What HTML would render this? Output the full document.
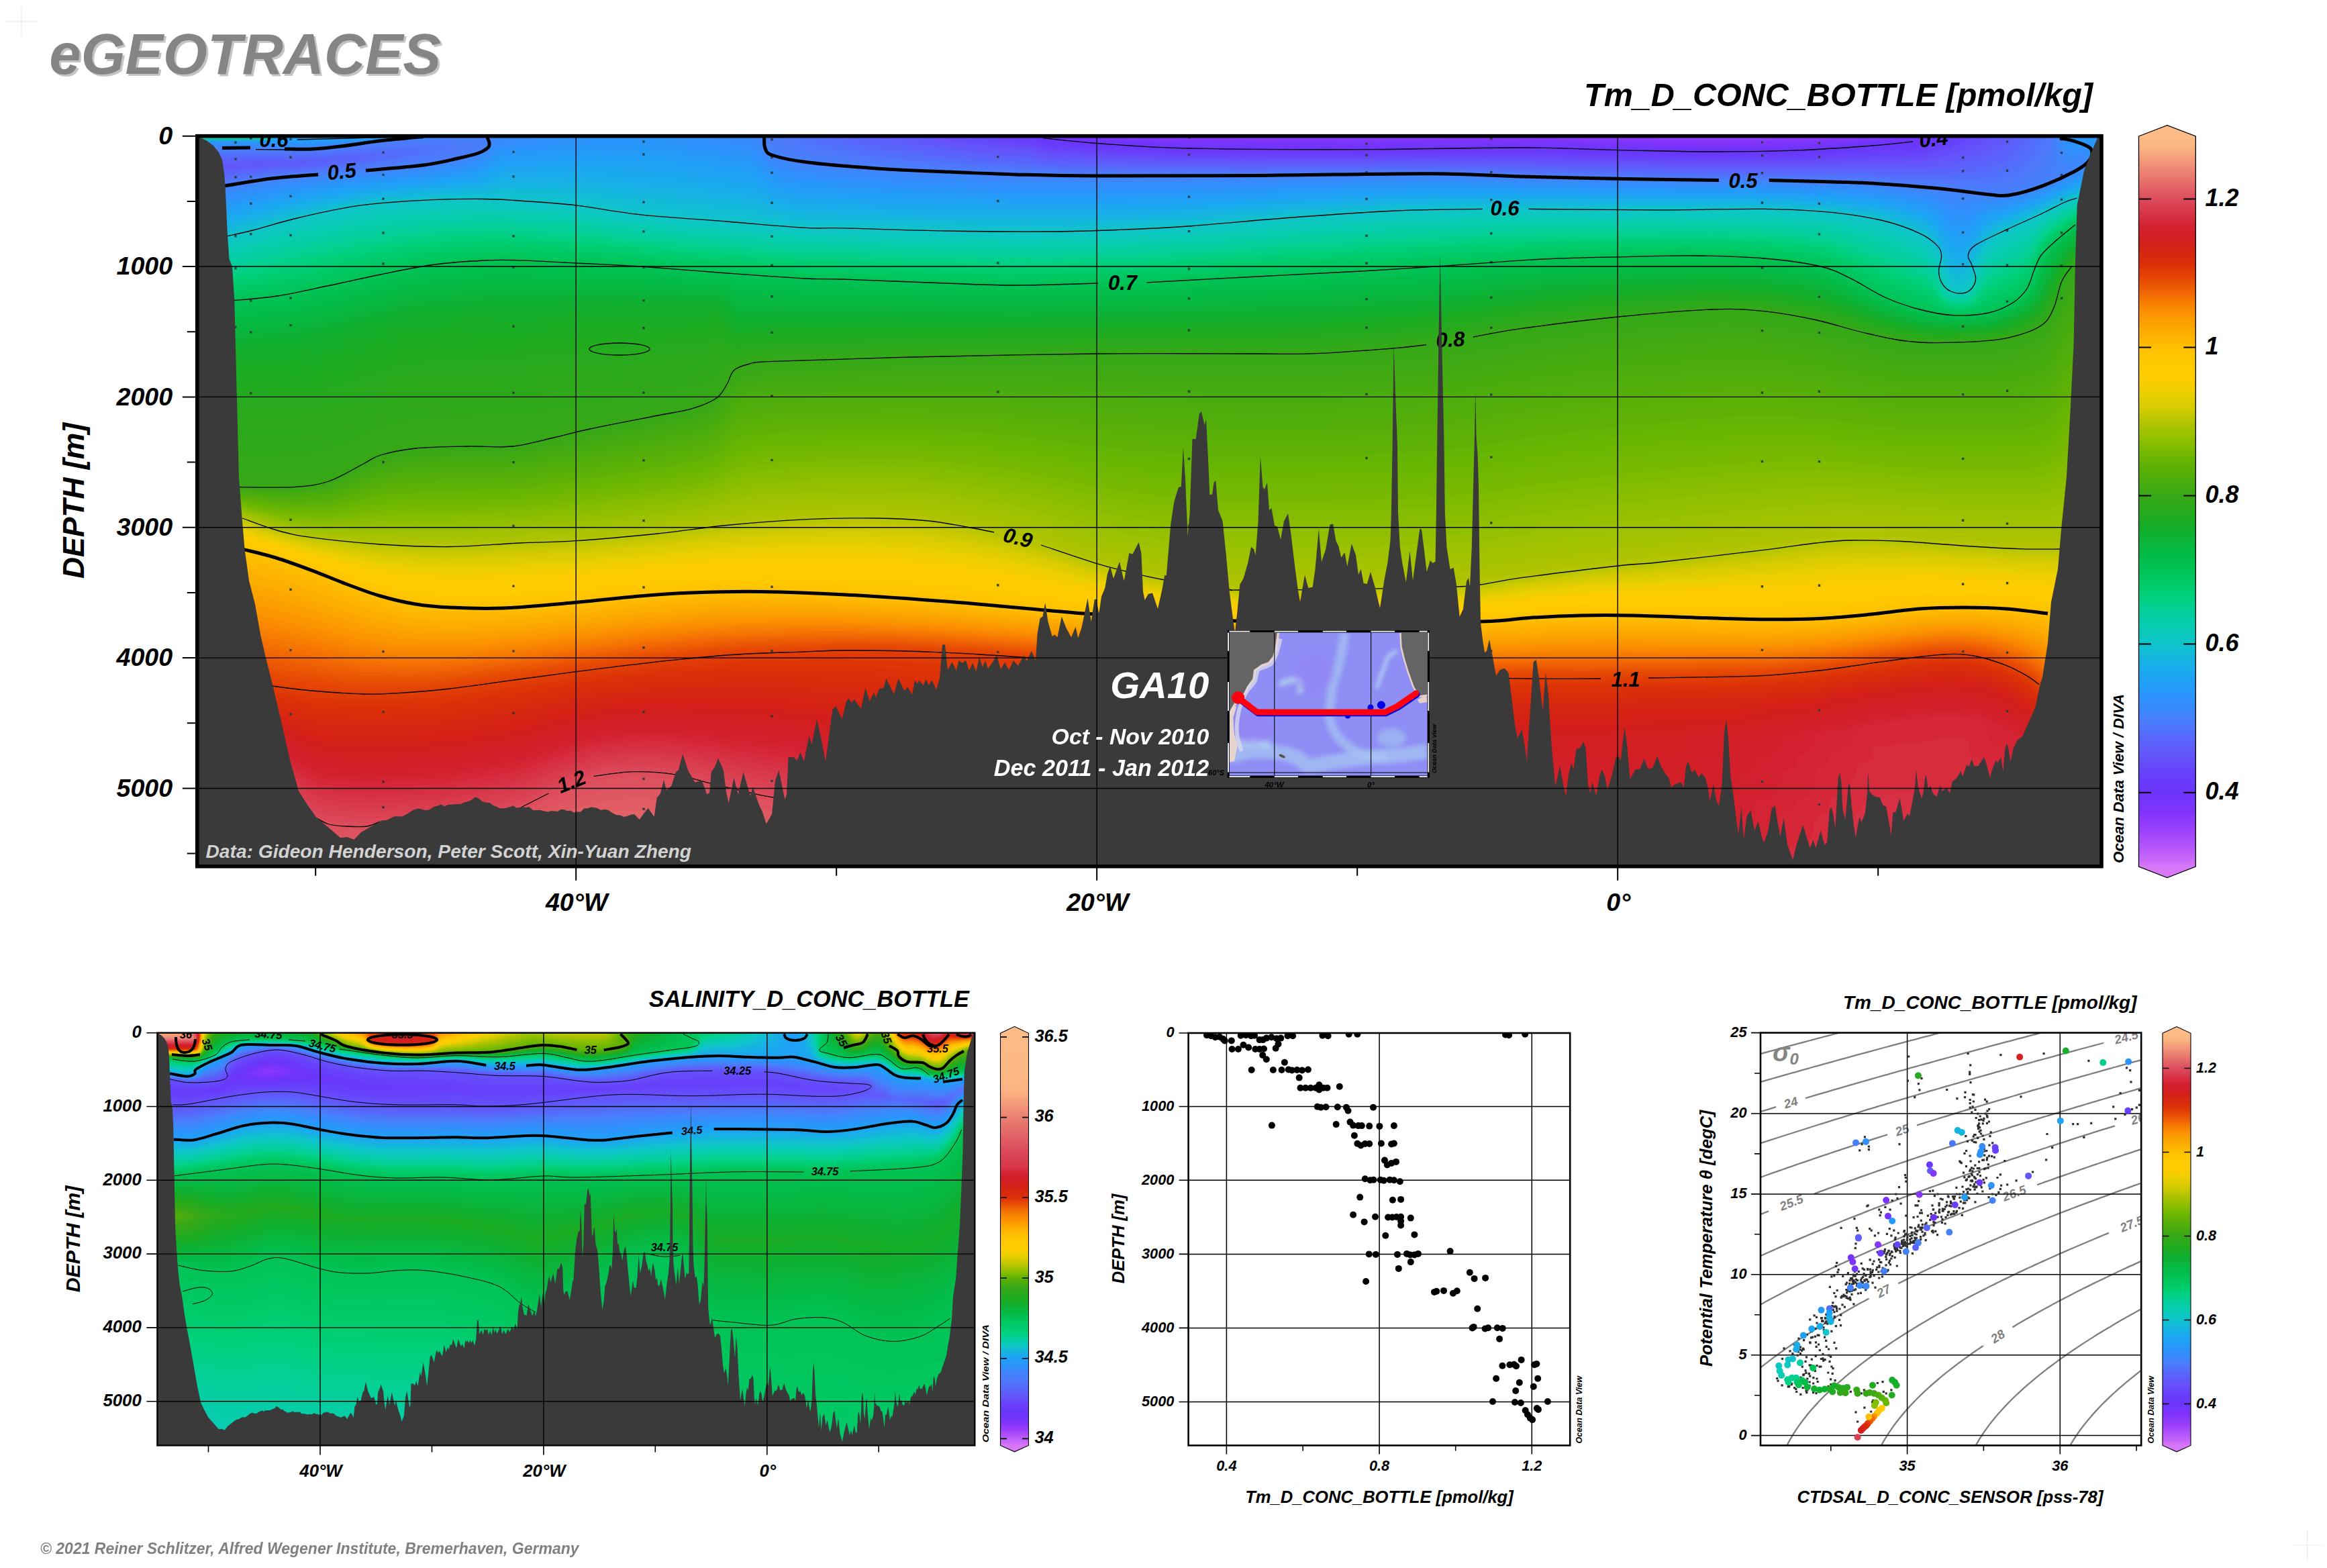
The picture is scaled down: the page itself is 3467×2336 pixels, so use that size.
<!DOCTYPE html><html><head><meta charset="utf-8"><title>eGEOTRACES</title><style>html,body{margin:0;padding:0;background:#fff}svg{display:block}</style></head><body><svg width="3467" height="2336" viewBox="0 0 3467 2336" font-family="'Liberation Sans', sans-serif" font-weight="bold" font-style="italic"><defs><filter id="pal" x="0" y="0" width="1" height="1" color-interpolation-filters="sRGB"><feGaussianBlur stdDeviation="9 2"/><feComponentTransfer><feFuncR type="table" tableValues="0.847 0.805 0.776 0.747 0.718 0.691 0.664 0.637 0.609 0.582 0.555 0.528 0.501 0.482 0.464 0.445 0.426 0.42 0.416 0.412 0.408 0.404 0.4 0.396 0.392 0.381 0.369 0.358 0.346 0.33 0.315 0.299 0.283 0.259 0.235 0.212 0.188 0.173 0.157 0.142 0.126 0.118 0.11 0.102 0.094 0.087 0.08 0.073 0.066 0.058 0.049 0.041 0.032 0.028 0.024 0.02 0.016 0.011 0.007 0.002 0 0 0 0.001 0.004 0.007 0.01 0.013 0.018 0.027 0.036 0.046 0.055 0.066 0.085 0.104 0.123 0.143 0.164 0.184 0.205 0.226 0.249 0.272 0.295 0.318 0.341 0.367 0.395 0.423 0.455 0.492 0.53 0.567 0.605 0.642 0.679 0.721 0.763 0.806 0.843 0.87 0.898 0.926 0.948 0.97 0.992 1 1 1 1 1 1 1 0.998 0.996 0.995 0.993 0.992 0.99 0.989 0.987 0.977 0.968 0.958 0.945 0.931 0.917 0.903 0.889 0.875 0.862 0.855 0.848 0.841 0.833 0.831 0.831 0.831 0.831 0.835 0.84 0.845 0.85 0.855 0.861 0.87 0.881 0.891 0.902 0.913 0.923 0.934 0.945 0.958 0.97 0.983 0.992 0.992 0.992"/><feFuncG type="table" tableValues="0.471 0.429 0.4 0.371 0.342 0.319 0.296 0.272 0.25 0.238 0.227 0.215 0.204 0.204 0.204 0.204 0.204 0.214 0.226 0.239 0.251 0.27 0.29 0.31 0.329 0.349 0.368 0.387 0.406 0.43 0.454 0.478 0.502 0.518 0.533 0.549 0.565 0.58 0.596 0.611 0.627 0.643 0.658 0.674 0.69 0.707 0.725 0.743 0.761 0.774 0.782 0.791 0.799 0.804 0.808 0.812 0.815 0.816 0.816 0.816 0.81 0.801 0.792 0.782 0.773 0.764 0.754 0.745 0.735 0.726 0.717 0.707 0.698 0.689 0.685 0.68 0.675 0.672 0.668 0.665 0.661 0.66 0.666 0.672 0.678 0.683 0.689 0.698 0.707 0.716 0.725 0.735 0.744 0.753 0.758 0.763 0.767 0.775 0.785 0.794 0.802 0.806 0.811 0.816 0.811 0.806 0.802 0.8 0.8 0.8 0.789 0.777 0.765 0.753 0.732 0.711 0.689 0.668 0.643 0.616 0.588 0.558 0.52 0.482 0.444 0.403 0.361 0.32 0.283 0.25 0.218 0.187 0.173 0.158 0.144 0.129 0.125 0.125 0.125 0.125 0.148 0.176 0.204 0.233 0.261 0.29 0.325 0.361 0.398 0.434 0.47 0.506 0.541 0.578 0.616 0.655 0.693 0.723 0.73 0.737"/><feFuncB type="table" tableValues="0.973 0.981 0.984 0.986 0.988 0.988 0.988 0.988 0.988 0.988 0.988 0.988 0.988 0.988 0.988 0.988 0.988 0.988 0.988 0.988 0.988 0.988 0.988 0.988 0.988 0.988 0.988 0.988 0.988 0.988 0.988 0.988 0.988 0.988 0.988 0.988 0.988 0.984 0.98 0.977 0.973 0.957 0.942 0.926 0.91 0.886 0.861 0.836 0.811 0.785 0.759 0.733 0.707 0.68 0.653 0.625 0.598 0.561 0.523 0.486 0.454 0.426 0.398 0.373 0.354 0.335 0.316 0.297 0.279 0.26 0.241 0.222 0.203 0.184 0.166 0.147 0.128 0.12 0.113 0.106 0.099 0.091 0.079 0.068 0.057 0.045 0.034 0.024 0.015 0.005 0 0 0 0 0 0 0 0 0 0 0 0 0 0 0 0 0 0 0 0 0 0 0 0 0 0 0 0 0 0 0 0.001 0.006 0.01 0.015 0.016 0.016 0.016 0.018 0.023 0.027 0.033 0.047 0.061 0.076 0.09 0.111 0.135 0.159 0.183 0.212 0.243 0.274 0.302 0.328 0.354 0.372 0.388 0.404 0.418 0.433 0.447 0.461 0.474 0.483 0.493 0.503 0.513 0.523 0.533"/></feComponentTransfer></filter><filter id="pal2" x="0" y="0" width="1" height="1" color-interpolation-filters="sRGB"><feGaussianBlur stdDeviation="5 1"/><feComponentTransfer><feFuncR type="table" tableValues="0.847 0.805 0.776 0.747 0.718 0.691 0.664 0.637 0.609 0.582 0.555 0.528 0.501 0.482 0.464 0.445 0.426 0.42 0.416 0.412 0.408 0.404 0.4 0.396 0.392 0.381 0.369 0.358 0.346 0.33 0.315 0.299 0.283 0.259 0.235 0.212 0.188 0.173 0.157 0.142 0.126 0.118 0.11 0.102 0.094 0.087 0.08 0.073 0.066 0.058 0.049 0.041 0.032 0.028 0.024 0.02 0.016 0.011 0.007 0.002 0 0 0 0.001 0.004 0.007 0.01 0.013 0.018 0.027 0.036 0.046 0.055 0.066 0.085 0.104 0.123 0.143 0.164 0.184 0.205 0.226 0.249 0.272 0.295 0.318 0.341 0.367 0.395 0.423 0.455 0.492 0.53 0.567 0.605 0.642 0.679 0.721 0.763 0.806 0.843 0.87 0.898 0.926 0.948 0.97 0.992 1 1 1 1 1 1 1 0.998 0.996 0.995 0.993 0.992 0.99 0.989 0.987 0.977 0.968 0.958 0.945 0.931 0.917 0.903 0.889 0.875 0.862 0.855 0.848 0.841 0.833 0.831 0.831 0.831 0.831 0.835 0.84 0.845 0.85 0.855 0.861 0.87 0.881 0.891 0.902 0.913 0.923 0.934 0.945 0.958 0.97 0.983 0.992 0.992 0.992"/><feFuncG type="table" tableValues="0.471 0.429 0.4 0.371 0.342 0.319 0.296 0.272 0.25 0.238 0.227 0.215 0.204 0.204 0.204 0.204 0.204 0.214 0.226 0.239 0.251 0.27 0.29 0.31 0.329 0.349 0.368 0.387 0.406 0.43 0.454 0.478 0.502 0.518 0.533 0.549 0.565 0.58 0.596 0.611 0.627 0.643 0.658 0.674 0.69 0.707 0.725 0.743 0.761 0.774 0.782 0.791 0.799 0.804 0.808 0.812 0.815 0.816 0.816 0.816 0.81 0.801 0.792 0.782 0.773 0.764 0.754 0.745 0.735 0.726 0.717 0.707 0.698 0.689 0.685 0.68 0.675 0.672 0.668 0.665 0.661 0.66 0.666 0.672 0.678 0.683 0.689 0.698 0.707 0.716 0.725 0.735 0.744 0.753 0.758 0.763 0.767 0.775 0.785 0.794 0.802 0.806 0.811 0.816 0.811 0.806 0.802 0.8 0.8 0.8 0.789 0.777 0.765 0.753 0.732 0.711 0.689 0.668 0.643 0.616 0.588 0.558 0.52 0.482 0.444 0.403 0.361 0.32 0.283 0.25 0.218 0.187 0.173 0.158 0.144 0.129 0.125 0.125 0.125 0.125 0.148 0.176 0.204 0.233 0.261 0.29 0.325 0.361 0.398 0.434 0.47 0.506 0.541 0.578 0.616 0.655 0.693 0.723 0.73 0.737"/><feFuncB type="table" tableValues="0.973 0.981 0.984 0.986 0.988 0.988 0.988 0.988 0.988 0.988 0.988 0.988 0.988 0.988 0.988 0.988 0.988 0.988 0.988 0.988 0.988 0.988 0.988 0.988 0.988 0.988 0.988 0.988 0.988 0.988 0.988 0.988 0.988 0.988 0.988 0.988 0.988 0.984 0.98 0.977 0.973 0.957 0.942 0.926 0.91 0.886 0.861 0.836 0.811 0.785 0.759 0.733 0.707 0.68 0.653 0.625 0.598 0.561 0.523 0.486 0.454 0.426 0.398 0.373 0.354 0.335 0.316 0.297 0.279 0.26 0.241 0.222 0.203 0.184 0.166 0.147 0.128 0.12 0.113 0.106 0.099 0.091 0.079 0.068 0.057 0.045 0.034 0.024 0.015 0.005 0 0 0 0 0 0 0 0 0 0 0 0 0 0 0 0 0 0 0 0 0 0 0 0 0 0 0 0 0 0 0 0.001 0.006 0.01 0.015 0.016 0.016 0.016 0.018 0.023 0.027 0.033 0.047 0.061 0.076 0.09 0.111 0.135 0.159 0.183 0.212 0.243 0.274 0.302 0.328 0.354 0.372 0.388 0.404 0.418 0.433 0.447 0.461 0.474 0.483 0.493 0.503 0.513 0.523 0.533"/></feComponentTransfer></filter><filter id="palnb" x="0" y="0" width="1" height="1" color-interpolation-filters="sRGB"><feComponentTransfer><feFuncR type="table" tableValues="0.847 0.805 0.776 0.747 0.718 0.691 0.664 0.637 0.609 0.582 0.555 0.528 0.501 0.482 0.464 0.445 0.426 0.42 0.416 0.412 0.408 0.404 0.4 0.396 0.392 0.381 0.369 0.358 0.346 0.33 0.315 0.299 0.283 0.259 0.235 0.212 0.188 0.173 0.157 0.142 0.126 0.118 0.11 0.102 0.094 0.087 0.08 0.073 0.066 0.058 0.049 0.041 0.032 0.028 0.024 0.02 0.016 0.011 0.007 0.002 0 0 0 0.001 0.004 0.007 0.01 0.013 0.018 0.027 0.036 0.046 0.055 0.066 0.085 0.104 0.123 0.143 0.164 0.184 0.205 0.226 0.249 0.272 0.295 0.318 0.341 0.367 0.395 0.423 0.455 0.492 0.53 0.567 0.605 0.642 0.679 0.721 0.763 0.806 0.843 0.87 0.898 0.926 0.948 0.97 0.992 1 1 1 1 1 1 1 0.998 0.996 0.995 0.993 0.992 0.99 0.989 0.987 0.977 0.968 0.958 0.945 0.931 0.917 0.903 0.889 0.875 0.862 0.855 0.848 0.841 0.833 0.831 0.831 0.831 0.831 0.835 0.84 0.845 0.85 0.855 0.861 0.87 0.881 0.891 0.902 0.913 0.923 0.934 0.945 0.958 0.97 0.983 0.992 0.992 0.992"/><feFuncG type="table" tableValues="0.471 0.429 0.4 0.371 0.342 0.319 0.296 0.272 0.25 0.238 0.227 0.215 0.204 0.204 0.204 0.204 0.204 0.214 0.226 0.239 0.251 0.27 0.29 0.31 0.329 0.349 0.368 0.387 0.406 0.43 0.454 0.478 0.502 0.518 0.533 0.549 0.565 0.58 0.596 0.611 0.627 0.643 0.658 0.674 0.69 0.707 0.725 0.743 0.761 0.774 0.782 0.791 0.799 0.804 0.808 0.812 0.815 0.816 0.816 0.816 0.81 0.801 0.792 0.782 0.773 0.764 0.754 0.745 0.735 0.726 0.717 0.707 0.698 0.689 0.685 0.68 0.675 0.672 0.668 0.665 0.661 0.66 0.666 0.672 0.678 0.683 0.689 0.698 0.707 0.716 0.725 0.735 0.744 0.753 0.758 0.763 0.767 0.775 0.785 0.794 0.802 0.806 0.811 0.816 0.811 0.806 0.802 0.8 0.8 0.8 0.789 0.777 0.765 0.753 0.732 0.711 0.689 0.668 0.643 0.616 0.588 0.558 0.52 0.482 0.444 0.403 0.361 0.32 0.283 0.25 0.218 0.187 0.173 0.158 0.144 0.129 0.125 0.125 0.125 0.125 0.148 0.176 0.204 0.233 0.261 0.29 0.325 0.361 0.398 0.434 0.47 0.506 0.541 0.578 0.616 0.655 0.693 0.723 0.73 0.737"/><feFuncB type="table" tableValues="0.973 0.981 0.984 0.986 0.988 0.988 0.988 0.988 0.988 0.988 0.988 0.988 0.988 0.988 0.988 0.988 0.988 0.988 0.988 0.988 0.988 0.988 0.988 0.988 0.988 0.988 0.988 0.988 0.988 0.988 0.988 0.988 0.988 0.988 0.988 0.988 0.988 0.984 0.98 0.977 0.973 0.957 0.942 0.926 0.91 0.886 0.861 0.836 0.811 0.785 0.759 0.733 0.707 0.68 0.653 0.625 0.598 0.561 0.523 0.486 0.454 0.426 0.398 0.373 0.354 0.335 0.316 0.297 0.279 0.26 0.241 0.222 0.203 0.184 0.166 0.147 0.128 0.12 0.113 0.106 0.099 0.091 0.079 0.068 0.057 0.045 0.034 0.024 0.015 0.005 0 0 0 0 0 0 0 0 0 0 0 0 0 0 0 0 0 0 0 0 0 0 0 0 0 0 0 0 0 0 0 0.001 0.006 0.01 0.015 0.016 0.016 0.016 0.018 0.023 0.027 0.033 0.047 0.061 0.076 0.09 0.111 0.135 0.159 0.183 0.212 0.243 0.274 0.302 0.328 0.354 0.372 0.388 0.404 0.418 0.433 0.447 0.461 0.474 0.483 0.493 0.503 0.513 0.523 0.533"/></feComponentTransfer></filter><linearGradient id="m0" x1="0" y1="0" x2="0" y2="1"><stop offset=".004" stop-color="#4e4e4e"/><stop offset=".008" stop-color="#434343"/><stop offset=".022" stop-color="#343434"/><stop offset=".047" stop-color="#272727"/><stop offset=".073" stop-color="#343434"/><stop offset=".152" stop-color="#4e4e4e"/><stop offset=".231" stop-color="#686868"/><stop offset=".298" stop-color="#767676"/><stop offset=".380" stop-color="#7d7d7d"/><stop offset=".479" stop-color="#818181"/><stop offset=".501" stop-color="#9b9b9b"/><stop offset=".547" stop-color="#b5b5b5"/><stop offset=".728" stop-color="#cfcfcf"/><stop offset=".837" stop-color="#e9e9e9"/><stop offset="1" stop-color="#f2f2f2"/></linearGradient><linearGradient id="m1" x1="0" y1="0" x2="0" y2="1"><stop offset=".004" stop-color="#4e4e4e"/><stop offset=".008" stop-color="#434343"/><stop offset=".022" stop-color="#343434"/><stop offset=".047" stop-color="#272727"/><stop offset=".073" stop-color="#343434"/><stop offset=".152" stop-color="#4e4e4e"/><stop offset=".231" stop-color="#686868"/><stop offset=".298" stop-color="#767676"/><stop offset=".380" stop-color="#7d7d7d"/><stop offset=".479" stop-color="#818181"/><stop offset=".502" stop-color="#9b9b9b"/><stop offset=".547" stop-color="#b5b5b5"/><stop offset=".728" stop-color="#cfcfcf"/><stop offset=".838" stop-color="#e9e9e9"/><stop offset="1" stop-color="#f2f2f2"/></linearGradient><linearGradient id="m2" x1="0" y1="0" x2="0" y2="1"><stop offset=".004" stop-color="#4e4e4e"/><stop offset=".008" stop-color="#434343"/><stop offset=".022" stop-color="#343434"/><stop offset=".047" stop-color="#272727"/><stop offset=".073" stop-color="#343434"/><stop offset=".148" stop-color="#4e4e4e"/><stop offset=".230" stop-color="#686868"/><stop offset=".297" stop-color="#767676"/><stop offset=".379" stop-color="#7d7d7d"/><stop offset=".479" stop-color="#818181"/><stop offset=".507" stop-color="#9b9b9b"/><stop offset=".551" stop-color="#b5b5b5"/><stop offset=".731" stop-color="#cfcfcf"/><stop offset=".844" stop-color="#e9e9e9"/><stop offset="1" stop-color="#f2f2f2"/></linearGradient><linearGradient id="m3" x1="0" y1="0" x2="0" y2="1"><stop offset=".004" stop-color="#4e4e4e"/><stop offset=".008" stop-color="#434343"/><stop offset=".022" stop-color="#343434"/><stop offset=".047" stop-color="#272727"/><stop offset=".073" stop-color="#343434"/><stop offset=".144" stop-color="#4e4e4e"/><stop offset=".229" stop-color="#686868"/><stop offset=".296" stop-color="#767676"/><stop offset=".379" stop-color="#7d7d7d"/><stop offset=".479" stop-color="#818181"/><stop offset=".511" stop-color="#9b9b9b"/><stop offset=".555" stop-color="#b5b5b5"/><stop offset=".734" stop-color="#cfcfcf"/><stop offset=".850" stop-color="#e9e9e9"/><stop offset="1" stop-color="#f2f2f2"/></linearGradient><linearGradient id="m4" x1="0" y1="0" x2="0" y2="1"><stop offset=".004" stop-color="#4e4e4e"/><stop offset=".008" stop-color="#434343"/><stop offset=".021" stop-color="#343434"/><stop offset=".047" stop-color="#272727"/><stop offset=".072" stop-color="#343434"/><stop offset=".141" stop-color="#4e4e4e"/><stop offset=".228" stop-color="#686868"/><stop offset=".296" stop-color="#767676"/><stop offset=".378" stop-color="#7d7d7d"/><stop offset=".479" stop-color="#818181"/><stop offset=".516" stop-color="#9b9b9b"/><stop offset=".558" stop-color="#b5b5b5"/><stop offset=".737" stop-color="#cfcfcf"/><stop offset=".856" stop-color="#e9e9e9"/><stop offset="1" stop-color="#f2f2f2"/></linearGradient><linearGradient id="m5" x1="0" y1="0" x2="0" y2="1"><stop offset=".004" stop-color="#4e4e4e"/><stop offset=".008" stop-color="#434343"/><stop offset=".021" stop-color="#343434"/><stop offset=".045" stop-color="#272727"/><stop offset=".069" stop-color="#343434"/><stop offset=".137" stop-color="#4e4e4e"/><stop offset=".226" stop-color="#686868"/><stop offset=".295" stop-color="#767676"/><stop offset=".378" stop-color="#7d7d7d"/><stop offset=".479" stop-color="#818181"/><stop offset=".520" stop-color="#9b9b9b"/><stop offset=".562" stop-color="#b5b5b5"/><stop offset=".740" stop-color="#cfcfcf"/><stop offset=".861" stop-color="#e9e9e9"/><stop offset="1" stop-color="#f2f2f2"/></linearGradient><linearGradient id="m6" x1="0" y1="0" x2="0" y2="1"><stop offset=".004" stop-color="#4e4e4e"/><stop offset=".008" stop-color="#434343"/><stop offset=".021" stop-color="#343434"/><stop offset=".044" stop-color="#272727"/><stop offset=".067" stop-color="#343434"/><stop offset=".133" stop-color="#4e4e4e"/><stop offset=".225" stop-color="#686868"/><stop offset=".294" stop-color="#767676"/><stop offset=".377" stop-color="#7d7d7d"/><stop offset=".479" stop-color="#818181"/><stop offset=".525" stop-color="#9b9b9b"/><stop offset=".566" stop-color="#b5b5b5"/><stop offset=".743" stop-color="#cfcfcf"/><stop offset=".867" stop-color="#e9e9e9"/><stop offset="1" stop-color="#f2f2f2"/></linearGradient><linearGradient id="m7" x1="0" y1="0" x2="0" y2="1"><stop offset=".004" stop-color="#4e4e4e"/><stop offset=".008" stop-color="#434343"/><stop offset=".022" stop-color="#343434"/><stop offset=".043" stop-color="#272727"/><stop offset=".065" stop-color="#343434"/><stop offset=".129" stop-color="#4e4e4e"/><stop offset=".223" stop-color="#686868"/><stop offset=".292" stop-color="#767676"/><stop offset=".377" stop-color="#7d7d7d"/><stop offset=".479" stop-color="#818181"/><stop offset=".530" stop-color="#9b9b9b"/><stop offset=".570" stop-color="#b5b5b5"/><stop offset=".745" stop-color="#cfcfcf"/><stop offset=".873" stop-color="#e9e9e9"/><stop offset="1" stop-color="#f2f2f2"/></linearGradient><linearGradient id="m8" x1="0" y1="0" x2="0" y2="1"><stop offset=".004" stop-color="#4e4e4e"/><stop offset=".008" stop-color="#434343"/><stop offset=".022" stop-color="#343434"/><stop offset=".042" stop-color="#282828"/><stop offset=".063" stop-color="#343434"/><stop offset=".125" stop-color="#4e4e4e"/><stop offset=".222" stop-color="#686868"/><stop offset=".291" stop-color="#767676"/><stop offset=".376" stop-color="#7d7d7d"/><stop offset=".479" stop-color="#818181"/><stop offset=".535" stop-color="#9b9b9b"/><stop offset=".573" stop-color="#b5b5b5"/><stop offset=".748" stop-color="#cfcfcf"/><stop offset=".881" stop-color="#e9e9e9"/><stop offset="1" stop-color="#f2f2f2"/></linearGradient><linearGradient id="m9" x1="0" y1="0" x2="0" y2="1"><stop offset=".004" stop-color="#4e4e4e"/><stop offset=".008" stop-color="#434343"/><stop offset=".023" stop-color="#343434"/><stop offset=".042" stop-color="#282828"/><stop offset=".061" stop-color="#343434"/><stop offset=".121" stop-color="#4e4e4e"/><stop offset=".220" stop-color="#686868"/><stop offset=".290" stop-color="#767676"/><stop offset=".375" stop-color="#7d7d7d"/><stop offset=".479" stop-color="#818181"/><stop offset=".539" stop-color="#9b9b9b"/><stop offset=".578" stop-color="#b5b5b5"/><stop offset=".749" stop-color="#cfcfcf"/><stop offset=".892" stop-color="#e9e9e9"/><stop offset="1" stop-color="#f2f2f2"/></linearGradient><linearGradient id="m10" x1="0" y1="0" x2="0" y2="1"><stop offset=".004" stop-color="#4e4e4e"/><stop offset=".008" stop-color="#434343"/><stop offset=".023" stop-color="#343434"/><stop offset=".042" stop-color="#282828"/><stop offset=".060" stop-color="#343434"/><stop offset=".117" stop-color="#4e4e4e"/><stop offset=".217" stop-color="#686868"/><stop offset=".288" stop-color="#767676"/><stop offset=".374" stop-color="#7d7d7d"/><stop offset=".479" stop-color="#818181"/><stop offset=".542" stop-color="#9b9b9b"/><stop offset=".583" stop-color="#b5b5b5"/><stop offset=".751" stop-color="#cfcfcf"/><stop offset=".903" stop-color="#e9e9e9"/><stop offset="1" stop-color="#f2f2f2"/></linearGradient><linearGradient id="m11" x1="0" y1="0" x2="0" y2="1"><stop offset=".004" stop-color="#4e4e4e"/><stop offset=".008" stop-color="#434343"/><stop offset=".023" stop-color="#343434"/><stop offset=".041" stop-color="#282828"/><stop offset=".059" stop-color="#343434"/><stop offset=".114" stop-color="#4e4e4e"/><stop offset=".214" stop-color="#686868"/><stop offset=".285" stop-color="#767676"/><stop offset=".372" stop-color="#7d7d7d"/><stop offset=".477" stop-color="#818181"/><stop offset=".545" stop-color="#9b9b9b"/><stop offset=".588" stop-color="#b5b5b5"/><stop offset=".753" stop-color="#cfcfcf"/><stop offset=".915" stop-color="#e9e9e9"/><stop offset="1" stop-color="#f1f1f1"/></linearGradient><linearGradient id="m12" x1="0" y1="0" x2="0" y2="1"><stop offset=".004" stop-color="#4e4e4e"/><stop offset=".008" stop-color="#434343"/><stop offset=".023" stop-color="#343434"/><stop offset=".040" stop-color="#292929"/><stop offset=".058" stop-color="#343434"/><stop offset=".111" stop-color="#4e4e4e"/><stop offset=".211" stop-color="#686868"/><stop offset=".282" stop-color="#767676"/><stop offset=".369" stop-color="#7d7d7d"/><stop offset=".474" stop-color="#818181"/><stop offset=".548" stop-color="#9b9b9b"/><stop offset=".593" stop-color="#b5b5b5"/><stop offset=".754" stop-color="#cfcfcf"/><stop offset=".927" stop-color="#e9e9e9"/><stop offset="1" stop-color="#f0f0f0"/></linearGradient><linearGradient id="m13" x1="0" y1="0" x2="0" y2="1"><stop offset=".004" stop-color="#4e4e4e"/><stop offset=".008" stop-color="#434343"/><stop offset=".021" stop-color="#343434"/><stop offset=".039" stop-color="#2a2a2a"/><stop offset=".056" stop-color="#343434"/><stop offset=".108" stop-color="#4e4e4e"/><stop offset=".208" stop-color="#686868"/><stop offset=".279" stop-color="#767676"/><stop offset=".366" stop-color="#7d7d7d"/><stop offset=".472" stop-color="#818181"/><stop offset=".549" stop-color="#9b9b9b"/><stop offset=".599" stop-color="#b5b5b5"/><stop offset=".755" stop-color="#cfcfcf"/><stop offset=".933" stop-color="#e9e9e9"/><stop offset="1" stop-color="#efefef"/></linearGradient><linearGradient id="m14" x1="0" y1="0" x2="0" y2="1"><stop offset=".004" stop-color="#4e4e4e"/><stop offset=".008" stop-color="#434343"/><stop offset=".020" stop-color="#343434"/><stop offset=".037" stop-color="#2a2a2a"/><stop offset=".055" stop-color="#343434"/><stop offset=".105" stop-color="#4e4e4e"/><stop offset=".205" stop-color="#686868"/><stop offset=".275" stop-color="#767676"/><stop offset=".362" stop-color="#7d7d7d"/><stop offset=".466" stop-color="#818181"/><stop offset=".550" stop-color="#9b9b9b"/><stop offset=".605" stop-color="#b5b5b5"/><stop offset=".756" stop-color="#cfcfcf"/><stop offset=".934" stop-color="#e9e9e9"/><stop offset="1" stop-color="#efefef"/></linearGradient><linearGradient id="m15" x1="0" y1="0" x2="0" y2="1"><stop offset=".004" stop-color="#4e4e4e"/><stop offset=".008" stop-color="#434343"/><stop offset=".018" stop-color="#343434"/><stop offset=".036" stop-color="#2b2b2b"/><stop offset=".054" stop-color="#343434"/><stop offset=".102" stop-color="#4e4e4e"/><stop offset=".202" stop-color="#686868"/><stop offset=".271" stop-color="#767676"/><stop offset=".356" stop-color="#7d7d7d"/><stop offset=".459" stop-color="#818181"/><stop offset=".552" stop-color="#9b9b9b"/><stop offset=".611" stop-color="#b5b5b5"/><stop offset=".757" stop-color="#cfcfcf"/><stop offset=".935" stop-color="#e9e9e9"/><stop offset="1" stop-color="#efefef"/></linearGradient><linearGradient id="m16" x1="0" y1="0" x2="0" y2="1"><stop offset=".004" stop-color="#4e4e4e"/><stop offset=".008" stop-color="#434343"/><stop offset=".016" stop-color="#343434"/><stop offset=".034" stop-color="#2b2b2b"/><stop offset=".053" stop-color="#343434"/><stop offset=".100" stop-color="#4e4e4e"/><stop offset=".199" stop-color="#686868"/><stop offset=".267" stop-color="#767676"/><stop offset=".350" stop-color="#7d7d7d"/><stop offset=".451" stop-color="#818181"/><stop offset=".553" stop-color="#9b9b9b"/><stop offset=".616" stop-color="#b5b5b5"/><stop offset=".758" stop-color="#cfcfcf"/><stop offset=".936" stop-color="#e9e9e9"/><stop offset="1" stop-color="#efefef"/></linearGradient><linearGradient id="m17" x1="0" y1="0" x2="0" y2="1"><stop offset=".004" stop-color="#4e4e4e"/><stop offset=".008" stop-color="#434343"/><stop offset=".014" stop-color="#343434"/><stop offset=".033" stop-color="#2c2c2c"/><stop offset=".051" stop-color="#343434"/><stop offset=".098" stop-color="#4e4e4e"/><stop offset=".196" stop-color="#686868"/><stop offset=".263" stop-color="#767676"/><stop offset=".345" stop-color="#7d7d7d"/><stop offset=".444" stop-color="#818181"/><stop offset=".555" stop-color="#9b9b9b"/><stop offset=".621" stop-color="#b5b5b5"/><stop offset=".758" stop-color="#cfcfcf"/><stop offset=".937" stop-color="#e9e9e9"/><stop offset="1" stop-color="#eeeeee"/></linearGradient><linearGradient id="m18" x1="0" y1="0" x2="0" y2="1"><stop offset=".004" stop-color="#4e4e4e"/><stop offset=".008" stop-color="#434343"/><stop offset=".012" stop-color="#343434"/><stop offset=".031" stop-color="#2d2d2d"/><stop offset=".050" stop-color="#343434"/><stop offset=".096" stop-color="#4e4e4e"/><stop offset=".193" stop-color="#686868"/><stop offset=".258" stop-color="#767676"/><stop offset=".339" stop-color="#7d7d7d"/><stop offset=".437" stop-color="#818181"/><stop offset=".556" stop-color="#9b9b9b"/><stop offset=".626" stop-color="#b5b5b5"/><stop offset=".758" stop-color="#cfcfcf"/><stop offset=".936" stop-color="#e9e9e9"/><stop offset="1" stop-color="#efefef"/></linearGradient><linearGradient id="m19" x1="0" y1="0" x2="0" y2="1"><stop offset=".004" stop-color="#4e4e4e"/><stop offset=".008" stop-color="#434343"/><stop offset=".011" stop-color="#343434"/><stop offset=".030" stop-color="#2d2d2d"/><stop offset=".049" stop-color="#343434"/><stop offset=".095" stop-color="#4e4e4e"/><stop offset=".190" stop-color="#686868"/><stop offset=".256" stop-color="#767676"/><stop offset=".336" stop-color="#7d7d7d"/><stop offset=".433" stop-color="#818181"/><stop offset=".557" stop-color="#9b9b9b"/><stop offset=".629" stop-color="#b5b5b5"/><stop offset=".757" stop-color="#cfcfcf"/><stop offset=".935" stop-color="#e9e9e9"/><stop offset="1" stop-color="#efefef"/></linearGradient><linearGradient id="m20" x1="0" y1="0" x2="0" y2="1"><stop offset=".004" stop-color="#4e4e4e"/><stop offset=".008" stop-color="#434343"/><stop offset=".009" stop-color="#343434"/><stop offset=".028" stop-color="#2e2e2e"/><stop offset=".047" stop-color="#343434"/><stop offset=".094" stop-color="#4e4e4e"/><stop offset=".187" stop-color="#686868"/><stop offset=".253" stop-color="#767676"/><stop offset=".333" stop-color="#7d7d7d"/><stop offset=".431" stop-color="#818181"/><stop offset=".557" stop-color="#9b9b9b"/><stop offset=".633" stop-color="#b5b5b5"/><stop offset=".757" stop-color="#cfcfcf"/><stop offset=".935" stop-color="#e9e9e9"/><stop offset="1" stop-color="#efefef"/></linearGradient><linearGradient id="m21" x1="0" y1="0" x2="0" y2="1"><stop offset=".004" stop-color="#4e4e4e"/><stop offset=".008" stop-color="#434343"/><stop offset=".008" stop-color="#343434"/><stop offset=".027" stop-color="#2f2f2f"/><stop offset=".046" stop-color="#343434"/><stop offset=".093" stop-color="#4e4e4e"/><stop offset=".184" stop-color="#686868"/><stop offset=".250" stop-color="#767676"/><stop offset=".330" stop-color="#7d7d7d"/><stop offset=".428" stop-color="#818181"/><stop offset=".558" stop-color="#9b9b9b"/><stop offset=".636" stop-color="#b5b5b5"/><stop offset=".756" stop-color="#cfcfcf"/><stop offset=".934" stop-color="#e9e9e9"/><stop offset="1" stop-color="#efefef"/></linearGradient><linearGradient id="m22" x1="0" y1="0" x2="0" y2="1"><stop offset=".004" stop-color="#4e4e4e"/><stop offset=".008" stop-color="#434343"/><stop offset=".006" stop-color="#343434"/><stop offset=".025" stop-color="#2f2f2f"/><stop offset=".045" stop-color="#343434"/><stop offset=".092" stop-color="#4e4e4e"/><stop offset=".182" stop-color="#686868"/><stop offset=".248" stop-color="#767676"/><stop offset=".329" stop-color="#7d7d7d"/><stop offset=".427" stop-color="#818181"/><stop offset=".558" stop-color="#9b9b9b"/><stop offset=".638" stop-color="#b5b5b5"/><stop offset=".754" stop-color="#cfcfcf"/><stop offset=".933" stop-color="#e9e9e9"/><stop offset="1" stop-color="#efefef"/></linearGradient><linearGradient id="m23" x1="0" y1="0" x2="0" y2="1"><stop offset=".005" stop-color="#343434"/><stop offset=".024" stop-color="#303030"/><stop offset=".042" stop-color="#343434"/><stop offset=".091" stop-color="#4e4e4e"/><stop offset=".179" stop-color="#686868"/><stop offset=".246" stop-color="#767676"/><stop offset=".327" stop-color="#7d7d7d"/><stop offset=".426" stop-color="#818181"/><stop offset=".559" stop-color="#9b9b9b"/><stop offset=".639" stop-color="#b5b5b5"/><stop offset=".753" stop-color="#cfcfcf"/><stop offset=".933" stop-color="#e9e9e9"/><stop offset="1" stop-color="#efefef"/></linearGradient><linearGradient id="m24" x1="0" y1="0" x2="0" y2="1"><stop offset=".005" stop-color="#343434"/><stop offset=".022" stop-color="#303030"/><stop offset=".039" stop-color="#343434"/><stop offset=".091" stop-color="#4e4e4e"/><stop offset=".178" stop-color="#686868"/><stop offset=".245" stop-color="#767676"/><stop offset=".326" stop-color="#7d7d7d"/><stop offset=".425" stop-color="#818181"/><stop offset=".559" stop-color="#9b9b9b"/><stop offset=".641" stop-color="#b5b5b5"/><stop offset=".752" stop-color="#cfcfcf"/><stop offset=".930" stop-color="#e9e9e9"/><stop offset="1" stop-color="#efefef"/></linearGradient><linearGradient id="m25" x1="0" y1="0" x2="0" y2="1"><stop offset=".005" stop-color="#343434"/><stop offset=".021" stop-color="#313131"/><stop offset=".036" stop-color="#343434"/><stop offset=".091" stop-color="#4e4e4e"/><stop offset=".177" stop-color="#686868"/><stop offset=".244" stop-color="#767676"/><stop offset=".326" stop-color="#7d7d7d"/><stop offset=".425" stop-color="#818181"/><stop offset=".559" stop-color="#9b9b9b"/><stop offset=".642" stop-color="#b5b5b5"/><stop offset=".750" stop-color="#cfcfcf"/><stop offset=".928" stop-color="#e9e9e9"/><stop offset="1" stop-color="#efefef"/></linearGradient><linearGradient id="m26" x1="0" y1="0" x2="0" y2="1"><stop offset=".005" stop-color="#343434"/><stop offset=".019" stop-color="#323232"/><stop offset=".033" stop-color="#343434"/><stop offset=".091" stop-color="#4e4e4e"/><stop offset=".175" stop-color="#686868"/><stop offset=".243" stop-color="#767676"/><stop offset=".325" stop-color="#7d7d7d"/><stop offset=".424" stop-color="#818181"/><stop offset=".558" stop-color="#9b9b9b"/><stop offset=".642" stop-color="#b5b5b5"/><stop offset=".748" stop-color="#cfcfcf"/><stop offset=".925" stop-color="#e9e9e9"/><stop offset="1" stop-color="#f0f0f0"/></linearGradient><linearGradient id="m27" x1="0" y1="0" x2="0" y2="1"><stop offset=".005" stop-color="#343434"/><stop offset=".017" stop-color="#323232"/><stop offset=".029" stop-color="#343434"/><stop offset=".091" stop-color="#4e4e4e"/><stop offset=".174" stop-color="#686868"/><stop offset=".242" stop-color="#767676"/><stop offset=".324" stop-color="#7d7d7d"/><stop offset=".424" stop-color="#818181"/><stop offset=".558" stop-color="#9b9b9b"/><stop offset=".642" stop-color="#b5b5b5"/><stop offset=".746" stop-color="#cfcfcf"/><stop offset=".922" stop-color="#e9e9e9"/><stop offset="1" stop-color="#f0f0f0"/></linearGradient><linearGradient id="m28" x1="0" y1="0" x2="0" y2="1"><stop offset=".005" stop-color="#343434"/><stop offset=".011" stop-color="#333333"/><stop offset=".018" stop-color="#343434"/><stop offset=".091" stop-color="#4e4e4e"/><stop offset=".173" stop-color="#686868"/><stop offset=".241" stop-color="#767676"/><stop offset=".324" stop-color="#7d7d7d"/><stop offset=".424" stop-color="#818181"/><stop offset=".557" stop-color="#9b9b9b"/><stop offset=".642" stop-color="#b5b5b5"/><stop offset=".744" stop-color="#cfcfcf"/><stop offset=".920" stop-color="#e9e9e9"/><stop offset="1" stop-color="#f0f0f0"/></linearGradient><linearGradient id="m29" x1="0" y1="0" x2="0" y2="1"><stop offset=".005" stop-color="#363636"/><stop offset=".091" stop-color="#4e4e4e"/><stop offset=".173" stop-color="#686868"/><stop offset=".241" stop-color="#767676"/><stop offset=".324" stop-color="#7d7d7d"/><stop offset=".424" stop-color="#818181"/><stop offset=".556" stop-color="#9b9b9b"/><stop offset=".642" stop-color="#b5b5b5"/><stop offset=".742" stop-color="#cfcfcf"/><stop offset=".917" stop-color="#e9e9e9"/><stop offset="1" stop-color="#f0f0f0"/></linearGradient><linearGradient id="m30" x1="0" y1="0" x2="0" y2="1"><stop offset=".005" stop-color="#363636"/><stop offset=".092" stop-color="#4e4e4e"/><stop offset=".173" stop-color="#686868"/><stop offset=".241" stop-color="#767676"/><stop offset=".324" stop-color="#7d7d7d"/><stop offset=".424" stop-color="#818181"/><stop offset=".555" stop-color="#9b9b9b"/><stop offset=".642" stop-color="#b5b5b5"/><stop offset=".740" stop-color="#cfcfcf"/><stop offset=".915" stop-color="#e9e9e9"/><stop offset="1" stop-color="#f1f1f1"/></linearGradient><linearGradient id="m31" x1="0" y1="0" x2="0" y2="1"><stop offset=".005" stop-color="#373737"/><stop offset=".093" stop-color="#4e4e4e"/><stop offset=".173" stop-color="#686868"/><stop offset=".240" stop-color="#767676"/><stop offset=".323" stop-color="#7d7d7d"/><stop offset=".422" stop-color="#818181"/><stop offset=".555" stop-color="#9b9b9b"/><stop offset=".641" stop-color="#b5b5b5"/><stop offset=".738" stop-color="#cfcfcf"/><stop offset=".912" stop-color="#e9e9e9"/><stop offset="1" stop-color="#f1f1f1"/></linearGradient><linearGradient id="m32" x1="0" y1="0" x2="0" y2="1"><stop offset=".005" stop-color="#373737"/><stop offset=".094" stop-color="#4e4e4e"/><stop offset=".174" stop-color="#686868"/><stop offset=".240" stop-color="#767676"/><stop offset=".321" stop-color="#7d7d7d"/><stop offset=".419" stop-color="#818181"/><stop offset=".554" stop-color="#9b9b9b"/><stop offset=".640" stop-color="#b5b5b5"/><stop offset=".737" stop-color="#cfcfcf"/><stop offset=".905" stop-color="#e9e9e9"/><stop offset="1" stop-color="#f2f2f2"/></linearGradient><linearGradient id="m33" x1="0" y1="0" x2="0" y2="1"><stop offset=".005" stop-color="#383838"/><stop offset=".095" stop-color="#4e4e4e"/><stop offset=".175" stop-color="#686868"/><stop offset=".240" stop-color="#767676"/><stop offset=".319" stop-color="#7d7d7d"/><stop offset=".416" stop-color="#818181"/><stop offset=".553" stop-color="#9b9b9b"/><stop offset=".638" stop-color="#b5b5b5"/><stop offset=".735" stop-color="#cfcfcf"/><stop offset=".898" stop-color="#e9e9e9"/><stop offset="1" stop-color="#f2f2f2"/></linearGradient><linearGradient id="m34" x1="0" y1="0" x2="0" y2="1"><stop offset=".005" stop-color="#383838"/><stop offset=".096" stop-color="#4e4e4e"/><stop offset=".175" stop-color="#686868"/><stop offset=".239" stop-color="#767676"/><stop offset=".318" stop-color="#7d7d7d"/><stop offset=".413" stop-color="#818181"/><stop offset=".553" stop-color="#9b9b9b"/><stop offset=".637" stop-color="#b5b5b5"/><stop offset=".733" stop-color="#cfcfcf"/><stop offset=".891" stop-color="#e9e9e9"/><stop offset="1" stop-color="#f2f2f2"/></linearGradient><linearGradient id="m35" x1="0" y1="0" x2="0" y2="1"><stop offset=".005" stop-color="#393939"/><stop offset=".097" stop-color="#4e4e4e"/><stop offset=".176" stop-color="#686868"/><stop offset=".239" stop-color="#767676"/><stop offset=".316" stop-color="#7d7d7d"/><stop offset=".410" stop-color="#818181"/><stop offset=".552" stop-color="#9b9b9b"/><stop offset=".636" stop-color="#b5b5b5"/><stop offset=".731" stop-color="#cfcfcf"/><stop offset=".885" stop-color="#e9e9e9"/><stop offset="1" stop-color="#f2f2f2"/></linearGradient><linearGradient id="m36" x1="0" y1="0" x2="0" y2="1"><stop offset=".005" stop-color="#393939"/><stop offset=".099" stop-color="#4e4e4e"/><stop offset=".177" stop-color="#686868"/><stop offset=".239" stop-color="#767676"/><stop offset=".314" stop-color="#7d7d7d"/><stop offset=".406" stop-color="#818181"/><stop offset=".552" stop-color="#9b9b9b"/><stop offset=".635" stop-color="#b5b5b5"/><stop offset=".729" stop-color="#cfcfcf"/><stop offset=".880" stop-color="#e9e9e9"/><stop offset="1" stop-color="#f2f2f2"/></linearGradient><linearGradient id="m37" x1="0" y1="0" x2="0" y2="1"><stop offset=".005" stop-color="#3a3a3a"/><stop offset=".100" stop-color="#4e4e4e"/><stop offset=".177" stop-color="#686868"/><stop offset=".238" stop-color="#767676"/><stop offset=".313" stop-color="#7d7d7d"/><stop offset=".403" stop-color="#818181"/><stop offset=".551" stop-color="#9b9b9b"/><stop offset=".634" stop-color="#b5b5b5"/><stop offset=".727" stop-color="#cfcfcf"/><stop offset=".874" stop-color="#e9e9e9"/><stop offset="1" stop-color="#f2f2f2"/></linearGradient><linearGradient id="m38" x1="0" y1="0" x2="0" y2="1"><stop offset=".005" stop-color="#3a3a3a"/><stop offset=".102" stop-color="#4e4e4e"/><stop offset=".178" stop-color="#686868"/><stop offset=".238" stop-color="#767676"/><stop offset=".311" stop-color="#7d7d7d"/><stop offset=".399" stop-color="#818181"/><stop offset=".549" stop-color="#9b9b9b"/><stop offset=".632" stop-color="#b5b5b5"/><stop offset=".725" stop-color="#cfcfcf"/><stop offset=".869" stop-color="#e9e9e9"/><stop offset="1" stop-color="#f2f2f2"/></linearGradient><linearGradient id="m39" x1="0" y1="0" x2="0" y2="1"><stop offset=".005" stop-color="#3a3a3a"/><stop offset=".105" stop-color="#4e4e4e"/><stop offset=".179" stop-color="#686868"/><stop offset=".238" stop-color="#767676"/><stop offset=".310" stop-color="#7d7d7d"/><stop offset=".397" stop-color="#818181"/><stop offset=".548" stop-color="#9b9b9b"/><stop offset=".631" stop-color="#b5b5b5"/><stop offset=".723" stop-color="#cfcfcf"/><stop offset=".867" stop-color="#e9e9e9"/><stop offset="1" stop-color="#f2f2f2"/></linearGradient><linearGradient id="m40" x1="0" y1="0" x2="0" y2="1"><stop offset=".005" stop-color="#3a3a3a"/><stop offset=".107" stop-color="#4e4e4e"/><stop offset=".180" stop-color="#686868"/><stop offset=".237" stop-color="#767676"/><stop offset=".308" stop-color="#7d7d7d"/><stop offset=".394" stop-color="#818181"/><stop offset=".547" stop-color="#9b9b9b"/><stop offset=".629" stop-color="#b5b5b5"/><stop offset=".722" stop-color="#cfcfcf"/><stop offset=".866" stop-color="#e9e9e9"/><stop offset="1" stop-color="#f2f2f2"/></linearGradient><linearGradient id="m41" x1="0" y1="0" x2="0" y2="1"><stop offset=".005" stop-color="#3a3a3a"/><stop offset=".109" stop-color="#4e4e4e"/><stop offset=".180" stop-color="#686868"/><stop offset=".237" stop-color="#767676"/><stop offset=".307" stop-color="#7d7d7d"/><stop offset=".391" stop-color="#818181"/><stop offset=".546" stop-color="#9b9b9b"/><stop offset=".628" stop-color="#b5b5b5"/><stop offset=".720" stop-color="#cfcfcf"/><stop offset=".864" stop-color="#e9e9e9"/><stop offset="1" stop-color="#f2f2f2"/></linearGradient><linearGradient id="m42" x1="0" y1="0" x2="0" y2="1"><stop offset=".005" stop-color="#3a3a3a"/><stop offset=".111" stop-color="#4e4e4e"/><stop offset=".181" stop-color="#686868"/><stop offset=".237" stop-color="#767676"/><stop offset=".305" stop-color="#7d7d7d"/><stop offset=".388" stop-color="#818181"/><stop offset=".544" stop-color="#9b9b9b"/><stop offset=".627" stop-color="#b5b5b5"/><stop offset=".718" stop-color="#cfcfcf"/><stop offset=".864" stop-color="#e9e9e9"/><stop offset="1" stop-color="#f2f2f2"/></linearGradient><linearGradient id="m43" x1="0" y1="0" x2="0" y2="1"><stop offset=".005" stop-color="#3a3a3a"/><stop offset=".112" stop-color="#4e4e4e"/><stop offset=".182" stop-color="#686868"/><stop offset=".237" stop-color="#767676"/><stop offset=".304" stop-color="#7d7d7d"/><stop offset=".385" stop-color="#818181"/><stop offset=".543" stop-color="#9b9b9b"/><stop offset=".625" stop-color="#b5b5b5"/><stop offset=".716" stop-color="#cfcfcf"/><stop offset=".865" stop-color="#e9e9e9"/><stop offset="1" stop-color="#f2f2f2"/></linearGradient><linearGradient id="m44" x1="0" y1="0" x2="0" y2="1"><stop offset=".005" stop-color="#3a3a3a"/><stop offset=".113" stop-color="#4e4e4e"/><stop offset=".183" stop-color="#686868"/><stop offset=".237" stop-color="#767676"/><stop offset=".303" stop-color="#7d7d7d"/><stop offset=".382" stop-color="#818181"/><stop offset=".542" stop-color="#9b9b9b"/><stop offset=".625" stop-color="#b5b5b5"/><stop offset=".715" stop-color="#cfcfcf"/><stop offset=".866" stop-color="#e9e9e9"/><stop offset="1" stop-color="#f2f2f2"/></linearGradient><linearGradient id="m45" x1="0" y1="0" x2="0" y2="1"><stop offset=".005" stop-color="#3a3a3a"/><stop offset=".115" stop-color="#4e4e4e"/><stop offset=".185" stop-color="#686868"/><stop offset=".237" stop-color="#767676"/><stop offset=".301" stop-color="#7d7d7d"/><stop offset=".379" stop-color="#818181"/><stop offset=".540" stop-color="#9b9b9b"/><stop offset=".624" stop-color="#b5b5b5"/><stop offset=".714" stop-color="#cfcfcf"/><stop offset=".867" stop-color="#e9e9e9"/><stop offset="1" stop-color="#f2f2f2"/></linearGradient><linearGradient id="m46" x1="0" y1="0" x2="0" y2="1"><stop offset=".005" stop-color="#393939"/><stop offset=".116" stop-color="#4e4e4e"/><stop offset=".186" stop-color="#686868"/><stop offset=".237" stop-color="#767676"/><stop offset=".300" stop-color="#7d7d7d"/><stop offset=".376" stop-color="#818181"/><stop offset=".538" stop-color="#9b9b9b"/><stop offset=".623" stop-color="#b5b5b5"/><stop offset=".712" stop-color="#cfcfcf"/><stop offset=".869" stop-color="#e9e9e9"/><stop offset="1" stop-color="#f2f2f2"/></linearGradient><linearGradient id="m47" x1="0" y1="0" x2="0" y2="1"><stop offset=".005" stop-color="#393939"/><stop offset=".117" stop-color="#4e4e4e"/><stop offset=".187" stop-color="#686868"/><stop offset=".237" stop-color="#767676"/><stop offset=".299" stop-color="#7d7d7d"/><stop offset=".373" stop-color="#818181"/><stop offset=".536" stop-color="#9b9b9b"/><stop offset=".622" stop-color="#b5b5b5"/><stop offset=".711" stop-color="#cfcfcf"/><stop offset=".873" stop-color="#e9e9e9"/><stop offset="1" stop-color="#f2f2f2"/></linearGradient><linearGradient id="m48" x1="0" y1="0" x2="0" y2="1"><stop offset=".005" stop-color="#383838"/><stop offset=".118" stop-color="#4e4e4e"/><stop offset=".188" stop-color="#686868"/><stop offset=".236" stop-color="#767676"/><stop offset=".296" stop-color="#7d7d7d"/><stop offset=".368" stop-color="#818181"/><stop offset=".535" stop-color="#9b9b9b"/><stop offset=".621" stop-color="#b5b5b5"/><stop offset=".709" stop-color="#cfcfcf"/><stop offset=".876" stop-color="#e9e9e9"/><stop offset="1" stop-color="#f2f2f2"/></linearGradient><linearGradient id="m49" x1="0" y1="0" x2="0" y2="1"><stop offset=".005" stop-color="#383838"/><stop offset=".119" stop-color="#4e4e4e"/><stop offset=".189" stop-color="#686868"/><stop offset=".236" stop-color="#767676"/><stop offset=".292" stop-color="#7d7d7d"/><stop offset=".361" stop-color="#818181"/><stop offset=".533" stop-color="#9b9b9b"/><stop offset=".621" stop-color="#b5b5b5"/><stop offset=".708" stop-color="#cfcfcf"/><stop offset=".880" stop-color="#e9e9e9"/><stop offset="1" stop-color="#f2f2f2"/></linearGradient><linearGradient id="m50" x1="0" y1="0" x2="0" y2="1"><stop offset=".005" stop-color="#373737"/><stop offset=".120" stop-color="#4e4e4e"/><stop offset=".190" stop-color="#686868"/><stop offset=".232" stop-color="#767676"/><stop offset=".284" stop-color="#7d7d7d"/><stop offset=".347" stop-color="#818181"/><stop offset=".531" stop-color="#9b9b9b"/><stop offset=".621" stop-color="#b5b5b5"/><stop offset=".706" stop-color="#cfcfcf"/><stop offset=".883" stop-color="#e9e9e9"/><stop offset="1" stop-color="#f2f2f2"/></linearGradient><linearGradient id="m51" x1="0" y1="0" x2="0" y2="1"><stop offset=".005" stop-color="#373737"/><stop offset=".122" stop-color="#4e4e4e"/><stop offset=".191" stop-color="#686868"/><stop offset=".321" stop-color="#818181"/><stop offset=".530" stop-color="#9b9b9b"/><stop offset=".621" stop-color="#b5b5b5"/><stop offset=".705" stop-color="#cfcfcf"/><stop offset=".887" stop-color="#e9e9e9"/><stop offset="1" stop-color="#f2f2f2"/></linearGradient><linearGradient id="m52" x1="0" y1="0" x2="0" y2="1"><stop offset=".005" stop-color="#363636"/><stop offset=".123" stop-color="#4e4e4e"/><stop offset=".192" stop-color="#686868"/><stop offset=".315" stop-color="#818181"/><stop offset=".529" stop-color="#9b9b9b"/><stop offset=".621" stop-color="#b5b5b5"/><stop offset=".705" stop-color="#cfcfcf"/><stop offset=".890" stop-color="#e9e9e9"/><stop offset="1" stop-color="#f2f2f2"/></linearGradient><linearGradient id="m53" x1="0" y1="0" x2="0" y2="1"><stop offset=".005" stop-color="#363636"/><stop offset=".124" stop-color="#4e4e4e"/><stop offset=".193" stop-color="#686868"/><stop offset=".312" stop-color="#818181"/><stop offset=".528" stop-color="#9b9b9b"/><stop offset=".620" stop-color="#b5b5b5"/><stop offset=".704" stop-color="#cfcfcf"/><stop offset=".893" stop-color="#e9e9e9"/><stop offset="1" stop-color="#f2f2f2"/></linearGradient><linearGradient id="m54" x1="0" y1="0" x2="0" y2="1"><stop offset=".005" stop-color="#323232"/><stop offset=".022" stop-color="#343434"/><stop offset=".125" stop-color="#4e4e4e"/><stop offset=".194" stop-color="#686868"/><stop offset=".311" stop-color="#818181"/><stop offset=".527" stop-color="#9b9b9b"/><stop offset=".621" stop-color="#b5b5b5"/><stop offset=".704" stop-color="#cfcfcf"/><stop offset=".896" stop-color="#e9e9e9"/><stop offset="1" stop-color="#f1f1f1"/></linearGradient><linearGradient id="m55" x1="0" y1="0" x2="0" y2="1"><stop offset=".005" stop-color="#313131"/><stop offset=".033" stop-color="#343434"/><stop offset=".126" stop-color="#4e4e4e"/><stop offset=".195" stop-color="#686868"/><stop offset=".309" stop-color="#818181"/><stop offset=".526" stop-color="#9b9b9b"/><stop offset=".621" stop-color="#b5b5b5"/><stop offset=".703" stop-color="#cfcfcf"/><stop offset=".898" stop-color="#e9e9e9"/><stop offset="1" stop-color="#f1f1f1"/></linearGradient><linearGradient id="m56" x1="0" y1="0" x2="0" y2="1"><stop offset=".005" stop-color="#313131"/><stop offset=".036" stop-color="#343434"/><stop offset=".127" stop-color="#4e4e4e"/><stop offset=".196" stop-color="#686868"/><stop offset=".309" stop-color="#818181"/><stop offset=".525" stop-color="#9b9b9b"/><stop offset=".622" stop-color="#b5b5b5"/><stop offset=".702" stop-color="#cfcfcf"/><stop offset=".901" stop-color="#e9e9e9"/><stop offset="1" stop-color="#f1f1f1"/></linearGradient><linearGradient id="m57" x1="0" y1="0" x2="0" y2="1"><stop offset=".005" stop-color="#303030"/><stop offset=".038" stop-color="#343434"/><stop offset=".129" stop-color="#4e4e4e"/><stop offset=".197" stop-color="#686868"/><stop offset=".308" stop-color="#818181"/><stop offset=".524" stop-color="#9b9b9b"/><stop offset=".622" stop-color="#b5b5b5"/><stop offset=".702" stop-color="#cfcfcf"/><stop offset=".907" stop-color="#e9e9e9"/><stop offset="1" stop-color="#f0f0f0"/></linearGradient><linearGradient id="m58" x1="0" y1="0" x2="0" y2="1"><stop offset=".005" stop-color="#2f2f2f"/><stop offset=".041" stop-color="#343434"/><stop offset=".129" stop-color="#4e4e4e"/><stop offset=".198" stop-color="#686868"/><stop offset=".308" stop-color="#818181"/><stop offset=".523" stop-color="#9b9b9b"/><stop offset=".623" stop-color="#b5b5b5"/><stop offset=".701" stop-color="#cfcfcf"/><stop offset=".912" stop-color="#e9e9e9"/><stop offset="1" stop-color="#efefef"/></linearGradient><linearGradient id="m59" x1="0" y1="0" x2="0" y2="1"><stop offset=".005" stop-color="#2e2e2e"/><stop offset=".042" stop-color="#343434"/><stop offset=".129" stop-color="#4e4e4e"/><stop offset=".198" stop-color="#686868"/><stop offset=".308" stop-color="#818181"/><stop offset=".522" stop-color="#9b9b9b"/><stop offset=".623" stop-color="#b5b5b5"/><stop offset=".701" stop-color="#cfcfcf"/><stop offset=".917" stop-color="#e9e9e9"/><stop offset="1" stop-color="#efefef"/></linearGradient><linearGradient id="m60" x1="0" y1="0" x2="0" y2="1"><stop offset=".005" stop-color="#2d2d2d"/><stop offset=".044" stop-color="#343434"/><stop offset=".130" stop-color="#4e4e4e"/><stop offset=".198" stop-color="#686868"/><stop offset=".307" stop-color="#818181"/><stop offset=".522" stop-color="#9b9b9b"/><stop offset=".624" stop-color="#b5b5b5"/><stop offset=".700" stop-color="#cfcfcf"/><stop offset=".923" stop-color="#e9e9e9"/><stop offset="1" stop-color="#eeeeee"/></linearGradient><linearGradient id="m61" x1="0" y1="0" x2="0" y2="1"><stop offset=".005" stop-color="#2c2c2c"/><stop offset=".045" stop-color="#343434"/><stop offset=".130" stop-color="#4e4e4e"/><stop offset=".199" stop-color="#686868"/><stop offset=".307" stop-color="#818181"/><stop offset=".522" stop-color="#9b9b9b"/><stop offset=".624" stop-color="#b5b5b5"/><stop offset=".700" stop-color="#cfcfcf"/><stop offset=".929" stop-color="#e9e9e9"/><stop offset="1" stop-color="#eeeeee"/></linearGradient><linearGradient id="m62" x1="0" y1="0" x2="0" y2="1"><stop offset=".005" stop-color="#2b2b2b"/><stop offset=".046" stop-color="#343434"/><stop offset=".130" stop-color="#4e4e4e"/><stop offset=".199" stop-color="#686868"/><stop offset=".306" stop-color="#818181"/><stop offset=".522" stop-color="#9b9b9b"/><stop offset=".625" stop-color="#b5b5b5"/><stop offset=".700" stop-color="#cfcfcf"/><stop offset=".936" stop-color="#e9e9e9"/><stop offset="1" stop-color="#ededed"/></linearGradient><linearGradient id="m63" x1="0" y1="0" x2="0" y2="1"><stop offset=".005" stop-color="#2a2a2a"/><stop offset=".048" stop-color="#343434"/><stop offset=".130" stop-color="#4e4e4e"/><stop offset=".200" stop-color="#686868"/><stop offset=".306" stop-color="#818181"/><stop offset=".521" stop-color="#9b9b9b"/><stop offset=".626" stop-color="#b5b5b5"/><stop offset=".700" stop-color="#cfcfcf"/><stop offset=".944" stop-color="#e9e9e9"/><stop offset="1" stop-color="#ededed"/></linearGradient><linearGradient id="m64" x1="0" y1="0" x2="0" y2="1"><stop offset=".005" stop-color="#292929"/><stop offset=".049" stop-color="#343434"/><stop offset=".131" stop-color="#4e4e4e"/><stop offset=".200" stop-color="#686868"/><stop offset=".305" stop-color="#818181"/><stop offset=".521" stop-color="#9b9b9b"/><stop offset=".627" stop-color="#b5b5b5"/><stop offset=".700" stop-color="#cfcfcf"/><stop offset=".952" stop-color="#e9e9e9"/><stop offset="1" stop-color="#ececec"/></linearGradient><linearGradient id="m65" x1="0" y1="0" x2="0" y2="1"><stop offset=".005" stop-color="#282828"/><stop offset=".050" stop-color="#343434"/><stop offset=".131" stop-color="#4e4e4e"/><stop offset=".201" stop-color="#686868"/><stop offset=".305" stop-color="#818181"/><stop offset=".522" stop-color="#9b9b9b"/><stop offset=".628" stop-color="#b5b5b5"/><stop offset=".700" stop-color="#cfcfcf"/><stop offset=".960" stop-color="#e9e9e9"/><stop offset="1" stop-color="#ebebeb"/></linearGradient><linearGradient id="m66" x1="0" y1="0" x2="0" y2="1"><stop offset=".005" stop-color="#282828"/><stop offset=".050" stop-color="#343434"/><stop offset=".132" stop-color="#4e4e4e"/><stop offset=".201" stop-color="#686868"/><stop offset=".304" stop-color="#818181"/><stop offset=".522" stop-color="#9b9b9b"/><stop offset=".629" stop-color="#b5b5b5"/><stop offset=".700" stop-color="#cfcfcf"/><stop offset=".967" stop-color="#e9e9e9"/><stop offset="1" stop-color="#ebebeb"/></linearGradient><linearGradient id="m67" x1="0" y1="0" x2="0" y2="1"><stop offset=".005" stop-color="#272727"/><stop offset=".051" stop-color="#343434"/><stop offset=".132" stop-color="#4e4e4e"/><stop offset=".202" stop-color="#686868"/><stop offset=".304" stop-color="#818181"/><stop offset=".523" stop-color="#9b9b9b"/><stop offset=".630" stop-color="#b5b5b5"/><stop offset=".700" stop-color="#cfcfcf"/><stop offset=".975" stop-color="#e9e9e9"/><stop offset="1" stop-color="#eaeaea"/></linearGradient><linearGradient id="m68" x1="0" y1="0" x2="0" y2="1"><stop offset=".005" stop-color="#262626"/><stop offset=".052" stop-color="#343434"/><stop offset=".132" stop-color="#4e4e4e"/><stop offset=".203" stop-color="#686868"/><stop offset=".304" stop-color="#818181"/><stop offset=".524" stop-color="#9b9b9b"/><stop offset=".631" stop-color="#b5b5b5"/><stop offset=".701" stop-color="#cfcfcf"/><stop offset=".983" stop-color="#e9e9e9"/><stop offset="1" stop-color="#eaeaea"/></linearGradient><linearGradient id="m69" x1="0" y1="0" x2="0" y2="1"><stop offset=".005" stop-color="#252525"/><stop offset=".053" stop-color="#343434"/><stop offset=".133" stop-color="#4e4e4e"/><stop offset=".203" stop-color="#686868"/><stop offset=".303" stop-color="#818181"/><stop offset=".525" stop-color="#9b9b9b"/><stop offset=".632" stop-color="#b5b5b5"/><stop offset=".702" stop-color="#cfcfcf"/><stop offset=".991" stop-color="#e9e9e9"/><stop offset="1" stop-color="#eaeaea"/></linearGradient><linearGradient id="m70" x1="0" y1="0" x2="0" y2="1"><stop offset=".005" stop-color="#242424"/><stop offset=".053" stop-color="#343434"/><stop offset=".133" stop-color="#4e4e4e"/><stop offset=".204" stop-color="#686868"/><stop offset=".303" stop-color="#818181"/><stop offset=".527" stop-color="#9b9b9b"/><stop offset=".633" stop-color="#b5b5b5"/><stop offset=".702" stop-color="#cfcfcf"/><stop offset=".998" stop-color="#e9e9e9"/><stop offset="1" stop-color="#e9e9e9"/></linearGradient><linearGradient id="m71" x1="0" y1="0" x2="0" y2="1"><stop offset=".005" stop-color="#232323"/><stop offset=".054" stop-color="#343434"/><stop offset=".133" stop-color="#4e4e4e"/><stop offset=".204" stop-color="#686868"/><stop offset=".303" stop-color="#818181"/><stop offset=".529" stop-color="#9b9b9b"/><stop offset=".634" stop-color="#b5b5b5"/><stop offset=".703" stop-color="#cfcfcf"/><stop offset="1" stop-color="#e9e9e9"/></linearGradient><linearGradient id="m72" x1="0" y1="0" x2="0" y2="1"><stop offset=".005" stop-color="#222222"/><stop offset=".054" stop-color="#343434"/><stop offset=".134" stop-color="#4e4e4e"/><stop offset=".205" stop-color="#686868"/><stop offset=".303" stop-color="#818181"/><stop offset=".531" stop-color="#9b9b9b"/><stop offset=".635" stop-color="#b5b5b5"/><stop offset=".704" stop-color="#cfcfcf"/><stop offset="1" stop-color="#e8e8e8"/></linearGradient><linearGradient id="m73" x1="0" y1="0" x2="0" y2="1"><stop offset=".005" stop-color="#212121"/><stop offset=".055" stop-color="#343434"/><stop offset=".134" stop-color="#4e4e4e"/><stop offset=".205" stop-color="#686868"/><stop offset=".302" stop-color="#818181"/><stop offset=".534" stop-color="#9b9b9b"/><stop offset=".636" stop-color="#b5b5b5"/><stop offset=".704" stop-color="#cfcfcf"/><stop offset="1" stop-color="#e8e8e8"/></linearGradient><linearGradient id="m74" x1="0" y1="0" x2="0" y2="1"><stop offset=".005" stop-color="#202020"/><stop offset=".056" stop-color="#343434"/><stop offset=".134" stop-color="#4e4e4e"/><stop offset=".205" stop-color="#686868"/><stop offset=".302" stop-color="#818181"/><stop offset=".537" stop-color="#9b9b9b"/><stop offset=".638" stop-color="#b5b5b5"/><stop offset=".705" stop-color="#cfcfcf"/><stop offset="1" stop-color="#e7e7e7"/></linearGradient><linearGradient id="m75" x1="0" y1="0" x2="0" y2="1"><stop offset=".005" stop-color="#1f1f1f"/><stop offset=".056" stop-color="#343434"/><stop offset=".134" stop-color="#4e4e4e"/><stop offset=".206" stop-color="#686868"/><stop offset=".302" stop-color="#818181"/><stop offset=".540" stop-color="#9b9b9b"/><stop offset=".639" stop-color="#b5b5b5"/><stop offset=".706" stop-color="#cfcfcf"/><stop offset="1" stop-color="#e7e7e7"/></linearGradient><linearGradient id="m76" x1="0" y1="0" x2="0" y2="1"><stop offset=".005" stop-color="#1f1f1f"/><stop offset=".057" stop-color="#343434"/><stop offset=".134" stop-color="#4e4e4e"/><stop offset=".206" stop-color="#686868"/><stop offset=".301" stop-color="#818181"/><stop offset=".543" stop-color="#9b9b9b"/><stop offset=".640" stop-color="#b5b5b5"/><stop offset=".707" stop-color="#cfcfcf"/><stop offset="1" stop-color="#e6e6e6"/></linearGradient><linearGradient id="m77" x1="0" y1="0" x2="0" y2="1"><stop offset=".005" stop-color="#1e1e1e"/><stop offset=".057" stop-color="#343434"/><stop offset=".134" stop-color="#4e4e4e"/><stop offset=".207" stop-color="#686868"/><stop offset=".301" stop-color="#818181"/><stop offset=".547" stop-color="#9b9b9b"/><stop offset=".641" stop-color="#b5b5b5"/><stop offset=".708" stop-color="#cfcfcf"/><stop offset="1" stop-color="#e6e6e6"/></linearGradient><linearGradient id="m78" x1="0" y1="0" x2="0" y2="1"><stop offset=".005" stop-color="#1d1d1d"/><stop offset=".057" stop-color="#343434"/><stop offset=".134" stop-color="#4e4e4e"/><stop offset=".207" stop-color="#686868"/><stop offset=".301" stop-color="#818181"/><stop offset=".551" stop-color="#9b9b9b"/><stop offset=".643" stop-color="#b5b5b5"/><stop offset=".709" stop-color="#cfcfcf"/><stop offset="1" stop-color="#e6e6e6"/></linearGradient><linearGradient id="m79" x1="0" y1="0" x2="0" y2="1"><stop offset=".005" stop-color="#1c1c1c"/><stop offset=".058" stop-color="#343434"/><stop offset=".134" stop-color="#4e4e4e"/><stop offset=".206" stop-color="#686868"/><stop offset=".301" stop-color="#818181"/><stop offset=".555" stop-color="#9b9b9b"/><stop offset=".644" stop-color="#b5b5b5"/><stop offset=".710" stop-color="#cfcfcf"/><stop offset="1" stop-color="#e5e5e5"/></linearGradient><linearGradient id="m80" x1="0" y1="0" x2="0" y2="1"><stop offset=".005" stop-color="#181818"/><stop offset=".009" stop-color="#1a1a1a"/><stop offset=".058" stop-color="#343434"/><stop offset=".134" stop-color="#4e4e4e"/><stop offset=".206" stop-color="#686868"/><stop offset=".300" stop-color="#818181"/><stop offset=".559" stop-color="#9b9b9b"/><stop offset=".645" stop-color="#b5b5b5"/><stop offset=".711" stop-color="#cfcfcf"/><stop offset="1" stop-color="#e5e5e5"/></linearGradient><linearGradient id="m81" x1="0" y1="0" x2="0" y2="1"><stop offset=".005" stop-color="#171717"/><stop offset=".010" stop-color="#1a1a1a"/><stop offset=".058" stop-color="#343434"/><stop offset=".134" stop-color="#4e4e4e"/><stop offset=".205" stop-color="#686868"/><stop offset=".300" stop-color="#818181"/><stop offset=".564" stop-color="#9b9b9b"/><stop offset=".646" stop-color="#b5b5b5"/><stop offset=".711" stop-color="#cfcfcf"/><stop offset="1" stop-color="#e4e4e4"/></linearGradient><linearGradient id="m82" x1="0" y1="0" x2="0" y2="1"><stop offset=".005" stop-color="#161616"/><stop offset=".011" stop-color="#1a1a1a"/><stop offset=".058" stop-color="#343434"/><stop offset=".134" stop-color="#4e4e4e"/><stop offset=".205" stop-color="#686868"/><stop offset=".300" stop-color="#818181"/><stop offset=".569" stop-color="#9b9b9b"/><stop offset=".648" stop-color="#b5b5b5"/><stop offset=".712" stop-color="#cfcfcf"/><stop offset="1" stop-color="#e4e4e4"/></linearGradient><linearGradient id="m83" x1="0" y1="0" x2="0" y2="1"><stop offset=".005" stop-color="#151515"/><stop offset=".013" stop-color="#1a1a1a"/><stop offset=".059" stop-color="#343434"/><stop offset=".133" stop-color="#4e4e4e"/><stop offset=".205" stop-color="#686868"/><stop offset=".300" stop-color="#818181"/><stop offset=".574" stop-color="#9b9b9b"/><stop offset=".649" stop-color="#b5b5b5"/><stop offset=".713" stop-color="#cfcfcf"/><stop offset="1" stop-color="#e4e4e4"/></linearGradient><linearGradient id="m84" x1="0" y1="0" x2="0" y2="1"><stop offset=".005" stop-color="#141414"/><stop offset=".014" stop-color="#1a1a1a"/><stop offset=".059" stop-color="#343434"/><stop offset=".133" stop-color="#4e4e4e"/><stop offset=".204" stop-color="#686868"/><stop offset=".299" stop-color="#818181"/><stop offset=".579" stop-color="#9b9b9b"/><stop offset=".650" stop-color="#b5b5b5"/><stop offset=".714" stop-color="#cfcfcf"/><stop offset="1" stop-color="#e3e3e3"/></linearGradient><linearGradient id="m85" x1="0" y1="0" x2="0" y2="1"><stop offset=".005" stop-color="#141414"/><stop offset=".015" stop-color="#1a1a1a"/><stop offset=".059" stop-color="#343434"/><stop offset=".133" stop-color="#4e4e4e"/><stop offset=".204" stop-color="#686868"/><stop offset=".299" stop-color="#818181"/><stop offset=".583" stop-color="#9b9b9b"/><stop offset=".651" stop-color="#b5b5b5"/><stop offset=".715" stop-color="#cfcfcf"/><stop offset="1" stop-color="#e3e3e3"/></linearGradient><linearGradient id="m86" x1="0" y1="0" x2="0" y2="1"><stop offset=".005" stop-color="#131313"/><stop offset=".016" stop-color="#1a1a1a"/><stop offset=".059" stop-color="#343434"/><stop offset=".132" stop-color="#4e4e4e"/><stop offset=".204" stop-color="#686868"/><stop offset=".299" stop-color="#818181"/><stop offset=".587" stop-color="#9b9b9b"/><stop offset=".652" stop-color="#b5b5b5"/><stop offset=".716" stop-color="#cfcfcf"/><stop offset="1" stop-color="#e3e3e3"/></linearGradient><linearGradient id="m87" x1="0" y1="0" x2="0" y2="1"><stop offset=".005" stop-color="#131313"/><stop offset=".017" stop-color="#1a1a1a"/><stop offset=".059" stop-color="#343434"/><stop offset=".132" stop-color="#4e4e4e"/><stop offset=".204" stop-color="#686868"/><stop offset=".299" stop-color="#818181"/><stop offset=".591" stop-color="#9b9b9b"/><stop offset=".653" stop-color="#b5b5b5"/><stop offset=".717" stop-color="#cfcfcf"/><stop offset="1" stop-color="#e2e2e2"/></linearGradient><linearGradient id="m88" x1="0" y1="0" x2="0" y2="1"><stop offset=".005" stop-color="#121212"/><stop offset=".018" stop-color="#1a1a1a"/><stop offset=".059" stop-color="#343434"/><stop offset=".131" stop-color="#4e4e4e"/><stop offset=".203" stop-color="#686868"/><stop offset=".299" stop-color="#818181"/><stop offset=".594" stop-color="#9b9b9b"/><stop offset=".653" stop-color="#b5b5b5"/><stop offset=".718" stop-color="#cfcfcf"/><stop offset="1" stop-color="#e2e2e2"/></linearGradient><linearGradient id="m89" x1="0" y1="0" x2="0" y2="1"><stop offset=".005" stop-color="#121212"/><stop offset=".019" stop-color="#1a1a1a"/><stop offset=".059" stop-color="#343434"/><stop offset=".130" stop-color="#4e4e4e"/><stop offset=".203" stop-color="#686868"/><stop offset=".299" stop-color="#818181"/><stop offset=".598" stop-color="#9b9b9b"/><stop offset=".654" stop-color="#b5b5b5"/><stop offset=".719" stop-color="#cfcfcf"/><stop offset="1" stop-color="#e2e2e2"/></linearGradient><linearGradient id="m90" x1="0" y1="0" x2="0" y2="1"><stop offset=".005" stop-color="#111111"/><stop offset=".019" stop-color="#1a1a1a"/><stop offset=".059" stop-color="#343434"/><stop offset=".130" stop-color="#4e4e4e"/><stop offset=".203" stop-color="#686868"/><stop offset=".299" stop-color="#818181"/><stop offset=".601" stop-color="#9b9b9b"/><stop offset=".655" stop-color="#b5b5b5"/><stop offset=".719" stop-color="#cfcfcf"/><stop offset="1" stop-color="#e2e2e2"/></linearGradient><linearGradient id="m91" x1="0" y1="0" x2="0" y2="1"><stop offset=".005" stop-color="#111111"/><stop offset=".020" stop-color="#1a1a1a"/><stop offset=".059" stop-color="#343434"/><stop offset=".129" stop-color="#4e4e4e"/><stop offset=".202" stop-color="#686868"/><stop offset=".299" stop-color="#818181"/><stop offset=".604" stop-color="#9b9b9b"/><stop offset=".656" stop-color="#b5b5b5"/><stop offset=".720" stop-color="#cfcfcf"/><stop offset="1" stop-color="#e2e2e2"/></linearGradient><linearGradient id="m92" x1="0" y1="0" x2="0" y2="1"><stop offset=".005" stop-color="#101010"/><stop offset=".021" stop-color="#1a1a1a"/><stop offset=".059" stop-color="#343434"/><stop offset=".128" stop-color="#4e4e4e"/><stop offset=".201" stop-color="#686868"/><stop offset=".299" stop-color="#818181"/><stop offset=".606" stop-color="#9b9b9b"/><stop offset=".656" stop-color="#b5b5b5"/><stop offset=".721" stop-color="#cfcfcf"/><stop offset="1" stop-color="#e2e2e2"/></linearGradient><linearGradient id="m93" x1="0" y1="0" x2="0" y2="1"><stop offset=".005" stop-color="#101010"/><stop offset=".022" stop-color="#1a1a1a"/><stop offset=".059" stop-color="#343434"/><stop offset=".127" stop-color="#4e4e4e"/><stop offset=".200" stop-color="#686868"/><stop offset=".299" stop-color="#818181"/><stop offset=".608" stop-color="#9b9b9b"/><stop offset=".657" stop-color="#b5b5b5"/><stop offset=".721" stop-color="#cfcfcf"/><stop offset="1" stop-color="#e2e2e2"/></linearGradient><linearGradient id="m94" x1="0" y1="0" x2="0" y2="1"><stop offset=".005" stop-color="#0f0f0f"/><stop offset=".022" stop-color="#1a1a1a"/><stop offset=".059" stop-color="#343434"/><stop offset=".126" stop-color="#4e4e4e"/><stop offset=".199" stop-color="#686868"/><stop offset=".299" stop-color="#818181"/><stop offset=".611" stop-color="#9b9b9b"/><stop offset=".657" stop-color="#b5b5b5"/><stop offset=".722" stop-color="#cfcfcf"/><stop offset="1" stop-color="#e2e2e2"/></linearGradient><linearGradient id="m95" x1="0" y1="0" x2="0" y2="1"><stop offset=".005" stop-color="#0f0f0f"/><stop offset=".022" stop-color="#1a1a1a"/><stop offset=".059" stop-color="#343434"/><stop offset=".125" stop-color="#4e4e4e"/><stop offset=".199" stop-color="#686868"/><stop offset=".299" stop-color="#818181"/><stop offset=".613" stop-color="#9b9b9b"/><stop offset=".658" stop-color="#b5b5b5"/><stop offset=".722" stop-color="#cfcfcf"/><stop offset="1" stop-color="#e2e2e2"/></linearGradient><linearGradient id="m96" x1="0" y1="0" x2="0" y2="1"><stop offset=".005" stop-color="#0f0f0f"/><stop offset=".022" stop-color="#1a1a1a"/><stop offset=".059" stop-color="#343434"/><stop offset=".124" stop-color="#4e4e4e"/><stop offset=".198" stop-color="#686868"/><stop offset=".299" stop-color="#818181"/><stop offset=".615" stop-color="#9b9b9b"/><stop offset=".659" stop-color="#b5b5b5"/><stop offset=".723" stop-color="#cfcfcf"/><stop offset="1" stop-color="#e2e2e2"/></linearGradient><linearGradient id="m97" x1="0" y1="0" x2="0" y2="1"><stop offset=".005" stop-color="#0f0f0f"/><stop offset=".022" stop-color="#1a1a1a"/><stop offset=".059" stop-color="#343434"/><stop offset=".123" stop-color="#4e4e4e"/><stop offset=".197" stop-color="#686868"/><stop offset=".299" stop-color="#818181"/><stop offset=".617" stop-color="#9b9b9b"/><stop offset=".659" stop-color="#b5b5b5"/><stop offset=".724" stop-color="#cfcfcf"/><stop offset="1" stop-color="#e2e2e2"/></linearGradient><linearGradient id="m98" x1="0" y1="0" x2="0" y2="1"><stop offset=".005" stop-color="#0f0f0f"/><stop offset=".022" stop-color="#1a1a1a"/><stop offset=".059" stop-color="#343434"/><stop offset=".121" stop-color="#4e4e4e"/><stop offset=".196" stop-color="#686868"/><stop offset=".299" stop-color="#818181"/><stop offset=".618" stop-color="#9b9b9b"/><stop offset=".660" stop-color="#b5b5b5"/><stop offset=".724" stop-color="#cfcfcf"/><stop offset="1" stop-color="#e2e2e2"/></linearGradient><linearGradient id="m99" x1="0" y1="0" x2="0" y2="1"><stop offset=".005" stop-color="#0f0f0f"/><stop offset=".023" stop-color="#1a1a1a"/><stop offset=".059" stop-color="#343434"/><stop offset=".120" stop-color="#4e4e4e"/><stop offset=".196" stop-color="#686868"/><stop offset=".299" stop-color="#818181"/><stop offset=".618" stop-color="#9b9b9b"/><stop offset=".660" stop-color="#b5b5b5"/><stop offset=".725" stop-color="#cfcfcf"/><stop offset="1" stop-color="#e2e2e2"/></linearGradient><linearGradient id="m100" x1="0" y1="0" x2="0" y2="1"><stop offset=".005" stop-color="#0f0f0f"/><stop offset=".023" stop-color="#1a1a1a"/><stop offset=".059" stop-color="#343434"/><stop offset=".119" stop-color="#4e4e4e"/><stop offset=".195" stop-color="#686868"/><stop offset=".299" stop-color="#818181"/><stop offset=".618" stop-color="#9b9b9b"/><stop offset=".660" stop-color="#b5b5b5"/><stop offset=".726" stop-color="#cfcfcf"/><stop offset="1" stop-color="#e2e2e2"/></linearGradient><linearGradient id="m101" x1="0" y1="0" x2="0" y2="1"><stop offset=".005" stop-color="#0f0f0f"/><stop offset=".023" stop-color="#1a1a1a"/><stop offset=".058" stop-color="#343434"/><stop offset=".118" stop-color="#4e4e4e"/><stop offset=".194" stop-color="#686868"/><stop offset=".299" stop-color="#818181"/><stop offset=".618" stop-color="#9b9b9b"/><stop offset=".661" stop-color="#b5b5b5"/><stop offset=".726" stop-color="#cfcfcf"/><stop offset="1" stop-color="#e2e2e2"/></linearGradient><linearGradient id="m102" x1="0" y1="0" x2="0" y2="1"><stop offset=".005" stop-color="#0f0f0f"/><stop offset=".023" stop-color="#1a1a1a"/><stop offset=".058" stop-color="#343434"/><stop offset=".116" stop-color="#4e4e4e"/><stop offset=".193" stop-color="#686868"/><stop offset=".299" stop-color="#818181"/><stop offset=".618" stop-color="#9b9b9b"/><stop offset=".661" stop-color="#b5b5b5"/><stop offset=".727" stop-color="#cfcfcf"/><stop offset="1" stop-color="#e2e2e2"/></linearGradient><linearGradient id="m103" x1="0" y1="0" x2="0" y2="1"><stop offset=".005" stop-color="#0f0f0f"/><stop offset=".023" stop-color="#1a1a1a"/><stop offset=".058" stop-color="#343434"/><stop offset=".115" stop-color="#4e4e4e"/><stop offset=".193" stop-color="#686868"/><stop offset=".299" stop-color="#818181"/><stop offset=".618" stop-color="#9b9b9b"/><stop offset=".661" stop-color="#b5b5b5"/><stop offset=".727" stop-color="#cfcfcf"/><stop offset="1" stop-color="#e2e2e2"/></linearGradient><linearGradient id="m104" x1="0" y1="0" x2="0" y2="1"><stop offset=".005" stop-color="#0f0f0f"/><stop offset=".023" stop-color="#1a1a1a"/><stop offset=".058" stop-color="#343434"/><stop offset=".114" stop-color="#4e4e4e"/><stop offset=".192" stop-color="#686868"/><stop offset=".299" stop-color="#818181"/><stop offset=".617" stop-color="#9b9b9b"/><stop offset=".661" stop-color="#b5b5b5"/><stop offset=".728" stop-color="#cfcfcf"/><stop offset="1" stop-color="#e2e2e2"/></linearGradient><linearGradient id="m105" x1="0" y1="0" x2="0" y2="1"><stop offset=".005" stop-color="#0f0f0f"/><stop offset=".023" stop-color="#1a1a1a"/><stop offset=".058" stop-color="#343434"/><stop offset=".113" stop-color="#4e4e4e"/><stop offset=".191" stop-color="#686868"/><stop offset=".299" stop-color="#818181"/><stop offset=".617" stop-color="#9b9b9b"/><stop offset=".662" stop-color="#b5b5b5"/><stop offset=".729" stop-color="#cfcfcf"/><stop offset="1" stop-color="#e2e2e2"/></linearGradient><linearGradient id="m106" x1="0" y1="0" x2="0" y2="1"><stop offset=".005" stop-color="#0f0f0f"/><stop offset=".023" stop-color="#1a1a1a"/><stop offset=".058" stop-color="#343434"/><stop offset=".112" stop-color="#4e4e4e"/><stop offset=".190" stop-color="#686868"/><stop offset=".298" stop-color="#818181"/><stop offset=".617" stop-color="#9b9b9b"/><stop offset=".662" stop-color="#b5b5b5"/><stop offset=".729" stop-color="#cfcfcf"/><stop offset="1" stop-color="#e2e2e2"/></linearGradient><linearGradient id="m107" x1="0" y1="0" x2="0" y2="1"><stop offset=".005" stop-color="#0f0f0f"/><stop offset=".023" stop-color="#1a1a1a"/><stop offset=".058" stop-color="#343434"/><stop offset=".112" stop-color="#4e4e4e"/><stop offset=".190" stop-color="#686868"/><stop offset=".297" stop-color="#818181"/><stop offset=".617" stop-color="#9b9b9b"/><stop offset=".662" stop-color="#b5b5b5"/><stop offset=".730" stop-color="#cfcfcf"/><stop offset="1" stop-color="#e2e2e2"/></linearGradient><linearGradient id="m108" x1="0" y1="0" x2="0" y2="1"><stop offset=".005" stop-color="#0f0f0f"/><stop offset=".023" stop-color="#1a1a1a"/><stop offset=".057" stop-color="#343434"/><stop offset=".111" stop-color="#4e4e4e"/><stop offset=".189" stop-color="#686868"/><stop offset=".296" stop-color="#818181"/><stop offset=".617" stop-color="#9b9b9b"/><stop offset=".662" stop-color="#b5b5b5"/><stop offset=".731" stop-color="#cfcfcf"/><stop offset="1" stop-color="#e2e2e2"/></linearGradient><linearGradient id="m109" x1="0" y1="0" x2="0" y2="1"><stop offset=".005" stop-color="#0f0f0f"/><stop offset=".024" stop-color="#1a1a1a"/><stop offset=".057" stop-color="#343434"/><stop offset=".110" stop-color="#4e4e4e"/><stop offset=".188" stop-color="#686868"/><stop offset=".295" stop-color="#818181"/><stop offset=".617" stop-color="#9b9b9b"/><stop offset=".662" stop-color="#b5b5b5"/><stop offset=".731" stop-color="#cfcfcf"/><stop offset="1" stop-color="#e2e2e2"/></linearGradient><linearGradient id="m110" x1="0" y1="0" x2="0" y2="1"><stop offset=".005" stop-color="#0f0f0f"/><stop offset=".023" stop-color="#1a1a1a"/><stop offset=".057" stop-color="#343434"/><stop offset=".109" stop-color="#4e4e4e"/><stop offset=".187" stop-color="#686868"/><stop offset=".294" stop-color="#818181"/><stop offset=".616" stop-color="#9b9b9b"/><stop offset=".662" stop-color="#b5b5b5"/><stop offset=".731" stop-color="#cfcfcf"/><stop offset="1" stop-color="#e2e2e2"/></linearGradient><linearGradient id="m111" x1="0" y1="0" x2="0" y2="1"><stop offset=".005" stop-color="#0f0f0f"/><stop offset=".023" stop-color="#1a1a1a"/><stop offset=".057" stop-color="#343434"/><stop offset=".108" stop-color="#4e4e4e"/><stop offset=".186" stop-color="#686868"/><stop offset=".293" stop-color="#818181"/><stop offset=".616" stop-color="#9b9b9b"/><stop offset=".662" stop-color="#b5b5b5"/><stop offset=".732" stop-color="#cfcfcf"/><stop offset="1" stop-color="#e2e2e2"/></linearGradient><linearGradient id="m112" x1="0" y1="0" x2="0" y2="1"><stop offset=".005" stop-color="#0f0f0f"/><stop offset=".023" stop-color="#1a1a1a"/><stop offset=".057" stop-color="#343434"/><stop offset=".107" stop-color="#4e4e4e"/><stop offset=".185" stop-color="#686868"/><stop offset=".292" stop-color="#818181"/><stop offset=".616" stop-color="#9b9b9b"/><stop offset=".662" stop-color="#b5b5b5"/><stop offset=".732" stop-color="#cfcfcf"/><stop offset="1" stop-color="#e2e2e2"/></linearGradient><linearGradient id="m113" x1="0" y1="0" x2="0" y2="1"><stop offset=".005" stop-color="#0f0f0f"/><stop offset=".023" stop-color="#1a1a1a"/><stop offset=".057" stop-color="#343434"/><stop offset=".106" stop-color="#4e4e4e"/><stop offset=".184" stop-color="#686868"/><stop offset=".291" stop-color="#818181"/><stop offset=".615" stop-color="#9b9b9b"/><stop offset=".662" stop-color="#b5b5b5"/><stop offset=".733" stop-color="#cfcfcf"/><stop offset="1" stop-color="#e2e2e2"/></linearGradient><linearGradient id="m114" x1="0" y1="0" x2="0" y2="1"><stop offset=".005" stop-color="#0f0f0f"/><stop offset=".023" stop-color="#1a1a1a"/><stop offset=".057" stop-color="#343434"/><stop offset=".106" stop-color="#4e4e4e"/><stop offset=".184" stop-color="#686868"/><stop offset=".289" stop-color="#818181"/><stop offset=".615" stop-color="#9b9b9b"/><stop offset=".662" stop-color="#b5b5b5"/><stop offset=".733" stop-color="#cfcfcf"/><stop offset="1" stop-color="#e2e2e2"/></linearGradient><linearGradient id="m115" x1="0" y1="0" x2="0" y2="1"><stop offset=".005" stop-color="#0f0f0f"/><stop offset=".023" stop-color="#1a1a1a"/><stop offset=".056" stop-color="#343434"/><stop offset=".106" stop-color="#4e4e4e"/><stop offset=".183" stop-color="#686868"/><stop offset=".288" stop-color="#818181"/><stop offset=".615" stop-color="#9b9b9b"/><stop offset=".661" stop-color="#b5b5b5"/><stop offset=".734" stop-color="#cfcfcf"/><stop offset="1" stop-color="#e2e2e2"/></linearGradient><linearGradient id="m116" x1="0" y1="0" x2="0" y2="1"><stop offset=".005" stop-color="#0f0f0f"/><stop offset=".022" stop-color="#1a1a1a"/><stop offset=".056" stop-color="#343434"/><stop offset=".105" stop-color="#4e4e4e"/><stop offset=".182" stop-color="#686868"/><stop offset=".286" stop-color="#818181"/><stop offset=".614" stop-color="#9b9b9b"/><stop offset=".661" stop-color="#b5b5b5"/><stop offset=".734" stop-color="#cfcfcf"/><stop offset="1" stop-color="#e2e2e2"/></linearGradient><linearGradient id="m117" x1="0" y1="0" x2="0" y2="1"><stop offset=".005" stop-color="#0f0f0f"/><stop offset=".022" stop-color="#1a1a1a"/><stop offset=".057" stop-color="#343434"/><stop offset=".105" stop-color="#4e4e4e"/><stop offset=".181" stop-color="#686868"/><stop offset=".283" stop-color="#818181"/><stop offset=".614" stop-color="#9b9b9b"/><stop offset=".661" stop-color="#b5b5b5"/><stop offset=".735" stop-color="#cfcfcf"/><stop offset="1" stop-color="#e2e2e2"/></linearGradient><linearGradient id="m118" x1="0" y1="0" x2="0" y2="1"><stop offset=".005" stop-color="#0f0f0f"/><stop offset=".022" stop-color="#1a1a1a"/><stop offset=".057" stop-color="#343434"/><stop offset=".105" stop-color="#4e4e4e"/><stop offset=".180" stop-color="#686868"/><stop offset=".281" stop-color="#818181"/><stop offset=".614" stop-color="#9b9b9b"/><stop offset=".661" stop-color="#b5b5b5"/><stop offset=".735" stop-color="#cfcfcf"/><stop offset="1" stop-color="#e1e1e1"/></linearGradient><linearGradient id="m119" x1="0" y1="0" x2="0" y2="1"><stop offset=".005" stop-color="#0f0f0f"/><stop offset=".022" stop-color="#1a1a1a"/><stop offset=".058" stop-color="#343434"/><stop offset=".104" stop-color="#4e4e4e"/><stop offset=".179" stop-color="#686868"/><stop offset=".279" stop-color="#818181"/><stop offset=".613" stop-color="#9b9b9b"/><stop offset=".661" stop-color="#b5b5b5"/><stop offset=".735" stop-color="#cfcfcf"/><stop offset="1" stop-color="#e1e1e1"/></linearGradient><linearGradient id="m120" x1="0" y1="0" x2="0" y2="1"><stop offset=".005" stop-color="#101010"/><stop offset=".022" stop-color="#1a1a1a"/><stop offset=".058" stop-color="#343434"/><stop offset=".104" stop-color="#4e4e4e"/><stop offset=".178" stop-color="#686868"/><stop offset=".276" stop-color="#818181"/><stop offset=".611" stop-color="#9b9b9b"/><stop offset=".661" stop-color="#b5b5b5"/><stop offset=".736" stop-color="#cfcfcf"/><stop offset="1" stop-color="#e1e1e1"/></linearGradient><linearGradient id="m121" x1="0" y1="0" x2="0" y2="1"><stop offset=".005" stop-color="#101010"/><stop offset=".022" stop-color="#1a1a1a"/><stop offset=".059" stop-color="#343434"/><stop offset=".104" stop-color="#4e4e4e"/><stop offset=".177" stop-color="#686868"/><stop offset=".274" stop-color="#818181"/><stop offset=".610" stop-color="#9b9b9b"/><stop offset=".660" stop-color="#b5b5b5"/><stop offset=".736" stop-color="#cfcfcf"/><stop offset=".774" stop-color="#d6d6d6"/><stop offset=".822" stop-color="#dcdcdc"/><stop offset=".999" stop-color="#dfdfdf"/><stop offset="1" stop-color="#dfdfdf"/></linearGradient><linearGradient id="m122" x1="0" y1="0" x2="0" y2="1"><stop offset=".005" stop-color="#101010"/><stop offset=".021" stop-color="#1a1a1a"/><stop offset=".059" stop-color="#343434"/><stop offset=".104" stop-color="#4e4e4e"/><stop offset=".176" stop-color="#686868"/><stop offset=".271" stop-color="#818181"/><stop offset=".607" stop-color="#9b9b9b"/><stop offset=".659" stop-color="#b5b5b5"/><stop offset=".737" stop-color="#cfcfcf"/><stop offset=".775" stop-color="#d6d6d6"/><stop offset=".823" stop-color="#dcdcdc"/><stop offset=".999" stop-color="#dfdfdf"/><stop offset="1" stop-color="#dfdfdf"/></linearGradient><linearGradient id="m123" x1="0" y1="0" x2="0" y2="1"><stop offset=".005" stop-color="#101010"/><stop offset=".021" stop-color="#1a1a1a"/><stop offset=".059" stop-color="#343434"/><stop offset=".104" stop-color="#4e4e4e"/><stop offset=".175" stop-color="#686868"/><stop offset=".268" stop-color="#818181"/><stop offset=".605" stop-color="#9b9b9b"/><stop offset=".658" stop-color="#b5b5b5"/><stop offset=".737" stop-color="#cfcfcf"/><stop offset=".775" stop-color="#d6d6d6"/><stop offset=".823" stop-color="#dcdcdc"/><stop offset=".999" stop-color="#dfdfdf"/><stop offset="1" stop-color="#dfdfdf"/></linearGradient><linearGradient id="m124" x1="0" y1="0" x2="0" y2="1"><stop offset=".005" stop-color="#101010"/><stop offset=".021" stop-color="#1a1a1a"/><stop offset=".060" stop-color="#343434"/><stop offset=".104" stop-color="#4e4e4e"/><stop offset=".174" stop-color="#686868"/><stop offset=".266" stop-color="#818181"/><stop offset=".602" stop-color="#9b9b9b"/><stop offset=".657" stop-color="#b5b5b5"/><stop offset=".737" stop-color="#cfcfcf"/><stop offset=".775" stop-color="#d6d6d6"/><stop offset=".823" stop-color="#dcdcdc"/><stop offset=".999" stop-color="#dfdfdf"/><stop offset="1" stop-color="#dfdfdf"/></linearGradient><linearGradient id="m125" x1="0" y1="0" x2="0" y2="1"><stop offset=".005" stop-color="#101010"/><stop offset=".021" stop-color="#1a1a1a"/><stop offset=".060" stop-color="#343434"/><stop offset=".104" stop-color="#4e4e4e"/><stop offset=".173" stop-color="#686868"/><stop offset=".264" stop-color="#818181"/><stop offset=".600" stop-color="#9b9b9b"/><stop offset=".656" stop-color="#b5b5b5"/><stop offset=".737" stop-color="#cfcfcf"/><stop offset=".775" stop-color="#d6d6d6"/><stop offset=".823" stop-color="#dcdcdc"/><stop offset=".999" stop-color="#dfdfdf"/><stop offset="1" stop-color="#dfdfdf"/></linearGradient><linearGradient id="m126" x1="0" y1="0" x2="0" y2="1"><stop offset=".005" stop-color="#101010"/><stop offset=".022" stop-color="#1a1a1a"/><stop offset=".061" stop-color="#343434"/><stop offset=".104" stop-color="#4e4e4e"/><stop offset=".172" stop-color="#686868"/><stop offset=".262" stop-color="#818181"/><stop offset=".598" stop-color="#9b9b9b"/><stop offset=".655" stop-color="#b5b5b5"/><stop offset=".737" stop-color="#cfcfcf"/><stop offset=".775" stop-color="#d6d6d6"/><stop offset=".823" stop-color="#dcdcdc"/><stop offset=".999" stop-color="#dfdfdf"/><stop offset="1" stop-color="#dfdfdf"/></linearGradient><linearGradient id="m127" x1="0" y1="0" x2="0" y2="1"><stop offset=".005" stop-color="#0f0f0f"/><stop offset=".022" stop-color="#1a1a1a"/><stop offset=".061" stop-color="#343434"/><stop offset=".104" stop-color="#4e4e4e"/><stop offset=".171" stop-color="#686868"/><stop offset=".260" stop-color="#818181"/><stop offset=".597" stop-color="#9b9b9b"/><stop offset=".654" stop-color="#b5b5b5"/><stop offset=".737" stop-color="#cfcfcf"/><stop offset=".775" stop-color="#d6d6d6"/><stop offset=".823" stop-color="#dcdcdc"/><stop offset=".999" stop-color="#dfdfdf"/><stop offset="1" stop-color="#dfdfdf"/></linearGradient><linearGradient id="m128" x1="0" y1="0" x2="0" y2="1"><stop offset=".005" stop-color="#0f0f0f"/><stop offset=".022" stop-color="#1a1a1a"/><stop offset=".061" stop-color="#343434"/><stop offset=".104" stop-color="#4e4e4e"/><stop offset=".171" stop-color="#686868"/><stop offset=".259" stop-color="#818181"/><stop offset=".595" stop-color="#9b9b9b"/><stop offset=".654" stop-color="#b5b5b5"/><stop offset=".737" stop-color="#cfcfcf"/><stop offset=".776" stop-color="#d6d6d6"/><stop offset=".824" stop-color="#dcdcdc"/><stop offset=".999" stop-color="#dfdfdf"/><stop offset="1" stop-color="#dfdfdf"/></linearGradient><linearGradient id="m129" x1="0" y1="0" x2="0" y2="1"><stop offset=".005" stop-color="#0f0f0f"/><stop offset=".023" stop-color="#1a1a1a"/><stop offset=".062" stop-color="#343434"/><stop offset=".104" stop-color="#4e4e4e"/><stop offset=".170" stop-color="#686868"/><stop offset=".257" stop-color="#818181"/><stop offset=".593" stop-color="#9b9b9b"/><stop offset=".653" stop-color="#b5b5b5"/><stop offset=".738" stop-color="#cfcfcf"/><stop offset=".776" stop-color="#d6d6d6"/><stop offset=".824" stop-color="#dcdcdc"/><stop offset=".999" stop-color="#dfdfdf"/><stop offset="1" stop-color="#dfdfdf"/></linearGradient><linearGradient id="m130" x1="0" y1="0" x2="0" y2="1"><stop offset=".005" stop-color="#0f0f0f"/><stop offset=".023" stop-color="#1a1a1a"/><stop offset=".062" stop-color="#343434"/><stop offset=".104" stop-color="#4e4e4e"/><stop offset=".170" stop-color="#686868"/><stop offset=".255" stop-color="#818181"/><stop offset=".591" stop-color="#9b9b9b"/><stop offset=".652" stop-color="#b5b5b5"/><stop offset=".738" stop-color="#cfcfcf"/><stop offset=".776" stop-color="#d6d6d6"/><stop offset=".824" stop-color="#dcdcdc"/><stop offset=".999" stop-color="#dfdfdf"/><stop offset="1" stop-color="#dfdfdf"/></linearGradient><linearGradient id="m131" x1="0" y1="0" x2="0" y2="1"><stop offset=".005" stop-color="#0f0f0f"/><stop offset=".023" stop-color="#1a1a1a"/><stop offset=".062" stop-color="#343434"/><stop offset=".105" stop-color="#4e4e4e"/><stop offset=".170" stop-color="#686868"/><stop offset=".253" stop-color="#818181"/><stop offset=".590" stop-color="#9b9b9b"/><stop offset=".652" stop-color="#b5b5b5"/><stop offset=".738" stop-color="#cfcfcf"/><stop offset=".776" stop-color="#d6d6d6"/><stop offset=".824" stop-color="#dcdcdc"/><stop offset=".999" stop-color="#dfdfdf"/><stop offset="1" stop-color="#dfdfdf"/></linearGradient><linearGradient id="m132" x1="0" y1="0" x2="0" y2="1"><stop offset=".005" stop-color="#0e0e0e"/><stop offset=".024" stop-color="#1a1a1a"/><stop offset=".063" stop-color="#343434"/><stop offset=".105" stop-color="#4e4e4e"/><stop offset=".169" stop-color="#686868"/><stop offset=".252" stop-color="#818181"/><stop offset=".588" stop-color="#9b9b9b"/><stop offset=".652" stop-color="#b5b5b5"/><stop offset=".738" stop-color="#cfcfcf"/><stop offset=".776" stop-color="#d6d6d6"/><stop offset=".824" stop-color="#dcdcdc"/><stop offset=".999" stop-color="#dfdfdf"/><stop offset="1" stop-color="#dfdfdf"/></linearGradient><linearGradient id="m133" x1="0" y1="0" x2="0" y2="1"><stop offset=".005" stop-color="#0e0e0e"/><stop offset=".024" stop-color="#1a1a1a"/><stop offset=".063" stop-color="#343434"/><stop offset=".105" stop-color="#4e4e4e"/><stop offset=".169" stop-color="#686868"/><stop offset=".250" stop-color="#818181"/><stop offset=".586" stop-color="#9b9b9b"/><stop offset=".652" stop-color="#b5b5b5"/><stop offset=".737" stop-color="#cfcfcf"/><stop offset=".775" stop-color="#d6d6d6"/><stop offset=".823" stop-color="#dcdcdc"/><stop offset=".999" stop-color="#dfdfdf"/><stop offset="1" stop-color="#dfdfdf"/></linearGradient><linearGradient id="m134" x1="0" y1="0" x2="0" y2="1"><stop offset=".005" stop-color="#0e0e0e"/><stop offset=".025" stop-color="#1a1a1a"/><stop offset=".063" stop-color="#343434"/><stop offset=".105" stop-color="#4e4e4e"/><stop offset=".168" stop-color="#686868"/><stop offset=".249" stop-color="#818181"/><stop offset=".585" stop-color="#9b9b9b"/><stop offset=".652" stop-color="#b5b5b5"/><stop offset=".737" stop-color="#cfcfcf"/><stop offset=".775" stop-color="#d7d7d7"/><stop offset=".823" stop-color="#dcdcdc"/><stop offset=".999" stop-color="#dfdfdf"/><stop offset="1" stop-color="#dfdfdf"/></linearGradient><linearGradient id="m135" x1="0" y1="0" x2="0" y2="1"><stop offset=".005" stop-color="#0e0e0e"/><stop offset=".025" stop-color="#1a1a1a"/><stop offset=".063" stop-color="#343434"/><stop offset=".105" stop-color="#4e4e4e"/><stop offset=".168" stop-color="#686868"/><stop offset=".247" stop-color="#818181"/><stop offset=".583" stop-color="#9b9b9b"/><stop offset=".653" stop-color="#b5b5b5"/><stop offset=".737" stop-color="#cfcfcf"/><stop offset=".775" stop-color="#d7d7d7"/><stop offset=".823" stop-color="#dcdcdc"/><stop offset=".999" stop-color="#dfdfdf"/><stop offset="1" stop-color="#dfdfdf"/></linearGradient><linearGradient id="m136" x1="0" y1="0" x2="0" y2="1"><stop offset=".005" stop-color="#0e0e0e"/><stop offset=".025" stop-color="#1a1a1a"/><stop offset=".064" stop-color="#343434"/><stop offset=".105" stop-color="#4e4e4e"/><stop offset=".168" stop-color="#686868"/><stop offset=".246" stop-color="#818181"/><stop offset=".582" stop-color="#9b9b9b"/><stop offset=".653" stop-color="#b5b5b5"/><stop offset=".737" stop-color="#cfcfcf"/><stop offset=".775" stop-color="#d7d7d7"/><stop offset=".823" stop-color="#dcdcdc"/><stop offset=".999" stop-color="#dfdfdf"/><stop offset="1" stop-color="#dfdfdf"/></linearGradient><linearGradient id="m137" x1="0" y1="0" x2="0" y2="1"><stop offset=".005" stop-color="#0d0d0d"/><stop offset=".025" stop-color="#1a1a1a"/><stop offset=".064" stop-color="#343434"/><stop offset=".105" stop-color="#4e4e4e"/><stop offset=".168" stop-color="#686868"/><stop offset=".245" stop-color="#818181"/><stop offset=".581" stop-color="#9b9b9b"/><stop offset=".654" stop-color="#b5b5b5"/><stop offset=".736" stop-color="#cfcfcf"/><stop offset=".774" stop-color="#d7d7d7"/><stop offset=".822" stop-color="#dcdcdc"/><stop offset=".999" stop-color="#dfdfdf"/><stop offset="1" stop-color="#dfdfdf"/></linearGradient><linearGradient id="m138" x1="0" y1="0" x2="0" y2="1"><stop offset=".005" stop-color="#0d0d0d"/><stop offset=".026" stop-color="#1a1a1a"/><stop offset=".064" stop-color="#343434"/><stop offset=".105" stop-color="#4e4e4e"/><stop offset=".167" stop-color="#686868"/><stop offset=".244" stop-color="#818181"/><stop offset=".579" stop-color="#9b9b9b"/><stop offset=".654" stop-color="#b5b5b5"/><stop offset=".736" stop-color="#cfcfcf"/><stop offset=".774" stop-color="#d7d7d7"/><stop offset=".822" stop-color="#dcdcdc"/><stop offset=".999" stop-color="#dfdfdf"/><stop offset="1" stop-color="#dfdfdf"/></linearGradient><linearGradient id="m139" x1="0" y1="0" x2="0" y2="1"><stop offset=".005" stop-color="#0d0d0d"/><stop offset=".026" stop-color="#1a1a1a"/><stop offset=".064" stop-color="#343434"/><stop offset=".105" stop-color="#4e4e4e"/><stop offset=".167" stop-color="#686868"/><stop offset=".243" stop-color="#818181"/><stop offset=".577" stop-color="#9b9b9b"/><stop offset=".655" stop-color="#b5b5b5"/><stop offset=".736" stop-color="#cfcfcf"/><stop offset=".774" stop-color="#d7d7d7"/><stop offset=".822" stop-color="#dcdcdc"/><stop offset=".999" stop-color="#dfdfdf"/><stop offset="1" stop-color="#dfdfdf"/></linearGradient><linearGradient id="m140" x1="0" y1="0" x2="0" y2="1"><stop offset=".005" stop-color="#0d0d0d"/><stop offset=".026" stop-color="#1a1a1a"/><stop offset=".065" stop-color="#343434"/><stop offset=".105" stop-color="#4e4e4e"/><stop offset=".167" stop-color="#686868"/><stop offset=".242" stop-color="#818181"/><stop offset=".576" stop-color="#9b9b9b"/><stop offset=".655" stop-color="#b5b5b5"/><stop offset=".736" stop-color="#cfcfcf"/><stop offset=".774" stop-color="#d7d7d7"/><stop offset=".822" stop-color="#dddddd"/><stop offset=".999" stop-color="#e0e0e0"/><stop offset="1" stop-color="#e0e0e0"/></linearGradient><linearGradient id="m141" x1="0" y1="0" x2="0" y2="1"><stop offset=".005" stop-color="#0d0d0d"/><stop offset=".026" stop-color="#1a1a1a"/><stop offset=".065" stop-color="#343434"/><stop offset=".105" stop-color="#4e4e4e"/><stop offset=".167" stop-color="#686868"/><stop offset=".241" stop-color="#818181"/><stop offset=".574" stop-color="#9b9b9b"/><stop offset=".655" stop-color="#b5b5b5"/><stop offset=".735" stop-color="#cfcfcf"/><stop offset=".773" stop-color="#d7d7d7"/><stop offset=".821" stop-color="#dddddd"/><stop offset=".999" stop-color="#e0e0e0"/><stop offset="1" stop-color="#e0e0e0"/></linearGradient><linearGradient id="m142" x1="0" y1="0" x2="0" y2="1"><stop offset=".005" stop-color="#0d0d0d"/><stop offset=".027" stop-color="#1a1a1a"/><stop offset=".065" stop-color="#343434"/><stop offset=".105" stop-color="#4e4e4e"/><stop offset=".168" stop-color="#686868"/><stop offset=".239" stop-color="#818181"/><stop offset=".572" stop-color="#9b9b9b"/><stop offset=".656" stop-color="#b5b5b5"/><stop offset=".735" stop-color="#cfcfcf"/><stop offset=".773" stop-color="#d7d7d7"/><stop offset=".821" stop-color="#dddddd"/><stop offset=".999" stop-color="#e0e0e0"/><stop offset="1" stop-color="#e0e0e0"/></linearGradient><linearGradient id="m143" x1="0" y1="0" x2="0" y2="1"><stop offset=".005" stop-color="#0d0d0d"/><stop offset=".026" stop-color="#1a1a1a"/><stop offset=".065" stop-color="#343434"/><stop offset=".104" stop-color="#4e4e4e"/><stop offset=".168" stop-color="#686868"/><stop offset=".240" stop-color="#818181"/><stop offset=".571" stop-color="#9b9b9b"/><stop offset=".656" stop-color="#b5b5b5"/><stop offset=".735" stop-color="#cfcfcf"/><stop offset=".773" stop-color="#d7d7d7"/><stop offset=".821" stop-color="#dddddd"/><stop offset=".999" stop-color="#e0e0e0"/><stop offset="1" stop-color="#e0e0e0"/></linearGradient><linearGradient id="m144" x1="0" y1="0" x2="0" y2="1"><stop offset=".005" stop-color="#0d0d0d"/><stop offset=".026" stop-color="#1a1a1a"/><stop offset=".065" stop-color="#343434"/><stop offset=".104" stop-color="#4e4e4e"/><stop offset=".169" stop-color="#686868"/><stop offset=".240" stop-color="#818181"/><stop offset=".569" stop-color="#9b9b9b"/><stop offset=".657" stop-color="#b5b5b5"/><stop offset=".734" stop-color="#cfcfcf"/><stop offset=".773" stop-color="#d7d7d7"/><stop offset=".821" stop-color="#dddddd"/><stop offset=".999" stop-color="#e0e0e0"/><stop offset="1" stop-color="#e0e0e0"/></linearGradient><linearGradient id="m145" x1="0" y1="0" x2="0" y2="1"><stop offset=".005" stop-color="#0d0d0d"/><stop offset=".026" stop-color="#1a1a1a"/><stop offset=".065" stop-color="#343434"/><stop offset=".104" stop-color="#4e4e4e"/><stop offset=".170" stop-color="#686868"/><stop offset=".241" stop-color="#818181"/><stop offset=".567" stop-color="#9b9b9b"/><stop offset=".657" stop-color="#b5b5b5"/><stop offset=".734" stop-color="#cfcfcf"/><stop offset=".772" stop-color="#d7d7d7"/><stop offset=".820" stop-color="#dedede"/><stop offset=".999" stop-color="#e1e1e1"/><stop offset="1" stop-color="#e1e1e1"/></linearGradient><linearGradient id="m146" x1="0" y1="0" x2="0" y2="1"><stop offset=".005" stop-color="#0d0d0d"/><stop offset=".026" stop-color="#1a1a1a"/><stop offset=".065" stop-color="#343434"/><stop offset=".104" stop-color="#4e4e4e"/><stop offset=".170" stop-color="#686868"/><stop offset=".241" stop-color="#818181"/><stop offset=".566" stop-color="#9b9b9b"/><stop offset=".657" stop-color="#b5b5b5"/><stop offset=".734" stop-color="#cfcfcf"/><stop offset=".772" stop-color="#d8d8d8"/><stop offset=".820" stop-color="#dedede"/><stop offset=".999" stop-color="#e1e1e1"/><stop offset="1" stop-color="#e1e1e1"/></linearGradient><linearGradient id="m147" x1="0" y1="0" x2="0" y2="1"><stop offset=".005" stop-color="#0d0d0d"/><stop offset=".025" stop-color="#1a1a1a"/><stop offset=".065" stop-color="#343434"/><stop offset=".104" stop-color="#4e4e4e"/><stop offset=".171" stop-color="#686868"/><stop offset=".242" stop-color="#818181"/><stop offset=".564" stop-color="#9b9b9b"/><stop offset=".658" stop-color="#b5b5b5"/><stop offset=".733" stop-color="#cfcfcf"/><stop offset=".771" stop-color="#d8d8d8"/><stop offset=".819" stop-color="#dedede"/><stop offset=".999" stop-color="#e1e1e1"/><stop offset="1" stop-color="#e1e1e1"/></linearGradient><linearGradient id="m148" x1="0" y1="0" x2="0" y2="1"><stop offset=".005" stop-color="#0e0e0e"/><stop offset=".025" stop-color="#1a1a1a"/><stop offset=".065" stop-color="#343434"/><stop offset=".105" stop-color="#4e4e4e"/><stop offset=".173" stop-color="#686868"/><stop offset=".244" stop-color="#818181"/><stop offset=".562" stop-color="#9b9b9b"/><stop offset=".657" stop-color="#b5b5b5"/><stop offset=".732" stop-color="#cfcfcf"/><stop offset=".770" stop-color="#d8d8d8"/><stop offset=".818" stop-color="#dedede"/><stop offset=".999" stop-color="#e2e2e2"/><stop offset="1" stop-color="#e2e2e2"/></linearGradient><linearGradient id="m149" x1="0" y1="0" x2="0" y2="1"><stop offset=".005" stop-color="#0e0e0e"/><stop offset=".025" stop-color="#1a1a1a"/><stop offset=".066" stop-color="#343434"/><stop offset=".105" stop-color="#4e4e4e"/><stop offset=".175" stop-color="#686868"/><stop offset=".247" stop-color="#818181"/><stop offset=".560" stop-color="#9b9b9b"/><stop offset=".657" stop-color="#b5b5b5"/><stop offset=".731" stop-color="#cfcfcf"/><stop offset=".769" stop-color="#d8d8d8"/><stop offset=".817" stop-color="#dfdfdf"/><stop offset=".999" stop-color="#e2e2e2"/><stop offset="1" stop-color="#e2e2e2"/></linearGradient><linearGradient id="m150" x1="0" y1="0" x2="0" y2="1"><stop offset=".005" stop-color="#0e0e0e"/><stop offset=".025" stop-color="#1a1a1a"/><stop offset=".066" stop-color="#343434"/><stop offset=".106" stop-color="#4e4e4e"/><stop offset=".177" stop-color="#686868"/><stop offset=".249" stop-color="#818181"/><stop offset=".558" stop-color="#9b9b9b"/><stop offset=".657" stop-color="#b5b5b5"/><stop offset=".729" stop-color="#cfcfcf"/><stop offset=".767" stop-color="#d8d8d8"/><stop offset=".815" stop-color="#dfdfdf"/><stop offset=".999" stop-color="#e2e2e2"/><stop offset="1" stop-color="#e2e2e2"/></linearGradient><linearGradient id="m151" x1="0" y1="0" x2="0" y2="1"><stop offset=".005" stop-color="#0e0e0e"/><stop offset=".024" stop-color="#1a1a1a"/><stop offset=".067" stop-color="#343434"/><stop offset=".107" stop-color="#4e4e4e"/><stop offset=".179" stop-color="#686868"/><stop offset=".252" stop-color="#818181"/><stop offset=".556" stop-color="#9b9b9b"/><stop offset=".657" stop-color="#b5b5b5"/><stop offset=".728" stop-color="#cfcfcf"/><stop offset=".766" stop-color="#d8d8d8"/><stop offset=".814" stop-color="#dfdfdf"/><stop offset=".999" stop-color="#e2e2e2"/><stop offset="1" stop-color="#e2e2e2"/></linearGradient><linearGradient id="m152" x1="0" y1="0" x2="0" y2="1"><stop offset=".005" stop-color="#0f0f0f"/><stop offset=".023" stop-color="#1a1a1a"/><stop offset=".067" stop-color="#343434"/><stop offset=".108" stop-color="#4e4e4e"/><stop offset=".181" stop-color="#686868"/><stop offset=".255" stop-color="#818181"/><stop offset=".554" stop-color="#9b9b9b"/><stop offset=".656" stop-color="#b5b5b5"/><stop offset=".727" stop-color="#cfcfcf"/><stop offset=".765" stop-color="#d8d8d8"/><stop offset=".813" stop-color="#e0e0e0"/><stop offset=".999" stop-color="#e3e3e3"/><stop offset="1" stop-color="#e3e3e3"/></linearGradient><linearGradient id="m153" x1="0" y1="0" x2="0" y2="1"><stop offset=".005" stop-color="#0f0f0f"/><stop offset=".022" stop-color="#1a1a1a"/><stop offset=".067" stop-color="#343434"/><stop offset=".108" stop-color="#4e4e4e"/><stop offset=".186" stop-color="#686868"/><stop offset=".258" stop-color="#818181"/><stop offset=".553" stop-color="#9b9b9b"/><stop offset=".655" stop-color="#b5b5b5"/><stop offset=".725" stop-color="#cfcfcf"/><stop offset=".763" stop-color="#d9d9d9"/><stop offset=".811" stop-color="#e0e0e0"/><stop offset=".999" stop-color="#e3e3e3"/><stop offset="1" stop-color="#e3e3e3"/></linearGradient><linearGradient id="m154" x1="0" y1="0" x2="0" y2="1"><stop offset=".005" stop-color="#101010"/><stop offset=".021" stop-color="#1a1a1a"/><stop offset=".068" stop-color="#343434"/><stop offset=".110" stop-color="#4e4e4e"/><stop offset=".192" stop-color="#686868"/><stop offset=".262" stop-color="#818181"/><stop offset=".552" stop-color="#9b9b9b"/><stop offset=".654" stop-color="#b5b5b5"/><stop offset=".723" stop-color="#cfcfcf"/><stop offset=".761" stop-color="#d9d9d9"/><stop offset=".809" stop-color="#e0e0e0"/><stop offset=".999" stop-color="#e3e3e3"/><stop offset="1" stop-color="#e3e3e3"/></linearGradient><linearGradient id="m155" x1="0" y1="0" x2="0" y2="1"><stop offset=".005" stop-color="#111111"/><stop offset=".020" stop-color="#1a1a1a"/><stop offset=".068" stop-color="#343434"/><stop offset=".113" stop-color="#4e4e4e"/><stop offset=".198" stop-color="#686868"/><stop offset=".266" stop-color="#818181"/><stop offset=".551" stop-color="#9b9b9b"/><stop offset=".653" stop-color="#b5b5b5"/><stop offset=".721" stop-color="#cfcfcf"/><stop offset=".759" stop-color="#d9d9d9"/><stop offset=".807" stop-color="#e0e0e0"/><stop offset=".999" stop-color="#e4e4e4"/><stop offset="1" stop-color="#e4e4e4"/></linearGradient><linearGradient id="m156" x1="0" y1="0" x2="0" y2="1"><stop offset=".005" stop-color="#111111"/><stop offset=".019" stop-color="#1a1a1a"/><stop offset=".069" stop-color="#343434"/><stop offset=".115" stop-color="#4e4e4e"/><stop offset=".206" stop-color="#686868"/><stop offset=".270" stop-color="#818181"/><stop offset=".551" stop-color="#9b9b9b"/><stop offset=".652" stop-color="#b5b5b5"/><stop offset=".719" stop-color="#cfcfcf"/><stop offset=".757" stop-color="#d9d9d9"/><stop offset=".805" stop-color="#e1e1e1"/><stop offset=".999" stop-color="#e4e4e4"/><stop offset="1" stop-color="#e4e4e4"/></linearGradient><linearGradient id="m157" x1="0" y1="0" x2="0" y2="1"><stop offset=".005" stop-color="#121212"/><stop offset=".018" stop-color="#1a1a1a"/><stop offset=".069" stop-color="#343434"/><stop offset=".117" stop-color="#4e4e4e"/><stop offset=".214" stop-color="#686868"/><stop offset=".273" stop-color="#818181"/><stop offset=".552" stop-color="#9b9b9b"/><stop offset=".650" stop-color="#b5b5b5"/><stop offset=".717" stop-color="#cfcfcf"/><stop offset=".755" stop-color="#d9d9d9"/><stop offset=".803" stop-color="#e1e1e1"/><stop offset=".999" stop-color="#e4e4e4"/><stop offset="1" stop-color="#e4e4e4"/></linearGradient><linearGradient id="m158" x1="0" y1="0" x2="0" y2="1"><stop offset=".005" stop-color="#131313"/><stop offset=".017" stop-color="#1a1a1a"/><stop offset=".070" stop-color="#343434"/><stop offset=".120" stop-color="#4e4e4e"/><stop offset=".222" stop-color="#686868"/><stop offset=".276" stop-color="#818181"/><stop offset=".552" stop-color="#9b9b9b"/><stop offset=".649" stop-color="#b5b5b5"/><stop offset=".715" stop-color="#cfcfcf"/><stop offset=".753" stop-color="#d9d9d9"/><stop offset=".801" stop-color="#e1e1e1"/><stop offset=".999" stop-color="#e4e4e4"/><stop offset="1" stop-color="#e4e4e4"/></linearGradient><linearGradient id="m159" x1="0" y1="0" x2="0" y2="1"><stop offset=".005" stop-color="#141414"/><stop offset=".015" stop-color="#1a1a1a"/><stop offset=".072" stop-color="#343434"/><stop offset=".125" stop-color="#4e4e4e"/><stop offset=".227" stop-color="#686868"/><stop offset=".278" stop-color="#818181"/><stop offset=".552" stop-color="#9b9b9b"/><stop offset=".647" stop-color="#b5b5b5"/><stop offset=".713" stop-color="#cfcfcf"/><stop offset=".751" stop-color="#d9d9d9"/><stop offset=".799" stop-color="#e1e1e1"/><stop offset=".999" stop-color="#e4e4e4"/><stop offset="1" stop-color="#e4e4e4"/></linearGradient><linearGradient id="m160" x1="0" y1="0" x2="0" y2="1"><stop offset=".005" stop-color="#141414"/><stop offset=".014" stop-color="#1a1a1a"/><stop offset=".073" stop-color="#343434"/><stop offset=".130" stop-color="#4e4e4e"/><stop offset=".232" stop-color="#686868"/><stop offset=".280" stop-color="#818181"/><stop offset=".553" stop-color="#9b9b9b"/><stop offset=".646" stop-color="#b5b5b5"/><stop offset=".711" stop-color="#cfcfcf"/><stop offset=".749" stop-color="#d9d9d9"/><stop offset=".797" stop-color="#e1e1e1"/><stop offset=".999" stop-color="#e4e4e4"/><stop offset="1" stop-color="#e4e4e4"/></linearGradient><linearGradient id="m161" x1="0" y1="0" x2="0" y2="1"><stop offset=".005" stop-color="#161616"/><stop offset=".012" stop-color="#1a1a1a"/><stop offset=".074" stop-color="#343434"/><stop offset=".135" stop-color="#4e4e4e"/><stop offset=".237" stop-color="#686868"/><stop offset=".283" stop-color="#818181"/><stop offset=".554" stop-color="#9b9b9b"/><stop offset=".644" stop-color="#b5b5b5"/><stop offset=".709" stop-color="#cfcfcf"/><stop offset=".747" stop-color="#d9d9d9"/><stop offset=".795" stop-color="#e1e1e1"/><stop offset=".999" stop-color="#e4e4e4"/><stop offset="1" stop-color="#e4e4e4"/></linearGradient><linearGradient id="m162" x1="0" y1="0" x2="0" y2="1"><stop offset=".005" stop-color="#171717"/><stop offset=".009" stop-color="#1a1a1a"/><stop offset=".075" stop-color="#343434"/><stop offset=".144" stop-color="#4e4e4e"/><stop offset=".241" stop-color="#686868"/><stop offset=".284" stop-color="#818181"/><stop offset=".555" stop-color="#9b9b9b"/><stop offset=".643" stop-color="#b5b5b5"/><stop offset=".707" stop-color="#cfcfcf"/><stop offset=".745" stop-color="#d9d9d9"/><stop offset=".793" stop-color="#e1e1e1"/><stop offset=".999" stop-color="#e4e4e4"/><stop offset="1" stop-color="#e4e4e4"/></linearGradient><linearGradient id="m163" x1="0" y1="0" x2="0" y2="1"><stop offset=".005" stop-color="#1b1b1b"/><stop offset=".076" stop-color="#343434"/><stop offset=".161" stop-color="#4e4e4e"/><stop offset=".243" stop-color="#686868"/><stop offset=".283" stop-color="#818181"/><stop offset=".556" stop-color="#9b9b9b"/><stop offset=".643" stop-color="#b5b5b5"/><stop offset=".706" stop-color="#cfcfcf"/><stop offset=".744" stop-color="#d9d9d9"/><stop offset=".792" stop-color="#e1e1e1"/><stop offset=".999" stop-color="#e4e4e4"/><stop offset="1" stop-color="#e4e4e4"/></linearGradient><linearGradient id="m164" x1="0" y1="0" x2="0" y2="1"><stop offset=".005" stop-color="#1d1d1d"/><stop offset=".078" stop-color="#343434"/><stop offset=".210" stop-color="#4e4e4e"/><stop offset=".246" stop-color="#686868"/><stop offset=".283" stop-color="#818181"/><stop offset=".557" stop-color="#9b9b9b"/><stop offset=".642" stop-color="#b5b5b5"/><stop offset=".705" stop-color="#cfcfcf"/><stop offset=".743" stop-color="#d9d9d9"/><stop offset=".791" stop-color="#e1e1e1"/><stop offset=".999" stop-color="#e4e4e4"/><stop offset="1" stop-color="#e4e4e4"/></linearGradient><linearGradient id="m165" x1="0" y1="0" x2="0" y2="1"><stop offset=".005" stop-color="#1f1f1f"/><stop offset=".079" stop-color="#343434"/><stop offset=".215" stop-color="#4e4e4e"/><stop offset=".247" stop-color="#686868"/><stop offset=".282" stop-color="#818181"/><stop offset=".558" stop-color="#9b9b9b"/><stop offset=".642" stop-color="#b5b5b5"/><stop offset=".705" stop-color="#cfcfcf"/><stop offset=".743" stop-color="#d9d9d9"/><stop offset=".791" stop-color="#e1e1e1"/><stop offset=".999" stop-color="#e4e4e4"/><stop offset="1" stop-color="#e4e4e4"/></linearGradient><linearGradient id="m166" x1="0" y1="0" x2="0" y2="1"><stop offset=".005" stop-color="#212121"/><stop offset=".081" stop-color="#343434"/><stop offset=".211" stop-color="#4e4e4e"/><stop offset=".246" stop-color="#686868"/><stop offset=".282" stop-color="#818181"/><stop offset=".559" stop-color="#9b9b9b"/><stop offset=".642" stop-color="#b5b5b5"/><stop offset=".707" stop-color="#cfcfcf"/><stop offset=".745" stop-color="#d9d9d9"/><stop offset=".793" stop-color="#e1e1e1"/><stop offset=".999" stop-color="#e4e4e4"/><stop offset="1" stop-color="#e4e4e4"/></linearGradient><linearGradient id="m167" x1="0" y1="0" x2="0" y2="1"><stop offset=".005" stop-color="#232323"/><stop offset=".083" stop-color="#343434"/><stop offset=".167" stop-color="#4e4e4e"/><stop offset=".245" stop-color="#686868"/><stop offset=".282" stop-color="#818181"/><stop offset=".560" stop-color="#9b9b9b"/><stop offset=".642" stop-color="#b5b5b5"/><stop offset=".709" stop-color="#cfcfcf"/><stop offset=".747" stop-color="#d9d9d9"/><stop offset=".795" stop-color="#e1e1e1"/><stop offset=".999" stop-color="#e4e4e4"/><stop offset="1" stop-color="#e4e4e4"/></linearGradient><linearGradient id="m168" x1="0" y1="0" x2="0" y2="1"><stop offset=".005" stop-color="#252525"/><stop offset=".084" stop-color="#343434"/><stop offset=".144" stop-color="#4e4e4e"/><stop offset=".243" stop-color="#686868"/><stop offset=".281" stop-color="#818181"/><stop offset=".560" stop-color="#9b9b9b"/><stop offset=".643" stop-color="#b5b5b5"/><stop offset=".713" stop-color="#cfcfcf"/><stop offset=".751" stop-color="#d9d9d9"/><stop offset=".799" stop-color="#e0e0e0"/><stop offset=".999" stop-color="#e3e3e3"/><stop offset="1" stop-color="#e3e3e3"/></linearGradient><linearGradient id="m169" x1="0" y1="0" x2="0" y2="1"><stop offset=".005" stop-color="#272727"/><stop offset=".085" stop-color="#343434"/><stop offset=".136" stop-color="#4e4e4e"/><stop offset=".237" stop-color="#686868"/><stop offset=".278" stop-color="#818181"/><stop offset=".561" stop-color="#9b9b9b"/><stop offset=".643" stop-color="#b5b5b5"/><stop offset=".718" stop-color="#cfcfcf"/><stop offset=".756" stop-color="#d9d9d9"/><stop offset=".804" stop-color="#e0e0e0"/><stop offset=".999" stop-color="#e3e3e3"/><stop offset="1" stop-color="#e3e3e3"/></linearGradient><linearGradient id="m170" x1="0" y1="0" x2="0" y2="1"><stop offset=".005" stop-color="#292929"/><stop offset=".084" stop-color="#343434"/><stop offset=".128" stop-color="#4e4e4e"/><stop offset=".231" stop-color="#686868"/><stop offset=".275" stop-color="#818181"/><stop offset=".562" stop-color="#9b9b9b"/><stop offset=".644" stop-color="#b5b5b5"/><stop offset=".724" stop-color="#cfcfcf"/><stop offset=".762" stop-color="#d9d9d9"/><stop offset=".810" stop-color="#e0e0e0"/><stop offset=".999" stop-color="#e3e3e3"/><stop offset="1" stop-color="#e3e3e3"/></linearGradient><linearGradient id="m171" x1="0" y1="0" x2="0" y2="1"><stop offset=".005" stop-color="#2b2b2b"/><stop offset=".080" stop-color="#343434"/><stop offset=".122" stop-color="#4e4e4e"/><stop offset=".221" stop-color="#686868"/><stop offset=".272" stop-color="#818181"/><stop offset=".563" stop-color="#9b9b9b"/><stop offset=".646" stop-color="#b5b5b5"/><stop offset=".731" stop-color="#cfcfcf"/><stop offset=".769" stop-color="#d8d8d8"/><stop offset=".817" stop-color="#e0e0e0"/><stop offset=".999" stop-color="#e3e3e3"/><stop offset="1" stop-color="#e3e3e3"/></linearGradient><linearGradient id="m172" x1="0" y1="0" x2="0" y2="1"><stop offset=".005" stop-color="#2e2e2e"/><stop offset=".076" stop-color="#343434"/><stop offset=".115" stop-color="#4e4e4e"/><stop offset=".211" stop-color="#686868"/><stop offset=".265" stop-color="#818181"/><stop offset=".563" stop-color="#9b9b9b"/><stop offset=".648" stop-color="#b5b5b5"/><stop offset=".740" stop-color="#cfcfcf"/><stop offset=".778" stop-color="#d8d8d8"/><stop offset=".826" stop-color="#dfdfdf"/><stop offset=".999" stop-color="#e2e2e2"/><stop offset="1" stop-color="#e2e2e2"/></linearGradient><linearGradient id="m173" x1="0" y1="0" x2="0" y2="1"><stop offset=".005" stop-color="#303030"/><stop offset=".071" stop-color="#343434"/><stop offset=".108" stop-color="#4e4e4e"/><stop offset=".163" stop-color="#686868"/><stop offset=".257" stop-color="#818181"/><stop offset=".563" stop-color="#9b9b9b"/><stop offset=".649" stop-color="#b5b5b5"/><stop offset=".758" stop-color="#cfcfcf"/><stop offset=".797" stop-color="#d8d8d8"/><stop offset=".845" stop-color="#dfdfdf"/><stop offset=".999" stop-color="#e2e2e2"/><stop offset="1" stop-color="#e2e2e2"/></linearGradient><linearGradient id="m174" x1="0" y1="0" x2="0" y2="1"><stop offset=".005" stop-color="#323232"/><stop offset=".065" stop-color="#343434"/><stop offset=".101" stop-color="#4e4e4e"/><stop offset=".148" stop-color="#686868"/><stop offset=".237" stop-color="#818181"/><stop offset=".563" stop-color="#9b9b9b"/><stop offset=".651" stop-color="#b5b5b5"/><stop offset=".790" stop-color="#cfcfcf"/><stop offset=".828" stop-color="#d8d8d8"/><stop offset=".876" stop-color="#dfdfdf"/><stop offset=".999" stop-color="#e2e2e2"/><stop offset="1" stop-color="#e2e2e2"/></linearGradient><linearGradient id="m175" x1="0" y1="0" x2="0" y2="1"><stop offset=".005" stop-color="#3e3e3e"/><stop offset=".058" stop-color="#343434"/><stop offset=".094" stop-color="#4e4e4e"/><stop offset=".136" stop-color="#686868"/><stop offset=".197" stop-color="#818181"/><stop offset=".563" stop-color="#9b9b9b"/><stop offset=".653" stop-color="#b5b5b5"/><stop offset=".857" stop-color="#cfcfcf"/><stop offset=".895" stop-color="#d8d8d8"/><stop offset=".943" stop-color="#dedede"/><stop offset=".999" stop-color="#e1e1e1"/><stop offset="1" stop-color="#e1e1e1"/></linearGradient><linearGradient id="m176" x1="0" y1="0" x2="0" y2="1"><stop offset=".005" stop-color="#3e3e3e"/><stop offset=".051" stop-color="#343434"/><stop offset=".089" stop-color="#4e4e4e"/><stop offset=".124" stop-color="#686868"/><stop offset=".178" stop-color="#818181"/><stop offset=".563" stop-color="#9b9b9b"/><stop offset=".655" stop-color="#b5b5b5"/><stop offset=".916" stop-color="#cfcfcf"/><stop offset=".954" stop-color="#d8d8d8"/><stop offset="1" stop-color="#dedede"/></linearGradient><linearGradient id="m177" x1="0" y1="0" x2="0" y2="1"><stop offset=".005" stop-color="#3e3e3e"/><stop offset=".040" stop-color="#343434"/><stop offset=".086" stop-color="#4e4e4e"/><stop offset=".117" stop-color="#686868"/><stop offset=".171" stop-color="#818181"/><stop offset=".563" stop-color="#9b9b9b"/><stop offset=".656" stop-color="#b5b5b5"/><stop offset=".945" stop-color="#cfcfcf"/><stop offset=".983" stop-color="#d7d7d7"/><stop offset="1" stop-color="#dadada"/></linearGradient><linearGradient id="m178" x1="0" y1="0" x2="0" y2="1"><stop offset=".005" stop-color="#3c3c3c"/><stop offset=".083" stop-color="#4e4e4e"/><stop offset=".109" stop-color="#686868"/><stop offset=".163" stop-color="#818181"/><stop offset=".563" stop-color="#9b9b9b"/><stop offset=".658" stop-color="#b5b5b5"/><stop offset=".974" stop-color="#cfcfcf"/><stop offset="1" stop-color="#d5d5d5"/></linearGradient><linearGradient id="m179" x1="0" y1="0" x2="0" y2="1"><stop offset=".005" stop-color="#3c3c3c"/><stop offset=".080" stop-color="#4e4e4e"/><stop offset=".103" stop-color="#686868"/><stop offset=".157" stop-color="#818181"/><stop offset=".563" stop-color="#9b9b9b"/><stop offset=".660" stop-color="#b5b5b5"/><stop offset=".998" stop-color="#cfcfcf"/><stop offset="1" stop-color="#d0d0d0"/></linearGradient><linearGradient id="m180" x1="0" y1="0" x2="0" y2="1"><stop offset=".005" stop-color="#3c3c3c"/><stop offset=".080" stop-color="#4e4e4e"/><stop offset=".103" stop-color="#686868"/><stop offset=".157" stop-color="#818181"/><stop offset=".563" stop-color="#9b9b9b"/><stop offset=".660" stop-color="#b5b5b5"/><stop offset=".998" stop-color="#cfcfcf"/><stop offset="1" stop-color="#d0d0d0"/></linearGradient><clipPath id="mclip"><rect x="293.8" y="202.7" width="2837.2" height="1088"/></clipPath><linearGradient id="cbg" gradientUnits="userSpaceOnUse" x1="0" y1="203" x2="0" y2="1291"><stop offset="0" stop-color="#fff"/><stop offset="1" stop-color="#000"/></linearGradient><clipPath id="iclip"><rect x="1831.5" y="942.4" width="295.2" height="213.1"/></clipPath><filter id="b3" x="-20%" y="-20%" width="140%" height="140%"><feGaussianBlur stdDeviation="3"/></filter><linearGradient id="s0" x1="0" y1="0" x2="0" y2="1"><stop offset="." stop-color="#fbfbfb"/><stop offset=".0064" stop-color="#fbfbfb"/><stop offset=".0213" stop-color="#f2f2f2"/><stop offset=".0341" stop-color="#e1e1e1"/><stop offset=".0461" stop-color="#d2d2d2"/><stop offset=".0605" stop-color="#8c8c8c"/><stop offset=".0693" stop-color="#686868"/><stop offset=".103" stop-color="#414141"/><stop offset=".1158" stop-color="#252525"/><stop offset=".147" stop-color="#1f1f1f"/><stop offset=".1782" stop-color="#252525"/><stop offset=".2598" stop-color="#414141"/><stop offset=".3478" stop-color="#686868"/><stop offset=".4401" stop-color="#888888"/><stop offset=".553" stop-color="#686868"/><stop offset="1" stop-color="#505050"/></linearGradient><linearGradient id="s1" x1="0" y1="0" x2="0" y2="1"><stop offset="." stop-color="#fbfbfb"/><stop offset=".0064" stop-color="#fbfbfb"/><stop offset=".0213" stop-color="#f2f2f2"/><stop offset=".0341" stop-color="#e1e1e1"/><stop offset=".0461" stop-color="#d2d2d2"/><stop offset=".0605" stop-color="#8c8c8c"/><stop offset=".0693" stop-color="#686868"/><stop offset=".103" stop-color="#414141"/><stop offset=".1158" stop-color="#252525"/><stop offset=".147" stop-color="#1f1f1f"/><stop offset=".1782" stop-color="#252525"/><stop offset=".2598" stop-color="#414141"/><stop offset=".3478" stop-color="#686868"/><stop offset=".4401" stop-color="#888888"/><stop offset=".553" stop-color="#686868"/><stop offset="1" stop-color="#505050"/></linearGradient><linearGradient id="s2" x1="0" y1="0" x2="0" y2="1"><stop offset="." stop-color="#fbfbfb"/><stop offset=".0064" stop-color="#fbfbfb"/><stop offset=".0213" stop-color="#f2f2f2"/><stop offset=".0341" stop-color="#e1e1e1"/><stop offset=".0461" stop-color="#d2d2d2"/><stop offset=".0605" stop-color="#8c8c8c"/><stop offset=".0693" stop-color="#686868"/><stop offset=".1032" stop-color="#414141"/><stop offset=".1161" stop-color="#252525"/><stop offset=".1471" stop-color="#1f1f1f"/><stop offset=".1781" stop-color="#252525"/><stop offset=".26" stop-color="#414141"/><stop offset=".3478" stop-color="#686868"/><stop offset=".4409" stop-color="#888888"/><stop offset=".5546" stop-color="#686868"/><stop offset="1" stop-color="#505050"/></linearGradient><linearGradient id="s3" x1="0" y1="0" x2="0" y2="1"><stop offset="." stop-color="#fbfbfb"/><stop offset=".0064" stop-color="#fbfbfb"/><stop offset=".0213" stop-color="#f2f2f2"/><stop offset=".0341" stop-color="#e1e1e1"/><stop offset=".0461" stop-color="#d2d2d2"/><stop offset=".0605" stop-color="#8c8c8c"/><stop offset=".0693" stop-color="#686868"/><stop offset=".1034" stop-color="#414141"/><stop offset=".1165" stop-color="#252525"/><stop offset=".1473" stop-color="#1e1e1e"/><stop offset=".178" stop-color="#252525"/><stop offset=".2602" stop-color="#414141"/><stop offset=".3477" stop-color="#686868"/><stop offset=".4416" stop-color="#888888"/><stop offset=".5565" stop-color="#686868"/><stop offset="1" stop-color="#505050"/></linearGradient><linearGradient id="s4" x1="0" y1="0" x2="0" y2="1"><stop offset="." stop-color="#fbfbfb"/><stop offset=".0064" stop-color="#fbfbfb"/><stop offset=".0213" stop-color="#f2f2f2"/><stop offset=".0341" stop-color="#e1e1e1"/><stop offset=".0461" stop-color="#d2d2d2"/><stop offset=".0605" stop-color="#8c8c8c"/><stop offset=".0693" stop-color="#686868"/><stop offset=".1039" stop-color="#414141"/><stop offset=".1173" stop-color="#252525"/><stop offset=".1476" stop-color="#1e1e1e"/><stop offset=".1779" stop-color="#252525"/><stop offset=".2603" stop-color="#414141"/><stop offset=".3476" stop-color="#686868"/><stop offset=".4424" stop-color="#888888"/><stop offset=".5583" stop-color="#686868"/><stop offset="1" stop-color="#505050"/></linearGradient><linearGradient id="s5" x1="0" y1="0" x2="0" y2="1"><stop offset="." stop-color="#fbfbfb"/><stop offset=".0064" stop-color="#fbfbfb"/><stop offset=".0213" stop-color="#f2f2f2"/><stop offset=".0341" stop-color="#e1e1e1"/><stop offset=".0461" stop-color="#d2d2d2"/><stop offset=".0605" stop-color="#8c8c8c"/><stop offset=".0701" stop-color="#686868"/><stop offset=".1061" stop-color="#414141"/><stop offset=".1195" stop-color="#252525"/><stop offset=".1485" stop-color="#1e1e1e"/><stop offset=".1775" stop-color="#252525"/><stop offset=".2606" stop-color="#414141"/><stop offset=".347" stop-color="#686868"/><stop offset=".4429" stop-color="#888888"/><stop offset=".5601" stop-color="#686868"/><stop offset="1" stop-color="#505050"/></linearGradient><linearGradient id="s6" x1="0" y1="0" x2="0" y2="1"><stop offset="." stop-color="#f9f9f9"/><stop offset=".0064" stop-color="#f9f9f9"/><stop offset=".0213" stop-color="#f2f2f2"/><stop offset=".0341" stop-color="#e1e1e1"/><stop offset=".0461" stop-color="#d2d2d2"/><stop offset=".0605" stop-color="#8c8c8c"/><stop offset=".0713" stop-color="#686868"/><stop offset=".1082" stop-color="#414141"/><stop offset=".1218" stop-color="#252525"/><stop offset=".1494" stop-color="#1e1e1e"/><stop offset=".177" stop-color="#252525"/><stop offset=".2611" stop-color="#414141"/><stop offset=".3454" stop-color="#686868"/><stop offset=".443" stop-color="#888888"/><stop offset=".5624" stop-color="#686868"/><stop offset="1" stop-color="#505050"/></linearGradient><linearGradient id="s7" x1="0" y1="0" x2="0" y2="1"><stop offset="." stop-color="#f6f6f6"/><stop offset=".0064" stop-color="#f6f6f6"/><stop offset=".0213" stop-color="#f2f2f2"/><stop offset=".0341" stop-color="#e1e1e1"/><stop offset=".0461" stop-color="#d2d2d2"/><stop offset=".0605" stop-color="#8c8c8c"/><stop offset=".0724" stop-color="#686868"/><stop offset=".1099" stop-color="#414141"/><stop offset=".124" stop-color="#252525"/><stop offset=".1502" stop-color="#1d1d1d"/><stop offset=".1765" stop-color="#252525"/><stop offset=".2615" stop-color="#414141"/><stop offset=".3437" stop-color="#686868"/><stop offset=".4433" stop-color="#868686"/><stop offset=".5651" stop-color="#686868"/><stop offset="1" stop-color="#505050"/></linearGradient><linearGradient id="s8" x1="0" y1="0" x2="0" y2="1"><stop offset="." stop-color="#f4f4f4"/><stop offset=".0064" stop-color="#f4f4f4"/><stop offset=".0213" stop-color="#f2f2f2"/><stop offset=".0341" stop-color="#e1e1e1"/><stop offset=".0461" stop-color="#d2d2d2"/><stop offset=".0605" stop-color="#8c8c8c"/><stop offset=".0736" stop-color="#686868"/><stop offset=".1062" stop-color="#414141"/><stop offset=".1247" stop-color="#252525"/><stop offset=".1498" stop-color="#1d1d1d"/><stop offset=".1749" stop-color="#252525"/><stop offset=".262" stop-color="#414141"/><stop offset=".3421" stop-color="#686868"/><stop offset=".4436" stop-color="#858585"/><stop offset=".5677" stop-color="#686868"/><stop offset="1" stop-color="#505050"/></linearGradient><linearGradient id="s9" x1="0" y1="0" x2="0" y2="1"><stop offset="." stop-color="#e7e7e7"/><stop offset=".0064" stop-color="#e7e7e7"/><stop offset=".0213" stop-color="#f2f2f2"/><stop offset=".0341" stop-color="#e1e1e1"/><stop offset=".0461" stop-color="#d2d2d2"/><stop offset=".0605" stop-color="#8c8c8c"/><stop offset=".072" stop-color="#686868"/><stop offset=".0989" stop-color="#414141"/><stop offset=".1241" stop-color="#252525"/><stop offset=".1483" stop-color="#1d1d1d"/><stop offset=".1726" stop-color="#252525"/><stop offset=".2593" stop-color="#414141"/><stop offset=".3404" stop-color="#686868"/><stop offset=".4439" stop-color="#838383"/><stop offset=".5704" stop-color="#686868"/><stop offset="1" stop-color="#505050"/></linearGradient><linearGradient id="s10" x1="0" y1="0" x2="0" y2="1"><stop offset="." stop-color="#a8a8a8"/><stop offset=".0064" stop-color="#a8a8a8"/><stop offset=".046" stop-color="#8c8c8c"/><stop offset=".0682" stop-color="#686868"/><stop offset=".0888" stop-color="#414141"/><stop offset=".1234" stop-color="#252525"/><stop offset=".1468" stop-color="#1c1c1c"/><stop offset=".1702" stop-color="#252525"/><stop offset=".2559" stop-color="#414141"/><stop offset=".3388" stop-color="#686868"/><stop offset=".4442" stop-color="#818181"/><stop offset=".573" stop-color="#686868"/><stop offset="1" stop-color="#505050"/></linearGradient><linearGradient id="s11" x1="0" y1="0" x2="0" y2="1"><stop offset="." stop-color="#979797"/><stop offset=".0064" stop-color="#979797"/><stop offset=".0153" stop-color="#8c8c8c"/><stop offset=".0643" stop-color="#686868"/><stop offset=".0786" stop-color="#414141"/><stop offset=".1228" stop-color="#252525"/><stop offset=".1453" stop-color="#1c1c1c"/><stop offset=".1679" stop-color="#252525"/><stop offset=".2524" stop-color="#414141"/><stop offset=".3371" stop-color="#686868"/><stop offset=".4435" stop-color="#808080"/><stop offset=".5735" stop-color="#686868"/><stop offset="1" stop-color="#505050"/></linearGradient><linearGradient id="s12" x1="0" y1="0" x2="0" y2="1"><stop offset="." stop-color="#828282"/><stop offset=".0064" stop-color="#828282"/><stop offset=".0605" stop-color="#686868"/><stop offset=".0717" stop-color="#414141"/><stop offset=".1222" stop-color="#252525"/><stop offset=".1438" stop-color="#1c1c1c"/><stop offset=".1655" stop-color="#252525"/><stop offset=".249" stop-color="#414141"/><stop offset=".3355" stop-color="#686868"/><stop offset=".4428" stop-color="#7f7f7f"/><stop offset=".5739" stop-color="#686868"/><stop offset="1" stop-color="#505050"/></linearGradient><linearGradient id="s13" x1="0" y1="0" x2="0" y2="1"><stop offset="." stop-color="#7d7d7d"/><stop offset=".0064" stop-color="#7d7d7d"/><stop offset=".0485" stop-color="#686868"/><stop offset=".0661" stop-color="#414141"/><stop offset=".1181" stop-color="#252525"/><stop offset=".1406" stop-color="#1b1b1b"/><stop offset=".1631" stop-color="#252525"/><stop offset=".2454" stop-color="#414141"/><stop offset=".3339" stop-color="#686868"/><stop offset=".442" stop-color="#7d7d7d"/><stop offset=".5743" stop-color="#686868"/><stop offset="1" stop-color="#515151"/></linearGradient><linearGradient id="s14" x1="0" y1="0" x2="0" y2="1"><stop offset="." stop-color="#7b7b7b"/><stop offset=".0064" stop-color="#7b7b7b"/><stop offset=".0374" stop-color="#686868"/><stop offset=".0606" stop-color="#414141"/><stop offset=".1092" stop-color="#252525"/><stop offset=".135" stop-color="#1b1b1b"/><stop offset=".1608" stop-color="#252525"/><stop offset=".2416" stop-color="#414141"/><stop offset=".3322" stop-color="#686868"/><stop offset=".4413" stop-color="#7d7d7d"/><stop offset=".5747" stop-color="#686868"/><stop offset="1" stop-color="#515151"/></linearGradient><linearGradient id="s15" x1="0" y1="0" x2="0" y2="1"><stop offset="." stop-color="#797979"/><stop offset=".0064" stop-color="#797979"/><stop offset=".0301" stop-color="#686868"/><stop offset=".0551" stop-color="#414141"/><stop offset=".0834" stop-color="#252525"/><stop offset=".1209" stop-color="#1a1a1a"/><stop offset=".1584" stop-color="#252525"/><stop offset=".2378" stop-color="#414141"/><stop offset=".3306" stop-color="#686868"/><stop offset=".4406" stop-color="#7d7d7d"/><stop offset=".5751" stop-color="#686868"/><stop offset="1" stop-color="#515151"/></linearGradient><linearGradient id="s16" x1="0" y1="0" x2="0" y2="1"><stop offset="." stop-color="#767676"/><stop offset=".0064" stop-color="#767676"/><stop offset=".0267" stop-color="#686868"/><stop offset=".0464" stop-color="#414141"/><stop offset=".0717" stop-color="#252525"/><stop offset=".1142" stop-color="#191919"/><stop offset=".1567" stop-color="#252525"/><stop offset=".2341" stop-color="#414141"/><stop offset=".3289" stop-color="#686868"/><stop offset=".4384" stop-color="#7c7c7c"/><stop offset=".5723" stop-color="#686868"/><stop offset="1" stop-color="#515151"/></linearGradient><linearGradient id="s17" x1="0" y1="0" x2="0" y2="1"><stop offset="." stop-color="#747474"/><stop offset=".0064" stop-color="#747474"/><stop offset=".0253" stop-color="#686868"/><stop offset=".0371" stop-color="#414141"/><stop offset=".0669" stop-color="#252525"/><stop offset=".111" stop-color="#181818"/><stop offset=".1551" stop-color="#252525"/><stop offset=".2303" stop-color="#414141"/><stop offset=".3273" stop-color="#686868"/><stop offset=".436" stop-color="#7c7c7c"/><stop offset=".5688" stop-color="#686868"/><stop offset="1" stop-color="#515151"/></linearGradient><linearGradient id="s18" x1="0" y1="0" x2="0" y2="1"><stop offset="." stop-color="#737373"/><stop offset=".0064" stop-color="#737373"/><stop offset=".0239" stop-color="#686868"/><stop offset=".0353" stop-color="#414141"/><stop offset=".0622" stop-color="#252525"/><stop offset=".1079" stop-color="#161616"/><stop offset=".1535" stop-color="#252525"/><stop offset=".2271" stop-color="#414141"/><stop offset=".3256" stop-color="#686868"/><stop offset=".4335" stop-color="#7c7c7c"/><stop offset=".5653" stop-color="#686868"/><stop offset="1" stop-color="#515151"/></linearGradient><linearGradient id="s19" x1="0" y1="0" x2="0" y2="1"><stop offset="." stop-color="#737373"/><stop offset=".0064" stop-color="#737373"/><stop offset=".0228" stop-color="#686868"/><stop offset=".0354" stop-color="#414141"/><stop offset=".0575" stop-color="#252525"/><stop offset=".1047" stop-color="#141414"/><stop offset=".1519" stop-color="#252525"/><stop offset=".2258" stop-color="#414141"/><stop offset=".324" stop-color="#686868"/><stop offset=".431" stop-color="#7c7c7c"/><stop offset=".5618" stop-color="#686868"/><stop offset="1" stop-color="#515151"/></linearGradient><linearGradient id="s20" x1="0" y1="0" x2="0" y2="1"><stop offset="." stop-color="#737373"/><stop offset=".0064" stop-color="#737373"/><stop offset=".0226" stop-color="#686868"/><stop offset=".0355" stop-color="#414141"/><stop offset=".0548" stop-color="#252525"/><stop offset=".1026" stop-color="#131313"/><stop offset=".1503" stop-color="#252525"/><stop offset=".2245" stop-color="#414141"/><stop offset=".3223" stop-color="#686868"/><stop offset=".4277" stop-color="#7c7c7c"/><stop offset=".5565" stop-color="#686868"/><stop offset="1" stop-color="#515151"/></linearGradient><linearGradient id="s21" x1="0" y1="0" x2="0" y2="1"><stop offset="." stop-color="#737373"/><stop offset=".0064" stop-color="#737373"/><stop offset=".0224" stop-color="#686868"/><stop offset=".0355" stop-color="#414141"/><stop offset=".0523" stop-color="#252525"/><stop offset=".1005" stop-color="#111111"/><stop offset=".1487" stop-color="#252525"/><stop offset=".2232" stop-color="#414141"/><stop offset=".3207" stop-color="#686868"/><stop offset=".4244" stop-color="#7c7c7c"/><stop offset=".5512" stop-color="#686868"/><stop offset="1" stop-color="#515151"/></linearGradient><linearGradient id="s22" x1="0" y1="0" x2="0" y2="1"><stop offset="." stop-color="#737373"/><stop offset=".0064" stop-color="#737373"/><stop offset=".0221" stop-color="#686868"/><stop offset=".0356" stop-color="#414141"/><stop offset=".0497" stop-color="#252525"/><stop offset=".0987" stop-color="#0f0f0f"/><stop offset=".1478" stop-color="#252525"/><stop offset=".2219" stop-color="#414141"/><stop offset=".3206" stop-color="#686868"/><stop offset=".422" stop-color="#7b7b7b"/><stop offset=".546" stop-color="#686868"/><stop offset="1" stop-color="#515151"/></linearGradient><linearGradient id="s23" x1="0" y1="0" x2="0" y2="1"><stop offset="." stop-color="#737373"/><stop offset=".0064" stop-color="#737373"/><stop offset=".0223" stop-color="#686868"/><stop offset=".0357" stop-color="#414141"/><stop offset=".0475" stop-color="#252525"/><stop offset=".0976" stop-color="#101010"/><stop offset=".1478" stop-color="#252525"/><stop offset=".2208" stop-color="#414141"/><stop offset=".3206" stop-color="#686868"/><stop offset=".4217" stop-color="#7b7b7b"/><stop offset=".5453" stop-color="#686868"/><stop offset="1" stop-color="#515151"/></linearGradient><linearGradient id="s24" x1="0" y1="0" x2="0" y2="1"><stop offset="." stop-color="#737373"/><stop offset=".0064" stop-color="#737373"/><stop offset=".0225" stop-color="#686868"/><stop offset=".0361" stop-color="#414141"/><stop offset=".0481" stop-color="#252525"/><stop offset=".0979" stop-color="#111111"/><stop offset=".1478" stop-color="#252525"/><stop offset=".2217" stop-color="#414141"/><stop offset=".3206" stop-color="#686868"/><stop offset=".4216" stop-color="#7b7b7b"/><stop offset=".5449" stop-color="#686868"/><stop offset="1" stop-color="#515151"/></linearGradient><linearGradient id="s25" x1="0" y1="0" x2="0" y2="1"><stop offset="." stop-color="#737373"/><stop offset=".0064" stop-color="#737373"/><stop offset=".0227" stop-color="#686868"/><stop offset=".0365" stop-color="#414141"/><stop offset=".0488" stop-color="#252525"/><stop offset=".0983" stop-color="#131313"/><stop offset=".1478" stop-color="#252525"/><stop offset=".2226" stop-color="#414141"/><stop offset=".3206" stop-color="#686868"/><stop offset=".4214" stop-color="#7b7b7b"/><stop offset=".5445" stop-color="#686868"/><stop offset="1" stop-color="#515151"/></linearGradient><linearGradient id="s26" x1="0" y1="0" x2="0" y2="1"><stop offset="." stop-color="#737373"/><stop offset=".0064" stop-color="#737373"/><stop offset=".0229" stop-color="#686868"/><stop offset=".0368" stop-color="#414141"/><stop offset=".0507" stop-color="#252525"/><stop offset=".0992" stop-color="#141414"/><stop offset=".1478" stop-color="#252525"/><stop offset=".2234" stop-color="#414141"/><stop offset=".3215" stop-color="#686868"/><stop offset=".4233" stop-color="#7b7b7b"/><stop offset=".5476" stop-color="#686868"/><stop offset="1" stop-color="#515151"/></linearGradient><linearGradient id="s27" x1="0" y1="0" x2="0" y2="1"><stop offset="." stop-color="#737373"/><stop offset=".0064" stop-color="#737373"/><stop offset=".024" stop-color="#686868"/><stop offset=".0372" stop-color="#414141"/><stop offset=".0537" stop-color="#252525"/><stop offset=".1009" stop-color="#151515"/><stop offset=".1482" stop-color="#252525"/><stop offset=".2247" stop-color="#414141"/><stop offset=".3232" stop-color="#686868"/><stop offset=".4258" stop-color="#7b7b7b"/><stop offset=".5513" stop-color="#686868"/><stop offset="1" stop-color="#525252"/></linearGradient><linearGradient id="s28" x1="0" y1="0" x2="0" y2="1"><stop offset="." stop-color="#767676"/><stop offset=".0064" stop-color="#767676"/><stop offset=".025" stop-color="#686868"/><stop offset=".0399" stop-color="#414141"/><stop offset=".0567" stop-color="#252525"/><stop offset=".1034" stop-color="#171717"/><stop offset=".1502" stop-color="#252525"/><stop offset=".2273" stop-color="#414141"/><stop offset=".3248" stop-color="#686868"/><stop offset=".4284" stop-color="#7a7a7a"/><stop offset=".555" stop-color="#686868"/><stop offset="1" stop-color="#525252"/></linearGradient><linearGradient id="s29" x1="0" y1="0" x2="0" y2="1"><stop offset="." stop-color="#787878"/><stop offset=".0064" stop-color="#787878"/><stop offset=".026" stop-color="#686868"/><stop offset=".0435" stop-color="#414141"/><stop offset=".0597" stop-color="#252525"/><stop offset=".1059" stop-color="#181818"/><stop offset=".1522" stop-color="#252525"/><stop offset=".2298" stop-color="#414141"/><stop offset=".3264" stop-color="#686868"/><stop offset=".4309" stop-color="#7a7a7a"/><stop offset=".5587" stop-color="#686868"/><stop offset="1" stop-color="#525252"/></linearGradient><linearGradient id="s30" x1="0" y1="0" x2="0" y2="1"><stop offset="." stop-color="#7a7a7a"/><stop offset=".0064" stop-color="#7a7a7a"/><stop offset=".0292" stop-color="#686868"/><stop offset=".0471" stop-color="#414141"/><stop offset=".0633" stop-color="#252525"/><stop offset=".1087" stop-color="#191919"/><stop offset=".1542" stop-color="#252525"/><stop offset=".2324" stop-color="#414141"/><stop offset=".328" stop-color="#686868"/><stop offset=".4335" stop-color="#7a7a7a"/><stop offset=".5623" stop-color="#686868"/><stop offset="1" stop-color="#525252"/></linearGradient><linearGradient id="s31" x1="0" y1="0" x2="0" y2="1"><stop offset="." stop-color="#7d7d7d"/><stop offset=".0064" stop-color="#7d7d7d"/><stop offset=".0325" stop-color="#686868"/><stop offset=".0508" stop-color="#414141"/><stop offset=".0671" stop-color="#252525"/><stop offset=".1116" stop-color="#191919"/><stop offset=".1562" stop-color="#252525"/><stop offset=".235" stop-color="#414141"/><stop offset=".3297" stop-color="#686868"/><stop offset=".436" stop-color="#7a7a7a"/><stop offset=".566" stop-color="#686868"/><stop offset="1" stop-color="#525252"/></linearGradient><linearGradient id="s32" x1="0" y1="0" x2="0" y2="1"><stop offset="." stop-color="#898989"/><stop offset=".0064" stop-color="#898989"/><stop offset=".0103" stop-color="#8c8c8c"/><stop offset=".0358" stop-color="#686868"/><stop offset=".0543" stop-color="#414141"/><stop offset=".0709" stop-color="#252525"/><stop offset=".1145" stop-color="#1a1a1a"/><stop offset=".1582" stop-color="#252525"/><stop offset=".2376" stop-color="#414141"/><stop offset=".3314" stop-color="#686868"/><stop offset=".4385" stop-color="#7a7a7a"/><stop offset=".5694" stop-color="#686868"/><stop offset="1" stop-color="#525252"/></linearGradient><linearGradient id="s33" x1="0" y1="0" x2="0" y2="1"><stop offset="." stop-color="#989898"/><stop offset=".0064" stop-color="#989898"/><stop offset=".0156" stop-color="#8c8c8c"/><stop offset=".0387" stop-color="#686868"/><stop offset=".0572" stop-color="#414141"/><stop offset=".0748" stop-color="#252525"/><stop offset=".1175" stop-color="#1a1a1a"/><stop offset=".1602" stop-color="#252525"/><stop offset=".2397" stop-color="#414141"/><stop offset=".3335" stop-color="#686868"/><stop offset=".4407" stop-color="#7a7a7a"/><stop offset=".5717" stop-color="#686868"/><stop offset="1" stop-color="#525252"/></linearGradient><linearGradient id="s34" x1="0" y1="0" x2="0" y2="1"><stop offset="." stop-color="#a2a2a2"/><stop offset=".0064" stop-color="#a2a2a2"/><stop offset=".0208" stop-color="#8c8c8c"/><stop offset=".0415" stop-color="#686868"/><stop offset=".0601" stop-color="#414141"/><stop offset=".0776" stop-color="#252525"/><stop offset=".1199" stop-color="#1b1b1b"/><stop offset=".1623" stop-color="#252525"/><stop offset=".2419" stop-color="#414141"/><stop offset=".3355" stop-color="#686868"/><stop offset=".4429" stop-color="#797979"/><stop offset=".5741" stop-color="#686868"/><stop offset="1" stop-color="#525252"/></linearGradient><linearGradient id="s35" x1="0" y1="0" x2="0" y2="1"><stop offset="." stop-color="#acacac"/><stop offset=".0064" stop-color="#acacac"/><stop offset=".0265" stop-color="#8c8c8c"/><stop offset=".0444" stop-color="#686868"/><stop offset=".063" stop-color="#414141"/><stop offset=".0801" stop-color="#252525"/><stop offset=".1222" stop-color="#1b1b1b"/><stop offset=".1643" stop-color="#252525"/><stop offset=".2441" stop-color="#414141"/><stop offset=".3376" stop-color="#686868"/><stop offset=".4451" stop-color="#797979"/><stop offset=".5765" stop-color="#686868"/><stop offset="1" stop-color="#525252"/></linearGradient><linearGradient id="s36" x1="0" y1="0" x2="0" y2="1"><stop offset="." stop-color="#b3b3b3"/><stop offset=".0064" stop-color="#b3b3b3"/><stop offset=".0333" stop-color="#8c8c8c"/><stop offset=".0464" stop-color="#686868"/><stop offset=".0659" stop-color="#414141"/><stop offset=".0826" stop-color="#252525"/><stop offset=".1245" stop-color="#1b1b1b"/><stop offset=".1664" stop-color="#252525"/><stop offset=".2463" stop-color="#414141"/><stop offset=".3396" stop-color="#686868"/><stop offset=".4471" stop-color="#797979"/><stop offset=".5784" stop-color="#686868"/><stop offset="1" stop-color="#525252"/></linearGradient><linearGradient id="s37" x1="0" y1="0" x2="0" y2="1"><stop offset="." stop-color="#b8b8b8"/><stop offset=".0064" stop-color="#b8b8b8"/><stop offset=".0393" stop-color="#8c8c8c"/><stop offset=".048" stop-color="#686868"/><stop offset=".0688" stop-color="#414141"/><stop offset=".0851" stop-color="#252525"/><stop offset=".1268" stop-color="#1b1b1b"/><stop offset=".1684" stop-color="#252525"/><stop offset=".2484" stop-color="#414141"/><stop offset=".3417" stop-color="#686868"/><stop offset=".4483" stop-color="#797979"/><stop offset=".5787" stop-color="#686868"/><stop offset="1" stop-color="#525252"/></linearGradient><linearGradient id="s38" x1="0" y1="0" x2="0" y2="1"><stop offset="." stop-color="#bdbdbd"/><stop offset=".0064" stop-color="#bdbdbd"/><stop offset=".0416" stop-color="#8c8c8c"/><stop offset=".0498" stop-color="#686868"/><stop offset=".0704" stop-color="#414141"/><stop offset=".0876" stop-color="#252525"/><stop offset=".129" stop-color="#1b1b1b"/><stop offset=".1705" stop-color="#252525"/><stop offset=".2497" stop-color="#414141"/><stop offset=".3437" stop-color="#686868"/><stop offset=".4495" stop-color="#797979"/><stop offset=".5789" stop-color="#686868"/><stop offset="1" stop-color="#525252"/></linearGradient><linearGradient id="s39" x1="0" y1="0" x2="0" y2="1"><stop offset="." stop-color="#c2c2c2"/><stop offset=".0064" stop-color="#c2c2c2"/><stop offset=".0438" stop-color="#8c8c8c"/><stop offset=".0516" stop-color="#686868"/><stop offset=".0719" stop-color="#414141"/><stop offset=".0893" stop-color="#252525"/><stop offset=".1306" stop-color="#1b1b1b"/><stop offset=".1718" stop-color="#252525"/><stop offset=".251" stop-color="#414141"/><stop offset=".3458" stop-color="#686868"/><stop offset=".4508" stop-color="#797979"/><stop offset=".5792" stop-color="#686868"/><stop offset="1" stop-color="#525252"/></linearGradient><linearGradient id="s40" x1="0" y1="0" x2="0" y2="1"><stop offset="." stop-color="#c6c6c6"/><stop offset=".0064" stop-color="#c6c6c6"/><stop offset=".0461" stop-color="#8c8c8c"/><stop offset=".0535" stop-color="#686868"/><stop offset=".0735" stop-color="#414141"/><stop offset=".0907" stop-color="#252525"/><stop offset=".1317" stop-color="#1c1c1c"/><stop offset=".1727" stop-color="#252525"/><stop offset=".2522" stop-color="#414141"/><stop offset=".347" stop-color="#686868"/><stop offset=".4516" stop-color="#797979"/><stop offset=".5794" stop-color="#686868"/><stop offset="1" stop-color="#525252"/></linearGradient><linearGradient id="s41" x1="0" y1="0" x2="0" y2="1"><stop offset="." stop-color="#cbcbcb"/><stop offset=".0064" stop-color="#cbcbcb"/><stop offset=".0191" stop-color="#d2d2d2"/><stop offset=".0229" stop-color="#d6d6d6"/><stop offset=".0267" stop-color="#d2d2d2"/><stop offset=".0484" stop-color="#8c8c8c"/><stop offset=".0553" stop-color="#686868"/><stop offset=".075" stop-color="#414141"/><stop offset=".092" stop-color="#252525"/><stop offset=".1327" stop-color="#1c1c1c"/><stop offset=".1735" stop-color="#252525"/><stop offset=".2535" stop-color="#414141"/><stop offset=".3479" stop-color="#686868"/><stop offset=".4521" stop-color="#797979"/><stop offset=".5796" stop-color="#686868"/><stop offset="1" stop-color="#525252"/></linearGradient><linearGradient id="s42" x1="0" y1="0" x2="0" y2="1"><stop offset="." stop-color="#cbcbcb"/><stop offset=".0064" stop-color="#cbcbcb"/><stop offset=".0153" stop-color="#d2d2d2"/><stop offset=".0229" stop-color="#d9d9d9"/><stop offset=".0304" stop-color="#d2d2d2"/><stop offset=".0506" stop-color="#8c8c8c"/><stop offset=".0571" stop-color="#686868"/><stop offset=".0766" stop-color="#414141"/><stop offset=".0933" stop-color="#252525"/><stop offset=".1338" stop-color="#1c1c1c"/><stop offset=".1744" stop-color="#252525"/><stop offset=".2547" stop-color="#414141"/><stop offset=".3488" stop-color="#686868"/><stop offset=".4521" stop-color="#797979"/><stop offset=".5783" stop-color="#686868"/><stop offset="1" stop-color="#535353"/></linearGradient><linearGradient id="s43" x1="0" y1="0" x2="0" y2="1"><stop offset="." stop-color="#cbcbcb"/><stop offset=".0064" stop-color="#cbcbcb"/><stop offset=".0133" stop-color="#d2d2d2"/><stop offset=".0229" stop-color="#dcdcdc"/><stop offset=".0325" stop-color="#d2d2d2"/><stop offset=".0529" stop-color="#8c8c8c"/><stop offset=".0589" stop-color="#686868"/><stop offset=".0781" stop-color="#414141"/><stop offset=".0946" stop-color="#252525"/><stop offset=".1349" stop-color="#1c1c1c"/><stop offset=".1752" stop-color="#252525"/><stop offset=".2559" stop-color="#414141"/><stop offset=".3498" stop-color="#686868"/><stop offset=".452" stop-color="#797979"/><stop offset=".577" stop-color="#686868"/><stop offset="1" stop-color="#535353"/></linearGradient><linearGradient id="s44" x1="0" y1="0" x2="0" y2="1"><stop offset="." stop-color="#cbcbcb"/><stop offset=".0064" stop-color="#cbcbcb"/><stop offset=".012" stop-color="#d2d2d2"/><stop offset=".0229" stop-color="#dddddd"/><stop offset=".0338" stop-color="#d2d2d2"/><stop offset=".0545" stop-color="#8c8c8c"/><stop offset=".0603" stop-color="#686868"/><stop offset=".079" stop-color="#414141"/><stop offset=".0959" stop-color="#252525"/><stop offset=".136" stop-color="#1c1c1c"/><stop offset=".1761" stop-color="#252525"/><stop offset=".2566" stop-color="#414141"/><stop offset=".3507" stop-color="#686868"/><stop offset=".452" stop-color="#797979"/><stop offset=".5758" stop-color="#686868"/><stop offset="1" stop-color="#535353"/></linearGradient><linearGradient id="s45" x1="0" y1="0" x2="0" y2="1"><stop offset="." stop-color="#cbcbcb"/><stop offset=".0064" stop-color="#cbcbcb"/><stop offset=".0111" stop-color="#d2d2d2"/><stop offset=".0229" stop-color="#dedede"/><stop offset=".0347" stop-color="#d2d2d2"/><stop offset=".0552" stop-color="#8c8c8c"/><stop offset=".0612" stop-color="#686868"/><stop offset=".0793" stop-color="#414141"/><stop offset=".097" stop-color="#252525"/><stop offset=".137" stop-color="#1d1d1d"/><stop offset=".1769" stop-color="#252525"/><stop offset=".2566" stop-color="#414141"/><stop offset=".3516" stop-color="#686868"/><stop offset=".4519" stop-color="#797979"/><stop offset=".5745" stop-color="#686868"/><stop offset="1" stop-color="#535353"/></linearGradient><linearGradient id="s46" x1="0" y1="0" x2="0" y2="1"><stop offset="." stop-color="#cbcbcb"/><stop offset=".0064" stop-color="#cbcbcb"/><stop offset=".0106" stop-color="#d2d2d2"/><stop offset=".0229" stop-color="#dfdfdf"/><stop offset=".0352" stop-color="#d2d2d2"/><stop offset=".056" stop-color="#8c8c8c"/><stop offset=".0622" stop-color="#686868"/><stop offset=".0795" stop-color="#414141"/><stop offset=".097" stop-color="#252525"/><stop offset=".1374" stop-color="#1d1d1d"/><stop offset=".1777" stop-color="#252525"/><stop offset=".2566" stop-color="#414141"/><stop offset=".3525" stop-color="#686868"/><stop offset=".4518" stop-color="#797979"/><stop offset=".5732" stop-color="#686868"/><stop offset="1" stop-color="#535353"/></linearGradient><linearGradient id="s47" x1="0" y1="0" x2="0" y2="1"><stop offset="." stop-color="#cbcbcb"/><stop offset=".0064" stop-color="#cbcbcb"/><stop offset=".0104" stop-color="#d2d2d2"/><stop offset=".0229" stop-color="#dfdfdf"/><stop offset=".0354" stop-color="#d2d2d2"/><stop offset=".0568" stop-color="#8c8c8c"/><stop offset=".0632" stop-color="#686868"/><stop offset=".0798" stop-color="#414141"/><stop offset=".097" stop-color="#252525"/><stop offset=".1374" stop-color="#1d1d1d"/><stop offset=".1778" stop-color="#252525"/><stop offset=".2566" stop-color="#414141"/><stop offset=".3525" stop-color="#686868"/><stop offset=".4517" stop-color="#797979"/><stop offset=".5731" stop-color="#686868"/><stop offset="1" stop-color="#535353"/></linearGradient><linearGradient id="s48" x1="0" y1="0" x2="0" y2="1"><stop offset="." stop-color="#cbcbcb"/><stop offset=".0064" stop-color="#cbcbcb"/><stop offset=".0105" stop-color="#d2d2d2"/><stop offset=".0229" stop-color="#dfdfdf"/><stop offset=".0353" stop-color="#d2d2d2"/><stop offset=".0576" stop-color="#8c8c8c"/><stop offset=".0642" stop-color="#686868"/><stop offset=".08" stop-color="#414141"/><stop offset=".097" stop-color="#252525"/><stop offset=".1374" stop-color="#1d1d1d"/><stop offset=".1778" stop-color="#252525"/><stop offset=".2566" stop-color="#414141"/><stop offset=".3523" stop-color="#686868"/><stop offset=".4516" stop-color="#797979"/><stop offset=".5731" stop-color="#686868"/><stop offset="1" stop-color="#535353"/></linearGradient><linearGradient id="s49" x1="0" y1="0" x2="0" y2="1"><stop offset="." stop-color="#cbcbcb"/><stop offset=".0064" stop-color="#cbcbcb"/><stop offset=".0109" stop-color="#d2d2d2"/><stop offset=".0229" stop-color="#dedede"/><stop offset=".0348" stop-color="#d2d2d2"/><stop offset=".0583" stop-color="#8c8c8c"/><stop offset=".0652" stop-color="#686868"/><stop offset=".0803" stop-color="#414141"/><stop offset=".097" stop-color="#252525"/><stop offset=".1374" stop-color="#1d1d1d"/><stop offset=".1778" stop-color="#252525"/><stop offset=".2566" stop-color="#414141"/><stop offset=".3521" stop-color="#686868"/><stop offset=".4515" stop-color="#797979"/><stop offset=".5731" stop-color="#686868"/><stop offset="1" stop-color="#535353"/></linearGradient><linearGradient id="s50" x1="0" y1="0" x2="0" y2="1"><stop offset="." stop-color="#cbcbcb"/><stop offset=".0064" stop-color="#cbcbcb"/><stop offset=".0117" stop-color="#d2d2d2"/><stop offset=".0229" stop-color="#dddddd"/><stop offset=".0341" stop-color="#d2d2d2"/><stop offset=".059" stop-color="#8c8c8c"/><stop offset=".0661" stop-color="#686868"/><stop offset=".0805" stop-color="#414141"/><stop offset=".097" stop-color="#252525"/><stop offset=".1374" stop-color="#1d1d1d"/><stop offset=".1778" stop-color="#252525"/><stop offset=".2566" stop-color="#414141"/><stop offset=".3519" stop-color="#686868"/><stop offset=".4514" stop-color="#797979"/><stop offset=".5731" stop-color="#686868"/><stop offset="1" stop-color="#535353"/></linearGradient><linearGradient id="s51" x1="0" y1="0" x2="0" y2="1"><stop offset="." stop-color="#cbcbcb"/><stop offset=".0064" stop-color="#cbcbcb"/><stop offset=".0129" stop-color="#d2d2d2"/><stop offset=".0229" stop-color="#dcdcdc"/><stop offset=".0329" stop-color="#d2d2d2"/><stop offset=".0583" stop-color="#8c8c8c"/><stop offset=".0653" stop-color="#686868"/><stop offset=".0795" stop-color="#414141"/><stop offset=".097" stop-color="#252525"/><stop offset=".1374" stop-color="#1e1e1e"/><stop offset=".1778" stop-color="#252525"/><stop offset=".2566" stop-color="#414141"/><stop offset=".3517" stop-color="#686868"/><stop offset=".4513" stop-color="#797979"/><stop offset=".5731" stop-color="#686868"/><stop offset="1" stop-color="#535353"/></linearGradient><linearGradient id="s52" x1="0" y1="0" x2="0" y2="1"><stop offset="." stop-color="#cbcbcb"/><stop offset=".0064" stop-color="#cbcbcb"/><stop offset=".0147" stop-color="#d2d2d2"/><stop offset=".0229" stop-color="#dadada"/><stop offset=".0311" stop-color="#d2d2d2"/><stop offset=".0577" stop-color="#8c8c8c"/><stop offset=".0646" stop-color="#686868"/><stop offset=".0786" stop-color="#414141"/><stop offset=".0975" stop-color="#252525"/><stop offset=".1377" stop-color="#1e1e1e"/><stop offset=".1778" stop-color="#252525"/><stop offset=".2565" stop-color="#414141"/><stop offset=".3516" stop-color="#686868"/><stop offset=".4519" stop-color="#797979"/><stop offset=".5745" stop-color="#686868"/><stop offset="1" stop-color="#535353"/></linearGradient><linearGradient id="s53" x1="0" y1="0" x2="0" y2="1"><stop offset="." stop-color="#cbcbcb"/><stop offset=".0064" stop-color="#cbcbcb"/><stop offset=".0177" stop-color="#d2d2d2"/><stop offset=".0229" stop-color="#d7d7d7"/><stop offset=".0281" stop-color="#d2d2d2"/><stop offset=".057" stop-color="#8c8c8c"/><stop offset=".0638" stop-color="#686868"/><stop offset=".0777" stop-color="#414141"/><stop offset=".0981" stop-color="#252525"/><stop offset=".138" stop-color="#1e1e1e"/><stop offset=".1778" stop-color="#252525"/><stop offset=".2563" stop-color="#414141"/><stop offset=".3514" stop-color="#686868"/><stop offset=".4526" stop-color="#797979"/><stop offset=".5764" stop-color="#686868"/><stop offset="1" stop-color="#535353"/></linearGradient><linearGradient id="s54" x1="0" y1="0" x2="0" y2="1"><stop offset="." stop-color="#c6c6c6"/><stop offset=".0064" stop-color="#c6c6c6"/><stop offset=".0563" stop-color="#8c8c8c"/><stop offset=".0631" stop-color="#686868"/><stop offset=".0768" stop-color="#414141"/><stop offset=".0988" stop-color="#252525"/><stop offset=".1383" stop-color="#1e1e1e"/><stop offset=".1778" stop-color="#252525"/><stop offset=".2561" stop-color="#414141"/><stop offset=".3512" stop-color="#686868"/><stop offset=".4534" stop-color="#797979"/><stop offset=".5784" stop-color="#686868"/><stop offset="1" stop-color="#535353"/></linearGradient><linearGradient id="s55" x1="0" y1="0" x2="0" y2="1"><stop offset="." stop-color="#c3c3c3"/><stop offset=".0064" stop-color="#c3c3c3"/><stop offset=".0556" stop-color="#8c8c8c"/><stop offset=".0623" stop-color="#686868"/><stop offset=".0758" stop-color="#414141"/><stop offset=".0994" stop-color="#252525"/><stop offset=".1386" stop-color="#1e1e1e"/><stop offset=".1778" stop-color="#252525"/><stop offset=".2559" stop-color="#414141"/><stop offset=".3513" stop-color="#686868"/><stop offset=".4543" stop-color="#797979"/><stop offset=".5803" stop-color="#686868"/><stop offset="1" stop-color="#535353"/></linearGradient><linearGradient id="s56" x1="0" y1="0" x2="0" y2="1"><stop offset="." stop-color="#c1c1c1"/><stop offset=".0064" stop-color="#c1c1c1"/><stop offset=".0549" stop-color="#8c8c8c"/><stop offset=".0616" stop-color="#686868"/><stop offset=".0749" stop-color="#414141"/><stop offset=".1001" stop-color="#252525"/><stop offset=".139" stop-color="#1e1e1e"/><stop offset=".1778" stop-color="#252525"/><stop offset=".2557" stop-color="#414141"/><stop offset=".3521" stop-color="#686868"/><stop offset=".4556" stop-color="#797979"/><stop offset=".5822" stop-color="#686868"/><stop offset="1" stop-color="#545454"/></linearGradient><linearGradient id="s57" x1="0" y1="0" x2="0" y2="1"><stop offset="." stop-color="#bebebe"/><stop offset=".0064" stop-color="#bebebe"/><stop offset=".0542" stop-color="#8c8c8c"/><stop offset=".0608" stop-color="#686868"/><stop offset=".074" stop-color="#414141"/><stop offset=".1009" stop-color="#252525"/><stop offset=".1394" stop-color="#1f1f1f"/><stop offset=".1778" stop-color="#252525"/><stop offset=".2555" stop-color="#414141"/><stop offset=".3529" stop-color="#686868"/><stop offset=".4569" stop-color="#797979"/><stop offset=".5842" stop-color="#686868"/><stop offset="1" stop-color="#545454"/></linearGradient><linearGradient id="s58" x1="0" y1="0" x2="0" y2="1"><stop offset="." stop-color="#bababa"/><stop offset=".0064" stop-color="#bababa"/><stop offset=".0539" stop-color="#8c8c8c"/><stop offset=".061" stop-color="#686868"/><stop offset=".0752" stop-color="#414141"/><stop offset=".1019" stop-color="#252525"/><stop offset=".1402" stop-color="#1f1f1f"/><stop offset=".1785" stop-color="#252525"/><stop offset=".2557" stop-color="#414141"/><stop offset=".3537" stop-color="#686868"/><stop offset=".4583" stop-color="#797979"/><stop offset=".5861" stop-color="#686868"/><stop offset="1" stop-color="#545454"/></linearGradient><linearGradient id="s59" x1="0" y1="0" x2="0" y2="1"><stop offset="." stop-color="#b6b6b6"/><stop offset=".0064" stop-color="#b6b6b6"/><stop offset=".0536" stop-color="#8c8c8c"/><stop offset=".0614" stop-color="#686868"/><stop offset=".077" stop-color="#414141"/><stop offset=".1029" stop-color="#252525"/><stop offset=".1411" stop-color="#1f1f1f"/><stop offset=".1792" stop-color="#252525"/><stop offset=".256" stop-color="#414141"/><stop offset=".3544" stop-color="#686868"/><stop offset=".4602" stop-color="#797979"/><stop offset=".5894" stop-color="#686868"/><stop offset="1" stop-color="#545454"/></linearGradient><linearGradient id="s60" x1="0" y1="0" x2="0" y2="1"><stop offset="." stop-color="#b3b3b3"/><stop offset=".0064" stop-color="#b3b3b3"/><stop offset=".0533" stop-color="#8c8c8c"/><stop offset=".0619" stop-color="#686868"/><stop offset=".0788" stop-color="#414141"/><stop offset=".1039" stop-color="#252525"/><stop offset=".1419" stop-color="#1f1f1f"/><stop offset=".18" stop-color="#252525"/><stop offset=".2564" stop-color="#414141"/><stop offset=".3552" stop-color="#686868"/><stop offset=".4622" stop-color="#797979"/><stop offset=".5929" stop-color="#686868"/><stop offset="1" stop-color="#545454"/></linearGradient><linearGradient id="s61" x1="0" y1="0" x2="0" y2="1"><stop offset="." stop-color="#afafaf"/><stop offset=".0064" stop-color="#afafaf"/><stop offset=".0531" stop-color="#8c8c8c"/><stop offset=".0623" stop-color="#686868"/><stop offset=".0806" stop-color="#414141"/><stop offset=".1048" stop-color="#252525"/><stop offset=".1428" stop-color="#1f1f1f"/><stop offset=".1808" stop-color="#252525"/><stop offset=".2567" stop-color="#414141"/><stop offset=".356" stop-color="#686868"/><stop offset=".4642" stop-color="#797979"/><stop offset=".5964" stop-color="#686868"/><stop offset="1" stop-color="#545454"/></linearGradient><linearGradient id="s62" x1="0" y1="0" x2="0" y2="1"><stop offset="." stop-color="#ababab"/><stop offset=".0064" stop-color="#ababab"/><stop offset=".0528" stop-color="#8c8c8c"/><stop offset=".0628" stop-color="#686868"/><stop offset=".0824" stop-color="#414141"/><stop offset=".1057" stop-color="#252525"/><stop offset=".1434" stop-color="#1f1f1f"/><stop offset=".1811" stop-color="#252525"/><stop offset=".257" stop-color="#414141"/><stop offset=".3568" stop-color="#686868"/><stop offset=".4662" stop-color="#797979"/><stop offset=".5999" stop-color="#686868"/><stop offset="1" stop-color="#555555"/></linearGradient><linearGradient id="s63" x1="0" y1="0" x2="0" y2="1"><stop offset="." stop-color="#a9a9a9"/><stop offset=".0064" stop-color="#a9a9a9"/><stop offset=".0525" stop-color="#8c8c8c"/><stop offset=".0632" stop-color="#686868"/><stop offset=".0838" stop-color="#414141"/><stop offset=".1067" stop-color="#252525"/><stop offset=".1438" stop-color="#1f1f1f"/><stop offset=".1808" stop-color="#252525"/><stop offset=".2566" stop-color="#414141"/><stop offset=".3571" stop-color="#686868"/><stop offset=".4679" stop-color="#797979"/><stop offset=".6033" stop-color="#686868"/><stop offset="1" stop-color="#555555"/></linearGradient><linearGradient id="s64" x1="0" y1="0" x2="0" y2="1"><stop offset="." stop-color="#a7a7a7"/><stop offset=".0064" stop-color="#a7a7a7"/><stop offset=".0517" stop-color="#8c8c8c"/><stop offset=".0636" stop-color="#686868"/><stop offset=".0839" stop-color="#414141"/><stop offset=".1076" stop-color="#252525"/><stop offset=".1441" stop-color="#1f1f1f"/><stop offset=".1806" stop-color="#252525"/><stop offset=".2559" stop-color="#414141"/><stop offset=".3565" stop-color="#686868"/><stop offset=".4692" stop-color="#797979"/><stop offset=".6068" stop-color="#686868"/><stop offset="1" stop-color="#565656"/></linearGradient><linearGradient id="s65" x1="0" y1="0" x2="0" y2="1"><stop offset="." stop-color="#a5a5a5"/><stop offset=".0064" stop-color="#a5a5a5"/><stop offset=".0499" stop-color="#8c8c8c"/><stop offset=".064" stop-color="#686868"/><stop offset=".0841" stop-color="#414141"/><stop offset=".1085" stop-color="#252525"/><stop offset=".1444" stop-color="#1f1f1f"/><stop offset=".1803" stop-color="#252525"/><stop offset=".2553" stop-color="#414141"/><stop offset=".356" stop-color="#686868"/><stop offset=".4704" stop-color="#797979"/><stop offset=".6103" stop-color="#686868"/><stop offset="1" stop-color="#565656"/></linearGradient><linearGradient id="s66" x1="0" y1="0" x2="0" y2="1"><stop offset="." stop-color="#a2a2a2"/><stop offset=".0064" stop-color="#a2a2a2"/><stop offset=".048" stop-color="#8c8c8c"/><stop offset=".063" stop-color="#686868"/><stop offset=".0842" stop-color="#414141"/><stop offset=".1087" stop-color="#252525"/><stop offset=".1444" stop-color="#1f1f1f"/><stop offset=".18" stop-color="#252525"/><stop offset=".2546" stop-color="#414141"/><stop offset=".3555" stop-color="#686868"/><stop offset=".4746" stop-color="#797979"/><stop offset=".6202" stop-color="#686868"/><stop offset="1" stop-color="#575757"/></linearGradient><linearGradient id="s67" x1="0" y1="0" x2="0" y2="1"><stop offset="." stop-color="#a0a0a0"/><stop offset=".0064" stop-color="#a0a0a0"/><stop offset=".0462" stop-color="#8c8c8c"/><stop offset=".062" stop-color="#686868"/><stop offset=".0844" stop-color="#414141"/><stop offset=".1089" stop-color="#252525"/><stop offset=".1443" stop-color="#1f1f1f"/><stop offset=".1797" stop-color="#252525"/><stop offset=".2539" stop-color="#414141"/><stop offset=".3548" stop-color="#686868"/><stop offset=".4787" stop-color="#797979"/><stop offset=".6301" stop-color="#686868"/><stop offset="1" stop-color="#575757"/></linearGradient><linearGradient id="s68" x1="0" y1="0" x2="0" y2="1"><stop offset="." stop-color="#9e9e9e"/><stop offset=".0064" stop-color="#9e9e9e"/><stop offset=".0443" stop-color="#8c8c8c"/><stop offset=".061" stop-color="#686868"/><stop offset=".0845" stop-color="#414141"/><stop offset=".1091" stop-color="#252525"/><stop offset=".1441" stop-color="#1f1f1f"/><stop offset=".179" stop-color="#252525"/><stop offset=".2532" stop-color="#414141"/><stop offset=".3537" stop-color="#686868"/><stop offset=".4826" stop-color="#797979"/><stop offset=".6401" stop-color="#686868"/><stop offset="1" stop-color="#585858"/></linearGradient><linearGradient id="s69" x1="0" y1="0" x2="0" y2="1"><stop offset="." stop-color="#9c9c9c"/><stop offset=".0064" stop-color="#9c9c9c"/><stop offset=".0425" stop-color="#8c8c8c"/><stop offset=".0599" stop-color="#686868"/><stop offset=".0847" stop-color="#414141"/><stop offset=".1093" stop-color="#252525"/><stop offset=".1436" stop-color="#1f1f1f"/><stop offset=".1778" stop-color="#252525"/><stop offset=".2525" stop-color="#414141"/><stop offset=".3527" stop-color="#686868"/><stop offset=".4865" stop-color="#797979"/><stop offset=".65" stop-color="#686868"/><stop offset="1" stop-color="#585858"/></linearGradient><linearGradient id="s70" x1="0" y1="0" x2="0" y2="1"><stop offset="." stop-color="#9a9a9a"/><stop offset=".0064" stop-color="#9a9a9a"/><stop offset=".0406" stop-color="#8c8c8c"/><stop offset=".0589" stop-color="#686868"/><stop offset=".0848" stop-color="#414141"/><stop offset=".1095" stop-color="#252525"/><stop offset=".1431" stop-color="#1f1f1f"/><stop offset=".1767" stop-color="#252525"/><stop offset=".2519" stop-color="#414141"/><stop offset=".3516" stop-color="#686868"/><stop offset=".4894" stop-color="#797979"/><stop offset=".6579" stop-color="#686868"/><stop offset="1" stop-color="#595959"/></linearGradient><linearGradient id="s71" x1="0" y1="0" x2="0" y2="1"><stop offset="." stop-color="#989898"/><stop offset=".0064" stop-color="#989898"/><stop offset=".0391" stop-color="#8c8c8c"/><stop offset=".0579" stop-color="#686868"/><stop offset=".0843" stop-color="#414141"/><stop offset=".1097" stop-color="#252525"/><stop offset=".1426" stop-color="#1f1f1f"/><stop offset=".1755" stop-color="#252525"/><stop offset=".2518" stop-color="#414141"/><stop offset=".3506" stop-color="#686868"/><stop offset=".4924" stop-color="#797979"/><stop offset=".6657" stop-color="#686868"/><stop offset="1" stop-color="#595959"/></linearGradient><linearGradient id="s72" x1="0" y1="0" x2="0" y2="1"><stop offset="." stop-color="#999999"/><stop offset=".0064" stop-color="#999999"/><stop offset=".0375" stop-color="#8c8c8c"/><stop offset=".0569" stop-color="#686868"/><stop offset=".0836" stop-color="#414141"/><stop offset=".1099" stop-color="#252525"/><stop offset=".1421" stop-color="#1f1f1f"/><stop offset=".1743" stop-color="#252525"/><stop offset=".2518" stop-color="#414141"/><stop offset=".3495" stop-color="#686868"/><stop offset=".4948" stop-color="#797979"/><stop offset=".6724" stop-color="#686868"/><stop offset="1" stop-color="#5a5a5a"/></linearGradient><linearGradient id="s73" x1="0" y1="0" x2="0" y2="1"><stop offset="." stop-color="#9b9b9b"/><stop offset=".0064" stop-color="#9b9b9b"/><stop offset=".036" stop-color="#8c8c8c"/><stop offset=".0559" stop-color="#686868"/><stop offset=".0829" stop-color="#414141"/><stop offset=".1101" stop-color="#252525"/><stop offset=".1416" stop-color="#1f1f1f"/><stop offset=".1731" stop-color="#252525"/><stop offset=".2518" stop-color="#414141"/><stop offset=".3485" stop-color="#686868"/><stop offset=".4922" stop-color="#797979"/><stop offset=".668" stop-color="#686868"/><stop offset="1" stop-color="#5a5a5a"/></linearGradient><linearGradient id="s74" x1="0" y1="0" x2="0" y2="1"><stop offset="." stop-color="#9c9c9c"/><stop offset=".0064" stop-color="#9c9c9c"/><stop offset=".0365" stop-color="#8c8c8c"/><stop offset=".0574" stop-color="#686868"/><stop offset=".0843" stop-color="#414141"/><stop offset=".1114" stop-color="#252525"/><stop offset=".1415" stop-color="#1f1f1f"/><stop offset=".1716" stop-color="#252525"/><stop offset=".2527" stop-color="#414141"/><stop offset=".3481" stop-color="#686868"/><stop offset=".49" stop-color="#797979"/><stop offset=".6636" stop-color="#686868"/><stop offset="1" stop-color="#5b5b5b"/></linearGradient><linearGradient id="s75" x1="0" y1="0" x2="0" y2="1"><stop offset="." stop-color="#9d9d9d"/><stop offset=".0064" stop-color="#9d9d9d"/><stop offset=".0374" stop-color="#8c8c8c"/><stop offset=".0596" stop-color="#686868"/><stop offset=".0862" stop-color="#414141"/><stop offset=".1131" stop-color="#252525"/><stop offset=".1415" stop-color="#1f1f1f"/><stop offset=".17" stop-color="#252525"/><stop offset=".2539" stop-color="#414141"/><stop offset=".3486" stop-color="#686868"/><stop offset=".4883" stop-color="#797979"/><stop offset=".6591" stop-color="#686868"/><stop offset="1" stop-color="#5b5b5b"/></linearGradient><linearGradient id="s76" x1="0" y1="0" x2="0" y2="1"><stop offset="." stop-color="#9e9e9e"/><stop offset=".0064" stop-color="#9e9e9e"/><stop offset=".0384" stop-color="#8c8c8c"/><stop offset=".0617" stop-color="#686868"/><stop offset=".0882" stop-color="#414141"/><stop offset=".1147" stop-color="#252525"/><stop offset=".1415" stop-color="#1f1f1f"/><stop offset=".1684" stop-color="#252525"/><stop offset=".255" stop-color="#414141"/><stop offset=".3491" stop-color="#686868"/><stop offset=".4866" stop-color="#797979"/><stop offset=".6547" stop-color="#686868"/><stop offset="1" stop-color="#5c5c5c"/></linearGradient><linearGradient id="s77" x1="0" y1="0" x2="0" y2="1"><stop offset="." stop-color="#9e9e9e"/><stop offset=".0064" stop-color="#9e9e9e"/><stop offset=".0401" stop-color="#8c8c8c"/><stop offset=".0639" stop-color="#686868"/><stop offset=".0901" stop-color="#414141"/><stop offset=".1163" stop-color="#252525"/><stop offset=".1416" stop-color="#1f1f1f"/><stop offset=".1668" stop-color="#252525"/><stop offset=".2561" stop-color="#414141"/><stop offset=".3496" stop-color="#686868"/><stop offset=".4849" stop-color="#797979"/><stop offset=".6503" stop-color="#686868"/><stop offset="1" stop-color="#5c5c5c"/></linearGradient><linearGradient id="s78" x1="0" y1="0" x2="0" y2="1"><stop offset="." stop-color="#9e9e9e"/><stop offset=".0064" stop-color="#9e9e9e"/><stop offset=".0427" stop-color="#8c8c8c"/><stop offset=".0661" stop-color="#686868"/><stop offset=".0919" stop-color="#414141"/><stop offset=".1179" stop-color="#252525"/><stop offset=".1416" stop-color="#1f1f1f"/><stop offset=".1652" stop-color="#252525"/><stop offset=".2573" stop-color="#414141"/><stop offset=".3502" stop-color="#686868"/><stop offset=".4832" stop-color="#797979"/><stop offset=".6458" stop-color="#686868"/><stop offset="1" stop-color="#5c5c5c"/></linearGradient><linearGradient id="s79" x1="0" y1="0" x2="0" y2="1"><stop offset="." stop-color="#9e9e9e"/><stop offset=".0064" stop-color="#9e9e9e"/><stop offset=".0453" stop-color="#8c8c8c"/><stop offset=".0687" stop-color="#686868"/><stop offset=".0928" stop-color="#414141"/><stop offset=".1195" stop-color="#252525"/><stop offset=".1416" stop-color="#1f1f1f"/><stop offset=".1636" stop-color="#252525"/><stop offset=".2586" stop-color="#414141"/><stop offset=".3507" stop-color="#686868"/><stop offset=".4815" stop-color="#797979"/><stop offset=".6414" stop-color="#686868"/><stop offset="1" stop-color="#5d5d5d"/></linearGradient><linearGradient id="s80" x1="0" y1="0" x2="0" y2="1"><stop offset="." stop-color="#9e9e9e"/><stop offset=".0064" stop-color="#9e9e9e"/><stop offset=".0469" stop-color="#8c8c8c"/><stop offset=".0714" stop-color="#686868"/><stop offset=".0937" stop-color="#414141"/><stop offset=".1212" stop-color="#252525"/><stop offset=".1416" stop-color="#1f1f1f"/><stop offset=".162" stop-color="#252525"/><stop offset=".2599" stop-color="#414141"/><stop offset=".3509" stop-color="#686868"/><stop offset=".4797" stop-color="#797979"/><stop offset=".637" stop-color="#686868"/><stop offset="1" stop-color="#5d5d5d"/></linearGradient><linearGradient id="s81" x1="0" y1="0" x2="0" y2="1"><stop offset="." stop-color="#9e9e9e"/><stop offset=".0064" stop-color="#9e9e9e"/><stop offset=".047" stop-color="#8c8c8c"/><stop offset=".0738" stop-color="#686868"/><stop offset=".0945" stop-color="#414141"/><stop offset=".1222" stop-color="#252525"/><stop offset=".1414" stop-color="#1f1f1f"/><stop offset=".1606" stop-color="#252525"/><stop offset=".2611" stop-color="#414141"/><stop offset=".3505" stop-color="#686868"/><stop offset=".4773" stop-color="#797979"/><stop offset=".6323" stop-color="#686868"/><stop offset="1" stop-color="#5d5d5d"/></linearGradient><linearGradient id="s82" x1="0" y1="0" x2="0" y2="1"><stop offset="." stop-color="#9e9e9e"/><stop offset=".0064" stop-color="#9e9e9e"/><stop offset=".0471" stop-color="#8c8c8c"/><stop offset=".0733" stop-color="#686868"/><stop offset=".0932" stop-color="#414141"/><stop offset=".1229" stop-color="#252525"/><stop offset=".1411" stop-color="#1f1f1f"/><stop offset=".1593" stop-color="#252525"/><stop offset=".262" stop-color="#414141"/><stop offset=".3502" stop-color="#686868"/><stop offset=".473" stop-color="#797979"/><stop offset=".6232" stop-color="#686868"/><stop offset="1" stop-color="#5d5d5d"/></linearGradient><linearGradient id="s83" x1="0" y1="0" x2="0" y2="1"><stop offset="." stop-color="#9e9e9e"/><stop offset=".0064" stop-color="#9e9e9e"/><stop offset=".0472" stop-color="#8c8c8c"/><stop offset=".0728" stop-color="#686868"/><stop offset=".0919" stop-color="#414141"/><stop offset=".1235" stop-color="#252525"/><stop offset=".1408" stop-color="#1f1f1f"/><stop offset=".1581" stop-color="#252525"/><stop offset=".262" stop-color="#414141"/><stop offset=".3498" stop-color="#686868"/><stop offset=".4687" stop-color="#797979"/><stop offset=".614" stop-color="#686868"/><stop offset="1" stop-color="#5d5d5d"/></linearGradient><linearGradient id="s84" x1="0" y1="0" x2="0" y2="1"><stop offset="." stop-color="#9e9e9e"/><stop offset=".0064" stop-color="#9e9e9e"/><stop offset=".0473" stop-color="#8c8c8c"/><stop offset=".0723" stop-color="#686868"/><stop offset=".0906" stop-color="#414141"/><stop offset=".1242" stop-color="#252525"/><stop offset=".1405" stop-color="#1f1f1f"/><stop offset=".1568" stop-color="#252525"/><stop offset=".262" stop-color="#414141"/><stop offset=".3494" stop-color="#686868"/><stop offset=".4644" stop-color="#797979"/><stop offset=".6049" stop-color="#686868"/><stop offset="1" stop-color="#5e5e5e"/></linearGradient><linearGradient id="s85" x1="0" y1="0" x2="0" y2="1"><stop offset="." stop-color="#9d9d9d"/><stop offset=".0064" stop-color="#9d9d9d"/><stop offset=".0466" stop-color="#8c8c8c"/><stop offset=".0707" stop-color="#686868"/><stop offset=".0893" stop-color="#414141"/><stop offset=".1238" stop-color="#252525"/><stop offset=".1396" stop-color="#1f1f1f"/><stop offset=".1555" stop-color="#252525"/><stop offset=".262" stop-color="#414141"/><stop offset=".349" stop-color="#686868"/><stop offset=".46" stop-color="#797979"/><stop offset=".5957" stop-color="#686868"/><stop offset="1" stop-color="#5e5e5e"/></linearGradient><linearGradient id="s86" x1="0" y1="0" x2="0" y2="1"><stop offset="." stop-color="#989898"/><stop offset=".0064" stop-color="#989898"/><stop offset=".0443" stop-color="#8c8c8c"/><stop offset=".0687" stop-color="#686868"/><stop offset=".0877" stop-color="#414141"/><stop offset=".1229" stop-color="#252525"/><stop offset=".1388" stop-color="#1f1f1f"/><stop offset=".1547" stop-color="#252525"/><stop offset=".2606" stop-color="#414141"/><stop offset=".3486" stop-color="#686868"/><stop offset=".4557" stop-color="#797979"/><stop offset=".5866" stop-color="#686868"/><stop offset="1" stop-color="#5e5e5e"/></linearGradient><linearGradient id="s87" x1="0" y1="0" x2="0" y2="1"><stop offset="." stop-color="#929292"/><stop offset=".0064" stop-color="#929292"/><stop offset=".042" stop-color="#8c8c8c"/><stop offset=".0666" stop-color="#686868"/><stop offset=".0858" stop-color="#414141"/><stop offset=".1221" stop-color="#252525"/><stop offset=".1382" stop-color="#1f1f1f"/><stop offset=".1543" stop-color="#252525"/><stop offset=".2591" stop-color="#414141"/><stop offset=".3482" stop-color="#686868"/><stop offset=".4514" stop-color="#797979"/><stop offset=".5774" stop-color="#686868"/><stop offset="1" stop-color="#5e5e5e"/></linearGradient><linearGradient id="s88" x1="0" y1="0" x2="0" y2="1"><stop offset="." stop-color="#8b8b8b"/><stop offset=".0064" stop-color="#8b8b8b"/><stop offset=".0386" stop-color="#8c8c8c"/><stop offset=".0646" stop-color="#686868"/><stop offset=".0839" stop-color="#414141"/><stop offset=".1213" stop-color="#252525"/><stop offset=".1376" stop-color="#1f1f1f"/><stop offset=".154" stop-color="#252525"/><stop offset=".2575" stop-color="#414141"/><stop offset=".3478" stop-color="#686868"/><stop offset=".447" stop-color="#797979"/><stop offset=".5683" stop-color="#686868"/><stop offset="1" stop-color="#5f5f5f"/></linearGradient><linearGradient id="s89" x1="0" y1="0" x2="0" y2="1"><stop offset="." stop-color="#858585"/><stop offset=".0064" stop-color="#858585"/><stop offset=".0334" stop-color="#8c8c8c"/><stop offset=".0625" stop-color="#686868"/><stop offset=".082" stop-color="#414141"/><stop offset=".1204" stop-color="#252525"/><stop offset=".1371" stop-color="#1f1f1f"/><stop offset=".1537" stop-color="#252525"/><stop offset=".256" stop-color="#414141"/><stop offset=".3474" stop-color="#686868"/><stop offset=".4427" stop-color="#797979"/><stop offset=".5591" stop-color="#686868"/><stop offset="1" stop-color="#5f5f5f"/></linearGradient><linearGradient id="s90" x1="0" y1="0" x2="0" y2="1"><stop offset="." stop-color="#808080"/><stop offset=".0064" stop-color="#808080"/><stop offset=".0605" stop-color="#686868"/><stop offset=".0801" stop-color="#414141"/><stop offset=".1184" stop-color="#252525"/><stop offset=".1359" stop-color="#1f1f1f"/><stop offset=".1534" stop-color="#252525"/><stop offset=".2545" stop-color="#414141"/><stop offset=".3471" stop-color="#686868"/><stop offset=".4393" stop-color="#797979"/><stop offset=".5521" stop-color="#686868"/><stop offset="1" stop-color="#5f5f5f"/></linearGradient><linearGradient id="s91" x1="0" y1="0" x2="0" y2="1"><stop offset="." stop-color="#7d7d7d"/><stop offset=".0064" stop-color="#7d7d7d"/><stop offset=".0585" stop-color="#686868"/><stop offset=".0782" stop-color="#414141"/><stop offset=".1155" stop-color="#252525"/><stop offset=".1344" stop-color="#1f1f1f"/><stop offset=".1533" stop-color="#252525"/><stop offset=".253" stop-color="#414141"/><stop offset=".3467" stop-color="#686868"/><stop offset=".4381" stop-color="#797979"/><stop offset=".5497" stop-color="#686868"/><stop offset="1" stop-color="#5f5f5f"/></linearGradient><linearGradient id="s92" x1="0" y1="0" x2="0" y2="1"><stop offset="." stop-color="#797979"/><stop offset=".0064" stop-color="#797979"/><stop offset=".0567" stop-color="#686868"/><stop offset=".0763" stop-color="#414141"/><stop offset=".1126" stop-color="#252525"/><stop offset=".1332" stop-color="#1f1f1f"/><stop offset=".1537" stop-color="#252525"/><stop offset=".2517" stop-color="#414141"/><stop offset=".3463" stop-color="#686868"/><stop offset=".4368" stop-color="#787878"/><stop offset=".5474" stop-color="#686868"/><stop offset="1" stop-color="#606060"/></linearGradient><linearGradient id="s93" x1="0" y1="0" x2="0" y2="1"><stop offset="." stop-color="#777777"/><stop offset=".0064" stop-color="#777777"/><stop offset=".0549" stop-color="#686868"/><stop offset=".0744" stop-color="#414141"/><stop offset=".1097" stop-color="#252525"/><stop offset=".1319" stop-color="#1f1f1f"/><stop offset=".1541" stop-color="#252525"/><stop offset=".2504" stop-color="#414141"/><stop offset=".3459" stop-color="#686868"/><stop offset=".4356" stop-color="#787878"/><stop offset=".5451" stop-color="#686868"/><stop offset="1" stop-color="#606060"/></linearGradient><linearGradient id="s94" x1="0" y1="0" x2="0" y2="1"><stop offset="." stop-color="#757575"/><stop offset=".0064" stop-color="#757575"/><stop offset=".0531" stop-color="#686868"/><stop offset=".0729" stop-color="#414141"/><stop offset=".1068" stop-color="#252525"/><stop offset=".1307" stop-color="#1f1f1f"/><stop offset=".1546" stop-color="#252525"/><stop offset=".2491" stop-color="#414141"/><stop offset=".3455" stop-color="#686868"/><stop offset=".4343" stop-color="#787878"/><stop offset=".5428" stop-color="#686868"/><stop offset="1" stop-color="#606060"/></linearGradient><linearGradient id="s95" x1="0" y1="0" x2="0" y2="1"><stop offset="." stop-color="#737373"/><stop offset=".0064" stop-color="#737373"/><stop offset=".0513" stop-color="#686868"/><stop offset=".0717" stop-color="#414141"/><stop offset=".1045" stop-color="#252525"/><stop offset=".1297" stop-color="#1f1f1f"/><stop offset=".155" stop-color="#252525"/><stop offset=".2478" stop-color="#414141"/><stop offset=".345" stop-color="#686868"/><stop offset=".433" stop-color="#787878"/><stop offset=".5405" stop-color="#686868"/><stop offset="1" stop-color="#606060"/></linearGradient><linearGradient id="s96" x1="0" y1="0" x2="0" y2="1"><stop offset="." stop-color="#707070"/><stop offset=".0064" stop-color="#707070"/><stop offset=".0495" stop-color="#686868"/><stop offset=".0704" stop-color="#414141"/><stop offset=".1028" stop-color="#252525"/><stop offset=".1291" stop-color="#1f1f1f"/><stop offset=".1554" stop-color="#252525"/><stop offset=".2465" stop-color="#414141"/><stop offset=".3445" stop-color="#686868"/><stop offset=".4319" stop-color="#787878"/><stop offset=".5386" stop-color="#686868"/><stop offset="1" stop-color="#616161"/></linearGradient><linearGradient id="s97" x1="0" y1="0" x2="0" y2="1"><stop offset="." stop-color="#6e6e6e"/><stop offset=".0064" stop-color="#6e6e6e"/><stop offset=".0477" stop-color="#686868"/><stop offset=".0691" stop-color="#414141"/><stop offset=".1011" stop-color="#252525"/><stop offset=".1284" stop-color="#1f1f1f"/><stop offset=".1558" stop-color="#252525"/><stop offset=".2452" stop-color="#414141"/><stop offset=".344" stop-color="#686868"/><stop offset=".4343" stop-color="#787878"/><stop offset=".5447" stop-color="#686868"/><stop offset="1" stop-color="#616161"/></linearGradient><linearGradient id="s98" x1="0" y1="0" x2="0" y2="1"><stop offset="." stop-color="#6b6b6b"/><stop offset=".0064" stop-color="#6b6b6b"/><stop offset=".0458" stop-color="#686868"/><stop offset=".0679" stop-color="#414141"/><stop offset=".0994" stop-color="#252525"/><stop offset=".1278" stop-color="#1f1f1f"/><stop offset=".1562" stop-color="#252525"/><stop offset=".2439" stop-color="#414141"/><stop offset=".3435" stop-color="#686868"/><stop offset=".4368" stop-color="#787878"/><stop offset=".5508" stop-color="#686868"/><stop offset="1" stop-color="#616161"/></linearGradient><linearGradient id="s99" x1="0" y1="0" x2="0" y2="1"><stop offset="." stop-color="#696969"/><stop offset=".0064" stop-color="#696969"/><stop offset=".0438" stop-color="#686868"/><stop offset=".0666" stop-color="#414141"/><stop offset=".0985" stop-color="#252525"/><stop offset=".1274" stop-color="#1f1f1f"/><stop offset=".1564" stop-color="#252525"/><stop offset=".2428" stop-color="#414141"/><stop offset=".343" stop-color="#686868"/><stop offset=".4392" stop-color="#787878"/><stop offset=".5569" stop-color="#686868"/><stop offset="1" stop-color="#616161"/></linearGradient><linearGradient id="s100" x1="0" y1="0" x2="0" y2="1"><stop offset="." stop-color="#676767"/><stop offset=".0064" stop-color="#676767"/><stop offset=".0419" stop-color="#686868"/><stop offset=".0653" stop-color="#414141"/><stop offset=".0982" stop-color="#252525"/><stop offset=".1273" stop-color="#1f1f1f"/><stop offset=".1564" stop-color="#252525"/><stop offset=".2417" stop-color="#414141"/><stop offset=".3424" stop-color="#686868"/><stop offset=".4417" stop-color="#787878"/><stop offset=".563" stop-color="#686868"/><stop offset="1" stop-color="#616161"/></linearGradient><linearGradient id="s101" x1="0" y1="0" x2="0" y2="1"><stop offset="." stop-color="#656565"/><stop offset=".0064" stop-color="#656565"/><stop offset=".04" stop-color="#686868"/><stop offset=".0641" stop-color="#414141"/><stop offset=".098" stop-color="#252525"/><stop offset=".1272" stop-color="#1f1f1f"/><stop offset=".1564" stop-color="#252525"/><stop offset=".2405" stop-color="#414141"/><stop offset=".3419" stop-color="#686868"/><stop offset=".4447" stop-color="#787878"/><stop offset=".5703" stop-color="#686868"/><stop offset="1" stop-color="#616161"/></linearGradient><linearGradient id="s102" x1="0" y1="0" x2="0" y2="1"><stop offset="." stop-color="#636363"/><stop offset=".0064" stop-color="#636363"/><stop offset=".0237" stop-color="#686868"/><stop offset=".0635" stop-color="#414141"/><stop offset=".0977" stop-color="#252525"/><stop offset=".1271" stop-color="#1f1f1f"/><stop offset=".1564" stop-color="#252525"/><stop offset=".2394" stop-color="#414141"/><stop offset=".3414" stop-color="#686868"/><stop offset=".4584" stop-color="#787878"/><stop offset=".6013" stop-color="#686868"/><stop offset="1" stop-color="#616161"/></linearGradient><linearGradient id="s103" x1="0" y1="0" x2="0" y2="1"><stop offset="." stop-color="#626262"/><stop offset=".0064" stop-color="#626262"/><stop offset=".063" stop-color="#414141"/><stop offset=".0975" stop-color="#252525"/><stop offset=".1269" stop-color="#1f1f1f"/><stop offset=".1564" stop-color="#252525"/><stop offset=".2383" stop-color="#414141"/><stop offset=".3409" stop-color="#686868"/><stop offset=".4721" stop-color="#787878"/><stop offset=".6324" stop-color="#686868"/><stop offset="1" stop-color="#616161"/></linearGradient><linearGradient id="s104" x1="0" y1="0" x2="0" y2="1"><stop offset="." stop-color="#616161"/><stop offset=".0064" stop-color="#616161"/><stop offset=".0625" stop-color="#414141"/><stop offset=".0972" stop-color="#252525"/><stop offset=".1267" stop-color="#1f1f1f"/><stop offset=".1562" stop-color="#252525"/><stop offset=".2371" stop-color="#414141"/><stop offset=".3404" stop-color="#686868"/><stop offset=".4857" stop-color="#787878"/><stop offset=".6634" stop-color="#686868"/><stop offset="1" stop-color="#616161"/></linearGradient><linearGradient id="s105" x1="0" y1="0" x2="0" y2="1"><stop offset="." stop-color="#5f5f5f"/><stop offset=".0064" stop-color="#5f5f5f"/><stop offset=".0619" stop-color="#414141"/><stop offset=".097" stop-color="#252525"/><stop offset=".1264" stop-color="#1f1f1f"/><stop offset=".1558" stop-color="#252525"/><stop offset=".236" stop-color="#414141"/><stop offset=".3399" stop-color="#686868"/><stop offset=".4982" stop-color="#787878"/><stop offset=".6918" stop-color="#686868"/><stop offset="1" stop-color="#616161"/></linearGradient><linearGradient id="s106" x1="0" y1="0" x2="0" y2="1"><stop offset="." stop-color="#5e5e5e"/><stop offset=".0064" stop-color="#5e5e5e"/><stop offset=".0614" stop-color="#414141"/><stop offset=".0973" stop-color="#252525"/><stop offset=".1263" stop-color="#1f1f1f"/><stop offset=".1554" stop-color="#252525"/><stop offset=".2358" stop-color="#414141"/><stop offset=".3394" stop-color="#686868"/><stop offset=".4985" stop-color="#787878"/><stop offset=".6931" stop-color="#686868"/><stop offset="1" stop-color="#616161"/></linearGradient><linearGradient id="s107" x1="0" y1="0" x2="0" y2="1"><stop offset="." stop-color="#5d5d5d"/><stop offset=".0064" stop-color="#5d5d5d"/><stop offset=".0617" stop-color="#414141"/><stop offset=".0975" stop-color="#252525"/><stop offset=".1262" stop-color="#1f1f1f"/><stop offset=".155" stop-color="#252525"/><stop offset=".2358" stop-color="#414141"/><stop offset=".3389" stop-color="#686868"/><stop offset=".4988" stop-color="#787878"/><stop offset=".6944" stop-color="#686868"/><stop offset="1" stop-color="#616161"/></linearGradient><linearGradient id="s108" x1="0" y1="0" x2="0" y2="1"><stop offset="." stop-color="#5c5c5c"/><stop offset=".0064" stop-color="#5c5c5c"/><stop offset=".0623" stop-color="#414141"/><stop offset=".0977" stop-color="#252525"/><stop offset=".1262" stop-color="#1f1f1f"/><stop offset=".1546" stop-color="#252525"/><stop offset=".2358" stop-color="#414141"/><stop offset=".3383" stop-color="#686868"/><stop offset=".4991" stop-color="#787878"/><stop offset=".6957" stop-color="#686868"/><stop offset="1" stop-color="#616161"/></linearGradient><linearGradient id="s109" x1="0" y1="0" x2="0" y2="1"><stop offset="." stop-color="#5a5a5a"/><stop offset=".0064" stop-color="#5a5a5a"/><stop offset=".0628" stop-color="#414141"/><stop offset=".098" stop-color="#252525"/><stop offset=".1261" stop-color="#1f1f1f"/><stop offset=".1542" stop-color="#252525"/><stop offset=".2358" stop-color="#414141"/><stop offset=".3381" stop-color="#686868"/><stop offset=".4995" stop-color="#787878"/><stop offset=".6968" stop-color="#686868"/><stop offset="1" stop-color="#616161"/></linearGradient><linearGradient id="s110" x1="0" y1="0" x2="0" y2="1"><stop offset="." stop-color="#575757"/><stop offset=".0064" stop-color="#575757"/><stop offset=".0633" stop-color="#414141"/><stop offset=".0982" stop-color="#252525"/><stop offset=".126" stop-color="#1f1f1f"/><stop offset=".1537" stop-color="#252525"/><stop offset=".2358" stop-color="#414141"/><stop offset=".3381" stop-color="#686868"/><stop offset=".5" stop-color="#787878"/><stop offset=".6979" stop-color="#686868"/><stop offset="1" stop-color="#616161"/></linearGradient><linearGradient id="s111" x1="0" y1="0" x2="0" y2="1"><stop offset="." stop-color="#555555"/><stop offset=".0064" stop-color="#555555"/><stop offset=".0639" stop-color="#414141"/><stop offset=".0984" stop-color="#252525"/><stop offset=".1259" stop-color="#1f1f1f"/><stop offset=".1533" stop-color="#252525"/><stop offset=".236" stop-color="#414141"/><stop offset=".3381" stop-color="#686868"/><stop offset=".5005" stop-color="#787878"/><stop offset=".6989" stop-color="#686868"/><stop offset="1" stop-color="#616161"/></linearGradient><linearGradient id="s112" x1="0" y1="0" x2="0" y2="1"><stop offset="." stop-color="#535353"/><stop offset=".0064" stop-color="#535353"/><stop offset=".0642" stop-color="#414141"/><stop offset=".0987" stop-color="#252525"/><stop offset=".1259" stop-color="#1f1f1f"/><stop offset=".1532" stop-color="#252525"/><stop offset=".2362" stop-color="#414141"/><stop offset=".3381" stop-color="#686868"/><stop offset=".5009" stop-color="#787878"/><stop offset=".6999" stop-color="#686868"/><stop offset="1" stop-color="#616161"/></linearGradient><linearGradient id="s113" x1="0" y1="0" x2="0" y2="1"><stop offset="." stop-color="#505050"/><stop offset=".0064" stop-color="#505050"/><stop offset=".0645" stop-color="#414141"/><stop offset=".0989" stop-color="#252525"/><stop offset=".1261" stop-color="#1f1f1f"/><stop offset=".1532" stop-color="#252525"/><stop offset=".2363" stop-color="#414141"/><stop offset=".3381" stop-color="#686868"/><stop offset=".5014" stop-color="#787878"/><stop offset=".701" stop-color="#686868"/><stop offset="1" stop-color="#616161"/></linearGradient><linearGradient id="s114" x1="0" y1="0" x2="0" y2="1"><stop offset="." stop-color="#4e4e4e"/><stop offset=".0064" stop-color="#4e4e4e"/><stop offset=".0648" stop-color="#414141"/><stop offset=".0991" stop-color="#252525"/><stop offset=".1262" stop-color="#202020"/><stop offset=".1532" stop-color="#252525"/><stop offset=".2365" stop-color="#414141"/><stop offset=".3381" stop-color="#686868"/><stop offset=".5019" stop-color="#787878"/><stop offset=".702" stop-color="#686868"/><stop offset="1" stop-color="#616161"/></linearGradient><linearGradient id="s115" x1="0" y1="0" x2="0" y2="1"><stop offset="." stop-color="#4c4c4c"/><stop offset=".0064" stop-color="#4c4c4c"/><stop offset=".065" stop-color="#414141"/><stop offset=".1" stop-color="#252525"/><stop offset=".1266" stop-color="#202020"/><stop offset=".1532" stop-color="#252525"/><stop offset=".2366" stop-color="#414141"/><stop offset=".3382" stop-color="#686868"/><stop offset=".5023" stop-color="#787878"/><stop offset=".703" stop-color="#686868"/><stop offset="1" stop-color="#616161"/></linearGradient><linearGradient id="s116" x1="0" y1="0" x2="0" y2="1"><stop offset="." stop-color="#4a4a4a"/><stop offset=".0064" stop-color="#4a4a4a"/><stop offset=".0653" stop-color="#414141"/><stop offset=".1015" stop-color="#252525"/><stop offset=".1273" stop-color="#202020"/><stop offset=".1532" stop-color="#252525"/><stop offset=".2368" stop-color="#414141"/><stop offset=".3382" stop-color="#686868"/><stop offset=".5022" stop-color="#787878"/><stop offset=".7027" stop-color="#686868"/><stop offset="1" stop-color="#616161"/></linearGradient><linearGradient id="s117" x1="0" y1="0" x2="0" y2="1"><stop offset="." stop-color="#474747"/><stop offset=".0064" stop-color="#474747"/><stop offset=".0656" stop-color="#414141"/><stop offset=".1029" stop-color="#252525"/><stop offset=".1283" stop-color="#202020"/><stop offset=".1537" stop-color="#252525"/><stop offset=".2369" stop-color="#414141"/><stop offset=".3382" stop-color="#686868"/><stop offset=".5008" stop-color="#787878"/><stop offset=".6996" stop-color="#686868"/><stop offset="1" stop-color="#616161"/></linearGradient><linearGradient id="s118" x1="0" y1="0" x2="0" y2="1"><stop offset="." stop-color="#444444"/><stop offset=".0064" stop-color="#444444"/><stop offset=".0652" stop-color="#414141"/><stop offset=".105" stop-color="#252525"/><stop offset=".1297" stop-color="#202020"/><stop offset=".1543" stop-color="#252525"/><stop offset=".2371" stop-color="#414141"/><stop offset=".3382" stop-color="#686868"/><stop offset=".4994" stop-color="#787878"/><stop offset=".6964" stop-color="#686868"/><stop offset="1" stop-color="#626262"/></linearGradient><linearGradient id="s119" x1="0" y1="0" x2="0" y2="1"><stop offset="." stop-color="#414141"/><stop offset=".0064" stop-color="#414141"/><stop offset=".0646" stop-color="#414141"/><stop offset=".1075" stop-color="#252525"/><stop offset=".1313" stop-color="#202020"/><stop offset=".155" stop-color="#252525"/><stop offset=".2372" stop-color="#414141"/><stop offset=".3382" stop-color="#686868"/><stop offset=".498" stop-color="#787878"/><stop offset=".6933" stop-color="#686868"/><stop offset="1" stop-color="#626262"/></linearGradient><linearGradient id="s120" x1="0" y1="0" x2="0" y2="1"><stop offset="." stop-color="#3e3e3e"/><stop offset=".0064" stop-color="#3e3e3e"/><stop offset=".064" stop-color="#414141"/><stop offset=".1101" stop-color="#252525"/><stop offset=".1329" stop-color="#202020"/><stop offset=".1556" stop-color="#252525"/><stop offset=".2374" stop-color="#414141"/><stop offset=".3382" stop-color="#686868"/><stop offset=".4966" stop-color="#787878"/><stop offset=".6902" stop-color="#686868"/><stop offset="1" stop-color="#626262"/></linearGradient><linearGradient id="s121" x1="0" y1="0" x2="0" y2="1"><stop offset="." stop-color="#414141"/><stop offset=".0064" stop-color="#414141"/><stop offset=".067" stop-color="#414141"/><stop offset=".1127" stop-color="#252525"/><stop offset=".1344" stop-color="#202020"/><stop offset=".1562" stop-color="#252525"/><stop offset=".2381" stop-color="#414141"/><stop offset=".3382" stop-color="#686868"/><stop offset=".4958" stop-color="#787878"/><stop offset=".6884" stop-color="#686868"/><stop offset="1" stop-color="#626262"/></linearGradient><linearGradient id="s122" x1="0" y1="0" x2="0" y2="1"><stop offset="." stop-color="#484848"/><stop offset=".0064" stop-color="#484848"/><stop offset=".07" stop-color="#414141"/><stop offset=".1152" stop-color="#252525"/><stop offset=".136" stop-color="#212121"/><stop offset=".1567" stop-color="#252525"/><stop offset=".2389" stop-color="#414141"/><stop offset=".3382" stop-color="#686868"/><stop offset=".4955" stop-color="#787878"/><stop offset=".6877" stop-color="#686868"/><stop offset="1" stop-color="#626262"/></linearGradient><linearGradient id="s123" x1="0" y1="0" x2="0" y2="1"><stop offset="." stop-color="#505050"/><stop offset=".0064" stop-color="#505050"/><stop offset=".0729" stop-color="#414141"/><stop offset=".1178" stop-color="#252525"/><stop offset=".1375" stop-color="#212121"/><stop offset=".1571" stop-color="#252525"/><stop offset=".2396" stop-color="#414141"/><stop offset=".338" stop-color="#686868"/><stop offset=".4951" stop-color="#787878"/><stop offset=".687" stop-color="#686868"/><stop offset="1" stop-color="#626262"/></linearGradient><linearGradient id="s124" x1="0" y1="0" x2="0" y2="1"><stop offset="." stop-color="#5b5b5b"/><stop offset=".0064" stop-color="#5b5b5b"/><stop offset=".076" stop-color="#414141"/><stop offset=".1202" stop-color="#252525"/><stop offset=".1388" stop-color="#212121"/><stop offset=".1575" stop-color="#252525"/><stop offset=".2404" stop-color="#414141"/><stop offset=".3378" stop-color="#686868"/><stop offset=".4946" stop-color="#787878"/><stop offset=".6863" stop-color="#686868"/><stop offset="1" stop-color="#626262"/></linearGradient><linearGradient id="s125" x1="0" y1="0" x2="0" y2="1"><stop offset="." stop-color="#626262"/><stop offset=".0064" stop-color="#626262"/><stop offset=".0472" stop-color="#686868"/><stop offset=".0793" stop-color="#414141"/><stop offset=".1212" stop-color="#252525"/><stop offset=".1396" stop-color="#212121"/><stop offset=".1579" stop-color="#252525"/><stop offset=".2411" stop-color="#414141"/><stop offset=".3375" stop-color="#686868"/><stop offset=".4942" stop-color="#787878"/><stop offset=".6856" stop-color="#686868"/><stop offset="1" stop-color="#626262"/></linearGradient><linearGradient id="s126" x1="0" y1="0" x2="0" y2="1"><stop offset="." stop-color="#6b6b6b"/><stop offset=".0064" stop-color="#6b6b6b"/><stop offset=".0531" stop-color="#686868"/><stop offset=".0827" stop-color="#414141"/><stop offset=".1223" stop-color="#252525"/><stop offset=".14" stop-color="#212121"/><stop offset=".1577" stop-color="#252525"/><stop offset=".2419" stop-color="#414141"/><stop offset=".3373" stop-color="#686868"/><stop offset=".4947" stop-color="#787878"/><stop offset=".687" stop-color="#686868"/><stop offset="1" stop-color="#626262"/></linearGradient><linearGradient id="s127" x1="0" y1="0" x2="0" y2="1"><stop offset="." stop-color="#747474"/><stop offset=".0064" stop-color="#747474"/><stop offset=".0571" stop-color="#686868"/><stop offset=".086" stop-color="#414141"/><stop offset=".1233" stop-color="#252525"/><stop offset=".1403" stop-color="#212121"/><stop offset=".1572" stop-color="#252525"/><stop offset=".2415" stop-color="#414141"/><stop offset=".3371" stop-color="#686868"/><stop offset=".4959" stop-color="#787878"/><stop offset=".69" stop-color="#686868"/><stop offset="1" stop-color="#626262"/></linearGradient><linearGradient id="s128" x1="0" y1="0" x2="0" y2="1"><stop offset="." stop-color="#7b7b7b"/><stop offset=".0064" stop-color="#7b7b7b"/><stop offset=".0597" stop-color="#686868"/><stop offset=".0885" stop-color="#414141"/><stop offset=".1244" stop-color="#252525"/><stop offset=".1406" stop-color="#212121"/><stop offset=".1568" stop-color="#252525"/><stop offset=".2403" stop-color="#414141"/><stop offset=".3369" stop-color="#686868"/><stop offset=".4972" stop-color="#787878"/><stop offset=".6931" stop-color="#686868"/><stop offset="1" stop-color="#626262"/></linearGradient><linearGradient id="s129" x1="0" y1="0" x2="0" y2="1"><stop offset="." stop-color="#828282"/><stop offset=".0064" stop-color="#828282"/><stop offset=".0622" stop-color="#686868"/><stop offset=".0885" stop-color="#414141"/><stop offset=".1254" stop-color="#252525"/><stop offset=".1409" stop-color="#222222"/><stop offset=".1564" stop-color="#252525"/><stop offset=".239" stop-color="#414141"/><stop offset=".3367" stop-color="#686868"/><stop offset=".4984" stop-color="#787878"/><stop offset=".6961" stop-color="#686868"/><stop offset="1" stop-color="#626262"/></linearGradient><linearGradient id="s130" x1="0" y1="0" x2="0" y2="1"><stop offset="." stop-color="#919191"/><stop offset=".0064" stop-color="#919191"/><stop offset=".0096" stop-color="#8c8c8c"/><stop offset=".0648" stop-color="#686868"/><stop offset=".0885" stop-color="#414141"/><stop offset=".1264" stop-color="#252525"/><stop offset=".1401" stop-color="#222222"/><stop offset=".1538" stop-color="#252525"/><stop offset=".2378" stop-color="#414141"/><stop offset=".3364" stop-color="#686868"/><stop offset=".5015" stop-color="#787878"/><stop offset=".7033" stop-color="#686868"/><stop offset="1" stop-color="#626262"/></linearGradient><linearGradient id="s131" x1="0" y1="0" x2="0" y2="1"><stop offset="." stop-color="#9f9f9f"/><stop offset=".0064" stop-color="#9f9f9f"/><stop offset=".0324" stop-color="#8c8c8c"/><stop offset=".0645" stop-color="#686868"/><stop offset=".0885" stop-color="#414141"/><stop offset=".1273" stop-color="#252525"/><stop offset=".1392" stop-color="#232323"/><stop offset=".1512" stop-color="#252525"/><stop offset=".2365" stop-color="#414141"/><stop offset=".336" stop-color="#686868"/><stop offset=".5046" stop-color="#787878"/><stop offset=".7107" stop-color="#686868"/><stop offset="1" stop-color="#626262"/></linearGradient><linearGradient id="s132" x1="0" y1="0" x2="0" y2="1"><stop offset="." stop-color="#ababab"/><stop offset=".0064" stop-color="#ababab"/><stop offset=".0317" stop-color="#8c8c8c"/><stop offset=".0629" stop-color="#686868"/><stop offset=".0878" stop-color="#414141"/><stop offset=".128" stop-color="#252525"/><stop offset=".1383" stop-color="#242424"/><stop offset=".1485" stop-color="#252525"/><stop offset=".2348" stop-color="#414141"/><stop offset=".3353" stop-color="#686868"/><stop offset=".5076" stop-color="#787878"/><stop offset=".7182" stop-color="#686868"/><stop offset="1" stop-color="#626262"/></linearGradient><linearGradient id="s133" x1="0" y1="0" x2="0" y2="1"><stop offset="." stop-color="#a0a0a0"/><stop offset=".0064" stop-color="#a0a0a0"/><stop offset=".027" stop-color="#8c8c8c"/><stop offset=".0613" stop-color="#686868"/><stop offset=".0862" stop-color="#414141"/><stop offset=".1287" stop-color="#252525"/><stop offset=".1372" stop-color="#242424"/><stop offset=".1456" stop-color="#252525"/><stop offset=".2326" stop-color="#414141"/><stop offset=".3346" stop-color="#686868"/><stop offset=".5106" stop-color="#787878"/><stop offset=".7257" stop-color="#686868"/><stop offset="1" stop-color="#626262"/></linearGradient><linearGradient id="s134" x1="0" y1="0" x2="0" y2="1"><stop offset="." stop-color="#8f8f8f"/><stop offset=".0064" stop-color="#8f8f8f"/><stop offset=".0597" stop-color="#686868"/><stop offset=".0845" stop-color="#414141"/><stop offset=".1305" stop-color="#252525"/><stop offset=".1355" stop-color="#252525"/><stop offset=".1405" stop-color="#252525"/><stop offset=".2303" stop-color="#414141"/><stop offset=".334" stop-color="#686868"/><stop offset=".5123" stop-color="#787878"/><stop offset=".7302" stop-color="#686868"/><stop offset="1" stop-color="#626262"/></linearGradient><linearGradient id="s135" x1="0" y1="0" x2="0" y2="1"><stop offset="." stop-color="#898989"/><stop offset=".0064" stop-color="#898989"/><stop offset=".058" stop-color="#686868"/><stop offset=".0829" stop-color="#414141"/><stop offset=".1555" stop-color="#262626"/><stop offset=".2281" stop-color="#414141"/><stop offset=".3333" stop-color="#686868"/><stop offset=".5131" stop-color="#787878"/><stop offset=".733" stop-color="#686868"/><stop offset="1" stop-color="#626262"/></linearGradient><linearGradient id="s136" x1="0" y1="0" x2="0" y2="1"><stop offset="." stop-color="#848484"/><stop offset=".0064" stop-color="#848484"/><stop offset=".0604" stop-color="#686868"/><stop offset=".0848" stop-color="#414141"/><stop offset=".1553" stop-color="#282828"/><stop offset=".2258" stop-color="#414141"/><stop offset=".3326" stop-color="#686868"/><stop offset=".514" stop-color="#787878"/><stop offset=".7357" stop-color="#686868"/><stop offset="1" stop-color="#626262"/></linearGradient><linearGradient id="s137" x1="0" y1="0" x2="0" y2="1"><stop offset="." stop-color="#949494"/><stop offset=".0064" stop-color="#949494"/><stop offset=".0102" stop-color="#8c8c8c"/><stop offset=".0659" stop-color="#686868"/><stop offset=".0905" stop-color="#414141"/><stop offset=".1572" stop-color="#292929"/><stop offset=".2238" stop-color="#414141"/><stop offset=".332" stop-color="#686868"/><stop offset=".5149" stop-color="#787878"/><stop offset=".7384" stop-color="#686868"/><stop offset="1" stop-color="#626262"/></linearGradient><linearGradient id="s138" x1="0" y1="0" x2="0" y2="1"><stop offset="." stop-color="#a4a4a4"/><stop offset=".0064" stop-color="#a4a4a4"/><stop offset=".0389" stop-color="#8c8c8c"/><stop offset=".073" stop-color="#686868"/><stop offset=".0995" stop-color="#414141"/><stop offset=".161" stop-color="#2b2b2b"/><stop offset=".2225" stop-color="#414141"/><stop offset=".3313" stop-color="#686868"/><stop offset=".5157" stop-color="#777777"/><stop offset=".7412" stop-color="#686868"/><stop offset="1" stop-color="#626262"/></linearGradient><linearGradient id="s139" x1="0" y1="0" x2="0" y2="1"><stop offset="." stop-color="#c0c0c0"/><stop offset=".0064" stop-color="#c0c0c0"/><stop offset=".0466" stop-color="#8c8c8c"/><stop offset=".0818" stop-color="#686868"/><stop offset=".1076" stop-color="#414141"/><stop offset=".1644" stop-color="#2c2c2c"/><stop offset=".2213" stop-color="#414141"/><stop offset=".3306" stop-color="#686868"/><stop offset=".5153" stop-color="#777777"/><stop offset=".741" stop-color="#686868"/><stop offset="1" stop-color="#626262"/></linearGradient><linearGradient id="s140" x1="0" y1="0" x2="0" y2="1"><stop offset="." stop-color="#d2d2d2"/><stop offset=".0064" stop-color="#d2d2d2"/><stop offset=".0139" stop-color="#d2d2d2"/><stop offset=".0659" stop-color="#8c8c8c"/><stop offset=".0906" stop-color="#686868"/><stop offset=".1112" stop-color="#414141"/><stop offset=".1656" stop-color="#2d2d2d"/><stop offset=".22" stop-color="#414141"/><stop offset=".3299" stop-color="#686868"/><stop offset=".5139" stop-color="#777777"/><stop offset=".7388" stop-color="#686868"/><stop offset="1" stop-color="#626262"/></linearGradient><linearGradient id="s141" x1="0" y1="0" x2="0" y2="1"><stop offset="." stop-color="#d3d3d3"/><stop offset=".0064" stop-color="#d3d3d3"/><stop offset=".017" stop-color="#d2d2d2"/><stop offset=".0743" stop-color="#8c8c8c"/><stop offset=".0913" stop-color="#686868"/><stop offset=".1137" stop-color="#414141"/><stop offset=".1662" stop-color="#2c2c2c"/><stop offset=".2187" stop-color="#414141"/><stop offset=".3293" stop-color="#686868"/><stop offset=".5125" stop-color="#777777"/><stop offset=".7365" stop-color="#686868"/><stop offset="1" stop-color="#626262"/></linearGradient><linearGradient id="s142" x1="0" y1="0" x2="0" y2="1"><stop offset="." stop-color="#d5d5d5"/><stop offset=".0064" stop-color="#d5d5d5"/><stop offset=".0139" stop-color="#d2d2d2"/><stop offset=".0761" stop-color="#8c8c8c"/><stop offset=".0907" stop-color="#686868"/><stop offset=".1142" stop-color="#414141"/><stop offset=".166" stop-color="#2b2b2b"/><stop offset=".2178" stop-color="#414141"/><stop offset=".3285" stop-color="#686868"/><stop offset=".5111" stop-color="#777777"/><stop offset=".7343" stop-color="#686868"/><stop offset="1" stop-color="#626262"/></linearGradient><linearGradient id="s143" x1="0" y1="0" x2="0" y2="1"><stop offset="." stop-color="#d6d6d6"/><stop offset=".0064" stop-color="#d6d6d6"/><stop offset=".0176" stop-color="#d2d2d2"/><stop offset=".0767" stop-color="#8c8c8c"/><stop offset=".0902" stop-color="#686868"/><stop offset=".1147" stop-color="#414141"/><stop offset=".1678" stop-color="#2b2b2b"/><stop offset=".2209" stop-color="#414141"/><stop offset=".3258" stop-color="#686868"/><stop offset=".5087" stop-color="#777777"/><stop offset=".7321" stop-color="#686868"/><stop offset="1" stop-color="#626262"/></linearGradient><linearGradient id="s144" x1="0" y1="0" x2="0" y2="1"><stop offset="." stop-color="#dddddd"/><stop offset=".0064" stop-color="#dddddd"/><stop offset=".0242" stop-color="#d2d2d2"/><stop offset=".0774" stop-color="#8c8c8c"/><stop offset=".0966" stop-color="#686868"/><stop offset=".1157" stop-color="#414141"/><stop offset=".1699" stop-color="#2a2a2a"/><stop offset=".2241" stop-color="#414141"/><stop offset=".3232" stop-color="#686868"/><stop offset=".5049" stop-color="#777777"/><stop offset=".727" stop-color="#686868"/><stop offset="1" stop-color="#626262"/></linearGradient><linearGradient id="s145" x1="0" y1="0" x2="0" y2="1"><stop offset="." stop-color="#e7e7e7"/><stop offset=".0064" stop-color="#e7e7e7"/><stop offset=".0341" stop-color="#d2d2d2"/><stop offset=".0848" stop-color="#8c8c8c"/><stop offset=".1046" stop-color="#686868"/><stop offset=".1177" stop-color="#414141"/><stop offset=".1726" stop-color="#292929"/><stop offset=".2275" stop-color="#414141"/><stop offset=".3205" stop-color="#686868"/><stop offset=".5002" stop-color="#777777"/><stop offset=".7199" stop-color="#686868"/><stop offset="1" stop-color="#626262"/></linearGradient><linearGradient id="s146" x1="0" y1="0" x2="0" y2="1"><stop offset="." stop-color="#ededed"/><stop offset=".0064" stop-color="#ededed"/><stop offset=".0366" stop-color="#d2d2d2"/><stop offset=".0899" stop-color="#8c8c8c"/><stop offset=".1067" stop-color="#686868"/><stop offset=".1197" stop-color="#414141"/><stop offset=".1755" stop-color="#292929"/><stop offset=".2312" stop-color="#414141"/><stop offset=".3179" stop-color="#686868"/><stop offset=".4956" stop-color="#777777"/><stop offset=".7128" stop-color="#686868"/><stop offset="1" stop-color="#626262"/></linearGradient><linearGradient id="s147" x1="0" y1="0" x2="0" y2="1"><stop offset="." stop-color="#ededed"/><stop offset=".0064" stop-color="#ededed"/><stop offset=".0351" stop-color="#d2d2d2"/><stop offset=".0928" stop-color="#8c8c8c"/><stop offset=".1065" stop-color="#686868"/><stop offset=".1218" stop-color="#414141"/><stop offset=".1755" stop-color="#282828"/><stop offset=".2292" stop-color="#414141"/><stop offset=".3152" stop-color="#686868"/><stop offset=".4909" stop-color="#777777"/><stop offset=".7056" stop-color="#686868"/><stop offset="1" stop-color="#626262"/></linearGradient><linearGradient id="s148" x1="0" y1="0" x2="0" y2="1"><stop offset="." stop-color="#e7e7e7"/><stop offset=".0064" stop-color="#e7e7e7"/><stop offset=".0236" stop-color="#d2d2d2"/><stop offset=".0878" stop-color="#8c8c8c"/><stop offset=".1062" stop-color="#686868"/><stop offset=".1231" stop-color="#414141"/><stop offset=".1737" stop-color="#292929"/><stop offset=".2243" stop-color="#414141"/><stop offset=".3008" stop-color="#686868"/><stop offset=".4791" stop-color="#777777"/><stop offset=".6971" stop-color="#686868"/><stop offset="1" stop-color="#636363"/></linearGradient><linearGradient id="s149" x1="0" y1="0" x2="0" y2="1"><stop offset="." stop-color="#dcdcdc"/><stop offset=".0064" stop-color="#dcdcdc"/><stop offset=".0742" stop-color="#8c8c8c"/><stop offset=".1046" stop-color="#686868"/><stop offset=".1213" stop-color="#414141"/><stop offset=".1666" stop-color="#2a2a2a"/><stop offset=".2119" stop-color="#414141"/><stop offset=".2863" stop-color="#686868"/><stop offset=".4673" stop-color="#777777"/><stop offset=".6885" stop-color="#686868"/><stop offset="1" stop-color="#636363"/></linearGradient><linearGradient id="s150" x1="0" y1="0" x2="0" y2="1"><stop offset="." stop-color="#e2e2e2"/><stop offset=".0064" stop-color="#e2e2e2"/><stop offset=".0636" stop-color="#8c8c8c"/><stop offset=".1023" stop-color="#686868"/><stop offset=".1195" stop-color="#414141"/><stop offset=".1552" stop-color="#2c2c2c"/><stop offset=".1908" stop-color="#414141"/><stop offset=".2705" stop-color="#686868"/><stop offset=".4548" stop-color="#777777"/><stop offset=".6801" stop-color="#686868"/><stop offset="1" stop-color="#636363"/></linearGradient><linearGradient id="s151" x1="0" y1="0" x2="0" y2="1"><stop offset="." stop-color="#e7e7e7"/><stop offset=".0064" stop-color="#e7e7e7"/><stop offset=".0551" stop-color="#8c8c8c"/><stop offset=".1001" stop-color="#686868"/><stop offset=".1177" stop-color="#414141"/><stop offset=".1446" stop-color="#2d2d2d"/><stop offset=".1715" stop-color="#414141"/><stop offset=".245" stop-color="#686868"/><stop offset=".4371" stop-color="#777777"/><stop offset=".6717" stop-color="#686868"/><stop offset="1" stop-color="#636363"/></linearGradient><linearGradient id="s152" x1="0" y1="0" x2="0" y2="1"><stop offset="." stop-color="#ebebeb"/><stop offset=".0064" stop-color="#ebebeb"/><stop offset=".0491" stop-color="#8c8c8c"/><stop offset=".0978" stop-color="#686868"/><stop offset=".1164" stop-color="#414141"/><stop offset=".1402" stop-color="#2e2e2e"/><stop offset=".164" stop-color="#414141"/><stop offset=".2297" stop-color="#686868"/><stop offset=".4248" stop-color="#777777"/><stop offset=".6634" stop-color="#686868"/><stop offset="1" stop-color="#636363"/></linearGradient><linearGradient id="s153" x1="0" y1="0" x2="0" y2="1"><stop offset="." stop-color="#ededed"/><stop offset=".0064" stop-color="#ededed"/><stop offset=".0459" stop-color="#8c8c8c"/><stop offset=".0956" stop-color="#686868"/><stop offset=".1156" stop-color="#414141"/><stop offset=".1377" stop-color="#2f2f2f"/><stop offset=".1598" stop-color="#414141"/><stop offset=".2189" stop-color="#686868"/><stop offset=".4151" stop-color="#777777"/><stop offset=".655" stop-color="#686868"/><stop offset="1" stop-color="#636363"/></linearGradient><linearGradient id="s154" x1="0" y1="0" x2="0" y2="1"><stop offset="." stop-color="#f0f0f0"/><stop offset=".0064" stop-color="#f0f0f0"/><stop offset=".0427" stop-color="#8c8c8c"/><stop offset=".0933" stop-color="#686868"/><stop offset=".1147" stop-color="#414141"/><stop offset=".1351" stop-color="#303030"/><stop offset=".1555" stop-color="#414141"/><stop offset=".2081" stop-color="#686868"/><stop offset=".4055" stop-color="#777777"/><stop offset=".6466" stop-color="#686868"/><stop offset="1" stop-color="#636363"/></linearGradient><linearGradient id="s155" x1="0" y1="0" x2="0" y2="1"><stop offset="." stop-color="#f2f2f2"/><stop offset=".0064" stop-color="#f2f2f2"/><stop offset=".0409" stop-color="#8c8c8c"/><stop offset=".092" stop-color="#686868"/><stop offset=".1142" stop-color="#414141"/><stop offset=".1337" stop-color="#303030"/><stop offset=".1531" stop-color="#414141"/><stop offset=".2019" stop-color="#686868"/><stop offset=".3999" stop-color="#777777"/><stop offset=".6418" stop-color="#686868"/><stop offset="1" stop-color="#636363"/></linearGradient><linearGradient id="s156" x1="0" y1="0" x2="0" y2="1"><stop offset="." stop-color="#f2f2f2"/><stop offset=".0064" stop-color="#f2f2f2"/><stop offset=".0409" stop-color="#8c8c8c"/><stop offset=".092" stop-color="#686868"/><stop offset=".1142" stop-color="#414141"/><stop offset=".1337" stop-color="#303030"/><stop offset=".1531" stop-color="#414141"/><stop offset=".2019" stop-color="#686868"/><stop offset=".3999" stop-color="#777777"/><stop offset=".6418" stop-color="#686868"/><stop offset="1" stop-color="#636363"/></linearGradient><clipPath id="sclip"><rect x="234.4" y="1538.7" width="1217.9" height="614.7"/></clipPath><linearGradient id="cbs" gradientUnits="userSpaceOnUse" x1="0" y1="1539.3" x2="0" y2="2153.4"><stop offset="0.0013" stop-color="#ffffff"/><stop offset="0.1378" stop-color="#fbfbfb"/><stop offset="0.2040" stop-color="#f2f2f2"/><stop offset="0.2742" stop-color="#eaeaea"/><stop offset="0.3210" stop-color="#e5e5e5"/><stop offset="0.3678" stop-color="#d9d9d9"/><stop offset="0.3990" stop-color="#d2d2d2"/><stop offset="0.4301" stop-color="#c7c7c7"/><stop offset="0.4574" stop-color="#c0c0c0"/><stop offset="0.4808" stop-color="#b8b8b8"/><stop offset="0.5159" stop-color="#adadad"/><stop offset="0.5510" stop-color="#a0a0a0"/><stop offset="0.5783" stop-color="#959595"/><stop offset="0.5939" stop-color="#8c8c8c"/><stop offset="0.6173" stop-color="#818181"/><stop offset="0.6601" stop-color="#757575"/><stop offset="0.6991" stop-color="#656565"/><stop offset="0.7342" stop-color="#5c5c5c"/><stop offset="0.7615" stop-color="#4e4e4e"/><stop offset="0.7888" stop-color="#414141"/><stop offset="0.8200" stop-color="#363636"/><stop offset="0.8629" stop-color="#2d2d2d"/><stop offset="0.9018" stop-color="#202020"/><stop offset="0.9369" stop-color="#171717"/><stop offset="0.9642" stop-color="#0c0c0c"/><stop offset="0.9837" stop-color="#050505"/><stop offset="1.0000" stop-color="#000000"/></linearGradient><clipPath id="pclip"><rect x="1770.6" y="1539" width="568.6" height="614.4"/></clipPath><clipPath id="tclip"><rect x="2623" y="1538.6" width="567.2" height="614.8"/></clipPath><linearGradient id="cbt" gradientUnits="userSpaceOnUse" x1="0" y1="1539.3" x2="0" y2="2153.4"><stop offset="0" stop-color="#fff"/><stop offset="1" stop-color="#000"/></linearGradient></defs><text x="76.6" y="112.6" font-size="85.5" fill="#c4c4c4" textLength="583.5" lengthAdjust="spacingAndGlyphs">eGEOTRACES</text><text x="73.6" y="109.6" font-size="85.5" fill="#858585" textLength="583.5" lengthAdjust="spacingAndGlyphs">eGEOTRACES</text><g clip-path="url(#mclip)"><g filter="url(#pal)"><rect x="250" y="180" width="2930" height="1140" fill="#808080"/><rect x="269.8" y="196.7" width="16.6" height="1104" fill="url(#m0)"/><rect x="285.8" y="196.7" width="16.6" height="1104" fill="url(#m1)"/><rect x="301.8" y="196.7" width="16.6" height="1104" fill="url(#m2)"/><rect x="317.8" y="196.7" width="16.6" height="1104" fill="url(#m3)"/><rect x="333.8" y="196.7" width="16.6" height="1104" fill="url(#m4)"/><rect x="349.8" y="196.7" width="16.6" height="1104" fill="url(#m5)"/><rect x="365.8" y="196.7" width="16.6" height="1104" fill="url(#m6)"/><rect x="381.8" y="196.7" width="16.6" height="1104" fill="url(#m7)"/><rect x="397.8" y="196.7" width="16.6" height="1104" fill="url(#m8)"/><rect x="413.8" y="196.7" width="16.6" height="1104" fill="url(#m9)"/><rect x="429.8" y="196.7" width="16.6" height="1104" fill="url(#m10)"/><rect x="445.8" y="196.7" width="16.6" height="1104" fill="url(#m11)"/><rect x="461.8" y="196.7" width="16.6" height="1104" fill="url(#m12)"/><rect x="477.8" y="196.7" width="16.6" height="1104" fill="url(#m13)"/><rect x="493.8" y="196.7" width="16.6" height="1104" fill="url(#m14)"/><rect x="509.8" y="196.7" width="16.6" height="1104" fill="url(#m15)"/><rect x="525.8" y="196.7" width="16.6" height="1104" fill="url(#m16)"/><rect x="541.8" y="196.7" width="16.6" height="1104" fill="url(#m17)"/><rect x="557.8" y="196.7" width="16.6" height="1104" fill="url(#m18)"/><rect x="573.8" y="196.7" width="16.6" height="1104" fill="url(#m19)"/><rect x="589.8" y="196.7" width="16.6" height="1104" fill="url(#m20)"/><rect x="605.8" y="196.7" width="16.6" height="1104" fill="url(#m21)"/><rect x="621.8" y="196.7" width="16.6" height="1104" fill="url(#m22)"/><rect x="637.8" y="196.7" width="16.6" height="1104" fill="url(#m23)"/><rect x="653.8" y="196.7" width="16.6" height="1104" fill="url(#m24)"/><rect x="669.8" y="196.7" width="16.6" height="1104" fill="url(#m25)"/><rect x="685.8" y="196.7" width="16.6" height="1104" fill="url(#m26)"/><rect x="701.8" y="196.7" width="16.6" height="1104" fill="url(#m27)"/><rect x="717.8" y="196.7" width="16.6" height="1104" fill="url(#m28)"/><rect x="733.8" y="196.7" width="16.6" height="1104" fill="url(#m29)"/><rect x="749.8" y="196.7" width="16.6" height="1104" fill="url(#m30)"/><rect x="765.8" y="196.7" width="16.6" height="1104" fill="url(#m31)"/><rect x="781.8" y="196.7" width="16.6" height="1104" fill="url(#m32)"/><rect x="797.8" y="196.7" width="16.6" height="1104" fill="url(#m33)"/><rect x="813.8" y="196.7" width="16.6" height="1104" fill="url(#m34)"/><rect x="829.8" y="196.7" width="16.6" height="1104" fill="url(#m35)"/><rect x="845.8" y="196.7" width="16.6" height="1104" fill="url(#m36)"/><rect x="861.8" y="196.7" width="16.6" height="1104" fill="url(#m37)"/><rect x="877.8" y="196.7" width="16.6" height="1104" fill="url(#m38)"/><rect x="893.8" y="196.7" width="16.6" height="1104" fill="url(#m39)"/><rect x="909.8" y="196.7" width="16.6" height="1104" fill="url(#m40)"/><rect x="925.8" y="196.7" width="16.6" height="1104" fill="url(#m41)"/><rect x="941.8" y="196.7" width="16.6" height="1104" fill="url(#m42)"/><rect x="957.8" y="196.7" width="16.6" height="1104" fill="url(#m43)"/><rect x="973.8" y="196.7" width="16.6" height="1104" fill="url(#m44)"/><rect x="989.8" y="196.7" width="16.6" height="1104" fill="url(#m45)"/><rect x="1005.8" y="196.7" width="16.6" height="1104" fill="url(#m46)"/><rect x="1021.8" y="196.7" width="16.6" height="1104" fill="url(#m47)"/><rect x="1037.8" y="196.7" width="16.6" height="1104" fill="url(#m48)"/><rect x="1053.8" y="196.7" width="16.6" height="1104" fill="url(#m49)"/><rect x="1069.8" y="196.7" width="16.6" height="1104" fill="url(#m50)"/><rect x="1085.8" y="196.7" width="16.6" height="1104" fill="url(#m51)"/><rect x="1101.8" y="196.7" width="16.6" height="1104" fill="url(#m52)"/><rect x="1117.8" y="196.7" width="16.6" height="1104" fill="url(#m53)"/><rect x="1133.8" y="196.7" width="16.6" height="1104" fill="url(#m54)"/><rect x="1149.8" y="196.7" width="16.6" height="1104" fill="url(#m55)"/><rect x="1165.8" y="196.7" width="16.6" height="1104" fill="url(#m56)"/><rect x="1181.8" y="196.7" width="16.6" height="1104" fill="url(#m57)"/><rect x="1197.8" y="196.7" width="16.6" height="1104" fill="url(#m58)"/><rect x="1213.8" y="196.7" width="16.6" height="1104" fill="url(#m59)"/><rect x="1229.8" y="196.7" width="16.6" height="1104" fill="url(#m60)"/><rect x="1245.8" y="196.7" width="16.6" height="1104" fill="url(#m61)"/><rect x="1261.8" y="196.7" width="16.6" height="1104" fill="url(#m62)"/><rect x="1277.8" y="196.7" width="16.6" height="1104" fill="url(#m63)"/><rect x="1293.8" y="196.7" width="16.6" height="1104" fill="url(#m64)"/><rect x="1309.8" y="196.7" width="16.6" height="1104" fill="url(#m65)"/><rect x="1325.8" y="196.7" width="16.6" height="1104" fill="url(#m66)"/><rect x="1341.8" y="196.7" width="16.6" height="1104" fill="url(#m67)"/><rect x="1357.8" y="196.7" width="16.6" height="1104" fill="url(#m68)"/><rect x="1373.8" y="196.7" width="16.6" height="1104" fill="url(#m69)"/><rect x="1389.8" y="196.7" width="16.6" height="1104" fill="url(#m70)"/><rect x="1405.8" y="196.7" width="16.6" height="1104" fill="url(#m71)"/><rect x="1421.8" y="196.7" width="16.6" height="1104" fill="url(#m72)"/><rect x="1437.8" y="196.7" width="16.6" height="1104" fill="url(#m73)"/><rect x="1453.8" y="196.7" width="16.6" height="1104" fill="url(#m74)"/><rect x="1469.8" y="196.7" width="16.6" height="1104" fill="url(#m75)"/><rect x="1485.8" y="196.7" width="16.6" height="1104" fill="url(#m76)"/><rect x="1501.8" y="196.7" width="16.6" height="1104" fill="url(#m77)"/><rect x="1517.8" y="196.7" width="16.6" height="1104" fill="url(#m78)"/><rect x="1533.8" y="196.7" width="16.6" height="1104" fill="url(#m79)"/><rect x="1549.8" y="196.7" width="16.6" height="1104" fill="url(#m80)"/><rect x="1565.8" y="196.7" width="16.6" height="1104" fill="url(#m81)"/><rect x="1581.8" y="196.7" width="16.6" height="1104" fill="url(#m82)"/><rect x="1597.8" y="196.7" width="16.6" height="1104" fill="url(#m83)"/><rect x="1613.8" y="196.7" width="16.6" height="1104" fill="url(#m84)"/><rect x="1629.8" y="196.7" width="16.6" height="1104" fill="url(#m85)"/><rect x="1645.8" y="196.7" width="16.6" height="1104" fill="url(#m86)"/><rect x="1661.8" y="196.7" width="16.6" height="1104" fill="url(#m87)"/><rect x="1677.8" y="196.7" width="16.6" height="1104" fill="url(#m88)"/><rect x="1693.8" y="196.7" width="16.6" height="1104" fill="url(#m89)"/><rect x="1709.8" y="196.7" width="16.6" height="1104" fill="url(#m90)"/><rect x="1725.8" y="196.7" width="16.6" height="1104" fill="url(#m91)"/><rect x="1741.8" y="196.7" width="16.6" height="1104" fill="url(#m92)"/><rect x="1757.8" y="196.7" width="16.6" height="1104" fill="url(#m93)"/><rect x="1773.8" y="196.7" width="16.6" height="1104" fill="url(#m94)"/><rect x="1789.8" y="196.7" width="16.6" height="1104" fill="url(#m95)"/><rect x="1805.8" y="196.7" width="16.6" height="1104" fill="url(#m96)"/><rect x="1821.8" y="196.7" width="16.6" height="1104" fill="url(#m97)"/><rect x="1837.8" y="196.7" width="16.6" height="1104" fill="url(#m98)"/><rect x="1853.8" y="196.7" width="16.6" height="1104" fill="url(#m99)"/><rect x="1869.8" y="196.7" width="16.6" height="1104" fill="url(#m100)"/><rect x="1885.8" y="196.7" width="16.6" height="1104" fill="url(#m101)"/><rect x="1901.8" y="196.7" width="16.6" height="1104" fill="url(#m102)"/><rect x="1917.8" y="196.7" width="16.6" height="1104" fill="url(#m103)"/><rect x="1933.8" y="196.7" width="16.6" height="1104" fill="url(#m104)"/><rect x="1949.8" y="196.7" width="16.6" height="1104" fill="url(#m105)"/><rect x="1965.8" y="196.7" width="16.6" height="1104" fill="url(#m106)"/><rect x="1981.8" y="196.7" width="16.6" height="1104" fill="url(#m107)"/><rect x="1997.8" y="196.7" width="16.6" height="1104" fill="url(#m108)"/><rect x="2013.8" y="196.7" width="16.6" height="1104" fill="url(#m109)"/><rect x="2029.8" y="196.7" width="16.6" height="1104" fill="url(#m110)"/><rect x="2045.8" y="196.7" width="16.6" height="1104" fill="url(#m111)"/><rect x="2061.8" y="196.7" width="16.6" height="1104" fill="url(#m112)"/><rect x="2077.8" y="196.7" width="16.6" height="1104" fill="url(#m113)"/><rect x="2093.8" y="196.7" width="16.6" height="1104" fill="url(#m114)"/><rect x="2109.8" y="196.7" width="16.6" height="1104" fill="url(#m115)"/><rect x="2125.8" y="196.7" width="16.6" height="1104" fill="url(#m116)"/><rect x="2141.8" y="196.7" width="16.6" height="1104" fill="url(#m117)"/><rect x="2157.8" y="196.7" width="16.6" height="1104" fill="url(#m118)"/><rect x="2173.8" y="196.7" width="16.6" height="1104" fill="url(#m119)"/><rect x="2189.8" y="196.7" width="16.6" height="1104" fill="url(#m120)"/><rect x="2205.8" y="196.7" width="16.6" height="1104" fill="url(#m121)"/><rect x="2221.8" y="196.7" width="16.6" height="1104" fill="url(#m122)"/><rect x="2237.8" y="196.7" width="16.6" height="1104" fill="url(#m123)"/><rect x="2253.8" y="196.7" width="16.6" height="1104" fill="url(#m124)"/><rect x="2269.8" y="196.7" width="16.6" height="1104" fill="url(#m125)"/><rect x="2285.8" y="196.7" width="16.6" height="1104" fill="url(#m126)"/><rect x="2301.8" y="196.7" width="16.6" height="1104" fill="url(#m127)"/><rect x="2317.8" y="196.7" width="16.6" height="1104" fill="url(#m128)"/><rect x="2333.8" y="196.7" width="16.6" height="1104" fill="url(#m129)"/><rect x="2349.8" y="196.7" width="16.6" height="1104" fill="url(#m130)"/><rect x="2365.8" y="196.7" width="16.6" height="1104" fill="url(#m131)"/><rect x="2381.8" y="196.7" width="16.6" height="1104" fill="url(#m132)"/><rect x="2397.8" y="196.7" width="16.6" height="1104" fill="url(#m133)"/><rect x="2413.8" y="196.7" width="16.6" height="1104" fill="url(#m134)"/><rect x="2429.8" y="196.7" width="16.6" height="1104" fill="url(#m135)"/><rect x="2445.8" y="196.7" width="16.6" height="1104" fill="url(#m136)"/><rect x="2461.8" y="196.7" width="16.6" height="1104" fill="url(#m137)"/><rect x="2477.8" y="196.7" width="16.6" height="1104" fill="url(#m138)"/><rect x="2493.8" y="196.7" width="16.6" height="1104" fill="url(#m139)"/><rect x="2509.8" y="196.7" width="16.6" height="1104" fill="url(#m140)"/><rect x="2525.8" y="196.7" width="16.6" height="1104" fill="url(#m141)"/><rect x="2541.8" y="196.7" width="16.6" height="1104" fill="url(#m142)"/><rect x="2557.8" y="196.7" width="16.6" height="1104" fill="url(#m143)"/><rect x="2573.8" y="196.7" width="16.6" height="1104" fill="url(#m144)"/><rect x="2589.8" y="196.7" width="16.6" height="1104" fill="url(#m145)"/><rect x="2605.8" y="196.7" width="16.6" height="1104" fill="url(#m146)"/><rect x="2621.8" y="196.7" width="16.6" height="1104" fill="url(#m147)"/><rect x="2637.8" y="196.7" width="16.6" height="1104" fill="url(#m148)"/><rect x="2653.8" y="196.7" width="16.6" height="1104" fill="url(#m149)"/><rect x="2669.8" y="196.7" width="16.6" height="1104" fill="url(#m150)"/><rect x="2685.8" y="196.7" width="16.6" height="1104" fill="url(#m151)"/><rect x="2701.8" y="196.7" width="16.6" height="1104" fill="url(#m152)"/><rect x="2717.8" y="196.7" width="16.6" height="1104" fill="url(#m153)"/><rect x="2733.8" y="196.7" width="16.6" height="1104" fill="url(#m154)"/><rect x="2749.8" y="196.7" width="16.6" height="1104" fill="url(#m155)"/><rect x="2765.8" y="196.7" width="16.6" height="1104" fill="url(#m156)"/><rect x="2781.8" y="196.7" width="16.6" height="1104" fill="url(#m157)"/><rect x="2797.8" y="196.7" width="16.6" height="1104" fill="url(#m158)"/><rect x="2813.8" y="196.7" width="16.6" height="1104" fill="url(#m159)"/><rect x="2829.8" y="196.7" width="16.6" height="1104" fill="url(#m160)"/><rect x="2845.8" y="196.7" width="16.6" height="1104" fill="url(#m161)"/><rect x="2861.8" y="196.7" width="16.6" height="1104" fill="url(#m162)"/><rect x="2877.8" y="196.7" width="16.6" height="1104" fill="url(#m163)"/><rect x="2893.8" y="196.7" width="16.6" height="1104" fill="url(#m164)"/><rect x="2909.8" y="196.7" width="16.6" height="1104" fill="url(#m165)"/><rect x="2925.8" y="196.7" width="16.6" height="1104" fill="url(#m166)"/><rect x="2941.8" y="196.7" width="16.6" height="1104" fill="url(#m167)"/><rect x="2957.8" y="196.7" width="16.6" height="1104" fill="url(#m168)"/><rect x="2973.8" y="196.7" width="16.6" height="1104" fill="url(#m169)"/><rect x="2989.8" y="196.7" width="16.6" height="1104" fill="url(#m170)"/><rect x="3005.8" y="196.7" width="16.6" height="1104" fill="url(#m171)"/><rect x="3021.8" y="196.7" width="16.6" height="1104" fill="url(#m172)"/><rect x="3037.8" y="196.7" width="16.6" height="1104" fill="url(#m173)"/><rect x="3053.8" y="196.7" width="16.6" height="1104" fill="url(#m174)"/><rect x="3069.8" y="196.7" width="16.6" height="1104" fill="url(#m175)"/><rect x="3085.8" y="196.7" width="16.6" height="1104" fill="url(#m176)"/><rect x="3101.8" y="196.7" width="16.6" height="1104" fill="url(#m177)"/><rect x="3117.8" y="196.7" width="16.6" height="1104" fill="url(#m178)"/><rect x="3133.8" y="196.7" width="16.6" height="1104" fill="url(#m179)"/><rect x="3149.8" y="196.7" width="16.6" height="1104" fill="url(#m180)"/></g><rect x="296" y="203" width="110" height="6" fill="#10c890" opacity=".8"/><path d="M349.3 210.6h3.4v3.4h-3.4zM349.3 235.3h3.4v3.4h-3.4zM349.3 262.3h3.4v3.4h-3.4zM349.3 350h3.4v3.4h-3.4zM349.3 398.1h3.4v3.4h-3.4zM349.3 485.7h3.4v3.4h-3.4zM349.3 586.7h3.4v3.4h-3.4zM349.3 876.4h3.4v3.4h-3.4zM349.3 964.7h3.4v3.4h-3.4zM349.3 1057.8h3.4v3.4h-3.4zM349.3 1154.8h3.4v3.4h-3.4zM372.1 204.4h3.4v3.4h-3.4zM372.1 261.7h3.4v3.4h-3.4zM372.1 301.6h3.4v3.4h-3.4zM372.1 346.9h3.4v3.4h-3.4zM372.1 446.2h3.4v3.4h-3.4zM372.1 493.2h3.4v3.4h-3.4zM372.1 584.2h3.4v3.4h-3.4zM372.1 969.9h3.4v3.4h-3.4zM372.1 1157.3h3.4v3.4h-3.4zM372.1 1205.6h3.4v3.4h-3.4zM431.3 205.7h3.4v3.4h-3.4zM431.3 232.5h3.4v3.4h-3.4zM431.3 290.7h3.4v3.4h-3.4zM431.3 348.8h3.4v3.4h-3.4zM431.3 442.4h3.4v3.4h-3.4zM431.3 482.9h3.4v3.4h-3.4zM431.3 772.7h3.4v3.4h-3.4zM431.3 876.5h3.4v3.4h-3.4zM431.3 966.9h3.4v3.4h-3.4zM431.3 1062.3h3.4v3.4h-3.4zM431.3 1154.6h3.4v3.4h-3.4zM431.3 1205.4h3.4v3.4h-3.4zM569.3 202.4h3.4v3.4h-3.4zM569.3 225.4h3.4v3.4h-3.4zM569.3 258.7h3.4v3.4h-3.4zM569.3 294.4h3.4v3.4h-3.4zM569.3 345.3h3.4v3.4h-3.4zM569.3 391.3h3.4v3.4h-3.4zM569.3 686.8h3.4v3.4h-3.4zM569.3 969.1h3.4v3.4h-3.4zM569.3 1058.9h3.4v3.4h-3.4zM569.3 1163h3.4v3.4h-3.4zM569.3 1201h3.4v3.4h-3.4zM763.3 224.7h3.4v3.4h-3.4zM763.3 261.3h3.4v3.4h-3.4zM763.3 350.1h3.4v3.4h-3.4zM763.3 396.8h3.4v3.4h-3.4zM763.3 484.5h3.4v3.4h-3.4zM763.3 583.4h3.4v3.4h-3.4zM763.3 686.9h3.4v3.4h-3.4zM763.3 781.8h3.4v3.4h-3.4zM763.3 871.4h3.4v3.4h-3.4zM763.3 968.4h3.4v3.4h-3.4zM763.3 1060.8h3.4v3.4h-3.4zM763.3 1207.6h3.4v3.4h-3.4zM957.3 209.3h3.4v3.4h-3.4zM957.3 228.3h3.4v3.4h-3.4zM957.3 299.5h3.4v3.4h-3.4zM957.3 343.2h3.4v3.4h-3.4zM957.3 396.6h3.4v3.4h-3.4zM957.3 445.9h3.4v3.4h-3.4zM957.3 487h3.4v3.4h-3.4zM957.3 583.3h3.4v3.4h-3.4zM957.3 684.2h3.4v3.4h-3.4zM957.3 773.9h3.4v3.4h-3.4zM957.3 873.3h3.4v3.4h-3.4zM957.3 963h3.4v3.4h-3.4zM957.3 1059.1h3.4v3.4h-3.4zM957.3 1158.7h3.4v3.4h-3.4zM957.3 1203.6h3.4v3.4h-3.4zM1148.3 206h3.4v3.4h-3.4zM1148.3 232.9h3.4v3.4h-3.4zM1148.3 255.6h3.4v3.4h-3.4zM1148.3 300.5h3.4v3.4h-3.4zM1148.3 350.4h3.4v3.4h-3.4zM1148.3 393.6h3.4v3.4h-3.4zM1148.3 440h3.4v3.4h-3.4zM1148.3 493.7h3.4v3.4h-3.4zM1148.3 588h3.4v3.4h-3.4zM1148.3 683.7h3.4v3.4h-3.4zM1148.3 872.5h3.4v3.4h-3.4zM1148.3 967.8h3.4v3.4h-3.4zM1148.3 1065.2h3.4v3.4h-3.4zM1148.3 1161.7h3.4v3.4h-3.4zM1485.1 231.9h3.4v3.4h-3.4zM1485.1 297.8h3.4v3.4h-3.4zM1485.1 390.2h3.4v3.4h-3.4zM1485.1 582.1h3.4v3.4h-3.4zM1485.1 870.1h3.4v3.4h-3.4zM1485.1 969.7h3.4v3.4h-3.4zM1485.1 1066.7h3.4v3.4h-3.4zM1485.1 1199.3h3.4v3.4h-3.4zM1769.8 203.3h3.4v3.4h-3.4zM1769.8 228.7h3.4v3.4h-3.4zM1769.8 291.5h3.4v3.4h-3.4zM1769.8 342.9h3.4v3.4h-3.4zM1769.8 398.8h3.4v3.4h-3.4zM1769.8 443h3.4v3.4h-3.4zM1769.8 490.3h3.4v3.4h-3.4zM1769.8 581.6h3.4v3.4h-3.4zM1769.8 681.8h3.4v3.4h-3.4zM1769.8 781.7h3.4v3.4h-3.4zM1769.8 869.8h3.4v3.4h-3.4zM1769.8 962.9h3.4v3.4h-3.4zM1769.8 1160.5h3.4v3.4h-3.4zM2034.3 212.4h3.4v3.4h-3.4zM2034.3 229.4h3.4v3.4h-3.4zM2034.3 254.9h3.4v3.4h-3.4zM2034.3 294.8h3.4v3.4h-3.4zM2034.3 349.6h3.4v3.4h-3.4zM2034.3 390.6h3.4v3.4h-3.4zM2034.3 443.9h3.4v3.4h-3.4zM2034.3 486.5h3.4v3.4h-3.4zM2034.3 585.7h3.4v3.4h-3.4zM2034.3 680.8h3.4v3.4h-3.4zM2034.3 870.8h3.4v3.4h-3.4zM2034.3 972h3.4v3.4h-3.4zM2034.3 1056.3h3.4v3.4h-3.4zM2034.3 1156.5h3.4v3.4h-3.4zM2034.3 1205.2h3.4v3.4h-3.4zM2220 205.1h3.4v3.4h-3.4zM2220 254.9h3.4v3.4h-3.4zM2220 295.9h3.4v3.4h-3.4zM2220 346h3.4v3.4h-3.4zM2220 389h3.4v3.4h-3.4zM2220 441.6h3.4v3.4h-3.4zM2220 486.7h3.4v3.4h-3.4zM2220 586.2h3.4v3.4h-3.4zM2220 679.4h3.4v3.4h-3.4zM2220 777.3h3.4v3.4h-3.4zM2220 968.2h3.4v3.4h-3.4zM2220 1066.5h3.4v3.4h-3.4zM2220 1153.5h3.4v3.4h-3.4zM2220 1201.1h3.4v3.4h-3.4zM2623.7 210.2h3.4v3.4h-3.4zM2623.7 229.9h3.4v3.4h-3.4zM2623.7 256h3.4v3.4h-3.4zM2623.7 300.3h3.4v3.4h-3.4zM2623.7 397.3h3.4v3.4h-3.4zM2623.7 490.9h3.4v3.4h-3.4zM2623.7 583.3h3.4v3.4h-3.4zM2623.7 685.8h3.4v3.4h-3.4zM2623.7 872.1h3.4v3.4h-3.4zM2623.7 966.7h3.4v3.4h-3.4zM2623.7 1162.8h3.4v3.4h-3.4zM2708.8 211.5h3.4v3.4h-3.4zM2708.8 232.1h3.4v3.4h-3.4zM2708.8 301.8h3.4v3.4h-3.4zM2708.8 347.2h3.4v3.4h-3.4zM2708.8 440.7h3.4v3.4h-3.4zM2708.8 493.9h3.4v3.4h-3.4zM2708.8 581.6h3.4v3.4h-3.4zM2708.8 685.9h3.4v3.4h-3.4zM2708.8 870.5h3.4v3.4h-3.4zM2708.8 1056.6h3.4v3.4h-3.4zM2708.8 1196.9h3.4v3.4h-3.4zM2922.9 233h3.4v3.4h-3.4zM2922.9 253.1h3.4v3.4h-3.4zM2922.9 294.1h3.4v3.4h-3.4zM2922.9 344.7h3.4v3.4h-3.4zM2922.9 391.9h3.4v3.4h-3.4zM2922.9 484.6h3.4v3.4h-3.4zM2922.9 585.9h3.4v3.4h-3.4zM2922.9 681.7h3.4v3.4h-3.4zM2922.9 773.5h3.4v3.4h-3.4zM2922.9 868.6h3.4v3.4h-3.4zM2922.9 968.9h3.4v3.4h-3.4zM2922.9 1157.6h3.4v3.4h-3.4zM2922.9 1198.2h3.4v3.4h-3.4zM2988.9 209.6h3.4v3.4h-3.4zM2988.9 252.6h3.4v3.4h-3.4zM2988.9 341.8h3.4v3.4h-3.4zM2988.9 393.2h3.4v3.4h-3.4zM2988.9 447.4h3.4v3.4h-3.4zM2988.9 580.6h3.4v3.4h-3.4zM2988.9 778.4h3.4v3.4h-3.4zM2988.9 867h3.4v3.4h-3.4zM2988.9 970.6h3.4v3.4h-3.4zM2988.9 1057.8h3.4v3.4h-3.4zM2988.9 1157.4h3.4v3.4h-3.4zM2988.9 1200h3.4v3.4h-3.4zM3069.8 206h3.4v3.4h-3.4zM3069.8 225.9h3.4v3.4h-3.4zM3069.8 259.1h3.4v3.4h-3.4zM3069.8 295.5h3.4v3.4h-3.4zM3069.8 345h3.4v3.4h-3.4zM3069.8 394.3h3.4v3.4h-3.4zM3069.8 442.7h3.4v3.4h-3.4zM3069.8 871.3h3.4v3.4h-3.4zM3069.8 962.9h3.4v3.4h-3.4zM3069.8 1066.5h3.4v3.4h-3.4zM3069.8 1158.3h3.4v3.4h-3.4zM3069.8 1197.2h3.4v3.4h-3.4z" fill="#283838" opacity=".9"/><g fill="none" stroke="#000" stroke-width="1.3"><path d="M1553.8 205.7C1567.1 207.0 1597.7 210.9 1633.8 213.5C1669.9 216.1 1704.7 219.5 1770.4 221.0C1836.1 222.5 1945.2 222.9 2028.0 222.7C2110.8 222.5 2201.4 219.8 2267.0 220.0C2332.6 220.2 2374.4 222.8 2421.7 223.8C2469.0 224.8 2507.6 226.0 2550.6 226.0C2593.6 226.0 2640.9 225.2 2679.6 223.8C2718.3 222.4 2754.3 219.7 2782.7 217.6C2811.1 215.5 2838.6 212.1 2849.8 211.0"/><path d="M337.8 352.0C344.2 350.5 359.7 347.3 376.5 343.0C393.3 338.7 415.2 331.6 438.4 326.0C461.6 320.4 494.3 313.3 515.7 309.4C537.1 305.5 545.5 304.7 567.0 302.7C588.5 300.7 618.9 298.6 644.7 297.6C670.5 296.6 700.5 296.3 722.0 296.5C743.5 296.7 750.9 297.4 773.6 299.0C796.3 300.6 827.9 302.3 858.0 305.8C888.1 309.3 916.5 315.8 954.0 319.8C991.5 323.8 1042.0 326.7 1083.0 330.0C1124.0 333.3 1171.4 337.8 1200.0 339.4C1228.6 341.0 1219.8 339.0 1254.7 339.8C1289.6 340.6 1357.9 343.1 1409.4 344.0C1461.0 344.9 1521.1 345.3 1564.0 345.0C1606.9 344.7 1632.6 343.7 1667.0 342.4C1701.4 341.1 1727.4 340.1 1770.4 337.0C1813.4 333.9 1873.4 327.8 1925.0 324.0C1976.6 320.2 2032.7 316.1 2080.0 314.0C2127.3 311.9 2187.3 311.8 2208.8 311.4"/><path d="M2277.3 311.4C2309.9 311.6 2414.6 312.8 2473.0 312.8C2531.4 312.8 2585.0 310.8 2628.0 311.4C2671.0 312.0 2700.9 313.6 2731.0 316.6C2761.1 319.6 2787.0 324.3 2808.5 329.5C2830.0 334.7 2847.1 341.6 2860.0 347.6C2872.9 353.6 2880.6 360.0 2886.0 365.6C2891.4 371.2 2892.2 374.6 2892.6 381.0C2893.0 387.4 2888.3 397.4 2888.5 404.3C2888.7 411.2 2890.6 417.4 2893.6 422.3C2896.6 427.2 2901.3 431.6 2906.5 434.0C2911.7 436.4 2919.4 437.5 2924.6 436.8C2929.8 436.1 2934.3 433.7 2937.5 430.0C2940.7 426.3 2943.6 420.6 2943.6 414.6C2943.6 408.6 2939.4 399.6 2937.5 394.0C2935.6 388.4 2931.5 385.7 2932.3 381.0C2933.2 376.3 2933.2 372.0 2942.6 365.6C2952.0 359.2 2972.7 350.2 2989.0 342.4C3005.3 334.6 3026.0 325.9 3040.6 319.0C3055.2 312.1 3067.7 305.0 3076.7 301.0C3085.7 297.0 3091.7 296.0 3094.7 295.0"/><path d="M348.0 447.7C358.8 446.6 388.9 444.7 412.6 441.0C436.3 437.3 464.3 430.8 490.0 425.5C515.7 420.2 541.2 414.2 567.0 409.0C592.8 403.8 618.9 398.0 644.7 394.5C670.5 391.0 700.5 389.1 722.0 388.0C743.5 386.9 750.9 387.1 773.6 387.8C796.3 388.5 827.9 390.5 858.0 392.0C888.1 393.5 916.5 394.5 954.0 397.0C991.5 399.5 1042.0 404.0 1083.0 407.0C1124.0 410.0 1171.4 413.5 1200.0 415.0C1228.6 416.5 1219.8 414.8 1254.7 416.0C1289.6 417.2 1366.4 420.5 1409.4 422.0C1452.4 423.5 1474.8 425.0 1512.6 425.0C1550.4 425.0 1615.4 422.5 1636.0 422.0"/><path d="M1708.6 420.8C1736.1 419.3 1820.4 414.8 1873.6 412.0C1926.8 409.2 1982.4 406.6 2028.0 404.0C2073.6 401.4 2101.7 399.5 2147.0 396.5C2192.3 393.5 2254.2 388.3 2300.0 386.0C2345.8 383.7 2384.2 383.4 2421.7 382.6C2459.2 381.8 2490.5 380.6 2524.9 381.0C2559.3 381.4 2597.1 382.4 2628.0 385.0C2658.9 387.6 2689.0 391.6 2710.5 396.5C2732.0 401.4 2740.7 406.9 2757.0 414.6C2773.3 422.4 2791.3 435.3 2808.5 443.0C2825.7 450.7 2842.8 456.5 2860.0 461.0C2877.2 465.5 2894.5 469.0 2911.7 469.8C2928.9 470.6 2948.4 469.2 2963.0 466.0C2977.6 462.8 2989.8 456.7 2999.3 450.7C3008.8 444.7 3014.9 437.7 3020.0 430.0C3025.1 422.3 3026.6 412.5 3030.0 404.3C3033.4 396.1 3035.4 388.3 3040.6 381.0C3045.8 373.7 3052.4 368.2 3061.0 360.5C3069.6 352.8 3086.8 339.0 3092.0 334.7"/><path d="M355.9 725.6C369.6 725.6 416.0 727.0 438.4 725.6C460.8 724.2 472.8 722.8 490.0 717.0C507.2 711.2 528.7 697.5 541.5 691.0C554.3 684.5 554.1 681.8 567.0 678.0C579.9 674.2 597.5 670.2 619.0 668.0C640.5 665.8 672.0 665.5 696.0 665.0C720.0 664.5 741.5 667.2 763.0 665.0C784.5 662.8 806.0 656.2 825.0 652.0C844.0 647.8 850.9 645.0 876.7 639.5C902.5 634.0 954.2 624.1 980.0 619.0C1005.8 613.9 1016.9 612.9 1031.5 608.6C1046.1 604.3 1059.0 599.0 1067.6 593.0C1076.2 587.0 1078.7 579.4 1083.0 572.5C1087.3 565.6 1088.0 556.8 1093.4 551.8C1098.8 546.8 1105.8 544.7 1115.5 542.5C1125.2 540.3 1111.2 540.1 1151.6 538.4C1192.0 536.6 1277.5 533.9 1357.9 532.0C1438.3 530.1 1547.8 527.8 1633.8 527.0C1719.8 526.2 1819.2 527.0 1873.6 527.0C1928.0 527.0 1926.2 528.1 1960.0 526.7C1993.8 525.3 2049.0 521.0 2076.5 518.8C2104.0 516.6 2116.9 514.6 2125.0 513.7"/><path d="M2195.0 502.0C2207.0 499.9 2231.1 494.4 2267.0 489.4C2302.9 484.4 2363.4 476.7 2410.7 472.0C2458.0 467.3 2514.4 462.4 2550.6 461.0C2586.8 459.6 2602.3 461.0 2628.0 463.6C2653.7 466.2 2679.2 470.9 2705.0 476.5C2730.8 482.1 2756.9 491.4 2782.7 497.0C2808.5 502.6 2829.9 508.3 2860.0 510.0C2890.1 511.7 2937.2 509.6 2963.0 507.4C2988.8 505.2 3001.0 501.3 3014.8 497.0C3028.6 492.7 3038.0 488.5 3045.7 481.6C3053.4 474.7 3056.7 466.1 3061.0 455.8C3065.3 445.5 3067.2 429.6 3071.5 419.7C3075.8 409.8 3084.4 400.4 3087.0 396.5"/><path d="M361.0 772.0C369.6 775.0 395.4 785.2 412.6 790.0C429.8 794.8 438.3 797.1 464.0 800.6C489.7 804.1 532.6 808.7 567.0 811.0C601.4 813.3 636.0 814.8 670.4 814.5C704.8 814.2 742.3 810.5 773.6 809.0C804.9 807.5 823.6 808.0 858.0 805.7C892.4 803.4 942.5 798.9 980.0 795.0C1017.5 791.1 1045.8 786.0 1083.0 782.5C1120.2 779.0 1165.8 775.5 1203.0 773.7C1240.2 772.0 1275.9 771.6 1306.0 772.0C1336.1 772.4 1361.3 773.8 1383.6 776.0C1405.9 778.2 1423.8 782.2 1440.0 785.0C1456.2 787.8 1474.2 791.7 1481.0 793.0"/><path d="M1551.0 812.0C1564.7 816.5 1612.4 832.8 1633.4 839.3C1654.4 845.8 1660.5 847.0 1677.0 851.0C1693.5 855.0 1707.4 859.0 1732.7 863.5C1758.0 868.0 1810.1 875.4 1829.0 878.0C1847.9 880.6 1817.5 879.0 1846.0 879.0C1874.5 879.0 1945.7 878.8 2000.0 878.0C2054.3 877.2 2137.7 875.2 2172.0 874.0C2206.3 872.8 2189.8 873.2 2205.6 871.0C2221.4 868.8 2232.8 865.4 2267.0 860.7C2301.2 856.0 2376.3 846.9 2410.6 843.0C2444.9 839.1 2436.8 841.4 2473.0 837.5C2509.2 833.6 2589.3 824.1 2628.0 819.4C2666.7 814.6 2683.9 811.4 2705.4 809.0C2726.9 806.6 2735.6 805.4 2757.0 805.0C2778.4 804.6 2803.9 805.0 2834.0 806.5C2864.1 808.0 2907.4 812.1 2937.5 814.0C2967.6 815.9 2992.9 817.2 3014.8 817.9C3036.7 818.6 3060.0 818.0 3069.0 818.0"/><path d="M404.8 1022.0C414.7 1023.2 441.2 1027.0 464.0 1029.0C486.8 1031.0 520.0 1033.4 541.5 1034.0C563.0 1034.6 571.5 1033.9 593.0 1032.6C614.5 1031.3 640.3 1029.4 670.4 1026.0C700.5 1022.6 742.3 1016.2 773.6 1012.0C804.9 1007.8 827.9 1004.6 858.0 1000.7C888.1 996.8 916.5 992.9 954.0 988.8C991.5 984.7 1042.0 979.0 1083.0 976.0C1124.0 973.0 1170.5 972.0 1200.0 970.8C1229.5 969.6 1234.7 969.1 1259.7 969.0C1284.7 968.9 1326.4 969.5 1350.0 970.0C1373.6 970.5 1383.2 971.2 1401.5 972.0C1419.8 972.8 1410.2 972.0 1460.0 975.0C1509.8 978.0 1610.0 985.3 1700.0 990.0C1790.0 994.7 1908.7 999.5 2000.0 1003.0C2091.3 1006.5 2183.8 1009.4 2248.0 1010.7C2312.2 1012.0 2362.2 1011.0 2385.0 1011.0"/><path d="M2455.8 1010.0C2483.2 1009.5 2577.6 1008.6 2620.0 1006.8C2662.4 1005.0 2683.4 1002.0 2710.5 999.0C2737.6 996.0 2757.8 992.2 2782.7 988.8C2807.6 985.4 2838.5 980.9 2860.0 978.5C2881.5 976.1 2897.1 974.4 2911.7 974.4C2926.3 974.4 2934.9 975.7 2947.8 978.5C2960.7 981.3 2977.0 986.7 2989.0 991.4C3001.0 996.1 3011.8 1002.2 3020.0 1006.9C3028.2 1011.6 3035.0 1017.6 3038.0 1019.8"/><path d="M470.0 1218.0C473.3 1219.7 482.4 1225.8 490.0 1228.0C497.6 1230.2 506.3 1230.5 515.7 1231.0C525.2 1231.5 538.3 1232.2 546.7 1231.0C555.1 1229.8 562.8 1225.2 566.0 1224.0"/><path d="M776.0 1203.0L817.4 1182.0"/><path d="M884.5 1156.4C894.4 1155.3 923.6 1150.1 943.8 1149.7C964.0 1149.3 986.8 1151.0 1005.7 1153.8C1024.6 1156.6 1035.5 1161.5 1057.0 1166.7C1078.5 1171.9 1115.9 1180.9 1134.6 1184.8C1153.3 1188.7 1163.3 1189.1 1169.0 1190.0"/><path d="M381.0 222.6L424.0 223.0"/><path d="M443.0 208.0C455.8 207.7 495.7 206.6 520.0 206.0C544.3 205.4 577.5 204.7 589.0 204.4"/><ellipse cx="923" cy="520" rx="45" ry="9"/></g><g fill="none" stroke="#000" stroke-width="5"><path d="M335.0 277.0C346.5 275.2 380.8 268.8 404.0 266.0C427.2 263.2 462.3 261.0 474.0 260.0"/><path d="M545.0 254.0C559.3 252.7 608.2 249.0 631.0 246.0C653.8 243.0 668.3 239.0 682.0 236.0C695.7 233.0 705.5 230.7 713.0 228.0C720.5 225.3 724.3 222.5 727.0 220.0C729.7 217.5 729.2 215.5 729.0 213.0C728.8 210.5 726.5 206.3 726.0 205.0"/><path d="M331.0 220.5L373.0 220.0"/><path d="M424.0 222.0C431.0 222.0 452.2 222.7 466.0 222.0C479.8 221.3 489.8 220.1 507.0 218.0C524.2 215.9 548.3 212.0 569.0 209.6C589.7 207.2 620.7 204.4 631.0 203.4"/><path d="M1138.7 203.0C1138.9 206.0 1137.8 216.2 1140.0 221.0C1142.2 225.8 1141.1 228.0 1151.6 231.5C1162.1 235.0 1177.3 238.6 1203.0 241.8C1228.7 245.1 1271.7 248.6 1306.0 251.0C1340.3 253.4 1374.6 254.5 1409.0 256.0C1443.4 257.5 1475.1 258.9 1512.6 259.9C1550.1 260.9 1573.6 261.8 1633.8 262.0C1694.0 262.2 1790.6 261.9 1873.6 261.4C1956.5 260.9 2065.9 258.5 2131.5 258.8C2197.1 259.1 2218.8 261.7 2267.0 263.0C2315.2 264.3 2372.0 265.6 2421.0 266.5C2470.0 267.4 2537.7 268.2 2561.0 268.6"/><path d="M2635.7 268.6C2660.2 269.3 2741.0 270.8 2782.7 272.8C2824.4 274.8 2855.8 277.7 2885.9 280.5C2916.0 283.3 2945.0 288.1 2963.0 289.8C2981.0 291.5 2981.1 292.8 2994.0 290.8C3006.9 288.8 3024.3 283.9 3040.6 277.9C3056.9 271.9 3080.0 261.2 3092.0 254.7C3104.0 248.2 3109.0 244.5 3112.8 239.0C3116.6 233.5 3118.5 226.3 3115.0 221.6C3111.5 216.9 3099.7 213.6 3092.0 210.9C3084.3 208.2 3072.8 206.6 3069.0 205.7"/><path d="M363.6 818.6C371.8 820.8 395.9 826.3 412.6 831.5C429.3 836.7 446.8 843.2 464.0 849.6C481.2 856.0 498.5 863.6 515.7 870.0C532.9 876.4 549.8 883.0 567.0 888.0C584.2 893.0 601.8 897.2 619.0 900.0C636.2 902.8 648.9 904.0 670.4 905.0C691.9 906.0 716.5 907.2 747.8 906.0C779.1 904.8 823.6 900.5 858.0 897.5C892.4 894.5 925.1 890.4 954.0 888.0C982.9 885.6 1001.4 884.1 1031.5 883.0C1061.6 881.9 1097.4 881.0 1134.6 881.5C1171.8 882.0 1208.9 883.3 1254.7 885.7C1300.5 888.1 1366.4 892.8 1409.4 896.0C1452.4 899.2 1478.2 902.0 1512.6 905.0C1547.0 908.0 1584.5 911.7 1615.7 914.0C1646.9 916.3 1662.6 917.2 1700.0 919.0C1737.4 920.8 1790.0 923.5 1840.0 925.0C1890.0 926.5 1938.8 927.8 2000.0 928.0C2061.2 928.2 2160.7 927.3 2207.0 926.0C2253.3 924.7 2253.3 921.9 2278.0 920.4C2302.7 918.9 2329.2 917.6 2355.0 917.0C2380.8 916.4 2402.5 916.4 2432.6 917.0C2462.7 917.6 2503.1 919.4 2535.7 920.4C2568.3 921.4 2599.7 922.6 2628.0 922.8C2656.3 923.0 2679.6 923.0 2705.4 921.8C2731.2 920.6 2756.9 918.1 2782.7 915.6C2808.5 913.1 2835.9 908.8 2860.0 907.0C2884.1 905.2 2905.5 905.0 2927.0 905.0C2948.5 905.0 2968.3 905.5 2989.0 907.0C3009.7 908.5 3040.7 912.8 3051.0 914.0"/></g><g transform="rotate(-6 509 255)"><text x="509" y="266.1" font-size="31" text-anchor="middle">0.5</text></g><text x="408" y="218.9" font-size="31" text-anchor="middle">0.6</text><text x="2597" y="279.7" font-size="31" text-anchor="middle">0.5</text><g transform="rotate(-6 2880.7 206.5)"><text x="2880.7" y="217.6" font-size="31" text-anchor="middle">0.4</text></g><text x="2242" y="321.1" font-size="31" text-anchor="middle">0.6</text><text x="1672.5" y="431.9" font-size="31" text-anchor="middle">0.7</text><g transform="rotate(-3 2161 505.4)"><text x="2161" y="516.5" font-size="31" text-anchor="middle">0.8</text></g><g transform="rotate(14 1516.7 800.6)"><text x="1516.7" y="811.7" font-size="31" text-anchor="middle">0.9</text></g><text x="2422" y="1023.1" font-size="31" text-anchor="middle">1.1</text><g transform="rotate(-22 851 1164)"><text x="851" y="1175.1" font-size="31" text-anchor="middle">1.2</text></g></g><path d="M293 203L296 204L307 209L318 217L326 227L331 238L334 258L335.6 278L339 350L341.5 386L346 397L349.3 448L352.6 580L356 712L361 777L364.6 818.6L371 865L380 900L388.3 946.4L396 980L406.4 1021L419 1075L432 1132L445 1178.5L458 1199L470.8 1217L486 1230L507 1248L517 1247L527.5 1250.7L537.9 1240L550 1233L563.6 1225L569.3 1222.3L575 1222L579.8 1220.2L584.6 1217.4L589.4 1216L594.7 1216.5L600 1216L606 1213.1L612 1209L617.3 1206L622.7 1204.6L628 1205.6L634 1207.3L640 1206L646.5 1201.9L653 1200L657.6 1198.5L662.2 1201.5L666.8 1199L673.4 1198.4L680 1198L685.9 1198.1L691.8 1195.2L697.7 1194L702.9 1191.4L708 1187.5L713.2 1189.2L718.4 1194L724.2 1195.6L730 1196L734.7 1200.3L739.3 1201.4L744 1204L749.3 1204.4L754.7 1203.4L760 1202L764.6 1200.3L769.1 1203.5L773.7 1203L778.2 1201.9L782.8 1203L788.5 1202.3L794.3 1207.3L800 1207L805.4 1207.1L810.8 1208.5L816.1 1209.4L821.5 1208L826.1 1208.4L830.8 1208.9L835.4 1206L840 1206L845 1208.2L850 1207.5L855 1210.5L860 1209.4L865.2 1209.4L870.3 1204.2L875.5 1204.3L880.3 1202.6L885.2 1202.9L890 1204L895.5 1207L900.9 1205.7L906.4 1206.9L912.2 1211L918 1214L923.8 1214.6L929.6 1217L934.7 1215.7L939.9 1213.8L945 1213L952.8 1221L959.2 1211.8L965.7 1204L974.7 1217L978.6 1188.8L983.8 1182.4L989 1161.7L992.8 1177L1000.5 1170.8L1007 1150L1010.8 1147.5L1017.3 1123L1025 1147.5L1035.3 1165.6L1045.7 1163L1053.4 1183.6L1057 1181L1059.8 1150L1065 1142.4L1070 1129.5L1077.9 1147.5L1081.8 1178.5L1085.6 1196.5L1093.4 1159L1099.8 1183.6L1107.5 1150L1117.9 1186L1121.7 1172L1130.8 1199L1135.9 1209.4L1141.8 1227.5L1150 1213L1155 1163L1160.4 1147.5L1165.6 1173L1169.4 1191L1172 1183.6L1174.6 1128L1182.3 1128L1187.5 1133L1192.6 1120.5L1197.8 1134.6L1205.5 1096L1209.4 1108.9L1217 1071.5L1223.6 1101L1230 1134.6L1236.5 1085.6L1240.3 1057.3L1245.5 1052L1254.5 1071.5L1261 1044.4L1264.9 1040.5L1268.7 1047L1272.6 1041.8L1282.9 1056L1289.3 1025L1295.8 1044.4L1302.2 1031.5L1304.8 1039L1310 1026L1316.4 1025L1320.3 1010.9L1326.7 1023.8L1331.9 1034L1338.3 1010.9L1347.4 1029L1352.5 1023.8L1359 1035L1362.8 1013.5L1366.7 1018.6L1369.3 1013.5L1375.7 1021L1379.6 1012L1383.5 1021L1388.6 1013.5L1395 1027.6L1400 1010.9L1404 960.6L1408 960.6L1411.8 998L1418.3 986.4L1424.7 999L1428.6 983.8L1433.7 987.7L1438.9 983.8L1444 999L1449.2 987.7L1454.4 1000.6L1459 979L1464 994L1468 984L1472 996L1478 988L1485 976.5L1491 997L1497 987L1503 998L1510 984L1517 992L1525 976.5L1530 985L1536.7 970L1543 984L1545.7 943L1549.6 921L1553.5 918.5L1557.3 897.8L1561.2 925L1567.6 948L1571.5 945.5L1575.4 949.4L1581.8 918.5L1588.3 935L1596 949.4L1602.5 934L1606.3 950.7L1611.5 935L1620.5 891.4L1625.7 926L1630.8 892.7L1633.4 892.7L1637.3 914.6L1641 888.8L1646.3 875.9L1650 855L1654 843.7L1659 861.7L1668 837L1674.7 865.6L1682.4 824L1687.5 825.6L1696.6 808L1700.4 824L1703 881L1705.6 894L1710.8 885L1717 883.6L1725 906.9L1731.4 878.5L1735.3 856.6L1737.8 857.9L1744.3 780.5L1749.4 747L1755.9 726L1759.8 725L1762.9 667L1766 713.5L1769.6 798.6L1772.6 765L1776.5 654L1781.7 654L1786.8 616.8L1790 612.9L1794.6 633.5L1797 624.5L1799.7 677L1802.3 736.7L1806 736.7L1808.7 718.6L1811.3 716L1815 759.9L1821.6 776.6L1826.8 827L1832 883.6L1838.4 932.6L1840 943L1843.6 909.4L1847.4 870.8L1852.6 861.7L1859 839.8L1864 815L1868 817.9L1870.6 827L1874.5 778L1877.9 680L1881.5 726L1884 729L1888 719L1891 759.9L1894.4 757L1899 783L1903 784.4L1908 803.7L1913 776.6L1919 765L1923.5 796L1928.7 839.8L1933.8 878.5L1937 896.5L1944 856.6L1949.3 875.9L1955.7 874.6L1959.6 847.5L1964.8 788L1969 837L1975 819L1981.5 781.8L1986 780.5L1990.5 806L1994.4 814L1998.3 830.8L2003.4 823L2007.3 843.7L2013.8 810L2020 827L2023.9 856L2027.7 848L2031.6 869L2036.8 870L2042 852L2048.4 874L2056 906L2062.5 863.7L2067.7 836.6L2071.6 804.4L2072.9 763L2074.7 660L2076.5 513.7L2079.5 600L2081.9 660L2083 763L2085.8 814.7L2089.6 840.5L2094.8 867.6L2100.5 821L2105 865L2110 827.6L2115.4 787.6L2118 789L2121.9 819.9L2125.7 852L2130.9 835L2134.7 839L2138.6 836.6L2139.9 763L2141.2 660L2143.5 500L2145.6 380.6L2148 500L2151.5 660L2152.8 763L2155.4 814.7L2160.5 848L2165.7 845.7L2169.6 868.9L2172 892L2174.7 919L2179.9 907.5L2185 866L2188 861L2190 874L2192.8 814.7L2195.4 711.6L2197 650L2198.2 581.7L2199.6 650L2201.7 680L2203 724.5L2204.4 840.5L2206 928L2209.5 956.5L2212 972L2215 970L2219 952.8L2223.2 974.8L2229 1007L2234.8 998L2241.8 995.7L2247.6 1002.7L2252.2 1039.8L2256.9 1079L2260.8 1100L2267.3 1087L2272 1111.7L2274.7 1135L2280 1056L2284.7 986L2288.7 983L2292.8 1009.6L2298.6 1059.5L2302.8 1002.7L2306.8 1032.8L2311.4 1107L2317.2 1172L2324.2 1140.7L2328.8 1167.4L2333 1187L2337 1153.5L2341 1137L2344.4 1146.5L2348.5 1116L2354.3 1114L2359 1104.8L2362.5 1114L2366 1167.4L2369 1182.5L2372.4 1165L2378.2 1186L2383.3 1155.8L2386.8 1146.5L2390.8 1155.8L2395 1176.7L2401.9 1153.5L2407.7 1128L2410.7 1125.7L2414.7 1132.6L2420.5 1082.7L2424 1109.4L2428.6 1160.5L2436.7 1146.5L2443.7 1145.4L2449.5 1130L2455.3 1145.4L2462.2 1144L2469.2 1126.8L2475 1142L2480.8 1152L2486.6 1159L2490 1173L2493.6 1169.8L2504 1165L2508.7 1173L2512 1142L2515 1133.8L2519 1146.5L2521.4 1151L2524.9 1146.5L2530.7 1158L2535.4 1152L2541 1159L2544.6 1174L2547.4 1194L2552.8 1168.6L2557.4 1193L2560.9 1201L2565.5 1169.8L2569 1090.8L2572 1072L2574.8 1097.8L2578.3 1155.8L2583 1188L2586.4 1216L2589.9 1244L2594.5 1202L2598 1251L2602.6 1216L2608.4 1207L2614 1237L2619.6 1224L2624.7 1246L2628.2 1255.6L2634 1239L2639.8 1204.6L2644.4 1200L2649 1227.8L2652.5 1246L2657.6 1218.5L2663 1258L2666.5 1268L2671 1281L2676.9 1258L2686.2 1229L2692 1248.6L2697 1263.7L2701.3 1251L2705.4 1263.7L2712.6 1237.6L2718.4 1258.8L2722.2 1255L2726 1205.6L2729 1202.7L2732 1217L2734.4 1234.7L2738.7 1159L2741.2 1151.5L2743.5 1167L2745.4 1205.6L2749.3 1221L2754 1169L2756 1168.5L2759 1203.7L2761.9 1228.9L2764.8 1248L2767.7 1230.8L2770.6 1217L2773.5 1225L2778.9 1211.5L2781.6 1186L2783.5 1149.6L2785 1178.6L2789 1183.4L2794.8 1187L2800.6 1188L2805.4 1199.8L2810 1201.8L2814 1223L2817.6 1245L2820.3 1210.5L2824.7 1209.5L2830.5 1189L2833.4 1205.6L2836.3 1223L2842 1212L2845 1216L2849 1196L2852.8 1174.7L2855 1146.7L2857.6 1172.8L2863.4 1190L2866.3 1176.6L2868.2 1158L2870 1155L2872.5 1174.7L2876.4 1170.8L2879.8 1182L2885.6 1187L2890.5 1170L2893.4 1178.6L2901 1173.7L2905 1182L2908.9 1164L2915.6 1159L2921.4 1148.6L2924.3 1157L2930 1140L2934 1141.8L2937.5 1131L2941.7 1141.8L2947.5 1140.9L2955.7 1128L2959 1136L2965 1159L2967.8 1147.6L2973.6 1133L2976.5 1136L2981.4 1128L2984.3 1150.5L2987.2 1116.7L2989.5 1108L2992 1112.8L2995.3 1135L2999.7 1114.8L3005.5 1103L3013.3 1097L3019 1083.8L3026.8 1066.4L3032.6 1052.9L3039.4 1020L3043 1009L3051 957.9L3056 897L3066 848L3071.5 784L3079 710L3084.4 615.7L3089.6 512.6L3092 388.8L3094.7 306L3105 254.7L3112.8 234L3125.7 204L3132 203.0L3133 1293L293 1293Z" fill="#3a3a3a"/><path d="M293.8 397H3131M293.8 591.4H3131M293.8 785.8H3131M293.8 980.1H3131M293.8 1174.5H3131M858.2 202.7V1290.7M1634.2 202.7V1290.7M2410.2 202.7V1290.7" stroke="#000" stroke-width="1.4" fill="none"/><text x="306.5" y="1278.3" font-size="27" fill="#d2d2d2" textLength="723.5" lengthAdjust="spacingAndGlyphs">Data: Gideon Henderson, Peter Scott, Xin-Yuan Zheng</text><rect x="293.8" y="202.7" width="2837.2" height="1088" fill="none" stroke="#000" stroke-width="5.6"/><path d="M291.8 202.7H271.8M291.8 299.9H278.8M291.8 397H271.8M291.8 494.2H278.8M291.8 591.4H271.8M291.8 688.6H278.8M291.8 785.8H271.8M291.8 882.9H278.8M291.8 980.1H271.8M291.8 1077.3H278.8M291.8 1174.5H271.8M291.8 1271.6H278.8M470.2 1292.7V1304.7M858.2 1292.7V1311.7M1246.2 1292.7V1304.7M1634.2 1292.7V1311.7M2022.2 1292.7V1304.7M2410.2 1292.7V1311.7M2798.2 1292.7V1304.7" stroke="#000" stroke-width="2" fill="none"/><text x="257.3" y="215" font-size="37.7" text-anchor="end">0</text><text x="257.3" y="409.3" font-size="37.7" text-anchor="end">1000</text><text x="257.3" y="603.7" font-size="37.7" text-anchor="end">2000</text><text x="257.3" y="798" font-size="37.7" text-anchor="end">3000</text><text x="257.3" y="992.4" font-size="37.7" text-anchor="end">4000</text><text x="257.3" y="1186.8" font-size="37.7" text-anchor="end">5000</text><text x="859.2" y="1356.5" font-size="37.7" text-anchor="middle">40°W</text><text x="1635.2" y="1356.5" font-size="37.7" text-anchor="middle">20°W</text><text x="2411.2" y="1356.5" font-size="37.7" text-anchor="middle">0°</text><text x="124.5" y="746" font-size="43.7" text-anchor="middle" transform="rotate(-90 124.5 746)" textLength="232" lengthAdjust="spacingAndGlyphs">DEPTH [m]</text><text x="3118" y="158" font-size="48.5" text-anchor="end" textLength="758" lengthAdjust="spacingAndGlyphs">Tm_D_CONC_BOTTLE [pmol/kg]</text><path d="M3186.5 203L3228.9 186.6L3271.3 203V1291L3228.9 1307.5L3186.5 1291Z" fill="url(#cbg)" filter="url(#palnb)"/><path d="M3186.5 203L3228.9 186.6L3271.3 203V1291L3228.9 1307.5L3186.5 1291Z" fill="none" stroke="#000" stroke-width="1.3"/><text x="3285.5" y="1191.3" font-size="36">0.4</text><text x="3285.5" y="970.2" font-size="36">0.6</text><text x="3285.5" y="749.2" font-size="36">0.8</text><text x="3285.5" y="528.1" font-size="36">1</text><text x="3285.5" y="307.1" font-size="36">1.2</text><path d="M3186.5 1180.7h18.5M3271.3 1180.7h-18M3186.5 959.6h18.5M3271.3 959.6h-18M3186.5 738.6h18.5M3271.3 738.6h-18M3186.5 517.5h18.5M3271.3 517.5h-18M3186.5 296.5h18.5M3271.3 296.5h-18" stroke="#000" stroke-width="2" fill="none"/><text x="3164" y="1286" font-size="22.5" transform="rotate(-90 3164 1286)" textLength="252" lengthAdjust="spacingAndGlyphs">Ocean Data View / DIVA</text><rect x="1828.5" y="939" width="301.5" height="219.8" fill="#8e8ef5"/><g clip-path="url(#iclip)"><g filter="url(#b3)"><path d="M2004.0 942.4C2003.2 946.9 2000.7 961.0 1999.0 969.8C1997.3 978.5 1996.2 986.3 1994.0 994.6C1991.8 1002.9 1987.7 1010.9 1985.7 1019.5C1983.8 1028.1 1983.3 1037.7 1982.4 1046.0C1981.6 1054.3 1979.4 1061.2 1980.8 1069.3C1982.1 1077.3 1986.3 1087.2 1990.7 1094.1C1995.1 1101.0 2000.4 1105.7 2007.3 1110.7C2014.2 1115.7 2022.5 1121.2 2032.2 1124.0C2041.8 1126.7 2059.8 1126.7 2065.3 1127.3" fill="none" stroke="#a6c2f2" stroke-width="14" opacity=".75"/><path d="M2081.9 969.8C2079.7 971.1 2072.0 973.9 2068.7 978.0C2065.3 982.2 2064.2 988.8 2062.0 994.6C2059.8 1000.4 2057.3 1007.6 2055.4 1012.9C2053.5 1018.1 2051.2 1023.9 2050.4 1026.1" fill="none" stroke="#b8dcee" stroke-width="5" opacity=".9"/><path d="M1906.1 1019.5C1908.3 1018.7 1915.0 1015.6 1919.4 1014.5C1923.8 1013.4 1929.6 1011.5 1932.7 1012.9C1935.7 1014.3 1937.1 1019.5 1937.6 1022.8C1938.2 1026.1 1936.3 1031.1 1936.0 1032.8" fill="none" stroke="#b4d4f0" stroke-width="9" opacity=".8"/><path d="M1831.5 1127.3C1837.3 1125.9 1855.0 1120.1 1866.3 1119.0C1877.7 1117.9 1888.4 1119.0 1899.5 1120.7C1910.6 1122.3 1924.4 1125.6 1932.7 1129.0C1941.0 1132.3 1941.0 1139.5 1949.3 1140.6C1957.5 1141.7 1968.6 1137.5 1982.4 1135.6C1996.2 1133.7 2015.6 1130.6 2032.2 1129.0C2048.8 1127.3 2066.2 1127.3 2081.9 1125.6C2097.7 1124.0 2119.2 1120.1 2126.7 1119.0" fill="none" stroke="#a8c8f2" stroke-width="22" opacity=".7"/><path d="M1831.5 1102.4C1834.5 1103.3 1843.1 1106.8 1849.8 1107.4C1856.4 1107.9 1864.1 1105.2 1871.3 1105.7C1878.5 1106.3 1889.3 1109.9 1892.9 1110.7" fill="none" stroke="#b0d4ee" stroke-width="12" opacity=".7"/><ellipse cx="2073.63184079602" cy="1099.1044776119402" rx="22" ry="14" fill="#a4c4f2" opacity=".6"/><ellipse cx="1866.334991708126" cy="1085.837479270315" rx="30" ry="22" fill="#9c7cf4" opacity=".45"/><ellipse cx="1957.5456053067994" cy="1002.9187396351575" rx="30" ry="30" fill="#9880f4" opacity=".4"/></g><path d="M1831.5 942.4L1902.8 942.4L1899.5 966.4L1896.2 978L1889.6 986.3L1879.6 989.7L1868 997.9L1866.3 1011.2L1858 1022.8L1853.1 1032.8L1844.8 1039.4L1835.7 1052.7L1831.5 1061.0Z" fill="#e6cfc4" stroke="#e6cfc4" stroke-width="7" stroke-linejoin="round"/><path d="M2087.7 942.4L2126.7 942.4L2126.7 1034.4L2115.1 1036.1L2106.8 1022.8L2098.5 999.6L2093.5 983L2088.6 963.1Z" fill="#e6cfc4" stroke="#e6cfc4" stroke-width="5" stroke-linejoin="round"/><path d="M1831.5 1051L1842.3 1052.7L1837.3 1069.3L1839 1094.1L1843.9 1110.7L1839 1133.9L1831.5 1135.6Z" fill="#e6d4cc"/><path d="M1907.8 951.5C1906.7 955.4 1903.6 968.4 1901.2 974.7C1898.7 981.1 1897.3 985.8 1892.9 989.7C1888.4 993.5 1878.5 993.8 1874.6 997.9C1870.8 1002.1 1872.4 1009.3 1869.7 1014.5C1866.9 1019.8 1861.4 1024.2 1858.0 1029.5C1854.7 1034.7 1852.1 1039.4 1849.8 1046.0C1847.4 1052.7 1845.1 1061.2 1843.9 1069.3C1842.8 1077.3 1842.2 1085.8 1843.1 1094.1C1844.1 1102.4 1848.6 1114.9 1849.8 1119.0" fill="none" stroke="#d8d8ec" stroke-width="6" opacity=".8"/><path d="M2111.8 1042.7L2125 1034.4L2126.7 1046L2115.1 1047.7Z" fill="#e6cfc4"/><path d="M1831.5 942.4L1902.8 942.4L1899.5 966.4L1896.2 978L1889.6 986.3L1879.6 989.7L1868 997.9L1866.3 1011.2L1858 1022.8L1853.1 1032.8L1844.8 1039.4L1835.7 1052.7L1831.5 1061.0Z" fill="#646464"/><path d="M2087.7 942.4L2126.7 942.4L2126.7 1034.4L2115.1 1036.1L2106.8 1022.8L2098.5 999.6L2093.5 983L2088.6 963.1Z" fill="#646464"/><ellipse cx="1910.2819237147596" cy="1126.4676616915422" rx="5" ry="2" fill="#554" transform="rotate(25 1910.2819237147596 1126.4676616915422)"/><path d="M1898.8 942.4V1155.5M2042.6 942.4V1155.5M1831.5 1151H2126.7" stroke="#000" stroke-width="1.1" fill="none"/><path d="M1844.8 1039.4L1873 1061L2063.7 1061L2082 1052L2110 1032.8" fill="none" stroke="#0000e6" stroke-width="9" stroke-linejoin="round" stroke-linecap="round" transform="translate(1.2 1.8)"/><circle cx="2057.9" cy="1050.2" r="6" fill="#0000e6"/><circle cx="2042" cy="1054" r="4.5" fill="#0000e6"/><circle cx="2008" cy="1066.5" r="4" fill="#0000e6"/><path d="M1844.8 1039.4L1873 1061L2063.7 1061L2082 1052L2110 1032.8" fill="none" stroke="#ff0010" stroke-width="9" stroke-linejoin="round" stroke-linecap="round"/><circle cx="1844.8" cy="1039.4" r="9.5" fill="#ff0010"/></g><rect x="1830.1" y="940.7" width="298.2" height="216.5" fill="none" stroke="#000" stroke-width="3.4"/><path d="M1831.5 940.7H1862.2M1831.5 1157.2H1862.2M1898.8 940.7H1934M1898.8 1157.2H1934M1970.8 940.7H2006M1970.8 1157.2H2006M2042.6 940.7H2078M2042.6 1157.2H2078M2114.6 940.7H2126.7M2114.6 1157.2H2126.7M1830.1 942.4V969.7M2128.3 942.4V969.7M1830.1 1016V1059M2128.3 1016V1059M1830.1 1107V1150.5M2128.3 1107V1150.5" stroke="#fff" stroke-width="1.8" fill="none"/><text x="1898.5" y="1172.5" font-size="11.5" text-anchor="middle">40°W</text><text x="2042.5" y="1172.5" font-size="11.5" text-anchor="middle">0°</text><text x="1824" y="1154.5" font-size="11" text-anchor="end">60°S</text><text x="2140" y="1152" font-size="9.2" transform="rotate(-90 2140 1152)" textLength="73" lengthAdjust="spacingAndGlyphs">Ocean Data View</text><text x="1801.4" y="1040.4" font-size="56.3" text-anchor="end" fill="#fff">GA10</text><text x="1801.4" y="1108.5" font-size="33.8" text-anchor="end" fill="#fff">Oct - Nov 2010</text><text x="1801.4" y="1156.4" font-size="34.2" text-anchor="end" fill="#fff">Dec 2011 - Jan 2012</text><g clip-path="url(#sclip)"><g filter="url(#pal2)"><rect x="200" y="1520" width="1290" height="650" fill="#808080"/><rect x="218.4" y="1534.7" width="8.5" height="624.7" fill="url(#s0)"/><rect x="226.4" y="1534.7" width="8.5" height="624.7" fill="url(#s1)"/><rect x="234.4" y="1534.7" width="8.5" height="624.7" fill="url(#s2)"/><rect x="242.4" y="1534.7" width="8.5" height="624.7" fill="url(#s3)"/><rect x="250.4" y="1534.7" width="8.5" height="624.7" fill="url(#s4)"/><rect x="258.4" y="1534.7" width="8.5" height="624.7" fill="url(#s5)"/><rect x="266.4" y="1534.7" width="8.5" height="624.7" fill="url(#s6)"/><rect x="274.4" y="1534.7" width="8.5" height="624.7" fill="url(#s7)"/><rect x="282.4" y="1534.7" width="8.5" height="624.7" fill="url(#s8)"/><rect x="290.4" y="1534.7" width="8.5" height="624.7" fill="url(#s9)"/><rect x="298.4" y="1534.7" width="8.5" height="624.7" fill="url(#s10)"/><rect x="306.4" y="1534.7" width="8.5" height="624.7" fill="url(#s11)"/><rect x="314.4" y="1534.7" width="8.5" height="624.7" fill="url(#s12)"/><rect x="322.4" y="1534.7" width="8.5" height="624.7" fill="url(#s13)"/><rect x="330.4" y="1534.7" width="8.5" height="624.7" fill="url(#s14)"/><rect x="338.4" y="1534.7" width="8.5" height="624.7" fill="url(#s15)"/><rect x="346.4" y="1534.7" width="8.5" height="624.7" fill="url(#s16)"/><rect x="354.4" y="1534.7" width="8.5" height="624.7" fill="url(#s17)"/><rect x="362.4" y="1534.7" width="8.5" height="624.7" fill="url(#s18)"/><rect x="370.4" y="1534.7" width="8.5" height="624.7" fill="url(#s19)"/><rect x="378.4" y="1534.7" width="8.5" height="624.7" fill="url(#s20)"/><rect x="386.4" y="1534.7" width="8.5" height="624.7" fill="url(#s21)"/><rect x="394.4" y="1534.7" width="8.5" height="624.7" fill="url(#s22)"/><rect x="402.4" y="1534.7" width="8.5" height="624.7" fill="url(#s23)"/><rect x="410.4" y="1534.7" width="8.5" height="624.7" fill="url(#s24)"/><rect x="418.4" y="1534.7" width="8.5" height="624.7" fill="url(#s25)"/><rect x="426.4" y="1534.7" width="8.5" height="624.7" fill="url(#s26)"/><rect x="434.4" y="1534.7" width="8.5" height="624.7" fill="url(#s27)"/><rect x="442.4" y="1534.7" width="8.5" height="624.7" fill="url(#s28)"/><rect x="450.4" y="1534.7" width="8.5" height="624.7" fill="url(#s29)"/><rect x="458.4" y="1534.7" width="8.5" height="624.7" fill="url(#s30)"/><rect x="466.4" y="1534.7" width="8.5" height="624.7" fill="url(#s31)"/><rect x="474.4" y="1534.7" width="8.5" height="624.7" fill="url(#s32)"/><rect x="482.4" y="1534.7" width="8.5" height="624.7" fill="url(#s33)"/><rect x="490.4" y="1534.7" width="8.5" height="624.7" fill="url(#s34)"/><rect x="498.4" y="1534.7" width="8.5" height="624.7" fill="url(#s35)"/><rect x="506.4" y="1534.7" width="8.5" height="624.7" fill="url(#s36)"/><rect x="514.4" y="1534.7" width="8.5" height="624.7" fill="url(#s37)"/><rect x="522.4" y="1534.7" width="8.5" height="624.7" fill="url(#s38)"/><rect x="530.4" y="1534.7" width="8.5" height="624.7" fill="url(#s39)"/><rect x="538.4" y="1534.7" width="8.5" height="624.7" fill="url(#s40)"/><rect x="546.4" y="1534.7" width="8.5" height="624.7" fill="url(#s41)"/><rect x="554.4" y="1534.7" width="8.5" height="624.7" fill="url(#s42)"/><rect x="562.4" y="1534.7" width="8.5" height="624.7" fill="url(#s43)"/><rect x="570.4" y="1534.7" width="8.5" height="624.7" fill="url(#s44)"/><rect x="578.4" y="1534.7" width="8.5" height="624.7" fill="url(#s45)"/><rect x="586.4" y="1534.7" width="8.5" height="624.7" fill="url(#s46)"/><rect x="594.4" y="1534.7" width="8.5" height="624.7" fill="url(#s47)"/><rect x="602.4" y="1534.7" width="8.5" height="624.7" fill="url(#s48)"/><rect x="610.4" y="1534.7" width="8.5" height="624.7" fill="url(#s49)"/><rect x="618.4" y="1534.7" width="8.5" height="624.7" fill="url(#s50)"/><rect x="626.4" y="1534.7" width="8.5" height="624.7" fill="url(#s51)"/><rect x="634.4" y="1534.7" width="8.5" height="624.7" fill="url(#s52)"/><rect x="642.4" y="1534.7" width="8.5" height="624.7" fill="url(#s53)"/><rect x="650.4" y="1534.7" width="8.5" height="624.7" fill="url(#s54)"/><rect x="658.4" y="1534.7" width="8.5" height="624.7" fill="url(#s55)"/><rect x="666.4" y="1534.7" width="8.5" height="624.7" fill="url(#s56)"/><rect x="674.4" y="1534.7" width="8.5" height="624.7" fill="url(#s57)"/><rect x="682.4" y="1534.7" width="8.5" height="624.7" fill="url(#s58)"/><rect x="690.4" y="1534.7" width="8.5" height="624.7" fill="url(#s59)"/><rect x="698.4" y="1534.7" width="8.5" height="624.7" fill="url(#s60)"/><rect x="706.4" y="1534.7" width="8.5" height="624.7" fill="url(#s61)"/><rect x="714.4" y="1534.7" width="8.5" height="624.7" fill="url(#s62)"/><rect x="722.4" y="1534.7" width="8.5" height="624.7" fill="url(#s63)"/><rect x="730.4" y="1534.7" width="8.5" height="624.7" fill="url(#s64)"/><rect x="738.4" y="1534.7" width="8.5" height="624.7" fill="url(#s65)"/><rect x="746.4" y="1534.7" width="8.5" height="624.7" fill="url(#s66)"/><rect x="754.4" y="1534.7" width="8.5" height="624.7" fill="url(#s67)"/><rect x="762.4" y="1534.7" width="8.5" height="624.7" fill="url(#s68)"/><rect x="770.4" y="1534.7" width="8.5" height="624.7" fill="url(#s69)"/><rect x="778.4" y="1534.7" width="8.5" height="624.7" fill="url(#s70)"/><rect x="786.4" y="1534.7" width="8.5" height="624.7" fill="url(#s71)"/><rect x="794.4" y="1534.7" width="8.5" height="624.7" fill="url(#s72)"/><rect x="802.4" y="1534.7" width="8.5" height="624.7" fill="url(#s73)"/><rect x="810.4" y="1534.7" width="8.5" height="624.7" fill="url(#s74)"/><rect x="818.4" y="1534.7" width="8.5" height="624.7" fill="url(#s75)"/><rect x="826.4" y="1534.7" width="8.5" height="624.7" fill="url(#s76)"/><rect x="834.4" y="1534.7" width="8.5" height="624.7" fill="url(#s77)"/><rect x="842.4" y="1534.7" width="8.5" height="624.7" fill="url(#s78)"/><rect x="850.4" y="1534.7" width="8.5" height="624.7" fill="url(#s79)"/><rect x="858.4" y="1534.7" width="8.5" height="624.7" fill="url(#s80)"/><rect x="866.4" y="1534.7" width="8.5" height="624.7" fill="url(#s81)"/><rect x="874.4" y="1534.7" width="8.5" height="624.7" fill="url(#s82)"/><rect x="882.4" y="1534.7" width="8.5" height="624.7" fill="url(#s83)"/><rect x="890.4" y="1534.7" width="8.5" height="624.7" fill="url(#s84)"/><rect x="898.4" y="1534.7" width="8.5" height="624.7" fill="url(#s85)"/><rect x="906.4" y="1534.7" width="8.5" height="624.7" fill="url(#s86)"/><rect x="914.4" y="1534.7" width="8.5" height="624.7" fill="url(#s87)"/><rect x="922.4" y="1534.7" width="8.5" height="624.7" fill="url(#s88)"/><rect x="930.4" y="1534.7" width="8.5" height="624.7" fill="url(#s89)"/><rect x="938.4" y="1534.7" width="8.5" height="624.7" fill="url(#s90)"/><rect x="946.4" y="1534.7" width="8.5" height="624.7" fill="url(#s91)"/><rect x="954.4" y="1534.7" width="8.5" height="624.7" fill="url(#s92)"/><rect x="962.4" y="1534.7" width="8.5" height="624.7" fill="url(#s93)"/><rect x="970.4" y="1534.7" width="8.5" height="624.7" fill="url(#s94)"/><rect x="978.4" y="1534.7" width="8.5" height="624.7" fill="url(#s95)"/><rect x="986.4" y="1534.7" width="8.5" height="624.7" fill="url(#s96)"/><rect x="994.4" y="1534.7" width="8.5" height="624.7" fill="url(#s97)"/><rect x="1002.4" y="1534.7" width="8.5" height="624.7" fill="url(#s98)"/><rect x="1010.4" y="1534.7" width="8.5" height="624.7" fill="url(#s99)"/><rect x="1018.4" y="1534.7" width="8.5" height="624.7" fill="url(#s100)"/><rect x="1026.4" y="1534.7" width="8.5" height="624.7" fill="url(#s101)"/><rect x="1034.4" y="1534.7" width="8.5" height="624.7" fill="url(#s102)"/><rect x="1042.4" y="1534.7" width="8.5" height="624.7" fill="url(#s103)"/><rect x="1050.4" y="1534.7" width="8.5" height="624.7" fill="url(#s104)"/><rect x="1058.4" y="1534.7" width="8.5" height="624.7" fill="url(#s105)"/><rect x="1066.4" y="1534.7" width="8.5" height="624.7" fill="url(#s106)"/><rect x="1074.4" y="1534.7" width="8.5" height="624.7" fill="url(#s107)"/><rect x="1082.4" y="1534.7" width="8.5" height="624.7" fill="url(#s108)"/><rect x="1090.4" y="1534.7" width="8.5" height="624.7" fill="url(#s109)"/><rect x="1098.4" y="1534.7" width="8.5" height="624.7" fill="url(#s110)"/><rect x="1106.4" y="1534.7" width="8.5" height="624.7" fill="url(#s111)"/><rect x="1114.4" y="1534.7" width="8.5" height="624.7" fill="url(#s112)"/><rect x="1122.4" y="1534.7" width="8.5" height="624.7" fill="url(#s113)"/><rect x="1130.4" y="1534.7" width="8.5" height="624.7" fill="url(#s114)"/><rect x="1138.4" y="1534.7" width="8.5" height="624.7" fill="url(#s115)"/><rect x="1146.4" y="1534.7" width="8.5" height="624.7" fill="url(#s116)"/><rect x="1154.4" y="1534.7" width="8.5" height="624.7" fill="url(#s117)"/><rect x="1162.4" y="1534.7" width="8.5" height="624.7" fill="url(#s118)"/><rect x="1170.4" y="1534.7" width="8.5" height="624.7" fill="url(#s119)"/><rect x="1178.4" y="1534.7" width="8.5" height="624.7" fill="url(#s120)"/><rect x="1186.4" y="1534.7" width="8.5" height="624.7" fill="url(#s121)"/><rect x="1194.4" y="1534.7" width="8.5" height="624.7" fill="url(#s122)"/><rect x="1202.4" y="1534.7" width="8.5" height="624.7" fill="url(#s123)"/><rect x="1210.4" y="1534.7" width="8.5" height="624.7" fill="url(#s124)"/><rect x="1218.4" y="1534.7" width="8.5" height="624.7" fill="url(#s125)"/><rect x="1226.4" y="1534.7" width="8.5" height="624.7" fill="url(#s126)"/><rect x="1234.4" y="1534.7" width="8.5" height="624.7" fill="url(#s127)"/><rect x="1242.4" y="1534.7" width="8.5" height="624.7" fill="url(#s128)"/><rect x="1250.4" y="1534.7" width="8.5" height="624.7" fill="url(#s129)"/><rect x="1258.4" y="1534.7" width="8.5" height="624.7" fill="url(#s130)"/><rect x="1266.4" y="1534.7" width="8.5" height="624.7" fill="url(#s131)"/><rect x="1274.4" y="1534.7" width="8.5" height="624.7" fill="url(#s132)"/><rect x="1282.4" y="1534.7" width="8.5" height="624.7" fill="url(#s133)"/><rect x="1290.4" y="1534.7" width="8.5" height="624.7" fill="url(#s134)"/><rect x="1298.4" y="1534.7" width="8.5" height="624.7" fill="url(#s135)"/><rect x="1306.4" y="1534.7" width="8.5" height="624.7" fill="url(#s136)"/><rect x="1314.4" y="1534.7" width="8.5" height="624.7" fill="url(#s137)"/><rect x="1322.4" y="1534.7" width="8.5" height="624.7" fill="url(#s138)"/><rect x="1330.4" y="1534.7" width="8.5" height="624.7" fill="url(#s139)"/><rect x="1338.4" y="1534.7" width="8.5" height="624.7" fill="url(#s140)"/><rect x="1346.4" y="1534.7" width="8.5" height="624.7" fill="url(#s141)"/><rect x="1354.4" y="1534.7" width="8.5" height="624.7" fill="url(#s142)"/><rect x="1362.4" y="1534.7" width="8.5" height="624.7" fill="url(#s143)"/><rect x="1370.4" y="1534.7" width="8.5" height="624.7" fill="url(#s144)"/><rect x="1378.4" y="1534.7" width="8.5" height="624.7" fill="url(#s145)"/><rect x="1386.4" y="1534.7" width="8.5" height="624.7" fill="url(#s146)"/><rect x="1394.4" y="1534.7" width="8.5" height="624.7" fill="url(#s147)"/><rect x="1402.4" y="1534.7" width="8.5" height="624.7" fill="url(#s148)"/><rect x="1410.4" y="1534.7" width="8.5" height="624.7" fill="url(#s149)"/><rect x="1418.4" y="1534.7" width="8.5" height="624.7" fill="url(#s150)"/><rect x="1426.4" y="1534.7" width="8.5" height="624.7" fill="url(#s151)"/><rect x="1434.4" y="1534.7" width="8.5" height="624.7" fill="url(#s152)"/><rect x="1442.4" y="1534.7" width="8.5" height="624.7" fill="url(#s153)"/><rect x="1450.4" y="1534.7" width="8.5" height="624.7" fill="url(#s154)"/><rect x="1458.4" y="1534.7" width="8.5" height="624.7" fill="url(#s155)"/><rect x="1466.4" y="1534.7" width="8.5" height="624.7" fill="url(#s156)"/></g><g fill="none" stroke="#000" stroke-width="1"><path d="M253.0 1607.7C257.8 1608.5 270.3 1612.3 282.0 1612.8C293.7 1613.3 313.6 1612.2 323.0 1610.8C332.4 1609.4 336.4 1607.7 338.6 1604.6C340.8 1601.5 335.1 1595.8 336.0 1592.0C336.9 1588.2 337.4 1585.5 343.8 1581.9C350.2 1578.3 364.4 1573.4 374.7 1570.5C385.0 1567.6 397.0 1565.1 405.6 1564.3C414.2 1563.5 417.7 1564.0 426.3 1565.4C434.9 1566.8 446.7 1569.8 457.0 1572.6C467.3 1575.3 475.9 1579.0 488.0 1581.9C500.1 1584.8 513.9 1587.8 529.4 1590.0C544.9 1592.2 563.8 1594.4 581.0 1595.3C598.2 1596.2 617.0 1594.9 632.5 1595.3C648.0 1595.7 662.5 1596.7 673.8 1597.4C685.0 1598.1 688.6 1598.6 700.0 1599.4C711.4 1600.2 724.0 1601.8 742.0 1602.5C760.0 1603.2 787.4 1602.1 808.0 1603.5C828.6 1604.9 850.8 1609.3 865.6 1610.8C880.4 1612.3 884.6 1612.6 896.6 1612.4C908.6 1612.2 924.1 1611.7 937.8 1609.7C951.5 1607.7 967.0 1602.6 979.0 1600.4C991.0 1598.2 996.2 1597.2 1010.0 1596.3C1023.8 1595.4 1053.0 1595.5 1061.6 1595.3"/><path d="M1138.0 1596.7C1142.0 1597.2 1149.4 1597.2 1162.0 1599.4C1174.6 1601.6 1196.2 1607.3 1213.4 1609.7C1230.6 1612.1 1252.3 1613.0 1265.0 1613.9C1277.7 1614.8 1284.3 1614.5 1289.8 1615.3C1295.3 1616.1 1298.7 1617.2 1298.0 1619.0C1297.3 1620.8 1292.8 1623.8 1285.6 1626.0C1278.4 1628.2 1265.0 1631.2 1254.7 1632.4C1244.4 1633.6 1234.1 1633.4 1223.8 1633.4C1213.5 1633.4 1204.8 1632.9 1192.8 1632.4C1180.8 1631.9 1164.9 1630.7 1151.6 1630.4C1138.3 1630.1 1129.8 1630.1 1113.0 1630.4C1096.2 1630.7 1068.2 1632.1 1051.0 1632.4C1033.8 1632.7 1027.2 1632.7 1010.0 1632.4C992.8 1632.1 965.2 1630.6 948.0 1630.4C930.8 1630.2 920.7 1630.6 907.0 1631.4C893.3 1632.2 882.1 1633.6 865.6 1635.5C849.1 1637.4 825.2 1640.8 808.0 1642.7C790.8 1644.6 778.0 1646.0 762.5 1646.9C747.0 1647.8 728.8 1648.1 715.0 1647.9C701.2 1647.7 700.6 1646.2 680.0 1645.8C659.4 1645.4 616.4 1646.5 591.3 1645.8C566.2 1645.1 548.3 1643.8 529.4 1641.7C510.5 1639.6 493.3 1635.9 477.8 1633.4C462.3 1631.0 450.4 1628.1 436.6 1627.0C422.9 1625.9 410.8 1625.9 395.3 1627.0C379.8 1628.1 362.7 1630.4 343.8 1633.4C324.9 1636.4 296.5 1642.7 282.0 1644.8C267.5 1646.9 261.2 1645.6 257.0 1645.8"/><path d="M257.0 1578.0C262.5 1578.5 279.5 1582.0 290.0 1581.0C300.5 1580.0 313.2 1575.5 320.0 1572.0C326.8 1568.5 326.8 1563.3 331.0 1560.0C335.2 1556.7 338.2 1553.8 345.0 1552.0C351.8 1550.2 367.5 1549.5 372.0 1549.0"/><path d="M430.0 1549.0L455.0 1551.0"/><path d="M505.0 1563.0C507.0 1563.2 506.2 1563.0 517.0 1564.5C527.8 1566.0 552.5 1570.1 570.0 1572.0C587.5 1573.9 603.7 1575.9 622.0 1576.0C640.3 1576.1 660.0 1572.8 680.0 1572.6C700.0 1572.4 720.7 1575.2 742.0 1574.7C763.3 1574.2 790.8 1569.3 808.0 1569.5C825.2 1569.7 834.7 1573.8 845.0 1575.7C855.3 1577.6 861.2 1580.1 869.8 1580.8C878.4 1581.5 883.6 1581.3 896.6 1579.8C909.6 1578.3 930.8 1574.2 948.0 1571.6C965.2 1569.0 985.2 1566.4 999.7 1564.3C1014.2 1562.2 1027.9 1561.0 1034.8 1559.0C1041.7 1557.0 1041.7 1554.0 1041.0 1552.0C1040.3 1550.0 1034.5 1548.7 1030.7 1546.8C1026.9 1544.9 1020.1 1541.6 1018.0 1540.6"/><path d="M1234.0 1540.6C1233.7 1542.7 1234.2 1549.0 1232.0 1553.0C1229.8 1557.0 1220.4 1561.5 1220.7 1564.3C1221.0 1567.0 1226.6 1567.6 1234.0 1569.5C1241.4 1571.4 1253.0 1575.5 1265.0 1575.7C1277.0 1575.9 1296.4 1570.2 1306.0 1570.5C1315.6 1570.8 1316.6 1574.2 1322.8 1577.8C1329.0 1581.4 1335.9 1589.8 1343.4 1592.0C1350.9 1594.2 1361.1 1589.4 1368.0 1591.0C1374.9 1592.6 1381.9 1599.8 1384.7 1601.5"/><path d="M259.9 1751.8C271.6 1750.3 308.2 1745.6 330.0 1742.8C351.8 1740.0 374.5 1736.3 390.5 1735.0C406.5 1733.7 411.7 1733.9 426.0 1735.0C440.3 1736.1 457.9 1738.7 476.3 1741.4C494.7 1744.1 517.1 1748.7 536.3 1751.0C555.5 1753.3 570.7 1754.5 591.3 1755.0C611.9 1755.5 638.0 1753.5 660.0 1754.0C682.0 1754.5 707.2 1757.5 723.3 1757.9C739.3 1758.3 741.7 1757.5 756.3 1756.5C770.9 1755.5 793.7 1752.4 811.0 1752.0C828.3 1751.6 832.6 1754.2 860.0 1754.0C887.4 1753.8 937.2 1751.8 975.6 1750.5C1014.0 1749.2 1053.4 1746.7 1090.4 1745.9C1127.4 1745.2 1179.7 1746.0 1197.6 1746.0"/><path d="M1266.4 1744.8C1281.7 1744.0 1336.0 1742.2 1358.0 1740.0C1380.0 1737.8 1387.8 1737.3 1398.4 1731.6C1409.0 1725.9 1415.7 1713.8 1421.4 1705.7C1427.2 1697.6 1431.0 1686.6 1432.9 1682.8"/><path d="M265.4 1885.0C271.6 1886.3 289.4 1891.2 302.5 1892.7C315.6 1894.2 331.9 1895.2 343.8 1894.0C355.7 1892.8 364.8 1888.9 374.0 1885.8C383.2 1882.7 390.6 1877.4 398.8 1875.6C407.1 1873.8 410.6 1872.4 423.5 1874.8C436.4 1877.2 462.1 1886.5 476.3 1890.0C490.5 1893.5 496.5 1894.9 508.8 1896.0C521.1 1897.1 536.2 1897.3 550.0 1896.8C563.8 1896.2 577.5 1893.4 591.3 1892.7C605.0 1892.0 616.5 1891.3 632.5 1892.7C648.5 1894.1 669.2 1897.1 687.5 1901.0C705.8 1904.9 728.0 1909.3 742.5 1916.0C757.0 1922.7 765.5 1934.5 774.7 1941.0C783.9 1947.5 793.9 1952.7 797.7 1955.0"/><path d="M964.0 1867.6C967.8 1868.3 978.8 1871.5 987.0 1872.0C995.2 1872.5 1008.7 1870.7 1013.0 1870.4"/><path d="M1061.7 1966.8C1066.5 1967.3 1076.1 1968.5 1090.4 1969.7C1104.8 1971.0 1131.9 1975.1 1147.8 1974.3C1163.7 1973.5 1173.0 1966.9 1186.0 1965.0C1199.0 1963.1 1214.5 1962.0 1226.0 1962.8C1237.5 1963.6 1244.4 1965.2 1255.0 1969.7C1265.6 1974.2 1277.0 1985.0 1289.4 1989.8C1301.8 1994.6 1316.2 1998.1 1329.6 1998.4C1343.0 1998.7 1358.2 1995.3 1369.7 1991.5C1381.2 1987.7 1390.8 1980.1 1398.4 1975.5C1406.1 1970.9 1412.7 1965.9 1415.6 1964.0"/><path d="M272.6 1923.8C275.5 1923.0 284.8 1920.0 290.0 1919.0C295.2 1918.0 300.0 1917.5 304.0 1918.0C308.0 1918.5 312.1 1920.1 314.0 1922.0C315.9 1923.9 317.3 1926.8 315.6 1929.5C313.9 1932.2 308.8 1935.8 304.0 1938.0C299.2 1940.2 289.8 1941.9 287.0 1942.7"/></g><g fill="none" stroke="#000" stroke-width="4"><path d="M478.0 1541.0C481.7 1542.5 493.5 1547.0 500.0 1550.0C506.5 1553.0 505.2 1555.9 517.0 1559.0C528.8 1562.1 553.2 1566.4 570.7 1568.5C588.2 1570.6 603.8 1571.6 622.0 1571.6C640.2 1571.6 661.7 1569.2 680.0 1568.5C698.3 1567.8 714.4 1568.8 731.6 1567.4C748.8 1566.0 770.3 1561.7 783.0 1560.0C795.7 1558.3 799.4 1557.2 808.0 1557.0C816.6 1556.8 826.1 1557.8 834.7 1559.0C843.3 1560.2 855.4 1563.2 859.5 1564.0"/><path d="M899.7 1564.3C903.7 1563.6 917.4 1561.5 923.4 1560.0C929.4 1558.5 934.2 1556.8 935.8 1555.0C937.3 1553.2 934.6 1551.3 932.7 1548.9C930.8 1546.5 925.8 1542.0 924.4 1540.6"/><path d="M256.0 1571.0C260.0 1571.3 273.0 1573.0 280.0 1573.0C287.0 1573.0 295.0 1571.3 298.0 1571.0"/><path d="M1257.0 1561.0C1259.3 1560.3 1266.2 1558.3 1271.0 1557.0C1275.8 1555.7 1281.9 1555.7 1285.6 1553.0C1289.2 1550.3 1291.7 1542.7 1292.9 1540.6"/><path d="M1324.8 1558.0C1326.8 1559.2 1334.6 1562.8 1337.0 1565.4C1339.4 1568.0 1336.6 1570.8 1339.0 1573.6C1341.4 1576.3 1345.7 1580.3 1351.6 1581.9C1357.5 1583.5 1368.8 1581.8 1374.3 1583.0C1379.8 1584.2 1380.9 1587.3 1384.7 1589.0C1388.5 1590.7 1393.6 1592.7 1397.0 1593.0C1400.4 1593.3 1401.9 1593.2 1405.0 1591.0C1408.1 1588.8 1412.1 1583.0 1415.6 1579.8C1419.1 1576.6 1422.6 1573.9 1426.0 1571.6C1429.4 1569.3 1434.3 1566.9 1436.0 1566.0"/><path d="M1337.0 1540.6C1338.8 1541.5 1343.7 1545.6 1347.5 1546.0C1351.3 1546.4 1355.9 1542.7 1360.0 1543.0C1364.1 1543.3 1367.8 1545.5 1372.0 1548.0C1376.2 1550.5 1380.7 1556.5 1385.0 1558.0C1389.3 1559.5 1394.2 1558.7 1398.0 1557.0C1401.8 1555.3 1405.3 1550.7 1408.0 1548.0C1410.7 1545.3 1413.0 1542.2 1414.0 1541.0"/><path d="M253.0 1599.4C257.1 1600.1 271.6 1603.4 277.8 1603.5C284.0 1603.6 287.6 1601.8 290.0 1600.0C292.4 1598.2 288.2 1596.0 292.0 1593.0C295.8 1590.0 304.2 1586.0 312.8 1581.9C321.4 1577.8 335.9 1572.7 343.8 1568.5C351.7 1564.3 349.7 1558.6 360.0 1556.7C370.3 1554.8 392.2 1556.8 405.6 1557.0C419.1 1557.2 428.7 1556.1 440.7 1558.0C452.7 1559.9 464.8 1565.2 477.8 1568.5C490.9 1571.8 503.5 1575.2 519.0 1577.8C534.5 1580.4 553.5 1582.8 570.7 1584.0C587.9 1585.2 603.8 1585.5 622.0 1585.0C640.2 1584.5 663.0 1580.5 680.0 1580.8C697.0 1581.1 716.9 1586.0 724.3 1587.0"/><path d="M784.0 1587.7C788.0 1587.5 797.8 1585.7 808.0 1586.4C818.2 1587.1 834.7 1590.8 845.0 1592.0C855.3 1593.2 859.5 1594.1 869.8 1593.8C880.1 1593.5 890.5 1592.2 907.0 1590.0C923.5 1587.8 948.2 1583.3 968.8 1580.8C989.4 1578.2 1013.5 1576.0 1030.7 1574.7C1047.9 1573.4 1058.3 1573.0 1072.0 1573.0C1085.7 1573.0 1098.3 1574.2 1113.0 1574.7C1127.7 1575.2 1148.4 1575.7 1160.0 1575.7C1171.6 1575.7 1173.6 1573.7 1182.5 1574.7C1191.4 1575.7 1203.1 1579.4 1213.4 1581.9C1223.7 1584.5 1234.1 1588.7 1244.4 1590.0C1254.7 1591.3 1264.7 1590.7 1275.0 1590.0C1285.3 1589.3 1299.1 1586.0 1306.0 1586.0C1312.9 1586.0 1312.1 1587.4 1316.6 1590.0C1321.1 1592.6 1327.8 1598.9 1333.0 1601.5C1338.2 1604.1 1341.0 1604.8 1347.5 1605.6C1354.0 1606.4 1367.9 1606.4 1372.0 1606.6"/><path d="M1405.0 1611.8L1434.0 1607.7"/><path d="M259.0 1697.4C263.8 1697.6 277.3 1699.8 288.0 1698.4C298.7 1697.0 310.3 1692.6 323.0 1689.0C335.7 1685.4 350.6 1679.5 364.4 1676.8C378.2 1674.1 393.6 1672.9 405.6 1672.6C417.6 1672.2 424.6 1673.0 436.6 1674.7C448.6 1676.4 464.1 1680.5 477.8 1683.0C491.5 1685.5 503.5 1688.0 519.0 1690.0C534.5 1692.0 551.8 1694.2 570.7 1695.0C589.6 1695.8 614.3 1695.1 632.5 1695.0C650.7 1694.9 665.2 1694.2 680.0 1694.3C694.8 1694.3 703.8 1695.7 721.0 1695.3C738.2 1694.9 768.5 1692.5 783.0 1692.0C797.5 1691.5 797.7 1691.5 808.0 1692.0C818.3 1692.5 833.7 1694.2 845.0 1695.3C856.3 1696.4 866.4 1697.9 876.0 1698.4C885.6 1698.9 890.8 1699.3 902.8 1698.4C914.8 1697.5 931.5 1694.8 948.0 1693.0C964.5 1691.2 992.8 1688.4 1001.8 1687.5"/><path d="M1063.7 1682.0C1069.8 1682.0 1080.2 1681.8 1100.0 1682.0C1119.8 1682.2 1160.2 1682.3 1182.5 1683.0C1204.8 1683.7 1218.6 1686.2 1234.0 1686.0C1249.4 1685.8 1261.2 1683.9 1275.0 1682.0C1288.8 1680.1 1302.8 1676.6 1316.6 1674.7C1330.4 1672.8 1347.5 1670.4 1357.8 1670.6C1368.1 1670.8 1372.6 1674.2 1378.5 1675.7C1384.4 1677.2 1387.8 1680.2 1393.0 1679.9C1398.2 1679.6 1405.0 1677.0 1409.4 1673.7C1413.9 1670.4 1416.9 1664.7 1419.7 1660.0C1422.5 1655.3 1423.6 1649.4 1426.0 1645.8C1428.4 1642.2 1432.7 1639.8 1434.0 1638.6"/><path d="M1168.0 1540.6C1168.7 1541.7 1169.2 1545.4 1172.0 1547.0C1174.8 1548.6 1180.7 1550.0 1185.0 1550.0C1189.3 1550.0 1195.0 1548.6 1198.0 1547.0C1201.0 1545.4 1202.2 1541.7 1203.0 1540.6"/><ellipse cx="599.5" cy="1549" rx="51.6" ry="7.8"/><path d="M262 1545Q262 1568 275 1568Q290 1568 291 1548"/><path d="M1375 1541Q1380 1556 1392 1558M1425 1541Q1440 1548 1447 1541"/></g><text x="752" y="1593.5" font-size="16.3" text-anchor="middle">34.5</text><text x="879.7" y="1570.1" font-size="16.3" text-anchor="middle">35</text><text x="1098.7" y="1601.1" font-size="16.3" text-anchor="middle">34.25</text><g transform="rotate(-4 1030.7 1684)"><text x="1030.7" y="1689.8" font-size="16.3" text-anchor="middle">34.5</text></g><text x="1229" y="1750.6" font-size="16.3" text-anchor="middle">34.75</text><text x="990" y="1863.6" font-size="16.3" text-anchor="middle">34.75</text><g transform="rotate(4 400 1541)"><text x="400" y="1546.8" font-size="16.3" text-anchor="middle">34.75</text></g><g transform="rotate(14 480.5 1558)"><text x="480.5" y="1563.8" font-size="16.3" text-anchor="middle">34.75</text></g><text x="599.5" y="1546.8" font-size="16.3" text-anchor="middle">35.5</text><g transform="rotate(70 308.7 1556)"><text x="308.7" y="1561.8" font-size="16.3" text-anchor="middle">35</text></g><g transform="rotate(60 1253.7 1550)"><text x="1253.7" y="1555.8" font-size="16.3" text-anchor="middle">35</text></g><g transform="rotate(70 1320.7 1545.8)"><text x="1320.7" y="1551.6" font-size="16.3" text-anchor="middle">35</text></g><text x="1397" y="1567.8" font-size="16.3" text-anchor="middle">35.5</text><g transform="rotate(-20 1409.4 1601.5)"><text x="1409.4" y="1607.3" font-size="16.3" text-anchor="middle">34.75</text></g><text x="277" y="1546.8" font-size="16.3" text-anchor="middle">36</text></g><path d="M234.1 1538.9L235.3 1539.4L240.1 1542.3L244.8 1546.8L248.2 1552.4L250.4 1558.6L251.7 1569.9L252.3 1581.2L253.8 1621.9L254.9 1642.3L256.8 1648.5L258.2 1677.3L259.6 1751.9L261.1 1826.4L263.2 1863.2L264.8 1886.7L267.5 1912.9L271.4 1932.7L275 1958.9L278.3 1977.9L282.7 2001L288.1 2031.5L293.7 2063.7L299.3 2090L304.9 2101.6L310.4 2111.8L316.9 2119.1L325.9 2129.3L330.2 2128.7L334.7 2130.8L339.2 2124.8L344.4 2120.8L350.2 2116.3L352.7 2114.8L355.1 2114.6L357.2 2113.6L359.2 2112L361.3 2111.2L363.6 2111.5L365.8 2111.2L368.4 2109.6L371 2107.2L373.3 2105.5L375.6 2104.8L377.9 2105.3L380.4 2106.3L383 2105.5L385.8 2103.2L388.6 2102.2L390.6 2101.3L392.5 2103L394.5 2101.6L397.3 2101.3L400.2 2101L402.7 2101.1L405.2 2099.4L407.8 2098.8L410 2097.3L412.2 2095.1L414.4 2096.1L416.7 2098.8L419.2 2099.7L421.6 2099.9L423.7 2102.3L425.6 2102.9L427.7 2104.4L429.9 2104.6L432.2 2104.1L434.5 2103.3L436.5 2102.3L438.4 2104.1L440.4 2103.9L442.3 2103.2L444.3 2103.9L446.8 2103.5L449.2 2106.3L451.7 2106.1L454 2106.2L456.3 2107L458.6 2107.5L460.9 2106.7L462.9 2106.9L464.9 2107.2L466.9 2105.5L468.9 2105.5L471 2106.8L473.2 2106.4L475.3 2108.1L477.4 2107.5L479.7 2107.5L481.9 2104.5L484.1 2104.6L486.2 2103.6L488.3 2103.8L490.3 2104.4L492.7 2106.1L495 2105.4L497.4 2106.1L499.9 2108.4L502.3 2110.1L504.8 2110.4L507.3 2111.8L509.5 2111L511.7 2110L513.9 2109.5L517.3 2114L520 2108.8L522.8 2104.4L526.7 2111.8L528.4 2095.8L530.6 2092.2L532.8 2080.5L534.5 2089.2L537.8 2085.7L540.5 2073.9L542.2 2072.5L545 2058.7L548.3 2072.5L552.7 2082.7L557.2 2081.3L560.5 2092.9L562 2091.4L563.2 2073.9L565.4 2069.6L567.6 2062.3L571 2072.5L572.7 2090L574.3 2100.2L577.6 2079L580.4 2092.9L583.7 2073.9L588.2 2094.2L589.8 2086.3L593.7 2101.6L595.9 2107.5L598.4 2117.7L601.9 2109.5L604.1 2081.3L606.4 2072.5L608.6 2086.9L610.3 2097.1L611.4 2092.9L612.5 2061.5L615.8 2061.5L618 2064.3L620.2 2057.2L622.5 2065.2L625.8 2043.4L627.4 2050.7L630.7 2029.6L633.5 2046.2L636.3 2065.2L639.1 2037.5L640.7 2021.5L642.9 2018.5L646.8 2029.6L649.6 2014.2L651.3 2012L652.9 2015.7L654.6 2012.8L659 2020.8L661.7 2003.3L664.5 2014.2L667.3 2007L668.4 2011.2L670.6 2003.8L673.4 2003.3L675 1995.3L677.8 2002.6L680 2008.4L682.8 1995.3L686.7 2005.5L688.9 2002.6L691.6 2008.9L693.3 1996.8L695 1999.7L696.1 1996.8L698.8 2001L700.5 1995.9L702.2 2001L704.4 1996.8L707.1 2004.8L709.2 1995.3L711 1966.9L712.7 1966.9L714.3 1988L717.1 1981.5L719.9 1988.6L721.5 1980L723.7 1982.2L725.9 1980L728.1 1988.6L730.4 1982.2L732.6 1989.5L734.6 1977.3L736.7 1985.8L738.4 1980.1L740.2 1986.9L742.7 1982.4L745.7 1975.9L748.3 1987.5L750.9 1981.8L753.5 1988L756.5 1980.1L759.5 1984.6L762.9 1975.9L765.1 1980.7L767.9 1972.2L770.6 1980.1L771.8 1957L773.5 1944.5L775.1 1943.1L776.8 1931.4L778.4 1946.8L781.2 1959.8L782.9 1958.4L784.5 1960.6L787.3 1943.1L790.1 1952.4L793.4 1960.6L796.2 1951.9L797.8 1961.3L800 1952.4L803.9 1927.8L806.1 1947.4L808.3 1928.5L809.4 1928.5L811.1 1940.9L812.7 1926.3L815 1919L816.6 1907.2L818.3 1900.9L820.4 1911L824.3 1897.1L827.2 1913.2L830.5 1889.7L832.7 1890.6L836.6 1880.7L838.2 1889.7L839.3 1921.9L840.4 1929.3L842.7 1924.2L845.3 1923.4L848.8 1936.6L851.5 1920.5L853.2 1908.1L854.3 1908.9L857 1865.1L859.2 1846.2L862 1834.4L863.7 1833.8L865 1801L866.4 1827.3L867.9 1875.4L869.2 1856.4L870.9 1793.7L873.1 1793.7L875.3 1772.7L876.7 1770.5L878.6 1782.1L879.7 1777L880.8 1806.7L881.9 1840.4L883.5 1840.4L884.7 1830.2L885.8 1828.7L887.4 1853.5L890.2 1862.9L892.5 1891.4L894.7 1923.4L897.4 1951.1L899.7 1938L901.3 1916.2L903.5 1911L906.3 1898.6L908.4 1884.6L910.1 1886.3L911.3 1891.4L912.9 1863.7L914.4 1808.4L915.9 1834.4L917 1836L918.7 1830.4L920 1853.5L921.5 1851.9L923.5 1866.6L925.2 1867.3L927.3 1878.3L929.5 1862.9L932 1856.4L934 1873.9L936.2 1898.6L938.4 1920.5L939.8 1930.7L942.8 1908.1L945 1919L947.8 1918.3L949.5 1903L951.7 1869.4L953.5 1897.1L956.1 1886.9L958.9 1865.9L960.8 1865.1L962.7 1879.6L964.4 1884.1L966.1 1893.6L968.3 1889.2L969.9 1900.9L972.7 1881.8L975.4 1891.4L977.1 1907.8L978.7 1903.3L980.4 1915.1L982.6 1915.7L984.8 1905.5L987.6 1918L990.8 1936.1L993.6 1912.2L995.9 1896.8L997.5 1878.6L998.1 1855.3L998.9 1797.1L999.6 1714.4L1000.9 1763.2L1002 1797.1L1002.4 1855.3L1003.6 1884.5L1005.3 1899L1007.5 1914.4L1009.9 1888L1011.9 1912.9L1014 1891.8L1016.3 1869.2L1017.5 1869.9L1019.1 1887.4L1020.8 1905.5L1023 1895.9L1024.6 1898.2L1026.3 1896.8L1026.9 1855.3L1027.4 1797.1L1028.4 1706.7L1029.3 1639.2L1030.3 1706.7L1031.8 1797.1L1032.4 1855.3L1033.5 1884.5L1035.7 1903.3L1037.9 1902L1039.6 1915.1L1040.6 1928.1L1041.8 1943.4L1044 1936.9L1046.2 1913.5L1047.5 1910.6L1048.4 1918L1049.6 1884.5L1050.7 1826.2L1051.4 1791.4L1051.9 1752.8L1052.5 1791.4L1053.4 1808.4L1053.9 1833.5L1054.5 1899L1055.2 1948.5L1056.7 1964.6L1057.8 1973.3L1059.1 1972.2L1060.8 1962.5L1062.6 1974.9L1065.1 1993.1L1067.6 1988L1070.6 1986.7L1073.1 1990.7L1075.1 2011.6L1077.1 2033.8L1078.8 2045.7L1081.5 2038.3L1083.6 2052.3L1084.7 2065.4L1087 2020.8L1089 1981.3L1090.7 1979.6L1092.5 1994.6L1095 2022.8L1096.8 1990.7L1098.5 2007.7L1100.5 2049.6L1103 2086.3L1106 2068.7L1107.9 2083.7L1109.7 2094.8L1111.5 2075.9L1113.2 2066.6L1114.6 2071.9L1116.4 2054.7L1118.9 2053.6L1120.9 2048.4L1122.4 2053.6L1123.9 2083.7L1125.2 2092.3L1126.7 2082.4L1129.2 2094.2L1131.3 2077.2L1132.8 2071.9L1134.6 2077.2L1136.4 2089L1139.3 2075.9L1141.8 2061.5L1143.1 2060.2L1144.8 2064.1L1147.3 2035.9L1148.8 2051L1150.8 2079.8L1154.3 2071.9L1157.3 2071.3L1159.8 2062.6L1162.2 2071.3L1165.2 2070.5L1168.2 2060.8L1170.7 2069.4L1173.2 2075L1175.7 2079L1177.1 2086.9L1178.7 2085.1L1183.2 2082.4L1185.2 2086.9L1186.6 2069.4L1187.9 2064.8L1189.6 2071.9L1190.6 2074.5L1192.1 2071.9L1194.6 2078.4L1196.6 2075L1199 2079L1200.6 2087.5L1201.8 2098.8L1204.1 2084.4L1206.1 2098.2L1207.6 2102.7L1209.6 2085.1L1211.1 2040.5L1212.3 2029.8L1213.5 2044.4L1215 2077.2L1217.1 2095.4L1218.5 2111.2L1220 2127L1222 2103.3L1223.5 2131L1225.5 2111.2L1228 2106.1L1230.4 2123.1L1232.8 2115.7L1235 2128.1L1236.5 2133.6L1239 2124.2L1241.4 2104.8L1243.4 2102.2L1245.4 2117.9L1246.9 2128.1L1249.1 2112.6L1251.4 2134.9L1252.9 2140.6L1254.8 2147.9L1257.4 2134.9L1261.4 2118.5L1263.9 2129.6L1266 2138.1L1267.8 2131L1269.6 2138.1L1272.7 2123.4L1275.2 2135.4L1276.8 2133.2L1278.4 2105.3L1279.7 2103.7L1281 2111.8L1282.1 2121.8L1283.9 2079L1285 2074.8L1286 2083.5L1286.8 2105.3L1288.5 2114L1290.5 2084.6L1291.3 2084.4L1292.6 2104.2L1293.9 2118.5L1295.1 2129.3L1296.3 2119.6L1297.6 2111.8L1298.8 2116.3L1301.2 2108.7L1302.3 2094.2L1303.1 2073.7L1303.8 2090.1L1305.5 2092.8L1308 2094.8L1310.5 2095.4L1312.5 2102L1314.5 2103.2L1316.2 2115.2L1317.8 2127.6L1318.9 2108.1L1320.8 2107.5L1323.3 2095.9L1324.6 2105.3L1325.8 2115.2L1328.2 2108.9L1329.5 2111.2L1331.2 2099.9L1332.9 2087.9L1333.8 2072L1334.9 2086.8L1337.4 2096.5L1338.7 2088.9L1339.5 2078.4L1340.3 2076.7L1341.3 2087.9L1343 2085.7L1344.5 2092L1347 2094.8L1349.1 2085.2L1350.3 2090.1L1353.6 2087.3L1355.3 2092L1357 2081.8L1359.8 2079L1362.3 2073.1L1363.6 2077.9L1366 2068.3L1367.7 2069.3L1369.2 2063.2L1371 2069.3L1373.5 2068.8L1377.1 2061.5L1378.5 2066L1381 2079L1382.2 2072.6L1384.7 2064.3L1386 2066L1388.1 2061.5L1389.3 2074.2L1390.6 2055.1L1391.6 2050.2L1392.6 2052.9L1394 2065.4L1395.9 2054L1398.4 2047.4L1401.8 2044L1404.2 2036.5L1407.6 2026.7L1410.1 2019L1413 2000.5L1414.5 1994.2L1418 1965.4L1420.1 1931L1424.4 1903.3L1426.8 1867.1L1430 1825.3L1432.3 1772L1434.5 1713.8L1435.6 1643.8L1436.7 1597.1L1441.1 1568.1L1444.5 1556.4L1450 1539.4L1452.7 1538.9L1452.3 2153.4L234.4 2153.4Z" fill="#3a3a3a"/><path d="M234.4 1648.5H1452.3M234.4 1758.3H1452.3M234.4 1868.1H1452.3M234.4 1977.9H1452.3M234.4 2087.7H1452.3M477 1538.7V2153.4M809.9 1538.7V2153.4M1142.8 1538.7V2153.4" stroke="#000" stroke-width="1.4" fill="none"/><rect x="234.4" y="1538.7" width="1217.9" height="614.7" fill="none" stroke="#000" stroke-width="2.4"/><path d="M234.4 1538.7H218.4M234.4 1648.5H218.4M234.4 1758.3H218.4M234.4 1868.1H218.4M234.4 1977.9H218.4M234.4 2087.7H218.4M310.5 2153.4V2163.4M477 2153.4V2167.4M643.5 2153.4V2163.4M809.9 2153.4V2167.4M976.3 2153.4V2163.4M1142.8 2153.4V2167.4M1309.2 2153.4V2163.4" stroke="#000" stroke-width="1.6" fill="none"/><text x="210.8" y="1545.9" font-size="25.8" text-anchor="end">0</text><text x="210.8" y="1655.7" font-size="25.8" text-anchor="end">1000</text><text x="210.8" y="1765.5" font-size="25.8" text-anchor="end">2000</text><text x="210.8" y="1875.3" font-size="25.8" text-anchor="end">3000</text><text x="210.8" y="1985.1" font-size="25.8" text-anchor="end">4000</text><text x="210.8" y="2094.9" font-size="25.8" text-anchor="end">5000</text><text x="478" y="2199.5" font-size="25.8" text-anchor="middle">40°W</text><text x="810.9" y="2199.5" font-size="25.8" text-anchor="middle">20°W</text><text x="1143.8" y="2199.5" font-size="25.8" text-anchor="middle">0°</text><text x="119" y="1846" font-size="30.4" text-anchor="middle" transform="rotate(-90 119 1846)">DEPTH [m]</text><text x="1443.8" y="1500.3" font-size="34.3" text-anchor="end" textLength="477" lengthAdjust="spacingAndGlyphs">SALINITY_D_CONC_BOTTLE</text><path d="M1490.5 1539.3L1511.5 1529.3L1532.5 1539.3V2153.4L1511.5 2162.8L1490.5 2153.4Z" fill="url(#cbs)" filter="url(#palnb)"/><path d="M1490.5 1539.3L1511.5 1529.3L1532.5 1539.3V2153.4L1511.5 2162.8L1490.5 2153.4Z" fill="none" stroke="#000" stroke-width="1.1"/><text x="1541.5" y="2150" font-size="25.4">34</text><text x="1541.5" y="2030.3" font-size="25.4">34.5</text><text x="1541.5" y="1910.6" font-size="25.4">35</text><text x="1541.5" y="1790.9" font-size="25.4">35.5</text><text x="1541.5" y="1671.2" font-size="25.4">36</text><text x="1541.5" y="1551.5" font-size="25.4">36.5</text><path d="M1490.5 2143.4h9.5M1532.5 2143.4h-9.5M1490.5 2023.7h9.5M1532.5 2023.7h-9.5M1490.5 1904h9.5M1532.5 1904h-9.5M1490.5 1784.3h9.5M1532.5 1784.3h-9.5M1490.5 1664.6h9.5M1532.5 1664.6h-9.5M1490.5 1544.9h9.5M1532.5 1544.9h-9.5" stroke="#000" stroke-width="1.6" fill="none"/><text x="1473" y="2149" font-size="13.2" transform="rotate(-90 1473 2149)" textLength="176" lengthAdjust="spacingAndGlyphs">Ocean Data View / DIVA</text><rect x="1770.6" y="1539" width="568.6" height="614.4" fill="#fff"/><path d="M1770.6 1648.5H2339.2M1770.6 1758.3H2339.2M1770.6 1868.4H2339.2M1770.6 1978.4H2339.2M1770.6 2088.5H2339.2M1827.4 1539V2153.4M2055.1 1539V2153.4M2282.3 1539V2153.4" stroke="#000" stroke-width="1.5" fill="none"/><g clip-path="url(#pclip)"><circle cx="1798" cy="1542.2" r="5"/><circle cx="1804.4" cy="1543.3" r="5"/><circle cx="1810.7" cy="1545.3" r="5"/><circle cx="1817" cy="1544.8" r="5"/><circle cx="1822.1" cy="1547.8" r="5"/><circle cx="1824.7" cy="1550.4" r="5"/><circle cx="1834.8" cy="1550.4" r="5"/><circle cx="1848.7" cy="1542.7" r="5"/><circle cx="1856.3" cy="1542.2" r="5"/><circle cx="1864" cy="1543.3" r="5"/><circle cx="1869" cy="1542.7" r="5"/><circle cx="1876.6" cy="1549.1" r="5"/><circle cx="1881.7" cy="1549.1" r="5"/><circle cx="1886.8" cy="1546.6" r="5"/><circle cx="1894.4" cy="1545.3" r="5"/><circle cx="1902" cy="1547.3" r="5"/><circle cx="1908.3" cy="1546.6" r="5"/><circle cx="1918.5" cy="1543.3" r="5"/><circle cx="1926.1" cy="1543.3" r="5"/><circle cx="1970.4" cy="1542.7" r="5"/><circle cx="1978.6" cy="1543.3" r="5"/><circle cx="2009.7" cy="1540.7" r="5"/><circle cx="2022.4" cy="1540.7" r="5"/><circle cx="2243" cy="1541.5" r="5"/><circle cx="2248.1" cy="1542.2" r="5"/><circle cx="2272.2" cy="1540.7" r="5"/><circle cx="1835.6" cy="1563" r="5"/><circle cx="1844.9" cy="1563" r="5"/><circle cx="1852.5" cy="1556.7" r="5"/><circle cx="1860.2" cy="1560.5" r="5"/><circle cx="1870.3" cy="1563" r="5"/><circle cx="1876.6" cy="1563" r="5"/><circle cx="1883" cy="1562.5" r="5"/><circle cx="1900.7" cy="1561.8" r="5"/><circle cx="1904.5" cy="1555.4" r="5"/><circle cx="1881.2" cy="1571.9" r="5"/><circle cx="1886.8" cy="1578.2" r="5"/><circle cx="1913.9" cy="1582.8" r="5"/><circle cx="1864.7" cy="1594" r="5"/><circle cx="1896.9" cy="1594" r="5"/><circle cx="1909.6" cy="1594" r="5"/><circle cx="1919.7" cy="1593.5" r="5"/><circle cx="1924.8" cy="1594.5" r="5"/><circle cx="1932.4" cy="1594" r="5"/><circle cx="1940" cy="1594.5" r="5"/><circle cx="1948.9" cy="1593.5" r="5"/><circle cx="1935.7" cy="1605.6" r="5"/><circle cx="1937.5" cy="1620.8" r="5"/><circle cx="1945.1" cy="1620.8" r="5"/><circle cx="1952.7" cy="1620.8" r="5"/><circle cx="1960.3" cy="1620.8" r="5"/><circle cx="1965.4" cy="1616.3" r="5"/><circle cx="1965.4" cy="1623.4" r="5"/><circle cx="1971.7" cy="1620.8" r="5"/><circle cx="1977.5" cy="1620.8" r="5"/><circle cx="1995.8" cy="1618.8" r="5"/><circle cx="1962.8" cy="1648.7" r="5"/><circle cx="1967.9" cy="1649.7" r="5"/><circle cx="1975.5" cy="1649.2" r="5"/><circle cx="1992.8" cy="1649.2" r="5"/><circle cx="2005.9" cy="1649.7" r="5"/><circle cx="2008.5" cy="1654.8" r="5"/><circle cx="2046" cy="1649.7" r="5"/><circle cx="2011.5" cy="1671.6" r="5"/><circle cx="1894.9" cy="1676.6" r="5"/><circle cx="1990.7" cy="1675.1" r="5"/><circle cx="2016.1" cy="1676.6" r="5"/><circle cx="2023.7" cy="1677.1" r="5"/><circle cx="2028.8" cy="1677.1" r="5"/><circle cx="2040.2" cy="1677.6" r="5"/><circle cx="2055.4" cy="1677.9" r="5"/><circle cx="2076.9" cy="1677.1" r="5"/><circle cx="2017.9" cy="1691.8" r="5"/><circle cx="2022.4" cy="1703.8" r="5"/><circle cx="2027.5" cy="1706.5" r="5"/><circle cx="2033.8" cy="1704" r="5"/><circle cx="2040.2" cy="1704" r="5"/><circle cx="2057.9" cy="1703.5" r="5"/><circle cx="2073.1" cy="1704.5" r="5"/><circle cx="2076.9" cy="1703.5" r="5"/><circle cx="2063" cy="1728.6" r="5"/><circle cx="2066.8" cy="1735.4" r="5"/><circle cx="2073.1" cy="1732.9" r="5"/><circle cx="2080" cy="1730.9" r="5"/><circle cx="2033.8" cy="1756.2" r="5"/><circle cx="2041.4" cy="1758.3" r="5"/><circle cx="2046.5" cy="1757.8" r="5"/><circle cx="2056.7" cy="1757.8" r="5"/><circle cx="2061.7" cy="1758.8" r="5"/><circle cx="2070.6" cy="1757.8" r="5"/><circle cx="2076.9" cy="1758.3" r="5"/><circle cx="2085.8" cy="1760.3" r="5"/><circle cx="2026.2" cy="1783.6" r="5"/><circle cx="2074.9" cy="1787.7" r="5"/><circle cx="2087.1" cy="1786.9" r="5"/><circle cx="2016.1" cy="1809.7" r="5"/><circle cx="2032.6" cy="1820.4" r="5"/><circle cx="2049" cy="1812.8" r="5"/><circle cx="2068.1" cy="1813.5" r="5"/><circle cx="2074.4" cy="1813.5" r="5"/><circle cx="2080.7" cy="1813" r="5"/><circle cx="2087.1" cy="1812.8" r="5"/><circle cx="2087.1" cy="1819.1" r="5"/><circle cx="2087.1" cy="1825.5" r="5"/><circle cx="2101.8" cy="1814.6" r="5"/><circle cx="2064.3" cy="1840.7" r="5"/><circle cx="2107.4" cy="1839.4" r="5"/><circle cx="2160.6" cy="1864.1" r="5"/><circle cx="2039.7" cy="1868.4" r="5"/><circle cx="2049.8" cy="1868.9" r="5"/><circle cx="2082" cy="1868.9" r="5"/><circle cx="2096" cy="1867.9" r="5"/><circle cx="2101" cy="1869.4" r="5"/><circle cx="2107.4" cy="1869.4" r="5"/><circle cx="2112.9" cy="1867.9" r="5"/><circle cx="2101.8" cy="1880.1" r="5"/><circle cx="2083.8" cy="1889.9" r="5"/><circle cx="2189.8" cy="1895.8" r="5"/><circle cx="2196.6" cy="1904.9" r="5"/><circle cx="2213.1" cy="1903.9" r="5"/><circle cx="2035.1" cy="1909" r="5"/><circle cx="2137" cy="1924.9" r="5"/><circle cx="2140.3" cy="1923.7" r="5"/><circle cx="2151" cy="1922.9" r="5"/><circle cx="2164.9" cy="1926.7" r="5"/><circle cx="2170.8" cy="1923.2" r="5"/><circle cx="2201.2" cy="1949.8" r="5"/><circle cx="2193.6" cy="1978.4" r="5"/><circle cx="2195.6" cy="1976.9" r="5"/><circle cx="2212.6" cy="1979.5" r="5"/><circle cx="2217.2" cy="1978.2" r="5"/><circle cx="2230.8" cy="1978.2" r="5"/><circle cx="2238.7" cy="1978.9" r="5"/><circle cx="2234.1" cy="1994.7" r="5"/><circle cx="2266.6" cy="2025.9" r="5"/><circle cx="2238.4" cy="2034.7" r="5"/><circle cx="2249.4" cy="2033.2" r="5"/><circle cx="2255.7" cy="2032.7" r="5"/><circle cx="2259" cy="2035.2" r="5"/><circle cx="2286.1" cy="2033.2" r="5"/><circle cx="2289.4" cy="2031.9" r="5"/><circle cx="2229.1" cy="2053.7" r="5"/><circle cx="2291.2" cy="2053.7" r="5"/><circle cx="2263.8" cy="2059.8" r="5"/><circle cx="2284.8" cy="2065.7" r="5"/><circle cx="2258.2" cy="2072" r="5"/><circle cx="2224" cy="2088" r="5"/><circle cx="2257" cy="2089" r="5"/><circle cx="2265.8" cy="2090" r="5"/><circle cx="2305.9" cy="2088" r="5"/><circle cx="2289.9" cy="2098.1" r="5"/><circle cx="2291.9" cy="2099.9" r="5"/><circle cx="2272.7" cy="2101.2" r="5"/><circle cx="2276" cy="2107.5" r="5"/><circle cx="2279.8" cy="2112.6" r="5"/><circle cx="2283.1" cy="2115.1" r="5"/></g><rect x="1770.6" y="1539" width="568.6" height="614.4" fill="none" stroke="#000" stroke-width="2.6"/><path d="M1770.6 1539H1756.6M1770.6 1648.5H1756.6M1770.6 1758.3H1756.6M1770.6 1868.4H1756.6M1770.6 1978.4H1756.6M1770.6 2088.5H1756.6M1827.4 2153.4V2166.4M2055.1 2153.4V2166.4M2282.3 2153.4V2166.4M1941.2 2153.4V2161.4M2168.7 2153.4V2161.4" stroke="#000" stroke-width="1.6" fill="none"/><text x="1749.5" y="1545.4" font-size="21.8" text-anchor="end">0</text><text x="1749.5" y="1654.9" font-size="21.8" text-anchor="end">1000</text><text x="1749.5" y="1764.7" font-size="21.8" text-anchor="end">2000</text><text x="1749.5" y="1874.8" font-size="21.8" text-anchor="end">3000</text><text x="1749.5" y="1984.8" font-size="21.8" text-anchor="end">4000</text><text x="1749.5" y="2094.9" font-size="21.8" text-anchor="end">5000</text><text x="1827.4" y="2191.2" font-size="21.8" text-anchor="middle">0.4</text><text x="2055.1" y="2191.2" font-size="21.8" text-anchor="middle">0.8</text><text x="2282.3" y="2191.2" font-size="21.8" text-anchor="middle">1.2</text><text x="1674.5" y="1845.5" font-size="25.6" text-anchor="middle" transform="rotate(-90 1674.5 1845.5)">DEPTH [m]</text><text x="2055" y="2239.4" font-size="25.6" text-anchor="middle">Tm_D_CONC_BOTTLE [pmol/kg]</text><text x="2357" y="2150.5" font-size="12.4" transform="rotate(-90 2357 2150.5)" textLength="100.5" lengthAdjust="spacingAndGlyphs">Ocean Data View</text><g clip-path="url(#tclip)"><g fill="none" stroke="#7e7e7e" stroke-width="2.3"><path d="M2623.0 1491.4C2624.6 1491.0 2629.3 1489.8 2632.5 1489.0C2635.6 1488.2 2638.8 1487.5 2641.9 1486.7C2645.1 1485.9 2648.2 1485.1 2651.4 1484.3C2654.5 1483.6 2657.7 1482.8 2660.8 1482.0C2664.0 1481.2 2667.1 1480.4 2670.3 1479.7C2673.4 1478.9 2676.6 1478.1 2679.7 1477.3C2682.9 1476.6 2686.0 1475.8 2689.2 1475.0C2692.3 1474.3 2695.5 1473.5 2698.6 1472.7C2701.8 1471.9 2704.9 1471.2 2708.1 1470.4C2711.2 1469.6 2714.4 1468.9 2717.5 1468.1C2720.7 1467.3 2723.8 1466.6 2727.0 1465.8C2730.1 1465.0 2733.3 1464.3 2736.4 1463.5C2739.6 1462.8 2742.7 1462.0 2745.9 1461.2C2749.0 1460.5 2752.2 1459.7 2755.3 1459.0C2758.5 1458.2 2761.6 1457.4 2764.8 1456.7C2768.0 1455.9 2771.1 1455.2 2774.3 1454.4C2777.4 1453.7 2780.6 1452.9 2783.7 1452.2C2786.9 1451.4 2790.0 1450.7 2793.2 1449.9C2796.3 1449.2 2799.5 1448.4 2802.6 1447.7C2805.8 1446.9 2808.9 1446.2 2812.1 1445.4C2815.2 1444.7 2818.4 1443.9 2821.5 1443.2C2824.7 1442.4 2827.8 1441.7 2831.0 1440.9C2834.1 1440.2 2837.3 1439.4 2840.4 1438.7C2843.6 1438.0 2846.7 1437.2 2849.9 1436.5C2853.0 1435.7 2856.2 1435.0 2859.3 1434.3C2862.5 1433.5 2865.6 1432.8 2868.8 1432.0C2871.9 1431.3 2875.1 1430.6 2878.2 1429.8C2881.4 1429.1 2884.5 1428.4 2887.7 1427.6C2890.8 1426.9 2894.0 1426.2 2897.1 1425.4C2900.3 1424.7 2903.4 1424.0 2906.6 1423.2C2909.8 1422.5 2912.9 1421.8 2916.1 1421.0C2919.2 1420.3 2922.4 1419.6 2925.5 1418.9C2928.7 1418.1 2931.8 1417.4 2935.0 1416.7C2938.1 1415.9 2941.3 1415.2 2944.4 1414.5C2947.6 1413.8 2950.7 1413.0 2953.9 1412.3C2957.0 1411.6 2960.2 1410.9 2963.3 1410.2C2966.5 1409.4 2969.6 1408.7 2972.8 1408.0C2975.9 1407.3 2979.1 1406.6 2982.2 1405.8C2985.4 1405.1 2988.5 1404.4 2991.7 1403.7C2994.8 1403.0 2998.0 1402.2 3001.1 1401.5C3004.3 1400.8 3007.4 1400.1 3010.6 1399.4C3013.7 1398.7 3016.9 1398.0 3020.0 1397.2C3023.2 1396.5 3026.3 1395.8 3029.5 1395.1C3032.6 1394.4 3035.8 1393.7 3038.9 1393.0C3042.1 1392.3 3045.2 1391.6 3048.4 1390.9C3051.6 1390.1 3054.7 1389.4 3057.9 1388.7C3061.0 1388.0 3064.2 1387.3 3067.3 1386.6C3070.5 1385.9 3073.6 1385.2 3076.8 1384.5C3079.9 1383.8 3083.1 1383.1 3086.2 1382.4C3089.4 1381.7 3092.5 1381.0 3095.7 1380.3C3098.8 1379.6 3102.0 1378.9 3105.1 1378.2C3108.3 1377.5 3111.4 1376.8 3114.6 1376.1C3117.7 1375.4 3120.9 1374.7 3124.0 1374.0C3127.2 1373.3 3130.3 1372.6 3133.5 1371.9C3136.6 1371.2 3139.8 1370.5 3142.9 1369.8C3146.1 1369.1 3149.2 1368.4 3152.4 1367.7C3155.5 1367.0 3158.7 1366.3 3161.8 1365.7C3165.0 1365.0 3168.1 1364.3 3171.3 1363.6C3174.4 1362.9 3177.6 1362.2 3180.7 1361.5C3183.9 1360.8 3188.6 1359.8 3190.2 1359.4"/><path d="M2623.0 1529.8C2624.6 1529.4 2629.3 1528.2 2632.5 1527.4C2635.6 1526.5 2638.8 1525.7 2641.9 1524.9C2645.1 1524.1 2648.2 1523.3 2651.4 1522.5C2654.5 1521.7 2657.7 1520.9 2660.8 1520.0C2664.0 1519.2 2667.1 1518.4 2670.3 1517.6C2673.4 1516.8 2676.6 1516.0 2679.7 1515.2C2682.9 1514.4 2686.0 1513.6 2689.2 1512.8C2692.3 1512.0 2695.5 1511.2 2698.6 1510.4C2701.8 1509.6 2704.9 1508.8 2708.1 1508.0C2711.2 1507.2 2714.4 1506.4 2717.5 1505.6C2720.7 1504.8 2723.8 1504.0 2727.0 1503.2C2730.1 1502.4 2733.3 1501.6 2736.4 1500.8C2739.6 1500.0 2742.7 1499.2 2745.9 1498.4C2749.0 1497.7 2752.2 1496.9 2755.3 1496.1C2758.5 1495.3 2761.6 1494.5 2764.8 1493.7C2768.0 1492.9 2771.1 1492.1 2774.3 1491.4C2777.4 1490.6 2780.6 1489.8 2783.7 1489.0C2786.9 1488.2 2790.0 1487.4 2793.2 1486.7C2796.3 1485.9 2799.5 1485.1 2802.6 1484.3C2805.8 1483.6 2808.9 1482.8 2812.1 1482.0C2815.2 1481.2 2818.4 1480.5 2821.5 1479.7C2824.7 1478.9 2827.8 1478.1 2831.0 1477.4C2834.1 1476.6 2837.3 1475.8 2840.4 1475.0C2843.6 1474.3 2846.7 1473.5 2849.9 1472.7C2853.0 1472.0 2856.2 1471.2 2859.3 1470.4C2862.5 1469.7 2865.6 1468.9 2868.8 1468.1C2871.9 1467.4 2875.1 1466.6 2878.2 1465.9C2881.4 1465.1 2884.5 1464.3 2887.7 1463.6C2890.8 1462.8 2894.0 1462.0 2897.1 1461.3C2900.3 1460.5 2903.4 1459.8 2906.6 1459.0C2909.8 1458.3 2912.9 1457.5 2916.1 1456.7C2919.2 1456.0 2922.4 1455.2 2925.5 1454.5C2928.7 1453.7 2931.8 1453.0 2935.0 1452.2C2938.1 1451.5 2941.3 1450.7 2944.4 1450.0C2947.6 1449.2 2950.7 1448.5 2953.9 1447.7C2957.0 1447.0 2960.2 1446.2 2963.3 1445.5C2966.5 1444.7 2969.6 1444.0 2972.8 1443.2C2975.9 1442.5 2979.1 1441.8 2982.2 1441.0C2985.4 1440.3 2988.5 1439.5 2991.7 1438.8C2994.8 1438.1 2998.0 1437.3 3001.1 1436.6C3004.3 1435.8 3007.4 1435.1 3010.6 1434.4C3013.7 1433.6 3016.9 1432.9 3020.0 1432.1C3023.2 1431.4 3026.3 1430.7 3029.5 1429.9C3032.6 1429.2 3035.8 1428.5 3038.9 1427.7C3042.1 1427.0 3045.2 1426.3 3048.4 1425.5C3051.6 1424.8 3054.7 1424.1 3057.9 1423.3C3061.0 1422.6 3064.2 1421.9 3067.3 1421.2C3070.5 1420.4 3073.6 1419.7 3076.8 1419.0C3079.9 1418.3 3083.1 1417.5 3086.2 1416.8C3089.4 1416.1 3092.5 1415.4 3095.7 1414.6C3098.8 1413.9 3102.0 1413.2 3105.1 1412.5C3108.3 1411.7 3111.4 1411.0 3114.6 1410.3C3117.7 1409.6 3120.9 1408.9 3124.0 1408.1C3127.2 1407.4 3130.3 1406.7 3133.5 1406.0C3136.6 1405.3 3139.8 1404.5 3142.9 1403.8C3146.1 1403.1 3149.2 1402.4 3152.4 1401.7C3155.5 1401.0 3158.7 1400.3 3161.8 1399.5C3165.0 1398.8 3168.1 1398.1 3171.3 1397.4C3174.4 1396.7 3177.6 1396.0 3180.7 1395.3C3183.9 1394.6 3188.6 1393.5 3190.2 1393.1"/><path d="M2623.0 1569.9C2624.6 1569.5 2629.3 1568.2 2632.5 1567.3C2635.6 1566.5 2638.8 1565.6 2641.9 1564.8C2645.1 1563.9 2648.2 1563.1 2651.4 1562.2C2654.5 1561.4 2657.7 1560.5 2660.8 1559.7C2664.0 1558.8 2667.1 1558.0 2670.3 1557.1C2673.4 1556.3 2676.6 1555.4 2679.7 1554.6C2682.9 1553.8 2686.0 1552.9 2689.2 1552.1C2692.3 1551.2 2695.5 1550.4 2698.6 1549.6C2701.8 1548.7 2704.9 1547.9 2708.1 1547.0C2711.2 1546.2 2714.4 1545.4 2717.5 1544.5C2720.7 1543.7 2723.8 1542.9 2727.0 1542.1C2730.1 1541.2 2733.3 1540.4 2736.4 1539.6C2739.6 1538.7 2742.7 1537.9 2745.9 1537.1C2749.0 1536.3 2752.2 1535.4 2755.3 1534.6C2758.5 1533.8 2761.6 1533.0 2764.8 1532.2C2768.0 1531.3 2771.1 1530.5 2774.3 1529.7C2777.4 1528.9 2780.6 1528.1 2783.7 1527.3C2786.9 1526.4 2790.0 1525.6 2793.2 1524.8C2796.3 1524.0 2799.5 1523.2 2802.6 1522.4C2805.8 1521.6 2808.9 1520.8 2812.1 1520.0C2815.2 1519.1 2818.4 1518.3 2821.5 1517.5C2824.7 1516.7 2827.8 1515.9 2831.0 1515.1C2834.1 1514.3 2837.3 1513.5 2840.4 1512.7C2843.6 1511.9 2846.7 1511.1 2849.9 1510.3C2853.0 1509.5 2856.2 1508.7 2859.3 1507.9C2862.5 1507.1 2865.6 1506.3 2868.8 1505.5C2871.9 1504.7 2875.1 1503.9 2878.2 1503.1C2881.4 1502.4 2884.5 1501.6 2887.7 1500.8C2890.8 1500.0 2894.0 1499.2 2897.1 1498.4C2900.3 1497.6 2903.4 1496.8 2906.6 1496.0C2909.8 1495.3 2912.9 1494.5 2916.1 1493.7C2919.2 1492.9 2922.4 1492.1 2925.5 1491.3C2928.7 1490.6 2931.8 1489.8 2935.0 1489.0C2938.1 1488.2 2941.3 1487.4 2944.4 1486.7C2947.6 1485.9 2950.7 1485.1 2953.9 1484.3C2957.0 1483.5 2960.2 1482.8 2963.3 1482.0C2966.5 1481.2 2969.6 1480.4 2972.8 1479.7C2975.9 1478.9 2979.1 1478.1 2982.2 1477.4C2985.4 1476.6 2988.5 1475.8 2991.7 1475.1C2994.8 1474.3 2998.0 1473.5 3001.1 1472.8C3004.3 1472.0 3007.4 1471.2 3010.6 1470.5C3013.7 1469.7 3016.9 1468.9 3020.0 1468.2C3023.2 1467.4 3026.3 1466.6 3029.5 1465.9C3032.6 1465.1 3035.8 1464.4 3038.9 1463.6C3042.1 1462.8 3045.2 1462.1 3048.4 1461.3C3051.6 1460.6 3054.7 1459.8 3057.9 1459.1C3061.0 1458.3 3064.2 1457.5 3067.3 1456.8C3070.5 1456.0 3073.6 1455.3 3076.8 1454.5C3079.9 1453.8 3083.1 1453.0 3086.2 1452.3C3089.4 1451.5 3092.5 1450.8 3095.7 1450.0C3098.8 1449.3 3102.0 1448.5 3105.1 1447.8C3108.3 1447.0 3111.4 1446.3 3114.6 1445.6C3117.7 1444.8 3120.9 1444.1 3124.0 1443.3C3127.2 1442.6 3130.3 1441.8 3133.5 1441.1C3136.6 1440.3 3139.8 1439.6 3142.9 1438.9C3146.1 1438.1 3149.2 1437.4 3152.4 1436.7C3155.5 1435.9 3158.7 1435.2 3161.8 1434.4C3165.0 1433.7 3168.1 1433.0 3171.3 1432.2C3174.4 1431.5 3177.6 1430.8 3180.7 1430.0C3183.9 1429.3 3188.6 1428.2 3190.2 1427.8"/><path d="M2623.0 1611.9C2624.6 1611.4 2629.3 1610.1 2632.5 1609.2C2635.6 1608.3 2638.8 1607.4 2641.9 1606.5C2645.1 1605.6 2648.2 1604.7 2651.4 1603.8C2654.5 1602.9 2657.7 1602.0 2660.8 1601.1C2664.0 1600.2 2667.1 1599.3 2670.3 1598.4C2673.4 1597.6 2676.6 1596.7 2679.7 1595.8C2682.9 1594.9 2686.0 1594.0 2689.2 1593.1C2692.3 1592.2 2695.5 1591.4 2698.6 1590.5C2701.8 1589.6 2704.9 1588.7 2708.1 1587.9C2711.2 1587.0 2714.4 1586.1 2717.5 1585.2C2720.7 1584.4 2723.8 1583.5 2727.0 1582.6C2730.1 1581.7 2733.3 1580.9 2736.4 1580.0C2739.6 1579.1 2742.7 1578.3 2745.9 1577.4C2749.0 1576.5 2752.2 1575.7 2755.3 1574.8C2758.5 1574.0 2761.6 1573.1 2764.8 1572.2C2768.0 1571.4 2771.1 1570.5 2774.3 1569.7C2777.4 1568.8 2780.6 1567.9 2783.7 1567.1C2786.9 1566.2 2790.0 1565.4 2793.2 1564.5C2796.3 1563.7 2799.5 1562.8 2802.6 1562.0C2805.8 1561.1 2808.9 1560.3 2812.1 1559.5C2815.2 1558.6 2818.4 1557.8 2821.5 1556.9C2824.7 1556.1 2827.8 1555.2 2831.0 1554.4C2834.1 1553.6 2837.3 1552.7 2840.4 1551.9C2843.6 1551.0 2846.7 1550.2 2849.9 1549.4C2853.0 1548.5 2856.2 1547.7 2859.3 1546.9C2862.5 1546.0 2865.6 1545.2 2868.8 1544.4C2871.9 1543.5 2875.1 1542.7 2878.2 1541.9C2881.4 1541.1 2884.5 1540.2 2887.7 1539.4C2890.8 1538.6 2894.0 1537.8 2897.1 1536.9C2900.3 1536.1 2903.4 1535.3 2906.6 1534.5C2909.8 1533.7 2912.9 1532.8 2916.1 1532.0C2919.2 1531.2 2922.4 1530.4 2925.5 1529.6C2928.7 1528.8 2931.8 1527.9 2935.0 1527.1C2938.1 1526.3 2941.3 1525.5 2944.4 1524.7C2947.6 1523.9 2950.7 1523.1 2953.9 1522.3C2957.0 1521.5 2960.2 1520.6 2963.3 1519.8C2966.5 1519.0 2969.6 1518.2 2972.8 1517.4C2975.9 1516.6 2979.1 1515.8 2982.2 1515.0C2985.4 1514.2 2988.5 1513.4 2991.7 1512.6C2994.8 1511.8 2998.0 1511.0 3001.1 1510.2C3004.3 1509.4 3007.4 1508.6 3010.6 1507.8C3013.7 1507.0 3016.9 1506.2 3020.0 1505.5C3023.2 1504.7 3026.3 1503.9 3029.5 1503.1C3032.6 1502.3 3035.8 1501.5 3038.9 1500.7C3042.1 1499.9 3045.2 1499.1 3048.4 1498.3C3051.6 1497.6 3054.7 1496.8 3057.9 1496.0C3061.0 1495.2 3064.2 1494.4 3067.3 1493.6C3070.5 1492.9 3073.6 1492.1 3076.8 1491.3C3079.9 1490.5 3083.1 1489.7 3086.2 1489.0C3089.4 1488.2 3092.5 1487.4 3095.7 1486.6C3098.8 1485.8 3102.0 1485.1 3105.1 1484.3C3108.3 1483.5 3111.4 1482.7 3114.6 1482.0C3117.7 1481.2 3120.9 1480.4 3124.0 1479.7C3127.2 1478.9 3130.3 1478.1 3133.5 1477.3C3136.6 1476.6 3139.8 1475.8 3142.9 1475.0C3146.1 1474.3 3149.2 1473.5 3152.4 1472.7C3155.5 1472.0 3158.7 1471.2 3161.8 1470.5C3165.0 1469.7 3168.1 1468.9 3171.3 1468.2C3174.4 1467.4 3177.6 1466.6 3180.7 1465.9C3183.9 1465.1 3188.6 1464.0 3190.2 1463.6"/><path d="M2623.0 1656.2C2624.6 1655.7 2629.3 1654.3 2632.5 1653.3C2635.6 1652.3 2639.6 1651.1 2641.9 1650.4C2644.2 1649.8 2645.3 1649.4 2646.0 1649.2"/><path d="M2690.0 1636.0C2691.4 1635.6 2695.6 1634.4 2698.6 1633.5C2701.6 1632.6 2704.9 1631.6 2708.1 1630.7C2711.2 1629.8 2714.4 1628.9 2717.5 1627.9C2720.7 1627.0 2723.8 1626.1 2727.0 1625.2C2730.1 1624.2 2733.3 1623.3 2736.4 1622.4C2739.6 1621.5 2742.7 1620.6 2745.9 1619.7C2749.0 1618.8 2752.2 1617.8 2755.3 1616.9C2758.5 1616.0 2761.6 1615.1 2764.8 1614.2C2768.0 1613.3 2771.1 1612.4 2774.3 1611.5C2777.4 1610.6 2780.6 1609.7 2783.7 1608.8C2786.9 1607.9 2790.0 1607.0 2793.2 1606.1C2796.3 1605.2 2799.5 1604.3 2802.6 1603.4C2805.8 1602.5 2808.9 1601.6 2812.1 1600.8C2815.2 1599.9 2818.4 1599.0 2821.5 1598.1C2824.7 1597.2 2827.8 1596.3 2831.0 1595.4C2834.1 1594.6 2837.3 1593.7 2840.4 1592.8C2843.6 1591.9 2846.7 1591.0 2849.9 1590.2C2853.0 1589.3 2856.2 1588.4 2859.3 1587.5C2862.5 1586.7 2865.6 1585.8 2868.8 1584.9C2871.9 1584.1 2875.1 1583.2 2878.2 1582.3C2881.4 1581.4 2884.5 1580.6 2887.7 1579.7C2890.8 1578.8 2894.0 1578.0 2897.1 1577.1C2900.3 1576.3 2903.4 1575.4 2906.6 1574.5C2909.8 1573.7 2912.9 1572.8 2916.1 1572.0C2919.2 1571.1 2922.4 1570.3 2925.5 1569.4C2928.7 1568.5 2931.8 1567.7 2935.0 1566.8C2938.1 1566.0 2941.3 1565.1 2944.4 1564.3C2947.6 1563.4 2950.7 1562.6 2953.9 1561.8C2957.0 1560.9 2960.2 1560.1 2963.3 1559.2C2966.5 1558.4 2969.6 1557.5 2972.8 1556.7C2975.9 1555.9 2979.1 1555.0 2982.2 1554.2C2985.4 1553.3 2988.5 1552.5 2991.7 1551.7C2994.8 1550.8 2998.0 1550.0 3001.1 1549.2C3004.3 1548.3 3007.4 1547.5 3010.6 1546.7C3013.7 1545.8 3016.9 1545.0 3020.0 1544.2C3023.2 1543.4 3026.3 1542.5 3029.5 1541.7C3032.6 1540.9 3035.8 1540.1 3038.9 1539.2C3042.1 1538.4 3045.2 1537.6 3048.4 1536.8C3051.6 1536.0 3054.7 1535.1 3057.9 1534.3C3061.0 1533.5 3064.2 1532.7 3067.3 1531.9C3070.5 1531.1 3073.6 1530.2 3076.8 1529.4C3079.9 1528.6 3083.1 1527.8 3086.2 1527.0C3089.4 1526.2 3092.5 1525.4 3095.7 1524.6C3098.8 1523.7 3102.0 1522.9 3105.1 1522.1C3108.3 1521.3 3111.4 1520.5 3114.6 1519.7C3117.7 1518.9 3120.9 1518.1 3124.0 1517.3C3127.2 1516.5 3130.3 1515.7 3133.5 1514.9C3136.6 1514.1 3139.8 1513.3 3142.9 1512.5C3146.1 1511.7 3149.2 1510.9 3152.4 1510.1C3155.5 1509.3 3158.7 1508.5 3161.8 1507.7C3165.0 1506.9 3168.1 1506.2 3171.3 1505.4C3174.4 1504.6 3177.6 1503.8 3180.7 1503.0C3183.9 1502.2 3188.6 1501.0 3190.2 1500.6"/><path d="M2623.0 1703.3C2624.6 1702.7 2629.3 1701.2 2632.5 1700.2C2635.6 1699.1 2638.8 1698.1 2641.9 1697.1C2645.1 1696.1 2648.2 1695.1 2651.4 1694.0C2654.5 1693.0 2657.7 1692.0 2660.8 1691.0C2664.0 1690.0 2667.1 1689.0 2670.3 1688.0C2673.4 1687.0 2676.6 1686.0 2679.7 1685.0C2682.9 1684.0 2686.0 1683.0 2689.2 1682.0C2692.3 1681.0 2695.5 1680.0 2698.6 1679.0C2701.8 1678.0 2704.9 1677.0 2708.1 1676.0C2711.2 1675.0 2714.4 1674.0 2717.5 1673.1C2720.7 1672.1 2723.8 1671.1 2727.0 1670.1C2730.1 1669.1 2733.3 1668.2 2736.4 1667.2C2739.6 1666.2 2742.7 1665.2 2745.9 1664.3C2749.0 1663.3 2752.2 1662.3 2755.3 1661.4C2758.5 1660.4 2761.6 1659.4 2764.8 1658.5C2768.0 1657.5 2771.1 1656.6 2774.3 1655.6C2777.4 1654.6 2780.6 1653.7 2783.7 1652.7C2786.9 1651.8 2790.0 1650.8 2793.2 1649.9C2796.3 1648.9 2799.5 1648.0 2802.6 1647.0C2805.8 1646.1 2808.9 1645.1 2812.1 1644.2C2815.2 1643.3 2818.4 1642.3 2821.5 1641.4C2824.7 1640.4 2827.8 1639.5 2831.0 1638.6C2834.1 1637.6 2837.3 1636.7 2840.4 1635.8C2843.6 1634.9 2846.7 1633.9 2849.9 1633.0C2853.0 1632.1 2856.2 1631.1 2859.3 1630.2C2862.5 1629.3 2865.6 1628.4 2868.8 1627.5C2871.9 1626.5 2875.1 1625.6 2878.2 1624.7C2881.4 1623.8 2884.5 1622.9 2887.7 1622.0C2890.8 1621.1 2894.0 1620.1 2897.1 1619.2C2900.3 1618.3 2903.4 1617.4 2906.6 1616.5C2909.8 1615.6 2912.9 1614.7 2916.1 1613.8C2919.2 1612.9 2922.4 1612.0 2925.5 1611.1C2928.7 1610.2 2931.8 1609.3 2935.0 1608.4C2938.1 1607.5 2941.3 1606.6 2944.4 1605.7C2947.6 1604.8 2950.7 1603.9 2953.9 1603.0C2957.0 1602.2 2960.2 1601.3 2963.3 1600.4C2966.5 1599.5 2969.6 1598.6 2972.8 1597.7C2975.9 1596.8 2979.1 1596.0 2982.2 1595.1C2985.4 1594.2 2988.5 1593.3 2991.7 1592.5C2994.8 1591.6 2998.0 1590.7 3001.1 1589.8C3004.3 1589.0 3007.4 1588.1 3010.6 1587.2C3013.7 1586.3 3016.9 1585.5 3020.0 1584.6C3023.2 1583.7 3026.3 1582.9 3029.5 1582.0C3032.6 1581.1 3035.8 1580.3 3038.9 1579.4C3042.1 1578.5 3045.2 1577.7 3048.4 1576.8C3051.6 1576.0 3054.7 1575.1 3057.9 1574.3C3061.0 1573.4 3064.2 1572.5 3067.3 1571.7C3070.5 1570.8 3073.6 1570.0 3076.8 1569.1C3079.9 1568.3 3083.1 1567.4 3086.2 1566.6C3089.4 1565.7 3092.5 1564.9 3095.7 1564.0C3098.8 1563.2 3102.0 1562.3 3105.1 1561.5C3108.3 1560.7 3111.4 1559.8 3114.6 1559.0C3117.7 1558.1 3120.9 1557.3 3124.0 1556.5C3127.2 1555.6 3131.8 1554.4 3133.5 1554.0C3135.1 1553.5 3133.9 1553.8 3134.0 1553.8"/><path d="M2623.0 1753.9C2624.6 1753.3 2629.3 1751.6 2632.5 1750.5C2635.6 1749.4 2638.8 1748.3 2641.9 1747.2C2645.1 1746.1 2648.2 1745.0 2651.4 1743.9C2654.5 1742.8 2657.7 1741.7 2660.8 1740.6C2664.0 1739.5 2667.1 1738.4 2670.3 1737.3C2673.4 1736.2 2676.6 1735.1 2679.7 1734.0C2682.9 1732.9 2686.0 1731.9 2689.2 1730.8C2692.3 1729.7 2695.5 1728.6 2698.6 1727.6C2701.8 1726.5 2704.9 1725.4 2708.1 1724.4C2711.2 1723.3 2714.4 1722.2 2717.5 1721.2C2720.7 1720.1 2723.8 1719.1 2727.0 1718.0C2730.1 1717.0 2733.3 1715.9 2736.4 1714.9C2739.6 1713.8 2742.7 1712.8 2745.9 1711.7C2749.0 1710.7 2752.2 1709.7 2755.3 1708.6C2758.5 1707.6 2761.6 1706.6 2764.8 1705.5C2768.0 1704.5 2771.1 1703.5 2774.3 1702.4C2777.4 1701.4 2780.6 1700.4 2783.7 1699.4C2786.9 1698.3 2790.0 1697.3 2793.2 1696.3C2796.3 1695.3 2799.5 1694.3 2802.6 1693.3C2805.8 1692.3 2810.4 1690.8 2812.0 1690.3"/><path d="M2856.0 1676.4C2856.6 1676.2 2857.2 1676.0 2859.3 1675.3C2861.5 1674.7 2865.6 1673.4 2868.8 1672.4C2871.9 1671.4 2875.1 1670.4 2878.2 1669.5C2881.4 1668.5 2884.5 1667.5 2887.7 1666.5C2890.8 1665.6 2894.0 1664.6 2897.1 1663.6C2900.3 1662.7 2903.4 1661.7 2906.6 1660.7C2909.8 1659.8 2912.9 1658.8 2916.1 1657.9C2919.2 1656.9 2922.4 1656.0 2925.5 1655.0C2928.7 1654.1 2931.8 1653.1 2935.0 1652.1C2938.1 1651.2 2941.3 1650.3 2944.4 1649.3C2947.6 1648.4 2950.7 1647.4 2953.9 1646.5C2957.0 1645.5 2960.2 1644.6 2963.3 1643.7C2966.5 1642.7 2969.6 1641.8 2972.8 1640.9C2975.9 1639.9 2979.1 1639.0 2982.2 1638.1C2985.4 1637.1 2988.5 1636.2 2991.7 1635.3C2994.8 1634.3 2998.0 1633.4 3001.1 1632.5C3004.3 1631.6 3007.4 1630.6 3010.6 1629.7C3013.7 1628.8 3016.9 1627.9 3020.0 1627.0C3023.2 1626.1 3026.3 1625.1 3029.5 1624.2C3032.6 1623.3 3035.8 1622.4 3038.9 1621.5C3042.1 1620.6 3045.2 1619.7 3048.4 1618.8C3051.6 1617.9 3054.7 1617.0 3057.9 1616.1C3061.0 1615.2 3064.2 1614.3 3067.3 1613.4C3070.5 1612.5 3073.6 1611.6 3076.8 1610.7C3079.9 1609.8 3083.1 1608.9 3086.2 1608.0C3089.4 1607.1 3092.5 1606.2 3095.7 1605.3C3098.8 1604.4 3102.0 1603.5 3105.1 1602.7C3108.3 1601.8 3111.4 1600.9 3114.6 1600.0C3117.7 1599.1 3120.9 1598.2 3124.0 1597.4C3127.2 1596.5 3130.3 1595.6 3133.5 1594.7C3136.6 1593.8 3139.8 1593.0 3142.9 1592.1C3146.1 1591.2 3149.2 1590.3 3152.4 1589.5C3155.5 1588.6 3158.7 1587.7 3161.8 1586.9C3165.0 1586.0 3168.1 1585.1 3171.3 1584.3C3174.4 1583.4 3177.6 1582.5 3180.7 1581.7C3183.9 1580.8 3188.6 1579.5 3190.2 1579.1"/><path d="M2623.0 1809.1C2624.6 1808.5 2630.5 1806.2 2632.5 1805.4C2634.5 1804.6 2634.6 1804.6 2635.0 1804.4"/><path d="M2703.0 1778.5C2703.8 1778.2 2705.7 1777.5 2708.1 1776.6C2710.5 1775.7 2714.4 1774.3 2717.5 1773.2C2720.7 1772.0 2723.8 1770.8 2727.0 1769.7C2730.1 1768.5 2733.3 1767.4 2736.4 1766.3C2739.6 1765.1 2742.7 1764.0 2745.9 1762.8C2749.0 1761.7 2752.2 1760.6 2755.3 1759.4C2758.5 1758.3 2761.6 1757.2 2764.8 1756.1C2768.0 1755.0 2771.1 1753.8 2774.3 1752.7C2777.4 1751.6 2780.6 1750.5 2783.7 1749.4C2786.9 1748.3 2790.0 1747.2 2793.2 1746.1C2796.3 1745.0 2799.5 1743.9 2802.6 1742.8C2805.8 1741.7 2808.9 1740.6 2812.1 1739.5C2815.2 1738.4 2818.4 1737.3 2821.5 1736.3C2824.7 1735.2 2827.8 1734.1 2831.0 1733.0C2834.1 1731.9 2837.3 1730.9 2840.4 1729.8C2843.6 1728.7 2846.7 1727.7 2849.9 1726.6C2853.0 1725.5 2856.2 1724.5 2859.3 1723.4C2862.5 1722.4 2865.6 1721.3 2868.8 1720.3C2871.9 1719.2 2875.1 1718.2 2878.2 1717.1C2881.4 1716.1 2884.5 1715.0 2887.7 1714.0C2890.8 1712.9 2894.0 1711.9 2897.1 1710.9C2900.3 1709.8 2903.4 1708.8 2906.6 1707.8C2909.8 1706.7 2912.9 1705.7 2916.1 1704.7C2919.2 1703.6 2922.4 1702.6 2925.5 1701.6C2928.7 1700.6 2931.8 1699.6 2935.0 1698.5C2938.1 1697.5 2941.3 1696.5 2944.4 1695.5C2947.6 1694.5 2950.7 1693.5 2953.9 1692.5C2957.0 1691.5 2960.2 1690.5 2963.3 1689.5C2966.5 1688.5 2969.6 1687.5 2972.8 1686.5C2975.9 1685.5 2979.1 1684.5 2982.2 1683.5C2985.4 1682.5 2988.5 1681.5 2991.7 1680.5C2994.8 1679.5 2998.0 1678.6 3001.1 1677.6C3004.3 1676.6 3007.4 1675.6 3010.6 1674.6C3013.7 1673.7 3016.9 1672.7 3020.0 1671.7C3023.2 1670.7 3026.3 1669.8 3029.5 1668.8C3032.6 1667.8 3035.8 1666.8 3038.9 1665.9C3042.1 1664.9 3045.2 1664.0 3048.4 1663.0C3051.6 1662.0 3054.7 1661.1 3057.9 1660.1C3061.0 1659.2 3064.2 1658.2 3067.3 1657.3C3070.5 1656.3 3073.6 1655.3 3076.8 1654.4C3079.9 1653.4 3083.1 1652.5 3086.2 1651.6C3089.4 1650.6 3092.5 1649.7 3095.7 1648.7C3098.8 1647.8 3102.0 1646.8 3105.1 1645.9C3108.3 1645.0 3111.4 1644.0 3114.6 1643.1C3117.7 1642.2 3120.9 1641.2 3124.0 1640.3C3127.2 1639.4 3130.3 1638.4 3133.5 1637.5C3136.6 1636.6 3139.8 1635.7 3142.9 1634.7C3146.1 1633.8 3149.2 1632.9 3152.4 1632.0C3155.5 1631.1 3158.7 1630.1 3161.8 1629.2C3165.0 1628.3 3168.1 1627.4 3171.3 1626.5C3174.4 1625.6 3177.6 1624.7 3180.7 1623.8C3183.9 1622.8 3188.6 1621.5 3190.2 1621.0"/><path d="M2623.0 1871.0C2624.6 1870.3 2629.3 1868.2 2632.5 1866.8C2635.6 1865.4 2638.8 1864.0 2641.9 1862.6C2645.1 1861.2 2648.2 1859.8 2651.4 1858.4C2654.5 1857.0 2657.7 1855.6 2660.8 1854.3C2664.0 1852.9 2667.1 1851.5 2670.3 1850.2C2673.4 1848.8 2676.6 1847.5 2679.7 1846.1C2682.9 1844.8 2686.0 1843.5 2689.2 1842.1C2692.3 1840.8 2695.5 1839.5 2698.6 1838.1C2701.8 1836.8 2704.9 1835.5 2708.1 1834.2C2711.2 1832.9 2714.4 1831.6 2717.5 1830.3C2720.7 1829.0 2723.8 1827.7 2727.0 1826.4C2730.1 1825.2 2733.3 1823.9 2736.4 1822.6C2739.6 1821.3 2742.7 1820.1 2745.9 1818.8C2749.0 1817.5 2752.2 1816.3 2755.3 1815.0C2758.5 1813.8 2761.6 1812.5 2764.8 1811.3C2768.0 1810.0 2771.1 1808.8 2774.3 1807.6C2777.4 1806.3 2780.6 1805.1 2783.7 1803.9C2786.9 1802.7 2790.0 1801.4 2793.2 1800.2C2796.3 1799.0 2799.5 1797.8 2802.6 1796.6C2805.8 1795.4 2808.9 1794.2 2812.1 1793.0C2815.2 1791.8 2818.4 1790.6 2821.5 1789.4C2824.7 1788.2 2827.8 1787.0 2831.0 1785.8C2834.1 1784.7 2837.3 1783.5 2840.4 1782.3C2843.6 1781.1 2846.7 1780.0 2849.9 1778.8C2853.0 1777.6 2856.2 1776.5 2859.3 1775.3C2862.5 1774.2 2865.6 1773.0 2868.8 1771.9C2871.9 1770.7 2875.1 1769.6 2878.2 1768.4C2881.4 1767.3 2884.5 1766.2 2887.7 1765.0C2890.8 1763.9 2894.0 1762.8 2897.1 1761.6C2900.3 1760.5 2903.4 1759.4 2906.6 1758.3C2909.8 1757.1 2912.9 1756.0 2916.1 1754.9C2919.2 1753.8 2922.4 1752.7 2925.5 1751.6C2928.7 1750.5 2931.8 1749.4 2935.0 1748.3C2938.1 1747.2 2941.3 1746.1 2944.4 1745.0C2947.6 1743.9 2950.7 1742.8 2953.9 1741.7C2957.0 1740.6 2960.2 1739.5 2963.3 1738.5C2966.5 1737.4 2969.6 1736.3 2972.8 1735.2C2975.9 1734.1 2979.1 1733.1 2982.2 1732.0C2985.4 1730.9 2988.5 1729.9 2991.7 1728.8C2994.8 1727.7 2998.0 1726.7 3001.1 1725.6C3004.3 1724.6 3007.4 1723.5 3010.6 1722.5C3013.7 1721.4 3016.9 1720.4 3020.0 1719.3C3023.2 1718.3 3026.3 1717.2 3029.5 1716.2C3032.6 1715.1 3035.8 1714.1 3038.9 1713.1C3042.1 1712.0 3045.2 1711.0 3048.4 1710.0C3051.6 1708.9 3054.7 1707.9 3057.9 1706.9C3061.0 1705.9 3064.2 1704.8 3067.3 1703.8C3070.5 1702.8 3073.6 1701.8 3076.8 1700.8C3079.9 1699.7 3083.1 1698.7 3086.2 1697.7C3089.4 1696.7 3092.5 1695.7 3095.7 1694.7C3098.8 1693.7 3102.0 1692.7 3105.1 1691.7C3108.3 1690.7 3111.4 1689.7 3114.6 1688.7C3117.7 1687.7 3120.9 1686.7 3124.0 1685.7C3127.2 1684.7 3130.3 1683.7 3133.5 1682.7C3136.6 1681.8 3140.0 1680.7 3142.9 1679.8C3145.9 1678.9 3149.7 1677.7 3151.0 1677.3"/><path d="M2623.0 1943.5C2624.6 1942.7 2629.3 1940.0 2632.5 1938.3C2635.6 1936.6 2638.8 1934.9 2641.9 1933.2C2645.1 1931.5 2648.2 1929.9 2651.4 1928.2C2654.5 1926.6 2657.7 1924.9 2660.8 1923.3C2664.0 1921.6 2667.1 1920.0 2670.3 1918.4C2673.4 1916.8 2676.6 1915.2 2679.7 1913.6C2682.9 1912.0 2686.0 1910.4 2689.2 1908.9C2692.3 1907.3 2695.5 1905.7 2698.6 1904.2C2701.8 1902.6 2704.9 1901.1 2708.1 1899.6C2711.2 1898.1 2714.4 1896.5 2717.5 1895.0C2720.7 1893.5 2723.8 1892.0 2727.0 1890.5C2730.1 1889.0 2733.3 1887.6 2736.4 1886.1C2739.6 1884.6 2742.7 1883.2 2745.9 1881.7C2749.0 1880.2 2752.2 1878.8 2755.3 1877.4C2758.5 1875.9 2761.6 1874.5 2764.8 1873.1C2768.0 1871.6 2771.1 1870.2 2774.3 1868.8C2777.4 1867.4 2780.6 1866.0 2783.7 1864.6C2786.9 1863.2 2790.0 1861.8 2793.2 1860.4C2796.3 1859.1 2799.5 1857.7 2802.6 1856.3C2805.8 1854.9 2808.9 1853.6 2812.1 1852.2C2815.2 1850.9 2818.4 1849.5 2821.5 1848.2C2824.7 1846.9 2827.8 1845.5 2831.0 1844.2C2834.1 1842.9 2837.3 1841.5 2840.4 1840.2C2843.6 1838.9 2846.7 1837.6 2849.9 1836.3C2853.0 1835.0 2856.2 1833.7 2859.3 1832.4C2862.5 1831.1 2865.6 1829.8 2868.8 1828.5C2871.9 1827.2 2875.1 1826.0 2878.2 1824.7C2881.4 1823.4 2884.5 1822.2 2887.7 1820.9C2890.8 1819.6 2894.0 1818.4 2897.1 1817.1C2900.3 1815.9 2903.4 1814.6 2906.6 1813.4C2909.8 1812.1 2912.9 1810.9 2916.1 1809.7C2919.2 1808.4 2922.4 1807.2 2925.5 1806.0C2928.7 1804.8 2931.8 1803.5 2935.0 1802.3C2938.1 1801.1 2941.3 1799.9 2944.4 1798.7C2947.6 1797.5 2950.7 1796.3 2953.9 1795.1C2957.0 1793.9 2961.1 1792.4 2963.3 1791.5C2965.5 1790.7 2966.4 1790.4 2967.0 1790.1"/><path d="M3035.0 1765.2C3035.7 1765.0 3036.7 1764.6 3038.9 1763.8C3041.2 1763.0 3045.2 1761.5 3048.4 1760.4C3051.6 1759.3 3054.7 1758.2 3057.9 1757.1C3061.0 1756.0 3064.2 1754.8 3067.3 1753.7C3070.5 1752.6 3073.6 1751.5 3076.8 1750.4C3079.9 1749.3 3083.1 1748.2 3086.2 1747.1C3089.4 1746.1 3092.5 1745.0 3095.7 1743.9C3098.8 1742.8 3102.0 1741.7 3105.1 1740.6C3108.3 1739.5 3111.4 1738.5 3114.6 1737.4C3117.7 1736.3 3120.9 1735.2 3124.0 1734.2C3127.2 1733.1 3130.3 1732.0 3133.5 1731.0C3136.6 1729.9 3139.8 1728.9 3142.9 1727.8C3146.1 1726.7 3149.2 1725.7 3152.4 1724.6C3155.5 1723.6 3158.7 1722.5 3161.8 1721.5C3165.0 1720.4 3168.1 1719.4 3171.3 1718.4C3174.4 1717.3 3177.6 1716.3 3180.7 1715.2C3183.9 1714.2 3188.6 1712.7 3190.2 1712.2"/><path d="M2623.0 2037.5C2624.6 2036.2 2629.3 2032.5 2632.5 2030.1C2635.6 2027.6 2638.8 2025.3 2641.9 2022.9C2645.1 2020.6 2648.2 2018.3 2651.4 2016.0C2654.5 2013.7 2657.7 2011.5 2660.8 2009.3C2664.0 2007.1 2667.1 2004.9 2670.3 2002.8C2673.4 2000.6 2676.6 1998.5 2679.7 1996.4C2682.9 1994.3 2686.0 1992.3 2689.2 1990.2C2692.3 1988.2 2695.5 1986.2 2698.6 1984.2C2701.8 1982.2 2704.9 1980.2 2708.1 1978.3C2711.2 1976.3 2714.4 1974.4 2717.5 1972.5C2720.7 1970.6 2723.8 1968.7 2727.0 1966.9C2730.1 1965.0 2733.3 1963.1 2736.4 1961.3C2739.6 1959.5 2742.7 1957.7 2745.9 1955.9C2749.0 1954.1 2752.2 1952.3 2755.3 1950.5C2758.5 1948.8 2761.6 1947.0 2764.8 1945.3C2768.0 1943.5 2771.1 1941.8 2774.3 1940.1C2777.4 1938.4 2782.0 1935.9 2783.7 1935.0C2785.4 1934.1 2784.2 1934.8 2784.3 1934.7"/><path d="M2828.3 1912.1C2828.7 1911.9 2829.0 1911.8 2831.0 1910.8C2833.0 1909.8 2837.3 1907.6 2840.4 1906.1C2843.6 1904.5 2846.7 1903.0 2849.9 1901.5C2853.0 1900.0 2856.2 1898.5 2859.3 1897.0C2862.5 1895.4 2865.6 1894.0 2868.8 1892.5C2871.9 1891.0 2875.1 1889.5 2878.2 1888.0C2881.4 1886.6 2884.5 1885.1 2887.7 1883.6C2890.8 1882.2 2894.0 1880.8 2897.1 1879.3C2900.3 1877.9 2903.4 1876.4 2906.6 1875.0C2909.8 1873.6 2912.9 1872.2 2916.1 1870.8C2919.2 1869.4 2922.4 1868.0 2925.5 1866.6C2928.7 1865.2 2931.8 1863.8 2935.0 1862.4C2938.1 1861.1 2941.3 1859.7 2944.4 1858.3C2947.6 1857.0 2950.7 1855.6 2953.9 1854.2C2957.0 1852.9 2960.2 1851.6 2963.3 1850.2C2966.5 1848.9 2969.6 1847.5 2972.8 1846.2C2975.9 1844.9 2979.1 1843.6 2982.2 1842.3C2985.4 1840.9 2988.5 1839.6 2991.7 1838.3C2994.8 1837.0 2998.0 1835.7 3001.1 1834.4C3004.3 1833.1 3007.4 1831.9 3010.6 1830.6C3013.7 1829.3 3016.9 1828.0 3020.0 1826.7C3023.2 1825.5 3026.3 1824.2 3029.5 1823.0C3032.6 1821.7 3035.8 1820.4 3038.9 1819.2C3042.1 1817.9 3045.2 1816.7 3048.4 1815.5C3051.6 1814.2 3054.7 1813.0 3057.9 1811.7C3061.0 1810.5 3064.2 1809.3 3067.3 1808.1C3070.5 1806.9 3073.6 1805.6 3076.8 1804.4C3079.9 1803.2 3083.1 1802.0 3086.2 1800.8C3089.4 1799.6 3092.5 1798.4 3095.7 1797.2C3098.8 1796.0 3102.0 1794.8 3105.1 1793.6C3108.3 1792.4 3111.4 1791.3 3114.6 1790.1C3117.7 1788.9 3120.9 1787.7 3124.0 1786.6C3127.2 1785.4 3130.3 1784.2 3133.5 1783.1C3136.6 1781.9 3139.8 1780.7 3142.9 1779.6C3146.1 1778.4 3149.2 1777.3 3152.4 1776.1C3155.5 1775.0 3158.7 1773.8 3161.8 1772.7C3165.0 1771.6 3168.1 1770.4 3171.3 1769.3C3174.4 1768.2 3177.6 1767.0 3180.7 1765.9C3183.9 1764.8 3188.6 1763.1 3190.2 1762.5"/><path d="M2651.4 2180.2C2652.9 2176.3 2657.7 2163.4 2660.8 2156.6C2664.0 2149.7 2667.1 2144.5 2670.3 2139.2C2673.4 2133.9 2676.6 2129.2 2679.7 2124.7C2682.9 2120.2 2686.0 2116.0 2689.2 2112.0C2692.3 2108.0 2695.5 2104.2 2698.6 2100.6C2701.8 2096.9 2704.9 2093.4 2708.1 2090.1C2711.2 2086.7 2714.4 2083.4 2717.5 2080.3C2720.7 2077.1 2723.8 2074.1 2727.0 2071.1C2730.1 2068.1 2733.3 2065.2 2736.4 2062.4C2739.6 2059.6 2742.7 2056.8 2745.9 2054.1C2749.0 2051.4 2752.2 2048.8 2755.3 2046.2C2758.5 2043.6 2761.6 2041.1 2764.8 2038.6C2768.0 2036.1 2771.1 2033.6 2774.3 2031.2C2777.4 2028.8 2780.6 2026.5 2783.7 2024.2C2786.9 2021.8 2790.0 2019.6 2793.2 2017.3C2796.3 2015.1 2799.5 2012.8 2802.6 2010.7C2805.8 2008.5 2808.9 2006.3 2812.1 2004.2C2815.2 2002.1 2818.4 2000.0 2821.5 1997.9C2824.7 1995.8 2827.8 1993.8 2831.0 1991.7C2834.1 1989.7 2837.3 1987.7 2840.4 1985.7C2843.6 1983.8 2846.7 1981.8 2849.9 1979.9C2853.0 1977.9 2856.2 1976.0 2859.3 1974.1C2862.5 1972.2 2865.6 1970.3 2868.8 1968.5C2871.9 1966.6 2875.1 1964.8 2878.2 1963.0C2881.4 1961.1 2884.5 1959.3 2887.7 1957.6C2890.8 1955.8 2894.0 1954.0 2897.1 1952.2C2900.3 1950.5 2903.4 1948.7 2906.6 1947.0C2909.8 1945.3 2912.9 1943.6 2916.1 1941.9C2919.2 1940.2 2922.4 1938.5 2925.5 1936.8C2928.7 1935.1 2931.8 1933.5 2935.0 1931.8C2938.1 1930.2 2941.3 1928.5 2944.4 1926.9C2947.6 1925.3 2950.7 1923.7 2953.9 1922.1C2957.0 1920.5 2960.2 1918.9 2963.3 1917.3C2966.5 1915.7 2969.6 1914.2 2972.8 1912.6C2975.9 1911.0 2979.1 1909.5 2982.2 1907.9C2985.4 1906.4 2988.5 1904.9 2991.7 1903.4C2994.8 1901.8 2998.0 1900.3 3001.1 1898.8C3004.3 1897.3 3007.4 1895.8 3010.6 1894.4C3013.7 1892.9 3016.9 1891.4 3020.0 1889.9C3023.2 1888.5 3026.3 1887.0 3029.5 1885.6C3032.6 1884.1 3035.8 1882.7 3038.9 1881.2C3042.1 1879.8 3045.2 1878.4 3048.4 1877.0C3051.6 1875.5 3054.7 1874.1 3057.9 1872.7C3061.0 1871.3 3064.2 1869.9 3067.3 1868.5C3070.5 1867.2 3073.6 1865.8 3076.8 1864.4C3079.9 1863.0 3083.1 1861.7 3086.2 1860.3C3089.4 1858.9 3092.5 1857.6 3095.7 1856.2C3098.8 1854.9 3102.0 1853.5 3105.1 1852.2C3108.3 1850.9 3111.4 1849.5 3114.6 1848.2C3117.7 1846.9 3120.9 1845.6 3124.0 1844.3C3127.2 1842.9 3130.5 1841.6 3133.5 1840.3C3136.5 1839.1 3140.6 1837.4 3142.0 1836.8"/><path d="M2793.2 2175.2C2794.7 2171.7 2799.5 2160.4 2802.6 2154.2C2805.8 2148.0 2808.9 2142.9 2812.1 2137.9C2815.2 2132.9 2818.4 2128.4 2821.5 2124.0C2824.7 2119.7 2827.8 2115.7 2831.0 2111.8C2834.1 2107.9 2837.3 2104.2 2840.4 2100.6C2843.6 2097.1 2846.7 2093.7 2849.9 2090.4C2853.0 2087.1 2856.2 2083.9 2859.3 2080.8C2862.5 2077.7 2865.6 2074.7 2868.8 2071.7C2871.9 2068.8 2875.1 2066.0 2878.2 2063.2C2881.4 2060.4 2884.5 2057.7 2887.7 2055.0C2890.8 2052.3 2894.0 2049.7 2897.1 2047.2C2900.3 2044.6 2903.4 2042.1 2906.6 2039.6C2909.8 2037.2 2912.9 2034.8 2916.1 2032.4C2919.2 2030.0 2922.4 2027.7 2925.5 2025.4C2928.7 2023.1 2931.8 2020.8 2935.0 2018.6C2938.1 2016.3 2941.3 2014.1 2944.4 2012.0C2947.6 2009.8 2952.2 2006.7 2953.9 2005.5C2955.5 2004.4 2954.4 2005.2 2954.5 2005.1"/><path d="M2998.5 1977.3C2998.9 1977.0 2999.1 1976.9 3001.1 1975.7C3003.1 1974.5 3007.4 1971.9 3010.6 1970.1C3013.7 1968.2 3016.9 1966.4 3020.0 1964.6C3023.2 1962.8 3026.3 1961.0 3029.5 1959.2C3032.6 1957.4 3035.8 1955.6 3038.9 1953.9C3042.1 1952.1 3045.2 1950.4 3048.4 1948.7C3051.6 1947.0 3054.7 1945.3 3057.9 1943.6C3061.0 1941.9 3064.2 1940.2 3067.3 1938.5C3070.5 1936.9 3073.6 1935.2 3076.8 1933.6C3079.9 1931.9 3083.1 1930.3 3086.2 1928.7C3089.4 1927.0 3092.5 1925.4 3095.7 1923.8C3098.8 1922.2 3102.0 1920.7 3105.1 1919.1C3108.3 1917.5 3111.4 1915.9 3114.6 1914.4C3117.7 1912.8 3120.9 1911.3 3124.0 1909.8C3127.2 1908.2 3130.3 1906.7 3133.5 1905.2C3136.6 1903.7 3139.8 1902.2 3142.9 1900.7C3146.1 1899.2 3149.2 1897.7 3152.4 1896.2C3155.5 1894.7 3158.7 1893.3 3161.8 1891.8C3165.0 1890.3 3168.1 1888.9 3171.3 1887.4C3174.4 1886.0 3177.6 1884.6 3180.7 1883.1C3183.9 1881.7 3188.6 1879.6 3190.2 1878.9"/><path d="M2925.5 2200.2C2927.1 2195.4 2931.8 2179.2 2935.0 2171.2C2938.1 2163.2 2941.3 2157.8 2944.4 2152.1C2947.6 2146.3 2950.7 2141.5 2953.9 2136.7C2957.0 2131.9 2960.2 2127.6 2963.3 2123.4C2966.5 2119.2 2969.6 2115.3 2972.8 2111.5C2975.9 2107.7 2979.1 2104.2 2982.2 2100.7C2985.4 2097.2 2988.5 2093.9 2991.7 2090.6C2994.8 2087.4 2998.0 2084.3 3001.1 2081.2C3004.3 2078.2 3007.4 2075.2 3010.6 2072.3C3013.7 2069.4 3016.9 2066.6 3020.0 2063.9C3023.2 2061.1 3026.3 2058.5 3029.5 2055.8C3032.6 2053.2 3035.8 2050.6 3038.9 2048.1C3042.1 2045.6 3045.2 2043.1 3048.4 2040.6C3051.6 2038.2 3054.7 2035.8 3057.9 2033.5C3061.0 2031.1 3064.2 2028.8 3067.3 2026.5C3070.5 2024.2 3073.6 2022.0 3076.8 2019.8C3079.9 2017.6 3083.1 2015.4 3086.2 2013.2C3089.4 2011.1 3092.5 2009.0 3095.7 2006.9C3098.8 2004.8 3102.0 2002.7 3105.1 2000.6C3108.3 1998.6 3111.4 1996.6 3114.6 1994.6C3117.7 1992.6 3120.9 1990.6 3124.0 1988.6C3127.2 1986.7 3130.3 1984.8 3133.5 1982.8C3136.6 1980.9 3139.8 1979.0 3142.9 1977.2C3146.1 1975.3 3149.2 1973.4 3152.4 1971.6C3155.5 1969.8 3158.7 1967.9 3161.8 1966.1C3165.0 1964.3 3168.1 1962.5 3171.3 1960.8C3174.4 1959.0 3177.6 1957.2 3180.7 1955.5C3183.9 1953.8 3188.6 1951.2 3190.2 1950.3"/><path d="M3067.3 2191.8C3068.9 2187.8 3073.6 2174.7 3076.8 2167.7C3079.9 2160.8 3083.1 2155.5 3086.2 2150.1C3089.4 2144.8 3092.5 2140.1 3095.7 2135.5C3098.8 2131.0 3102.0 2126.8 3105.1 2122.8C3108.3 2118.7 3111.4 2114.9 3114.6 2111.2C3117.7 2107.6 3120.9 2104.1 3124.0 2100.7C3127.2 2097.3 3130.3 2094.0 3133.5 2090.8C3136.6 2087.7 3139.8 2084.6 3142.9 2081.6C3146.1 2078.6 3149.2 2075.7 3152.4 2072.9C3155.5 2070.0 3158.7 2067.3 3161.8 2064.6C3165.0 2061.8 3168.1 2059.2 3171.3 2056.6C3174.4 2054.0 3177.6 2051.5 3180.7 2049.0C3183.9 2046.5 3188.6 2042.8 3190.2 2041.6"/></g><g transform="rotate(-16.7 2668 1642.6)"><text x="2668" y="1649.2" font-size="18.5" text-anchor="middle" fill="#808080">24</text></g><g transform="rotate(-14.7 3168 1544.9)"><text x="3168" y="1551.5" font-size="18.5" text-anchor="middle" fill="#808080">24.5</text></g><g transform="rotate(-17.5 2834 1683.3)"><text x="2834" y="1689.9" font-size="18.5" text-anchor="middle" fill="#808080">25</text></g><g transform="rotate(-20.9 2669 1791.3)"><text x="2669" y="1797.9" font-size="18.5" text-anchor="middle" fill="#808080">25.5</text></g><g transform="rotate(-17 3185 1666.8)"><text x="3185" y="1673.4" font-size="18.5" text-anchor="middle" fill="#808080">26</text></g><g transform="rotate(-20.2 3001 1777.5)"><text x="3001" y="1784.1" font-size="18.5" text-anchor="middle" fill="#808080">26.5</text></g><g transform="rotate(-27.2 2806.3 1923.2)"><text x="2806.3" y="1929.8" font-size="18.5" text-anchor="middle" fill="#808080">27</text></g><g transform="rotate(-21.7 3176 1823.1)"><text x="3176" y="1829.7" font-size="18.5" text-anchor="middle" fill="#808080">27.5</text></g><g transform="rotate(-32.3 2976.5 1990.8)"><text x="2976.5" y="1997.4" font-size="18.5" text-anchor="middle" fill="#808080">28</text></g><text x="2641" y="1580.5" font-size="38.5" fill="#858585">σ<tspan font-size="24" dy="5.5">0</tspan></text></g><path d="M2623 2138.6H3190.2M2623 2018.7H3190.2M2623 1898.8H3190.2M2623 1778.9H3190.2M2623 1659H3190.2M2841.6 1538.6V2153.4M3069.3 1538.6V2153.4" stroke="#000" stroke-width="1.5" fill="none"/><g clip-path="url(#tclip)"><path d="M2842.1 1572.4h3.2v3.2h-3.2zM2930.5 1568h3.2v3.2h-3.2zM2979.3 1570.1h3.2v3.2h-3.2zM3043.5 1568h3.2v3.2h-3.2zM3110.3 1578.8h3.2v3.2h-3.2zM3167 1589.2h3.2v3.2h-3.2zM3172.1 1593h3.2v3.2h-3.2zM3173.4 1610.3h3.2v3.2h-3.2zM3185.8 1622.7h3.2v3.2h-3.2zM3157.5 1627.1h3.2v3.2h-3.2zM3147.1 1647.2h3.2v3.2h-3.2zM3175 1651h3.2v3.2h-3.2zM3181.7 1648.5h3.2v3.2h-3.2zM3185.8 1644.6h3.2v3.2h-3.2zM3150.2 1665.2h3.2v3.2h-3.2zM3164.4 1658.8h3.2v3.2h-3.2zM2934.1 1585.3h3.2v3.2h-3.2zM2933.1 1595.6h3.2v3.2h-3.2zM2933.1 1598.7h3.2v3.2h-3.2zM2934.4 1611.1h3.2v3.2h-3.2zM2861.4 1605.1h3.2v3.2h-3.2zM2840.8 1608.5h3.2v3.2h-3.2zM2856.8 1613.1h3.2v3.2h-3.2zM2858.3 1622.2h3.2v3.2h-3.2zM2899.1 1621.9h3.2v3.2h-3.2zM2851.1 1633h3.2v3.2h-3.2zM2926.4 1625.8h3.2v3.2h-3.2zM2925.9 1633h3.2v3.2h-3.2zM2914.3 1635.1h3.2v3.2h-3.2zM2937.8 1629.1h3.2v3.2h-3.2zM2939.3 1629.4h3.2v3.2h-3.2zM2933.6 1636.9h3.2v3.2h-3.2zM2938.8 1639.4h3.2v3.2h-3.2zM2933.6 1642h3.2v3.2h-3.2zM2937.5 1647.2h3.2v3.2h-3.2zM2933.6 1648.5h3.2v3.2h-3.2zM2941.4 1651.8h3.2v3.2h-3.2zM2936.2 1655.4h3.2v3.2h-3.2zM3009.4 1632.2h3.2v3.2h-3.2zM2945.2 1657.5h3.2v3.2h-3.2zM2948.6 1661.4h3.2v3.2h-3.2zM2954.3 1664.7h3.2v3.2h-3.2zM2942.6 1663.9h3.2v3.2h-3.2zM2959.4 1662.6h3.2v3.2h-3.2zM2958.9 1671.7h3.2v3.2h-3.2zM2947 1672.2h3.2v3.2h-3.2zM2945.2 1675.5h3.2v3.2h-3.2zM2962 1651h3.2v3.2h-3.2zM2959.4 1653.6h3.2v3.2h-3.2zM2956.8 1657.5h3.2v3.2h-3.2zM2964.6 1685.3h3.2v3.2h-3.2zM2963.3 1691h3.2v3.2h-3.2zM2940.1 1688.9h3.2v3.2h-3.2zM2927.2 1691h3.2v3.2h-3.2zM2954.3 1695.7h3.2v3.2h-3.2zM2929.8 1698.7h3.2v3.2h-3.2zM2936.7 1697.5h3.2v3.2h-3.2zM3048.4 1687.9h3.2v3.2h-3.2zM3087.1 1673h3.2v3.2h-3.2zM3094 1673h3.2v3.2h-3.2zM3114.1 1671.7h3.2v3.2h-3.2zM3103.3 1692.8h3.2v3.2h-3.2zM3056.1 1708h3.2v3.2h-3.2zM3047.1 1726.3h3.2v3.2h-3.2zM3027 1744.4h3.2v3.2h-3.2zM3002.5 1757.3h3.2v3.2h-3.2zM2985.2 1727.9h3.2v3.2h-3.2zM2776.8 1692.3h3.2v3.2h-3.2zM2782.8 1706.5h3.2v3.2h-3.2zM2782.8 1711.1h3.2v3.2h-3.2zM2769.1 1712.2h3.2v3.2h-3.2zM2828.4 1703.1h3.2v3.2h-3.2zM2772.5 1703.1h3.2v3.2h-3.2zM2967.1 1701.3h3.2v3.2h-3.2zM2958.1 1712.9h3.2v3.2h-3.2zM2969.7 1722.5h3.2v3.2h-3.2zM2928 1712.9h3.2v3.2h-3.2zM2925.4 1716.8h3.2v3.2h-3.2zM2918.2 1728.4h3.2v3.2h-3.2zM2920.7 1731h3.2v3.2h-3.2zM2919.4 1729.7h3.2v3.2h-3.2zM2978.8 1748.3h3.2v3.2h-3.2zM2974.4 1752.9h3.2v3.2h-3.2zM2989.1 1763.2h3.2v3.2h-3.2zM2980 1764.5h3.2v3.2h-3.2zM2978.8 1769.7h3.2v3.2h-3.2zM2976.2 1774.8h3.2v3.2h-3.2zM2972.3 1778.7h3.2v3.2h-3.2zM2967.1 1777.4h3.2v3.2h-3.2zM2961.5 1782h3.2v3.2h-3.2zM2836.9 1749h3.2v3.2h-3.2zM2837.7 1752.9h3.2v3.2h-3.2zM2838.2 1758.6h3.2v3.2h-3.2zM2827.9 1767.1h3.2v3.2h-3.2zM2823.3 1777.4h3.2v3.2h-3.2zM2873.8 1773h3.2v3.2h-3.2zM2878.2 1772.2h3.2v3.2h-3.2zM2880.8 1780h3.2v3.2h-3.2zM2885.4 1777.4h3.2v3.2h-3.2zM2857 1787.7h3.2v3.2h-3.2zM2889.8 1784.4h3.2v3.2h-3.2zM2825.3 1783.8h3.2v3.2h-3.2zM2817.6 1786.9h3.2v3.2h-3.2zM2830.5 1791.6h3.2v3.2h-3.2zM2852.4 1794.2h3.2v3.2h-3.2zM2855.5 1794.2h3.2v3.2h-3.2zM2877.4 1794.2h3.2v3.2h-3.2zM2860.9 1801.4h3.2v3.2h-3.2zM2781.5 1794.2h3.2v3.2h-3.2zM2780.2 1795.4h3.2v3.2h-3.2zM2807.3 1796.7h3.2v3.2h-3.2zM2798.2 1800.6h3.2v3.2h-3.2zM2800.8 1804.5h3.2v3.2h-3.2zM2814.5 1800.6h3.2v3.2h-3.2zM2799.5 1809.1h3.2v3.2h-3.2zM2838.2 1809.6h3.2v3.2h-3.2zM2855.5 1810.9h3.2v3.2h-3.2zM2761.4 1814h3.2v3.2h-3.2zM2741.5 1827.7h3.2v3.2h-3.2zM2764.7 1827.7h3.2v3.2h-3.2zM2766 1831.5h3.2v3.2h-3.2zM2784.1 1829h3.2v3.2h-3.2zM2786.6 1831.5h3.2v3.2h-3.2zM2797 1835.4h3.2v3.2h-3.2zM2791.8 1839.3h3.2v3.2h-3.2zM2813.7 1829h3.2v3.2h-3.2zM2820.2 1831.5h3.2v3.2h-3.2zM2809.8 1836.7h3.2v3.2h-3.2zM2816.3 1839.3h3.2v3.2h-3.2zM2762.7 1857.7h3.2v3.2h-3.2zM2763.4 1851.3h3.2v3.2h-3.2zM2735.1 1879.7h3.2v3.2h-3.2zM2733.8 1884.8h3.2v3.2h-3.2zM2737.6 1890h3.2v3.2h-3.2zM2736.4 1893.8h3.2v3.2h-3.2zM2727.3 1900.3h3.2v3.2h-3.2zM2731.2 1899h3.2v3.2h-3.2zM2744.1 1899.8h3.2v3.2h-3.2zM2724.8 1915.8h3.2v3.2h-3.2zM2735.6 1920.9h3.2v3.2h-3.2zM2760.9 1908h3.2v3.2h-3.2zM2776.3 1905.4h3.2v3.2h-3.2zM2745.4 1927.4h3.2v3.2h-3.2zM2742.8 1929.9h3.2v3.2h-3.2zM2701.5 1958.3h3.2v3.2h-3.2zM2695.1 1964.2h3.2v3.2h-3.2zM2711.9 1962.2h3.2v3.2h-3.2zM2713.1 1966h3.2v3.2h-3.2zM2705.4 1969.4h3.2v3.2h-3.2zM2738.9 1964.8h3.2v3.2h-3.2zM2727.3 1981.8h3.2v3.2h-3.2zM2678.3 1992.6h3.2v3.2h-3.2zM2656.4 2007.3h3.2v3.2h-3.2zM2665.4 2011.2h3.2v3.2h-3.2zM2669.3 2015h3.2v3.2h-3.2zM2680.9 2015h3.2v3.2h-3.2zM2653.8 2022.8h3.2v3.2h-3.2zM2689.9 2020.2h3.2v3.2h-3.2zM2697.7 2023.5h3.2v3.2h-3.2zM2703.6 2018.9h3.2v3.2h-3.2zM2714.4 2015.8h3.2v3.2h-3.2zM2717.5 2024.1h3.2v3.2h-3.2zM2695.1 1998.3h3.2v3.2h-3.2zM2708 2001.4h3.2v3.2h-3.2zM2704.6 2004.7h3.2v3.2h-3.2zM2719.1 1995.7h3.2v3.2h-3.2zM2719.6 2004.7h3.2v3.2h-3.2zM2709.8 2009.9h3.2v3.2h-3.2zM2717 1990.5h3.2v3.2h-3.2zM2699 1990.5h3.2v3.2h-3.2zM2711.3 2034.4h3.2v3.2h-3.2zM2705.4 2033.1h3.2v3.2h-3.2zM2727.3 2034.4h3.2v3.2h-3.2zM2729.4 2037h3.2v3.2h-3.2zM2722.2 2043.4h3.2v3.2h-3.2zM2728.6 2044.7h3.2v3.2h-3.2zM2726 2053.2h3.2v3.2h-3.2zM2646.1 2051.9h3.2v3.2h-3.2zM2647.4 2055.5h3.2v3.2h-3.2zM2686.1 2046h3.2v3.2h-3.2zM2693.8 2044.7h3.2v3.2h-3.2zM2702.8 2040.8h3.2v3.2h-3.2zM2695.1 2048.6h3.2v3.2h-3.2zM2691.2 2052.4h3.2v3.2h-3.2zM2700.3 2051.1h3.2v3.2h-3.2zM2705.4 2052.4h3.2v3.2h-3.2zM2732.5 2055h3.2v3.2h-3.2zM2795.7 2058.9h3.2v3.2h-3.2zM2803.4 2057.1h3.2v3.2h-3.2zM2816.3 2069.2h3.2v3.2h-3.2zM2804.7 2071.8h3.2v3.2h-3.2zM2808.6 2074.3h3.2v3.2h-3.2zM2775.8 2069.2h3.2v3.2h-3.2zM2755.7 2071.8h3.2v3.2h-3.2zM2771.7 2074.3h3.2v3.2h-3.2zM2789.2 2084.7h3.2v3.2h-3.2zM2787.9 2087.2h3.2v3.2h-3.2zM2776.3 2095.5h3.2v3.2h-3.2zM2763.4 2102.2h3.2v3.2h-3.2zM2786.1 2101.4h3.2v3.2h-3.2zM2766 2116.4h3.2v3.2h-3.2zM2780.9 1889.1h3.2v3.2h-3.2zM2788.5 1881.5h3.2v3.2h-3.2zM2760.3 1906.1h3.2v3.2h-3.2zM2836.7 1848.7h3.2v3.2h-3.2zM2766.8 1925.4h3.2v3.2h-3.2zM2778.1 1920h3.2v3.2h-3.2zM2814 1868h3.2v3.2h-3.2zM2752.2 1920.4h3.2v3.2h-3.2zM2772.2 1902.7h3.2v3.2h-3.2zM2784.6 1875.2h3.2v3.2h-3.2zM2798.3 1884h3.2v3.2h-3.2zM2812.1 1862.2h3.2v3.2h-3.2zM2866.4 1835.5h3.2v3.2h-3.2zM2820.5 1854.5h3.2v3.2h-3.2zM2794.1 1890.1h3.2v3.2h-3.2zM2797.2 1893.4h3.2v3.2h-3.2zM2847.4 1838.7h3.2v3.2h-3.2zM2781.6 1908.1h3.2v3.2h-3.2zM2847 1834.6h3.2v3.2h-3.2zM2816.2 1873.4h3.2v3.2h-3.2zM2751.8 1894.9h3.2v3.2h-3.2zM2832.1 1851.5h3.2v3.2h-3.2zM2776.6 1906.9h3.2v3.2h-3.2zM2762.8 1909.2h3.2v3.2h-3.2zM2771.7 1909.1h3.2v3.2h-3.2zM2822.7 1859.7h3.2v3.2h-3.2zM2771.7 1880.7h3.2v3.2h-3.2zM2826.6 1835.4h3.2v3.2h-3.2zM2761.8 1892.8h3.2v3.2h-3.2zM2835.7 1850.9h3.2v3.2h-3.2zM2773.6 1888.3h3.2v3.2h-3.2zM2784.8 1889.6h3.2v3.2h-3.2zM2757.1 1916.5h3.2v3.2h-3.2zM2806.3 1862.6h3.2v3.2h-3.2zM2837 1837.3h3.2v3.2h-3.2zM2840.2 1841.9h3.2v3.2h-3.2zM2844.9 1848.5h3.2v3.2h-3.2zM2770.8 1924.7h3.2v3.2h-3.2zM2788.4 1909.6h3.2v3.2h-3.2zM2809.3 1867.2h3.2v3.2h-3.2zM2763 1919.3h3.2v3.2h-3.2zM2821.8 1844.7h3.2v3.2h-3.2zM2810.5 1864.7h3.2v3.2h-3.2zM2829.2 1856.5h3.2v3.2h-3.2zM2814.8 1882.2h3.2v3.2h-3.2zM2785.6 1899.8h3.2v3.2h-3.2zM2754.1 1910.7h3.2v3.2h-3.2zM2762.8 1908.8h3.2v3.2h-3.2zM2814.6 1865.9h3.2v3.2h-3.2zM2852.3 1845.8h3.2v3.2h-3.2zM2817.4 1863.8h3.2v3.2h-3.2zM2774.3 1916.1h3.2v3.2h-3.2zM2823.7 1861.1h3.2v3.2h-3.2zM2802.9 1864.7h3.2v3.2h-3.2zM2787.9 1893.7h3.2v3.2h-3.2zM2805.5 1892h3.2v3.2h-3.2zM2821.6 1871.8h3.2v3.2h-3.2zM2835.8 1832h3.2v3.2h-3.2zM2847.4 1849.7h3.2v3.2h-3.2zM2837.7 1861.2h3.2v3.2h-3.2zM2806.9 1859.8h3.2v3.2h-3.2zM2823.1 1862.8h3.2v3.2h-3.2zM2860.1 1844.7h3.2v3.2h-3.2zM2790.5 1898.7h3.2v3.2h-3.2zM2798.4 1886.1h3.2v3.2h-3.2zM2837.5 1854.3h3.2v3.2h-3.2zM2802.1 1866.8h3.2v3.2h-3.2zM2788.7 1890.7h3.2v3.2h-3.2zM2785.3 1898.6h3.2v3.2h-3.2zM2821.3 1857.7h3.2v3.2h-3.2zM2837.5 1850.6h3.2v3.2h-3.2zM2835.3 1833.2h3.2v3.2h-3.2zM2759.8 1897.6h3.2v3.2h-3.2zM2848.7 1847.9h3.2v3.2h-3.2zM2808.8 1866.7h3.2v3.2h-3.2zM2810.1 1892.3h3.2v3.2h-3.2zM2829.2 1861.9h3.2v3.2h-3.2zM2763.9 1904.5h3.2v3.2h-3.2zM2764.9 1896.6h3.2v3.2h-3.2zM2795.7 1863.8h3.2v3.2h-3.2zM2846.6 1835.4h3.2v3.2h-3.2zM2758.2 1920.2h3.2v3.2h-3.2zM2816.7 1863.1h3.2v3.2h-3.2zM2835.2 1852.3h3.2v3.2h-3.2zM2812.8 1879.5h3.2v3.2h-3.2zM2778.3 1898.7h3.2v3.2h-3.2zM2804.5 1863h3.2v3.2h-3.2zM2824.7 1884.4h3.2v3.2h-3.2zM2823.3 1853h3.2v3.2h-3.2zM2780 1905.1h3.2v3.2h-3.2zM2826.1 1853.5h3.2v3.2h-3.2zM2784.2 1901h3.2v3.2h-3.2zM2813.9 1876.5h3.2v3.2h-3.2zM2833.8 1854.8h3.2v3.2h-3.2zM2844.1 1845h3.2v3.2h-3.2zM2785.6 1895.1h3.2v3.2h-3.2zM2775.5 1895.9h3.2v3.2h-3.2zM2839.8 1855.6h3.2v3.2h-3.2zM2820.8 1852.1h3.2v3.2h-3.2zM2825.6 1860.9h3.2v3.2h-3.2zM2792.4 1916.6h3.2v3.2h-3.2zM2835.4 1840.2h3.2v3.2h-3.2zM2798.1 1902.4h3.2v3.2h-3.2zM2795.1 1886.6h3.2v3.2h-3.2zM2808.4 1883.3h3.2v3.2h-3.2zM2757.3 1921.6h3.2v3.2h-3.2zM2835.1 1845.4h3.2v3.2h-3.2zM2833.5 1849.5h3.2v3.2h-3.2zM2801.5 1892.4h3.2v3.2h-3.2zM2829.7 1864.9h3.2v3.2h-3.2zM2851.2 1836.2h3.2v3.2h-3.2zM2801.8 1862.6h3.2v3.2h-3.2zM2800.8 1868.3h3.2v3.2h-3.2zM2805.3 1865.2h3.2v3.2h-3.2zM2840.7 1851.6h3.2v3.2h-3.2zM2846.3 1849.7h3.2v3.2h-3.2zM2812.6 1861.8h3.2v3.2h-3.2zM2801.2 1879h3.2v3.2h-3.2zM2840.4 1838.3h3.2v3.2h-3.2zM2823.4 1855.8h3.2v3.2h-3.2zM2830.2 1857.3h3.2v3.2h-3.2zM2811.4 1890.6h3.2v3.2h-3.2zM2775.7 1897.2h3.2v3.2h-3.2zM2802.8 1900.3h3.2v3.2h-3.2zM2798 1875.1h3.2v3.2h-3.2zM2817.7 1869.8h3.2v3.2h-3.2zM2835 1853.1h3.2v3.2h-3.2zM2773 1908.4h3.2v3.2h-3.2zM2785.5 1893.2h3.2v3.2h-3.2zM2831.9 1851.1h3.2v3.2h-3.2zM2781.2 1889.8h3.2v3.2h-3.2zM2790.4 1877.4h3.2v3.2h-3.2zM2808.2 1870.7h3.2v3.2h-3.2zM2809 1874.6h3.2v3.2h-3.2zM2824.8 1858.4h3.2v3.2h-3.2zM2775.4 1916.4h3.2v3.2h-3.2zM2839.1 1836.6h3.2v3.2h-3.2zM2849.5 1812.1h3.2v3.2h-3.2zM2844.3 1839.9h3.2v3.2h-3.2zM2824.4 1854.7h3.2v3.2h-3.2zM2822.5 1842.3h3.2v3.2h-3.2zM2755.9 1903h3.2v3.2h-3.2zM2758.9 1907.5h3.2v3.2h-3.2zM2846.6 1843.3h3.2v3.2h-3.2zM2803.5 1887.4h3.2v3.2h-3.2zM2821.7 1859h3.2v3.2h-3.2zM2773.7 1909.5h3.2v3.2h-3.2zM2799.8 1878.7h3.2v3.2h-3.2zM2775.9 1889.8h3.2v3.2h-3.2zM2853.6 1837.4h3.2v3.2h-3.2zM2856.7 1846.5h3.2v3.2h-3.2zM2922.3 1766.4h3.2v3.2h-3.2zM2887.5 1794.3h3.2v3.2h-3.2zM2836.2 1865.6h3.2v3.2h-3.2zM2846.3 1827.4h3.2v3.2h-3.2zM2888 1804.9h3.2v3.2h-3.2zM2917.5 1798.1h3.2v3.2h-3.2zM2926.2 1790.6h3.2v3.2h-3.2zM2901.5 1781.5h3.2v3.2h-3.2zM2913.8 1802.8h3.2v3.2h-3.2zM2882.2 1832.8h3.2v3.2h-3.2zM2932.2 1783.6h3.2v3.2h-3.2zM2952.3 1773.4h3.2v3.2h-3.2zM2928.2 1785.4h3.2v3.2h-3.2zM2929.8 1776.2h3.2v3.2h-3.2zM2901.9 1803.7h3.2v3.2h-3.2zM2908 1792.9h3.2v3.2h-3.2zM2943.4 1766.2h3.2v3.2h-3.2zM2904.9 1791h3.2v3.2h-3.2zM2897.4 1811.9h3.2v3.2h-3.2zM2921.7 1808.7h3.2v3.2h-3.2zM2831.4 1857.5h3.2v3.2h-3.2zM2866.8 1822.8h3.2v3.2h-3.2zM2859.3 1827.4h3.2v3.2h-3.2zM2878.1 1831.9h3.2v3.2h-3.2zM2909.4 1803.1h3.2v3.2h-3.2zM2942.6 1767.1h3.2v3.2h-3.2zM2836.1 1851.2h3.2v3.2h-3.2zM2850 1847.3h3.2v3.2h-3.2zM2898.9 1794.2h3.2v3.2h-3.2zM2930.1 1782.3h3.2v3.2h-3.2zM2875.8 1811.1h3.2v3.2h-3.2zM2878.7 1800.5h3.2v3.2h-3.2zM2900.8 1780.6h3.2v3.2h-3.2zM2880.5 1820.2h3.2v3.2h-3.2zM2853.3 1831.7h3.2v3.2h-3.2zM2896.5 1821.4h3.2v3.2h-3.2zM2867.6 1846.1h3.2v3.2h-3.2zM2856.4 1847.9h3.2v3.2h-3.2zM2901.1 1804.6h3.2v3.2h-3.2zM2913.1 1804.9h3.2v3.2h-3.2zM2910 1806.7h3.2v3.2h-3.2zM2918.3 1782.5h3.2v3.2h-3.2zM2892.7 1802.5h3.2v3.2h-3.2zM2907.1 1791.3h3.2v3.2h-3.2zM2909.2 1783.1h3.2v3.2h-3.2zM2892.5 1785.3h3.2v3.2h-3.2zM2922.9 1798.7h3.2v3.2h-3.2zM2923.9 1774.1h3.2v3.2h-3.2zM2944.4 1776.7h3.2v3.2h-3.2zM2879 1800.3h3.2v3.2h-3.2zM2893.5 1802.5h3.2v3.2h-3.2zM2928.3 1770.2h3.2v3.2h-3.2zM2967.7 1765.2h3.2v3.2h-3.2zM2851.2 1842.6h3.2v3.2h-3.2zM2885.4 1811.6h3.2v3.2h-3.2zM2905.1 1795.5h3.2v3.2h-3.2zM2904.8 1788.6h3.2v3.2h-3.2zM2876.3 1812.6h3.2v3.2h-3.2zM2878.6 1834.6h3.2v3.2h-3.2zM2860.6 1830.2h3.2v3.2h-3.2zM2911.8 1796h3.2v3.2h-3.2zM2887.5 1791.1h3.2v3.2h-3.2zM2866.4 1837.6h3.2v3.2h-3.2zM2862.7 1822.8h3.2v3.2h-3.2zM2937 1756.9h3.2v3.2h-3.2zM2853.7 1842.7h3.2v3.2h-3.2zM2839.8 1845.6h3.2v3.2h-3.2zM2913.3 1767.7h3.2v3.2h-3.2zM2851.7 1828.2h3.2v3.2h-3.2zM2844.4 1826.9h3.2v3.2h-3.2zM2918 1777.5h3.2v3.2h-3.2zM2879.4 1824h3.2v3.2h-3.2zM2850.4 1850h3.2v3.2h-3.2zM2963.3 1769h3.2v3.2h-3.2zM2892.4 1815h3.2v3.2h-3.2zM2859 1805.6h3.2v3.2h-3.2zM2942 1754.3h3.2v3.2h-3.2zM2875.6 1806.9h3.2v3.2h-3.2zM2888.1 1800.4h3.2v3.2h-3.2zM2914 1777.4h3.2v3.2h-3.2zM2910.9 1780.8h3.2v3.2h-3.2zM2939.9 1762.7h3.2v3.2h-3.2zM2887.4 1803.2h3.2v3.2h-3.2zM2940.5 1770.6h3.2v3.2h-3.2zM2831.9 1848h3.2v3.2h-3.2zM2862.5 1833.5h3.2v3.2h-3.2zM2953.5 1756.1h3.2v3.2h-3.2zM2856 1849.3h3.2v3.2h-3.2zM2870.8 1809.6h3.2v3.2h-3.2zM2900.2 1808.8h3.2v3.2h-3.2zM2891.8 1819.7h3.2v3.2h-3.2zM2882.1 1805.5h3.2v3.2h-3.2zM2928.7 1786.3h3.2v3.2h-3.2zM2925.1 1786.3h3.2v3.2h-3.2zM2941.3 1789.3h3.2v3.2h-3.2zM2942 1766.4h3.2v3.2h-3.2zM2923.9 1790.6h3.2v3.2h-3.2zM2897 1796.4h3.2v3.2h-3.2zM2948.9 1750.1h3.2v3.2h-3.2zM2856.5 1826h3.2v3.2h-3.2zM2957.7 1753.2h3.2v3.2h-3.2zM2843.7 1851.5h3.2v3.2h-3.2zM2869.8 1828h3.2v3.2h-3.2zM2908.6 1794.6h3.2v3.2h-3.2zM2854.9 1832.7h3.2v3.2h-3.2zM2864.3 1839.3h3.2v3.2h-3.2zM2868.4 1820.6h3.2v3.2h-3.2zM2860 1841h3.2v3.2h-3.2zM2906.7 1806.7h3.2v3.2h-3.2zM2885 1838.1h3.2v3.2h-3.2zM2857.1 1823.5h3.2v3.2h-3.2zM2895.5 1799.9h3.2v3.2h-3.2zM2950.7 1767.3h3.2v3.2h-3.2zM2892.8 1799.4h3.2v3.2h-3.2zM2949.1 1760.2h3.2v3.2h-3.2zM2832.6 1846.6h3.2v3.2h-3.2zM2927.9 1785.6h3.2v3.2h-3.2zM2862.3 1827.1h3.2v3.2h-3.2zM2877 1832.8h3.2v3.2h-3.2zM2919.7 1788.5h3.2v3.2h-3.2zM2910 1784.6h3.2v3.2h-3.2zM2847.8 1865.8h3.2v3.2h-3.2zM2939.9 1766.6h3.2v3.2h-3.2zM2930.1 1774.2h3.2v3.2h-3.2zM2905 1807.8h3.2v3.2h-3.2zM2932.3 1751h3.2v3.2h-3.2zM2890.9 1811.3h3.2v3.2h-3.2zM2937 1758.4h3.2v3.2h-3.2zM2909.3 1783.7h3.2v3.2h-3.2zM2874.1 1815.8h3.2v3.2h-3.2zM2860.7 1816.8h3.2v3.2h-3.2zM2879.3 1818.9h3.2v3.2h-3.2zM2861.8 1805.5h3.2v3.2h-3.2zM2933.7 1770.9h3.2v3.2h-3.2zM2881.3 1819.9h3.2v3.2h-3.2zM2902.9 1794.8h3.2v3.2h-3.2zM2954.8 1760.3h3.2v3.2h-3.2zM2907.9 1781.1h3.2v3.2h-3.2zM2899 1789.2h3.2v3.2h-3.2zM2734.5 1945.7h3.2v3.2h-3.2zM2725.4 1961.1h3.2v3.2h-3.2zM2758.4 1905.6h3.2v3.2h-3.2zM2735 1948.1h3.2v3.2h-3.2zM2731.3 1953h3.2v3.2h-3.2zM2758 1911.6h3.2v3.2h-3.2zM2759.9 1910.7h3.2v3.2h-3.2zM2729.6 1949.7h3.2v3.2h-3.2zM2751.7 1932.7h3.2v3.2h-3.2zM2729.2 1939.2h3.2v3.2h-3.2zM2761.3 1920.4h3.2v3.2h-3.2zM2732.6 1944.6h3.2v3.2h-3.2zM2731.6 1959.7h3.2v3.2h-3.2zM2754.7 1920.7h3.2v3.2h-3.2zM2712.8 1962.1h3.2v3.2h-3.2zM2757 1918h3.2v3.2h-3.2zM2746.8 1945.5h3.2v3.2h-3.2zM2755.9 1914.9h3.2v3.2h-3.2zM2760.1 1906.2h3.2v3.2h-3.2zM2750 1924.3h3.2v3.2h-3.2zM2760.2 1899.3h3.2v3.2h-3.2zM2767.7 1892.7h3.2v3.2h-3.2zM2751.4 1921.2h3.2v3.2h-3.2zM2719.3 1956.7h3.2v3.2h-3.2zM2739.3 1948.4h3.2v3.2h-3.2zM2754.2 1922.2h3.2v3.2h-3.2zM2729.5 1964.5h3.2v3.2h-3.2zM2741.7 1930.9h3.2v3.2h-3.2zM2779.1 1904.4h3.2v3.2h-3.2zM2758.2 1916.5h3.2v3.2h-3.2zM2735.2 1951.6h3.2v3.2h-3.2zM2749.5 1931.9h3.2v3.2h-3.2zM2747.5 1928.9h3.2v3.2h-3.2zM2741.1 1957.6h3.2v3.2h-3.2zM2748.6 1911.7h3.2v3.2h-3.2zM2750 1909.6h3.2v3.2h-3.2zM2765.1 1910.8h3.2v3.2h-3.2zM2745.6 1929.9h3.2v3.2h-3.2zM2751 1920.4h3.2v3.2h-3.2zM2724.2 1952.9h3.2v3.2h-3.2zM2761.2 1920.4h3.2v3.2h-3.2zM2732 1961.2h3.2v3.2h-3.2zM2733.4 1930h3.2v3.2h-3.2zM2754.6 1931.5h3.2v3.2h-3.2zM2755.4 1934.7h3.2v3.2h-3.2zM2757.3 1903.5h3.2v3.2h-3.2zM2753.9 1933.4h3.2v3.2h-3.2zM2731.2 1924.9h3.2v3.2h-3.2zM2743.4 1942.2h3.2v3.2h-3.2zM2765 1914h3.2v3.2h-3.2zM2754.5 1906h3.2v3.2h-3.2zM2724 1958.6h3.2v3.2h-3.2zM2741.6 1931.6h3.2v3.2h-3.2zM2749.3 1920h3.2v3.2h-3.2zM2728.2 1943.9h3.2v3.2h-3.2zM2733.8 1974.1h3.2v3.2h-3.2zM2757.4 1926.8h3.2v3.2h-3.2zM2762.6 1899.5h3.2v3.2h-3.2zM2749.6 1930.2h3.2v3.2h-3.2zM2765.9 1905.9h3.2v3.2h-3.2zM2774 1900.7h3.2v3.2h-3.2zM2730.7 1945.3h3.2v3.2h-3.2zM2768.5 1911.4h3.2v3.2h-3.2zM2733.3 1944.6h3.2v3.2h-3.2zM2721.2 1970.6h3.2v3.2h-3.2zM2760.3 1941.3h3.2v3.2h-3.2zM2743.2 1929.3h3.2v3.2h-3.2zM2770.9 1905.6h3.2v3.2h-3.2zM2757.8 1902.4h3.2v3.2h-3.2zM2740.9 1973h3.2v3.2h-3.2zM2677.7 2012.3h3.2v3.2h-3.2zM2722.4 1963.9h3.2v3.2h-3.2zM2704.9 1960.7h3.2v3.2h-3.2zM2717.9 1969.4h3.2v3.2h-3.2zM2715.7 1979.8h3.2v3.2h-3.2zM2674.7 2010.7h3.2v3.2h-3.2zM2711.1 1971.6h3.2v3.2h-3.2zM2676.5 2017.6h3.2v3.2h-3.2zM2683 2010.5h3.2v3.2h-3.2zM2703.6 1977.7h3.2v3.2h-3.2zM2719.2 1966.9h3.2v3.2h-3.2zM2722.1 1969.5h3.2v3.2h-3.2zM2686 1995h3.2v3.2h-3.2zM2667.3 2022.4h3.2v3.2h-3.2zM2684.5 2008.6h3.2v3.2h-3.2zM2685.6 2008.8h3.2v3.2h-3.2zM2680.9 2005.2h3.2v3.2h-3.2zM2722.1 1964h3.2v3.2h-3.2zM2695.5 1999.1h3.2v3.2h-3.2zM2717.8 1961.7h3.2v3.2h-3.2zM2696.9 1991.3h3.2v3.2h-3.2zM2708.4 1987.8h3.2v3.2h-3.2zM2703.9 1998.2h3.2v3.2h-3.2zM2702.9 1989.5h3.2v3.2h-3.2zM2718.4 1962.9h3.2v3.2h-3.2zM2671.7 2002.1h3.2v3.2h-3.2zM2715.3 1976.1h3.2v3.2h-3.2zM2698.7 1980.9h3.2v3.2h-3.2zM2706.6 1987.5h3.2v3.2h-3.2zM2697.5 1982.1h3.2v3.2h-3.2zM2680.2 2009.1h3.2v3.2h-3.2zM2690.7 1986.7h3.2v3.2h-3.2zM2685 2007.5h3.2v3.2h-3.2zM2713.1 1966.9h3.2v3.2h-3.2zM2714.6 1966.6h3.2v3.2h-3.2zM2947.4 1744.5h3.2v3.2h-3.2zM2947 1729.3h3.2v3.2h-3.2zM2961.9 1720.6h3.2v3.2h-3.2zM2936.8 1749.4h3.2v3.2h-3.2zM2960.5 1738.6h3.2v3.2h-3.2zM2927.7 1756.8h3.2v3.2h-3.2zM2940.4 1752.9h3.2v3.2h-3.2zM2949.2 1764h3.2v3.2h-3.2zM2925.2 1752.2h3.2v3.2h-3.2zM2933.3 1742.8h3.2v3.2h-3.2zM2931.4 1751.8h3.2v3.2h-3.2zM2947.2 1738.7h3.2v3.2h-3.2zM2966 1721.1h3.2v3.2h-3.2zM2938.8 1739.4h3.2v3.2h-3.2zM2923.9 1745.5h3.2v3.2h-3.2zM2933.5 1720.4h3.2v3.2h-3.2zM2958.7 1726.3h3.2v3.2h-3.2zM2959.1 1723.2h3.2v3.2h-3.2zM2960.8 1733.3h3.2v3.2h-3.2zM2954.7 1709.9h3.2v3.2h-3.2zM2951.1 1703.4h3.2v3.2h-3.2zM2935.9 1747.4h3.2v3.2h-3.2zM2952.2 1726.8h3.2v3.2h-3.2zM2932.7 1750.8h3.2v3.2h-3.2zM2956.6 1739.1h3.2v3.2h-3.2zM2962.4 1704.5h3.2v3.2h-3.2zM2931.2 1769.4h3.2v3.2h-3.2zM2944.8 1748.1h3.2v3.2h-3.2zM2927.9 1736h3.2v3.2h-3.2zM2954.8 1713.4h3.2v3.2h-3.2zM2942.3 1759.6h3.2v3.2h-3.2zM2954.8 1740h3.2v3.2h-3.2zM2928.8 1755.6h3.2v3.2h-3.2zM2938.4 1766.1h3.2v3.2h-3.2zM2955.1 1719.5h3.2v3.2h-3.2zM2944.7 1738.9h3.2v3.2h-3.2zM2934.8 1757.6h3.2v3.2h-3.2zM2934.1 1741.1h3.2v3.2h-3.2zM2934.3 1764.3h3.2v3.2h-3.2zM2953.9 1726.5h3.2v3.2h-3.2zM2936 1738.2h3.2v3.2h-3.2zM2934.6 1728.4h3.2v3.2h-3.2zM2937.2 1743.2h3.2v3.2h-3.2zM2939.9 1751.8h3.2v3.2h-3.2zM2941.2 1734.5h3.2v3.2h-3.2zM2956 1636.6h3.2v3.2h-3.2zM2958.6 1639.5h3.2v3.2h-3.2zM2961.9 1669.4h3.2v3.2h-3.2zM2944.9 1693.6h3.2v3.2h-3.2zM2948 1678.1h3.2v3.2h-3.2zM2946.1 1674.9h3.2v3.2h-3.2zM2949.4 1682.5h3.2v3.2h-3.2zM2953.4 1667.7h3.2v3.2h-3.2zM2949.8 1687.4h3.2v3.2h-3.2zM2952.7 1672.3h3.2v3.2h-3.2zM2947 1667h3.2v3.2h-3.2zM2939.5 1699.7h3.2v3.2h-3.2zM2942.2 1700.2h3.2v3.2h-3.2zM2946 1679.8h3.2v3.2h-3.2zM2947.6 1684.3h3.2v3.2h-3.2zM2952.6 1690.4h3.2v3.2h-3.2zM2945.2 1693.7h3.2v3.2h-3.2zM2941.5 1689.1h3.2v3.2h-3.2zM2938.6 1691.5h3.2v3.2h-3.2zM2950.3 1666.3h3.2v3.2h-3.2zM2945.9 1677.8h3.2v3.2h-3.2zM2958.9 1660.5h3.2v3.2h-3.2zM2722.4 2063.7h3.2v3.2h-3.2zM2690.9 2056.4h3.2v3.2h-3.2zM2726.3 2061.1h3.2v3.2h-3.2zM2672 2066.1h3.2v3.2h-3.2zM2653.5 2062.2h3.2v3.2h-3.2zM2667.6 2061h3.2v3.2h-3.2zM2691.1 2069.4h3.2v3.2h-3.2zM2718.6 2065.5h3.2v3.2h-3.2zM2684.5 2066h3.2v3.2h-3.2zM2704.4 2074h3.2v3.2h-3.2zM2724.9 2068.7h3.2v3.2h-3.2zM2694.4 2062.7h3.2v3.2h-3.2zM2681.4 2050.4h3.2v3.2h-3.2zM2694.6 2057.4h3.2v3.2h-3.2zM2682.4 2054.1h3.2v3.2h-3.2zM2668 2059.8h3.2v3.2h-3.2zM2664.2 2064.1h3.2v3.2h-3.2zM2689.4 2070.6h3.2v3.2h-3.2zM2675.1 2071.9h3.2v3.2h-3.2zM2661.4 2052h3.2v3.2h-3.2zM2706.6 2056.9h3.2v3.2h-3.2zM2674.2 2067.7h3.2v3.2h-3.2zM2681.2 2075.7h3.2v3.2h-3.2zM2710.1 2067.3h3.2v3.2h-3.2zM2700 2073.1h3.2v3.2h-3.2zM2723.4 2017.6h3.2v3.2h-3.2zM2711.8 2022.9h3.2v3.2h-3.2zM2662.6 2064.3h3.2v3.2h-3.2zM2734.1 2007.3h3.2v3.2h-3.2zM2693.5 2045.1h3.2v3.2h-3.2zM2726 2019.7h3.2v3.2h-3.2zM2715.1 2025.5h3.2v3.2h-3.2zM2690.2 2073.1h3.2v3.2h-3.2zM2685.1 2046.8h3.2v3.2h-3.2zM2696.6 2032.6h3.2v3.2h-3.2zM2700.1 2059.4h3.2v3.2h-3.2zM2683.7 2034.5h3.2v3.2h-3.2zM2724.4 2026.7h3.2v3.2h-3.2zM2696.5 2033h3.2v3.2h-3.2zM2689.3 2043.7h3.2v3.2h-3.2zM2723 2008.4h3.2v3.2h-3.2zM2685.3 2047h3.2v3.2h-3.2zM2714.3 2022.2h3.2v3.2h-3.2zM2694.6 2032.3h3.2v3.2h-3.2zM2697.1 2036.8h3.2v3.2h-3.2zM2689.7 2055.9h3.2v3.2h-3.2zM2688.5 2040.2h3.2v3.2h-3.2zM2731.4 1998.8h3.2v3.2h-3.2zM2688.5 2026.8h3.2v3.2h-3.2zM2709.4 2034.5h3.2v3.2h-3.2z" fill="#303030"/><circle cx="2857.9" cy="1602.4" r="5" fill="#27ab1e"/><circle cx="3009.2" cy="1574.8" r="5" fill="#d42024"/><circle cx="3077.8" cy="1565.5" r="5" fill="#17ae29"/><circle cx="3133.3" cy="1583" r="5" fill="#02d084"/><circle cx="3171.2" cy="1581.7" r="5" fill="#2c94fb"/><circle cx="3170.4" cy="1654.7" r="5" fill="#693efc"/><circle cx="3069.8" cy="1669.9" r="5" fill="#1fa1f7"/><circle cx="2765" cy="1702.4" r="5" fill="#4681fc"/><circle cx="2780" cy="1700.9" r="5" fill="#338efc"/><circle cx="2916.7" cy="1684.1" r="5" fill="#16b5e1"/><circle cx="2922.8" cy="1686.9" r="5" fill="#16b5e1"/><circle cx="2908.9" cy="1703.4" r="5" fill="#4d78fc"/><circle cx="2953.3" cy="1708.1" r="5" fill="#338efc"/><circle cx="2951.2" cy="1715.8" r="5" fill="#2c94fb"/><circle cx="2949.9" cy="1720.2" r="5" fill="#2c94fb"/><circle cx="2972.6" cy="1709.4" r="5" fill="#6745fc"/><circle cx="2973.1" cy="1714" r="5" fill="#693efc"/><circle cx="2874.9" cy="1735.2" r="5" fill="#6a39fc"/><circle cx="2875.9" cy="1744.2" r="5" fill="#5f5dfc"/><circle cx="2880.6" cy="1748.1" r="5" fill="#8436fc"/><circle cx="3022.1" cy="1751.9" r="5" fill="#6355fc"/><circle cx="2949.4" cy="1761.7" r="5" fill="#6a39fc"/><circle cx="2966.9" cy="1766.1" r="5" fill="#2c94fb"/><circle cx="2859.7" cy="1779.8" r="5" fill="#8436fc"/><circle cx="2927" cy="1783.4" r="5" fill="#1fa1f7"/><circle cx="2968.7" cy="1788.5" r="5" fill="#4681fc"/><circle cx="2810.2" cy="1788" r="5" fill="#7b34fc"/><circle cx="2912.8" cy="1795" r="5" fill="#693efc"/><circle cx="2813" cy="1811.7" r="5" fill="#7434fc"/><circle cx="2819.2" cy="1819" r="5" fill="#259bf9"/><circle cx="2881.1" cy="1813.8" r="5" fill="#6c34fc"/><circle cx="2870.8" cy="1829.3" r="5" fill="#5a65fc"/><circle cx="2904.3" cy="1835.7" r="5" fill="#4681fc"/><circle cx="2768.9" cy="1843.5" r="5" fill="#5f5dfc"/><circle cx="2768.9" cy="1844.6" r="5" fill="#5f5dfc"/><circle cx="2798" cy="1854.2" r="5" fill="#8436fc"/><circle cx="2826.9" cy="1854.2" r="5" fill="#6745fc"/><circle cx="2857.9" cy="1851.6" r="5" fill="#4681fc"/><circle cx="2854" cy="1858.6" r="5" fill="#5a65fc"/><circle cx="2839.8" cy="1864.5" r="5" fill="#4681fc"/><circle cx="2801.9" cy="1867.1" r="5" fill="#693efc"/><circle cx="2757.8" cy="1873.5" r="5" fill="#7b34fc"/><circle cx="2760.4" cy="1880" r="5" fill="#7b34fc"/><circle cx="2763.7" cy="1890.3" r="5" fill="#7434fc"/><circle cx="2807.1" cy="1893.6" r="5" fill="#4681fc"/><circle cx="2756.8" cy="1918.6" r="5" fill="#4681fc"/><circle cx="2771" cy="1915.3" r="5" fill="#338efc"/><circle cx="2780.5" cy="1916.1" r="5" fill="#3d88fc"/><circle cx="2713.5" cy="1951.7" r="5" fill="#259bf9"/><circle cx="2725.8" cy="1949.6" r="5" fill="#546efc"/><circle cx="2725.6" cy="1956" r="5" fill="#1fa1f7"/><circle cx="2725.6" cy="1962.5" r="5" fill="#19aeea"/><circle cx="2727.6" cy="1968.9" r="5" fill="#16b5e1"/><circle cx="2711.4" cy="1976.2" r="5" fill="#19aeea"/><circle cx="2699.3" cy="1979.8" r="5" fill="#1ca8f0"/><circle cx="2720.7" cy="1984.9" r="5" fill="#10c4cc"/><circle cx="2686.9" cy="1989.6" r="5" fill="#1fa1f7"/><circle cx="2677.4" cy="2003.7" r="5" fill="#19aeea"/><circle cx="2676.1" cy="2010.2" r="5" fill="#19aeea"/><circle cx="2664.5" cy="2025.7" r="5" fill="#10c4cc"/><circle cx="2670.9" cy="2024.4" r="5" fill="#10c4cc"/><circle cx="2663.2" cy="2033.4" r="5" fill="#0cc8c1"/><circle cx="2682" cy="2030.3" r="5" fill="#05cfa0"/><circle cx="2650.3" cy="2034.7" r="5" fill="#0cc8c1"/><circle cx="2651.6" cy="2042.4" r="5" fill="#09cbb7"/><circle cx="2654.2" cy="2048.9" r="5" fill="#07cdac"/><circle cx="2701.1" cy="2038" r="5" fill="#01c457"/><circle cx="2663.2" cy="2055.3" r="5" fill="#03d094"/><circle cx="2669.6" cy="2052.7" r="5" fill="#03d094"/><circle cx="2676.1" cy="2052.7" r="5" fill="#03d094"/><circle cx="2664.5" cy="2059.2" r="5" fill="#02d084"/><circle cx="2677.4" cy="2059.2" r="5" fill="#00cb6a"/><circle cx="2685.1" cy="2056.6" r="5" fill="#01c457"/><circle cx="2689" cy="2059.2" r="5" fill="#04bc48"/><circle cx="2679.9" cy="2063.1" r="5" fill="#01c457"/><circle cx="2692.8" cy="2066.4" r="5" fill="#0cb439"/><circle cx="2703.1" cy="2069" r="5" fill="#10b031"/><circle cx="2710.9" cy="2070.8" r="5" fill="#10b031"/><circle cx="2718.6" cy="2069.5" r="5" fill="#10b031"/><circle cx="2726.4" cy="2069.5" r="5" fill="#17ae29"/><circle cx="2732.8" cy="2064.3" r="5" fill="#17ae29"/><circle cx="2730.2" cy="2073.4" r="5" fill="#1fac21"/><circle cx="2739.2" cy="2066.9" r="5" fill="#27ab1e"/><circle cx="2745.7" cy="2068.2" r="5" fill="#27ab1e"/><circle cx="2752.1" cy="2066.9" r="5" fill="#27ab1e"/><circle cx="2741.8" cy="2074.7" r="5" fill="#30a91b"/><circle cx="2749.6" cy="2075.2" r="5" fill="#38a818"/><circle cx="2766.3" cy="2070.8" r="5" fill="#38a818"/><circle cx="2767.6" cy="2075.9" r="5" fill="#38a818"/><circle cx="2790" cy="2063.8" r="5" fill="#1fac21"/><circle cx="2780.5" cy="2075.9" r="5" fill="#38a818"/><circle cx="2785.7" cy="2074.7" r="5" fill="#38a818"/><circle cx="2792.1" cy="2075.9" r="5" fill="#41aa13"/><circle cx="2798.6" cy="2078.5" r="5" fill="#4bad0f"/><circle cx="2803.7" cy="2082.4" r="5" fill="#54af0a"/><circle cx="2808.9" cy="2086.3" r="5" fill="#5fb206"/><circle cx="2810.2" cy="2090.1" r="5" fill="#6ab602"/><circle cx="2819.2" cy="2056.1" r="5" fill="#17ae29"/><circle cx="2823.1" cy="2059.2" r="5" fill="#17ae29"/><circle cx="2825.6" cy="2063.8" r="5" fill="#17ae29"/><circle cx="2818.7" cy="2078.5" r="5" fill="#1fac21"/><circle cx="2794.7" cy="2089.6" r="5" fill="#78ba00"/><circle cx="2792.9" cy="2094" r="5" fill="#87be00"/><circle cx="2803.7" cy="2097.9" r="5" fill="#ffcc00"/><circle cx="2799.8" cy="2101" r="5" fill="#ffca00"/><circle cx="2796.5" cy="2105.6" r="5" fill="#ffc000"/><circle cx="2792.1" cy="2110.2" r="5" fill="#fc9a00"/><circle cx="2789.5" cy="2113.3" r="5" fill="#f36e04"/><circle cx="2786.2" cy="2117.2" r="5" fill="#ee5d04"/><circle cx="2784.4" cy="2110.8" r="5" fill="#ffc000"/><circle cx="2782.6" cy="2121.1" r="5" fill="#e23f06"/><circle cx="2780.5" cy="2123.7" r="5" fill="#dd3108"/><circle cx="2777.9" cy="2125.7" r="5" fill="#d92b0d"/><circle cx="2775.3" cy="2128.3" r="5" fill="#d62513"/><circle cx="2772.8" cy="2130.9" r="5" fill="#d4201a"/><circle cx="2767.6" cy="2141.2" r="5" fill="#da4051"/></g><rect x="2623" y="1538.6" width="567.2" height="614.8" fill="none" stroke="#000" stroke-width="2.6"/><path d="M2623 2138.6H2609M2623 2018.7H2609M2623 1898.8H2609M2623 1778.9H2609M2623 1659H2609M2623 1538.6H2609M2623 2078.7H2614M2623 1958.8H2614M2623 1838.8H2614M2623 1718.9H2614M2623 1599H2614M2841.6 2153.4V2166.4M3069.3 2153.4V2166.4M2727.8 2153.4V2161.4M2955.4 2153.4V2161.4M3183.1 2153.4V2161.4" stroke="#000" stroke-width="1.6" fill="none"/><text x="2602.6" y="2145" font-size="21.8" text-anchor="end">0</text><text x="2602.6" y="2025.1" font-size="21.8" text-anchor="end">5</text><text x="2602.6" y="1905.2" font-size="21.8" text-anchor="end">10</text><text x="2602.6" y="1785.3" font-size="21.8" text-anchor="end">15</text><text x="2602.6" y="1665.4" font-size="21.8" text-anchor="end">20</text><text x="2602.6" y="1545" font-size="21.8" text-anchor="end">25</text><text x="2841.6" y="2191.2" font-size="21.8" text-anchor="middle">35</text><text x="3069.3" y="2191.2" font-size="21.8" text-anchor="middle">36</text><text x="2550.5" y="1845" font-size="25.7" text-anchor="middle" transform="rotate(-90 2550.5 1845)" textLength="382" lengthAdjust="spacingAndGlyphs">Potential Temperature θ [degC]</text><text x="2905.5" y="2239.4" font-size="25.7" text-anchor="middle" textLength="456" lengthAdjust="spacingAndGlyphs">CTDSAL_D_CONC_SENSOR [pss-78]</text><text x="3183.5" y="1503" font-size="28" text-anchor="end" textLength="437.5" lengthAdjust="spacingAndGlyphs">Tm_D_CONC_BOTTLE [pmol/kg]</text><path d="M3222 1539.3L3243 1529.5L3264 1539.3V2153.4L3243 2162.8L3222 2153.4Z" fill="url(#cbt)" filter="url(#palnb)"/><path d="M3222 1539.3L3243 1529.5L3264 1539.3V2153.4L3243 2162.8L3222 2153.4Z" fill="none" stroke="#000" stroke-width="1.1"/><text x="3272" y="2097.5" font-size="21.6">0.4</text><text x="3272" y="1972.5" font-size="21.6">0.6</text><text x="3272" y="1847.5" font-size="21.6">0.8</text><text x="3272" y="1722.5" font-size="21.6">1</text><text x="3272" y="1597.5" font-size="21.6">1.2</text><path d="M3222 2091.5h9.5M3264 2091.5h-9.5M3222 1966.5h9.5M3264 1966.5h-9.5M3222 1841.5h9.5M3264 1841.5h-9.5M3222 1716.5h9.5M3264 1716.5h-9.5M3222 1591.5h9.5M3264 1591.5h-9.5" stroke="#000" stroke-width="1.6" fill="none"/><text x="3208.5" y="2150.5" font-size="12.4" transform="rotate(-90 3208.5 2150.5)" textLength="100.5" lengthAdjust="spacingAndGlyphs">Ocean Data View</text><path d="M9 32H55M32 9V55M3414.5 2302H3460.5M3437.5 2279V2325" stroke="#ececec" stroke-width="1.2" fill="none"/><text x="60" y="2315" font-size="23.6" fill="#808080" textLength="802.5" lengthAdjust="spacingAndGlyphs">© 2021 Reiner Schlitzer, Alfred Wegener Institute, Bremerhaven, Germany</text></svg></body></html>
